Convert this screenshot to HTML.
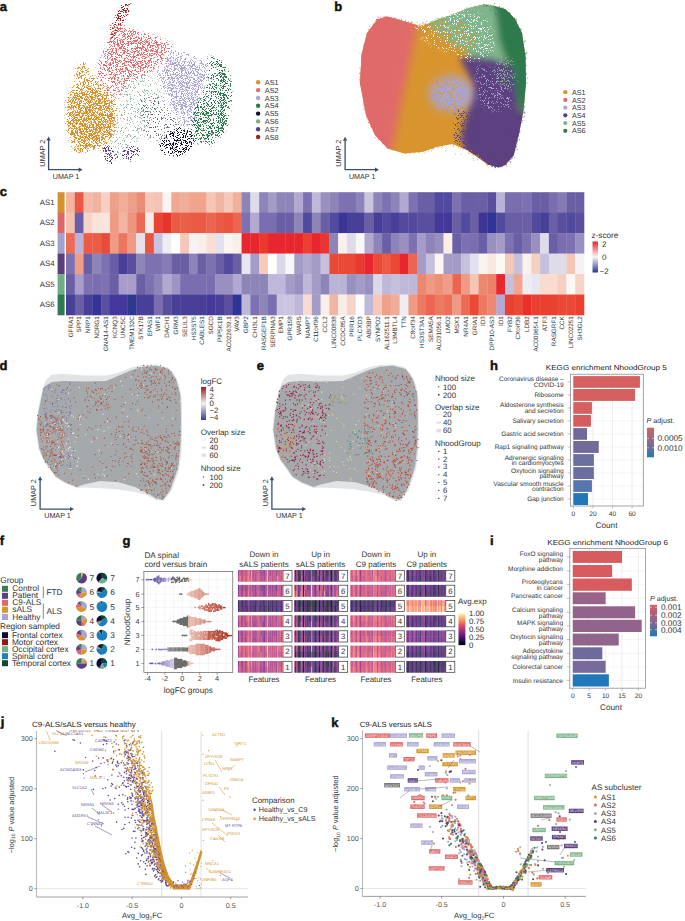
<!DOCTYPE html>
<html><head><meta charset="utf-8"><style>
html,body{margin:0;padding:0;background:#fff;}
body{width:685px;height:921px;overflow:hidden;}
svg{display:block;font-family:"Liberation Sans", sans-serif;text-rendering:geometricPrecision;}
</style></head><body>
<svg width="685" height="921" viewBox="0 0 685 921"><rect x="66.00" y="192.20" width="9.08" height="20.77" fill="#f2b5a2"/><rect x="74.78" y="192.20" width="9.08" height="20.77" fill="#e85a45"/><rect x="83.56" y="192.20" width="9.08" height="20.77" fill="#f3bba8"/><rect x="92.34" y="192.20" width="9.08" height="20.77" fill="#f2b2a0"/><rect x="101.12" y="192.20" width="9.08" height="20.77" fill="#f5d0c3"/><rect x="109.90" y="192.20" width="9.08" height="20.77" fill="#eea08a"/><rect x="118.68" y="192.20" width="9.08" height="20.77" fill="#f0ad98"/><rect x="127.46" y="192.20" width="9.08" height="20.77" fill="#ee9f8a"/><rect x="136.24" y="192.20" width="9.08" height="20.77" fill="#eb8d75"/><rect x="145.02" y="192.20" width="9.08" height="20.77" fill="#f5c7b8"/><rect x="153.80" y="192.20" width="9.08" height="20.77" fill="#f4c3b5"/><rect x="162.58" y="192.20" width="9.08" height="20.77" fill="#faf5f2"/><rect x="171.36" y="192.20" width="9.08" height="20.77" fill="#f0a890"/><rect x="180.14" y="192.20" width="9.08" height="20.77" fill="#f0ad98"/><rect x="188.92" y="192.20" width="9.08" height="20.77" fill="#f0a58e"/><rect x="197.69" y="192.20" width="9.08" height="20.77" fill="#f0a48c"/><rect x="206.47" y="192.20" width="9.08" height="20.77" fill="#f5c5b5"/><rect x="215.25" y="192.20" width="9.08" height="20.77" fill="#f2b5a2"/><rect x="224.03" y="192.20" width="9.08" height="20.77" fill="#f5c8b8"/><rect x="232.81" y="192.20" width="9.08" height="20.77" fill="#f0b09b"/><rect x="241.59" y="192.20" width="9.08" height="20.77" fill="#8d84b8"/><rect x="250.37" y="192.20" width="9.08" height="20.77" fill="#dedbeb"/><rect x="259.15" y="192.20" width="9.08" height="20.77" fill="#8d84b8"/><rect x="267.93" y="192.20" width="9.08" height="20.77" fill="#a49cc6"/><rect x="276.71" y="192.20" width="9.08" height="20.77" fill="#8d84b8"/><rect x="285.49" y="192.20" width="9.08" height="20.77" fill="#8d84b8"/><rect x="294.27" y="192.20" width="9.08" height="20.77" fill="#b2a8d0"/><rect x="303.05" y="192.20" width="9.08" height="20.77" fill="#7e71b2"/><rect x="311.83" y="192.20" width="9.08" height="20.77" fill="#c0b8d8"/><rect x="320.61" y="192.20" width="9.08" height="20.77" fill="#9a90c0"/><rect x="329.39" y="192.20" width="9.08" height="20.77" fill="#8d84b8"/><rect x="338.17" y="192.20" width="9.08" height="20.77" fill="#7e71b2"/><rect x="346.95" y="192.20" width="9.08" height="20.77" fill="#7e71b2"/><rect x="355.73" y="192.20" width="9.08" height="20.77" fill="#8d84b8"/><rect x="364.51" y="192.20" width="9.08" height="20.77" fill="#cac4e0"/><rect x="373.29" y="192.20" width="9.08" height="20.77" fill="#8d84b8"/><rect x="382.07" y="192.20" width="9.08" height="20.77" fill="#7e71b2"/><rect x="390.85" y="192.20" width="9.08" height="20.77" fill="#8d84b8"/><rect x="399.63" y="192.20" width="9.08" height="20.77" fill="#b2a8d0"/><rect x="408.41" y="192.20" width="9.08" height="20.77" fill="#7e71b2"/><rect x="417.19" y="192.20" width="9.08" height="20.77" fill="#6a5fa5"/><rect x="425.97" y="192.20" width="9.08" height="20.77" fill="#6a5fa5"/><rect x="434.75" y="192.20" width="9.08" height="20.77" fill="#524a9e"/><rect x="443.53" y="192.20" width="9.08" height="20.77" fill="#524a9e"/><rect x="452.31" y="192.20" width="9.08" height="20.77" fill="#7e71b2"/><rect x="461.08" y="192.20" width="9.08" height="20.77" fill="#6a5fa5"/><rect x="469.86" y="192.20" width="9.08" height="20.77" fill="#6a5fa5"/><rect x="478.64" y="192.20" width="9.08" height="20.77" fill="#6a5fa5"/><rect x="487.42" y="192.20" width="9.08" height="20.77" fill="#5a4f9e"/><rect x="496.20" y="192.20" width="9.08" height="20.77" fill="#b9b3d6"/><rect x="504.98" y="192.20" width="9.08" height="20.77" fill="#7a6db0"/><rect x="513.76" y="192.20" width="9.08" height="20.77" fill="#7a6db0"/><rect x="522.54" y="192.20" width="9.08" height="20.77" fill="#7e71b2"/><rect x="531.32" y="192.20" width="9.08" height="20.77" fill="#6a5fa5"/><rect x="540.10" y="192.20" width="9.08" height="20.77" fill="#6a5fa5"/><rect x="548.88" y="192.20" width="9.08" height="20.77" fill="#7a6db0"/><rect x="557.66" y="192.20" width="9.08" height="20.77" fill="#857ab5"/><rect x="566.44" y="192.20" width="9.08" height="20.77" fill="#6a5fa5"/><rect x="575.22" y="192.20" width="9.08" height="20.77" fill="#6a5fa5"/><rect x="57.60" y="192.20" width="7.00" height="20.77" fill="#d4922f"/><text x="54.5" y="204.7" font-size="7.8" text-anchor="end" fill="#333">AS1</text><rect x="66.00" y="212.67" width="9.08" height="20.77" fill="#f4c1b0"/><rect x="74.78" y="212.67" width="9.08" height="20.77" fill="#6a5fa5"/><rect x="83.56" y="212.67" width="9.08" height="20.77" fill="#f6d5c8"/><rect x="92.34" y="212.67" width="9.08" height="20.77" fill="#f8e3db"/><rect x="101.12" y="212.67" width="9.08" height="20.77" fill="#f8e6de"/><rect x="109.90" y="212.67" width="9.08" height="20.77" fill="#ee9a85"/><rect x="118.68" y="212.67" width="9.08" height="20.77" fill="#f2b5a2"/><rect x="127.46" y="212.67" width="9.08" height="20.77" fill="#ee9580"/><rect x="136.24" y="212.67" width="9.08" height="20.77" fill="#ea6b55"/><rect x="145.02" y="212.67" width="9.08" height="20.77" fill="#f9ece6"/><rect x="153.80" y="212.67" width="9.08" height="20.77" fill="#e94332"/><rect x="162.58" y="212.67" width="9.08" height="20.77" fill="#e8352b"/><rect x="171.36" y="212.67" width="9.08" height="20.77" fill="#ea5a45"/><rect x="180.14" y="212.67" width="9.08" height="20.77" fill="#ea5f48"/><rect x="188.92" y="212.67" width="9.08" height="20.77" fill="#ea5a45"/><rect x="197.69" y="212.67" width="9.08" height="20.77" fill="#ea5a45"/><rect x="206.47" y="212.67" width="9.08" height="20.77" fill="#eb6550"/><rect x="215.25" y="212.67" width="9.08" height="20.77" fill="#ea5a45"/><rect x="224.03" y="212.67" width="9.08" height="20.77" fill="#ea5540"/><rect x="232.81" y="212.67" width="9.08" height="20.77" fill="#eb6550"/><rect x="241.59" y="212.67" width="9.08" height="20.77" fill="#7e71b2"/><rect x="250.37" y="212.67" width="9.08" height="20.77" fill="#b2a8d0"/><rect x="259.15" y="212.67" width="9.08" height="20.77" fill="#7a6db0"/><rect x="267.93" y="212.67" width="9.08" height="20.77" fill="#7a6db0"/><rect x="276.71" y="212.67" width="9.08" height="20.77" fill="#6a5fa5"/><rect x="285.49" y="212.67" width="9.08" height="20.77" fill="#6a5fa5"/><rect x="294.27" y="212.67" width="9.08" height="20.77" fill="#8d84b8"/><rect x="303.05" y="212.67" width="9.08" height="20.77" fill="#524a9e"/><rect x="311.83" y="212.67" width="9.08" height="20.77" fill="#8d84b8"/><rect x="320.61" y="212.67" width="9.08" height="20.77" fill="#6a5fa5"/><rect x="329.39" y="212.67" width="9.08" height="20.77" fill="#524a9e"/><rect x="338.17" y="212.67" width="9.08" height="20.77" fill="#3c3596"/><rect x="346.95" y="212.67" width="9.08" height="20.77" fill="#473f98"/><rect x="355.73" y="212.67" width="9.08" height="20.77" fill="#473f98"/><rect x="364.51" y="212.67" width="9.08" height="20.77" fill="#6a5fa5"/><rect x="373.29" y="212.67" width="9.08" height="20.77" fill="#473f98"/><rect x="382.07" y="212.67" width="9.08" height="20.77" fill="#524a9e"/><rect x="390.85" y="212.67" width="9.08" height="20.77" fill="#473f98"/><rect x="399.63" y="212.67" width="9.08" height="20.77" fill="#524a9e"/><rect x="408.41" y="212.67" width="9.08" height="20.77" fill="#524a9e"/><rect x="417.19" y="212.67" width="9.08" height="20.77" fill="#5a4f9e"/><rect x="425.97" y="212.67" width="9.08" height="20.77" fill="#5a4f9e"/><rect x="434.75" y="212.67" width="9.08" height="20.77" fill="#42399a"/><rect x="443.53" y="212.67" width="9.08" height="20.77" fill="#42399a"/><rect x="452.31" y="212.67" width="9.08" height="20.77" fill="#6a5fa5"/><rect x="461.08" y="212.67" width="9.08" height="20.77" fill="#524a9e"/><rect x="469.86" y="212.67" width="9.08" height="20.77" fill="#6a5fa5"/><rect x="478.64" y="212.67" width="9.08" height="20.77" fill="#3c3596"/><rect x="487.42" y="212.67" width="9.08" height="20.77" fill="#2d3596"/><rect x="496.20" y="212.67" width="9.08" height="20.77" fill="#524a9e"/><rect x="504.98" y="212.67" width="9.08" height="20.77" fill="#6a5fa5"/><rect x="513.76" y="212.67" width="9.08" height="20.77" fill="#6a5fa5"/><rect x="522.54" y="212.67" width="9.08" height="20.77" fill="#6a5fa5"/><rect x="531.32" y="212.67" width="9.08" height="20.77" fill="#524a9e"/><rect x="540.10" y="212.67" width="9.08" height="20.77" fill="#473f98"/><rect x="548.88" y="212.67" width="9.08" height="20.77" fill="#6a5fa5"/><rect x="557.66" y="212.67" width="9.08" height="20.77" fill="#5a4f9e"/><rect x="566.44" y="212.67" width="9.08" height="20.77" fill="#524a9e"/><rect x="575.22" y="212.67" width="9.08" height="20.77" fill="#5a4f9e"/><rect x="57.60" y="212.67" width="7.00" height="20.77" fill="#e0666a"/><text x="54.5" y="225.2" font-size="7.8" text-anchor="end" fill="#333">AS2</text><rect x="66.00" y="233.13" width="9.08" height="20.77" fill="#ec6b55"/><rect x="74.78" y="233.13" width="9.08" height="20.77" fill="#bcb3d3"/><rect x="83.56" y="233.13" width="9.08" height="20.77" fill="#eb5b45"/><rect x="92.34" y="233.13" width="9.08" height="20.77" fill="#eb5b45"/><rect x="101.12" y="233.13" width="9.08" height="20.77" fill="#ea4b38"/><rect x="109.90" y="233.13" width="9.08" height="20.77" fill="#ee9a85"/><rect x="118.68" y="233.13" width="9.08" height="20.77" fill="#ec7560"/><rect x="127.46" y="233.13" width="9.08" height="20.77" fill="#ee9a85"/><rect x="136.24" y="233.13" width="9.08" height="20.77" fill="#e5e2ee"/><rect x="145.02" y="233.13" width="9.08" height="20.77" fill="#ea5540"/><rect x="153.80" y="233.13" width="9.08" height="20.77" fill="#c8c3df"/><rect x="162.58" y="233.13" width="9.08" height="20.77" fill="#eeedf3"/><rect x="171.36" y="233.13" width="9.08" height="20.77" fill="#ffffff"/><rect x="180.14" y="233.13" width="9.08" height="20.77" fill="#f5c7b8"/><rect x="188.92" y="233.13" width="9.08" height="20.77" fill="#f4f2f5"/><rect x="197.69" y="233.13" width="9.08" height="20.77" fill="#f8eeea"/><rect x="206.47" y="233.13" width="9.08" height="20.77" fill="#f8ded4"/><rect x="215.25" y="233.13" width="9.08" height="20.77" fill="#e3e1ef"/><rect x="224.03" y="233.13" width="9.08" height="20.77" fill="#fbf5f2"/><rect x="232.81" y="233.13" width="9.08" height="20.77" fill="#f9efe9"/><rect x="241.59" y="233.13" width="9.08" height="20.77" fill="#e8262e"/><rect x="250.37" y="233.13" width="9.08" height="20.77" fill="#e8262e"/><rect x="259.15" y="233.13" width="9.08" height="20.77" fill="#ea3a2e"/><rect x="267.93" y="233.13" width="9.08" height="20.77" fill="#e8262e"/><rect x="276.71" y="233.13" width="9.08" height="20.77" fill="#e8262e"/><rect x="285.49" y="233.13" width="9.08" height="20.77" fill="#e8262e"/><rect x="294.27" y="233.13" width="9.08" height="20.77" fill="#e8262e"/><rect x="303.05" y="233.13" width="9.08" height="20.77" fill="#ea4030"/><rect x="311.83" y="233.13" width="9.08" height="20.77" fill="#e8262e"/><rect x="320.61" y="233.13" width="9.08" height="20.77" fill="#ea3530"/><rect x="329.39" y="233.13" width="9.08" height="20.77" fill="#8d84b8"/><rect x="338.17" y="233.13" width="9.08" height="20.77" fill="#fbf1ec"/><rect x="346.95" y="233.13" width="9.08" height="20.77" fill="#dedbeb"/><rect x="355.73" y="233.13" width="9.08" height="20.77" fill="#f8f8f8"/><rect x="364.51" y="233.13" width="9.08" height="20.77" fill="#b2a8d0"/><rect x="373.29" y="233.13" width="9.08" height="20.77" fill="#8d84b8"/><rect x="382.07" y="233.13" width="9.08" height="20.77" fill="#6a5fa5"/><rect x="390.85" y="233.13" width="9.08" height="20.77" fill="#8d84b8"/><rect x="399.63" y="233.13" width="9.08" height="20.77" fill="#9a90c0"/><rect x="408.41" y="233.13" width="9.08" height="20.77" fill="#7e71b2"/><rect x="417.19" y="233.13" width="9.08" height="20.77" fill="#a49cc6"/><rect x="425.97" y="233.13" width="9.08" height="20.77" fill="#8d84b8"/><rect x="434.75" y="233.13" width="9.08" height="20.77" fill="#9a90c0"/><rect x="443.53" y="233.13" width="9.08" height="20.77" fill="#fbeee6"/><rect x="452.31" y="233.13" width="9.08" height="20.77" fill="#6a5fa5"/><rect x="461.08" y="233.13" width="9.08" height="20.77" fill="#7e71b2"/><rect x="469.86" y="233.13" width="9.08" height="20.77" fill="#7a6db0"/><rect x="478.64" y="233.13" width="9.08" height="20.77" fill="#6a5fa5"/><rect x="487.42" y="233.13" width="9.08" height="20.77" fill="#9a90c0"/><rect x="496.20" y="233.13" width="9.08" height="20.77" fill="#a49cc6"/><rect x="504.98" y="233.13" width="9.08" height="20.77" fill="#7e71b2"/><rect x="513.76" y="233.13" width="9.08" height="20.77" fill="#6a5fa5"/><rect x="522.54" y="233.13" width="9.08" height="20.77" fill="#7e71b2"/><rect x="531.32" y="233.13" width="9.08" height="20.77" fill="#9a90c0"/><rect x="540.10" y="233.13" width="9.08" height="20.77" fill="#dedbeb"/><rect x="548.88" y="233.13" width="9.08" height="20.77" fill="#6a5fa5"/><rect x="557.66" y="233.13" width="9.08" height="20.77" fill="#7a6db0"/><rect x="566.44" y="233.13" width="9.08" height="20.77" fill="#7e71b2"/><rect x="575.22" y="233.13" width="9.08" height="20.77" fill="#9a90c0"/><rect x="57.60" y="233.13" width="7.00" height="20.77" fill="#a3a1cf"/><text x="54.5" y="245.7" font-size="7.8" text-anchor="end" fill="#333">AS3</text><rect x="66.00" y="253.60" width="9.08" height="20.77" fill="#7e71b2"/><rect x="74.78" y="253.60" width="9.08" height="20.77" fill="#ee9e88"/><rect x="83.56" y="253.60" width="9.08" height="20.77" fill="#6a5fa5"/><rect x="92.34" y="253.60" width="9.08" height="20.77" fill="#8d84b8"/><rect x="101.12" y="253.60" width="9.08" height="20.77" fill="#7e71b2"/><rect x="109.90" y="253.60" width="9.08" height="20.77" fill="#6a5fa5"/><rect x="118.68" y="253.60" width="9.08" height="20.77" fill="#4a3f98"/><rect x="127.46" y="253.60" width="9.08" height="20.77" fill="#5a4f9e"/><rect x="136.24" y="253.60" width="9.08" height="20.77" fill="#8d86b5"/><rect x="145.02" y="253.60" width="9.08" height="20.77" fill="#7e71b2"/><rect x="153.80" y="253.60" width="9.08" height="20.77" fill="#7e71b2"/><rect x="162.58" y="253.60" width="9.08" height="20.77" fill="#877cb5"/><rect x="171.36" y="253.60" width="9.08" height="20.77" fill="#6a5fa5"/><rect x="180.14" y="253.60" width="9.08" height="20.77" fill="#6a5fa5"/><rect x="188.92" y="253.60" width="9.08" height="20.77" fill="#8d84b8"/><rect x="197.69" y="253.60" width="9.08" height="20.77" fill="#6a5fa5"/><rect x="206.47" y="253.60" width="9.08" height="20.77" fill="#7e71b2"/><rect x="215.25" y="253.60" width="9.08" height="20.77" fill="#6a5fa5"/><rect x="224.03" y="253.60" width="9.08" height="20.77" fill="#524a9e"/><rect x="232.81" y="253.60" width="9.08" height="20.77" fill="#6a5fa5"/><rect x="241.59" y="253.60" width="9.08" height="20.77" fill="#e8e6f0"/><rect x="250.37" y="253.60" width="9.08" height="20.77" fill="#a49cc6"/><rect x="259.15" y="253.60" width="9.08" height="20.77" fill="#f5cbbb"/><rect x="267.93" y="253.60" width="9.08" height="20.77" fill="#ffffff"/><rect x="276.71" y="253.60" width="9.08" height="20.77" fill="#dcd8ea"/><rect x="285.49" y="253.60" width="9.08" height="20.77" fill="#f8f8f8"/><rect x="294.27" y="253.60" width="9.08" height="20.77" fill="#a49cc6"/><rect x="303.05" y="253.60" width="9.08" height="20.77" fill="#b2a8d0"/><rect x="311.83" y="253.60" width="9.08" height="20.77" fill="#a49cc6"/><rect x="320.61" y="253.60" width="9.08" height="20.77" fill="#c5c0dc"/><rect x="329.39" y="253.60" width="9.08" height="20.77" fill="#ea4a35"/><rect x="338.17" y="253.60" width="9.08" height="20.77" fill="#ea4a35"/><rect x="346.95" y="253.60" width="9.08" height="20.77" fill="#ea4a35"/><rect x="355.73" y="253.60" width="9.08" height="20.77" fill="#ea3a30"/><rect x="364.51" y="253.60" width="9.08" height="20.77" fill="#e8262e"/><rect x="373.29" y="253.60" width="9.08" height="20.77" fill="#ea4a35"/><rect x="382.07" y="253.60" width="9.08" height="20.77" fill="#eb5a45"/><rect x="390.85" y="253.60" width="9.08" height="20.77" fill="#ea4a35"/><rect x="399.63" y="253.60" width="9.08" height="20.77" fill="#e8262e"/><rect x="408.41" y="253.60" width="9.08" height="20.77" fill="#eb6550"/><rect x="417.19" y="253.60" width="9.08" height="20.77" fill="#a49cc6"/><rect x="425.97" y="253.60" width="9.08" height="20.77" fill="#c5c0dc"/><rect x="434.75" y="253.60" width="9.08" height="20.77" fill="#fcf5f2"/><rect x="443.53" y="253.60" width="9.08" height="20.77" fill="#a49cc6"/><rect x="452.31" y="253.60" width="9.08" height="20.77" fill="#a49cc6"/><rect x="461.08" y="253.60" width="9.08" height="20.77" fill="#c5c0dc"/><rect x="469.86" y="253.60" width="9.08" height="20.77" fill="#e3e1ef"/><rect x="478.64" y="253.60" width="9.08" height="20.77" fill="#fbf3ef"/><rect x="487.42" y="253.60" width="9.08" height="20.77" fill="#f9e8e2"/><rect x="496.20" y="253.60" width="9.08" height="20.77" fill="#fbf8f6"/><rect x="504.98" y="253.60" width="9.08" height="20.77" fill="#f5c8b8"/><rect x="513.76" y="253.60" width="9.08" height="20.77" fill="#c5c0dc"/><rect x="522.54" y="253.60" width="9.08" height="20.77" fill="#fbf1ec"/><rect x="531.32" y="253.60" width="9.08" height="20.77" fill="#f5d0c3"/><rect x="540.10" y="253.60" width="9.08" height="20.77" fill="#c5c0dc"/><rect x="548.88" y="253.60" width="9.08" height="20.77" fill="#dedbeb"/><rect x="557.66" y="253.60" width="9.08" height="20.77" fill="#dedbeb"/><rect x="566.44" y="253.60" width="9.08" height="20.77" fill="#f5c5b5"/><rect x="575.22" y="253.60" width="9.08" height="20.77" fill="#f4f2f5"/><rect x="57.60" y="253.60" width="7.00" height="20.77" fill="#5a3d7a"/><text x="54.5" y="266.1" font-size="7.8" text-anchor="end" fill="#333">AS4</text><rect x="66.00" y="274.07" width="9.08" height="20.77" fill="#6a5fa5"/><rect x="74.78" y="274.07" width="9.08" height="20.77" fill="#a79dc8"/><rect x="83.56" y="274.07" width="9.08" height="20.77" fill="#7e71b2"/><rect x="92.34" y="274.07" width="9.08" height="20.77" fill="#7a6db0"/><rect x="101.12" y="274.07" width="9.08" height="20.77" fill="#7e71b2"/><rect x="109.90" y="274.07" width="9.08" height="20.77" fill="#6a5fa5"/><rect x="118.68" y="274.07" width="9.08" height="20.77" fill="#a79dc8"/><rect x="127.46" y="274.07" width="9.08" height="20.77" fill="#a79dc8"/><rect x="136.24" y="274.07" width="9.08" height="20.77" fill="#6a5fa5"/><rect x="145.02" y="274.07" width="9.08" height="20.77" fill="#7e71b2"/><rect x="153.80" y="274.07" width="9.08" height="20.77" fill="#8d84b8"/><rect x="162.58" y="274.07" width="9.08" height="20.77" fill="#b2a8d0"/><rect x="171.36" y="274.07" width="9.08" height="20.77" fill="#9e95c2"/><rect x="180.14" y="274.07" width="9.08" height="20.77" fill="#7a6db0"/><rect x="188.92" y="274.07" width="9.08" height="20.77" fill="#7a6db0"/><rect x="197.69" y="274.07" width="9.08" height="20.77" fill="#7a6db0"/><rect x="206.47" y="274.07" width="9.08" height="20.77" fill="#7a6db0"/><rect x="215.25" y="274.07" width="9.08" height="20.77" fill="#9a90c0"/><rect x="224.03" y="274.07" width="9.08" height="20.77" fill="#9a90c0"/><rect x="232.81" y="274.07" width="9.08" height="20.77" fill="#b2a8d0"/><rect x="241.59" y="274.07" width="9.08" height="20.77" fill="#8d84b8"/><rect x="250.37" y="274.07" width="9.08" height="20.77" fill="#8d84b8"/><rect x="259.15" y="274.07" width="9.08" height="20.77" fill="#8d84b8"/><rect x="267.93" y="274.07" width="9.08" height="20.77" fill="#c0b8d8"/><rect x="276.71" y="274.07" width="9.08" height="20.77" fill="#c0b8d8"/><rect x="285.49" y="274.07" width="9.08" height="20.77" fill="#a49cc6"/><rect x="294.27" y="274.07" width="9.08" height="20.77" fill="#9a90c0"/><rect x="303.05" y="274.07" width="9.08" height="20.77" fill="#c0b8d8"/><rect x="311.83" y="274.07" width="9.08" height="20.77" fill="#a49cc6"/><rect x="320.61" y="274.07" width="9.08" height="20.77" fill="#8d84b8"/><rect x="329.39" y="274.07" width="9.08" height="20.77" fill="#b9b3d6"/><rect x="338.17" y="274.07" width="9.08" height="20.77" fill="#b9b3d6"/><rect x="346.95" y="274.07" width="9.08" height="20.77" fill="#9a90c0"/><rect x="355.73" y="274.07" width="9.08" height="20.77" fill="#a49cc6"/><rect x="364.51" y="274.07" width="9.08" height="20.77" fill="#9a90c0"/><rect x="373.29" y="274.07" width="9.08" height="20.77" fill="#dcd8ea"/><rect x="382.07" y="274.07" width="9.08" height="20.77" fill="#c0b8d8"/><rect x="390.85" y="274.07" width="9.08" height="20.77" fill="#c5c0dc"/><rect x="399.63" y="274.07" width="9.08" height="20.77" fill="#c0b8d8"/><rect x="408.41" y="274.07" width="9.08" height="20.77" fill="#c0b8d8"/><rect x="417.19" y="274.07" width="9.08" height="20.77" fill="#ec8870"/><rect x="425.97" y="274.07" width="9.08" height="20.77" fill="#ee9a85"/><rect x="434.75" y="274.07" width="9.08" height="20.77" fill="#ec9078"/><rect x="443.53" y="274.07" width="9.08" height="20.77" fill="#ee9e88"/><rect x="452.31" y="274.07" width="9.08" height="20.77" fill="#eb6550"/><rect x="461.08" y="274.07" width="9.08" height="20.77" fill="#ef9a85"/><rect x="469.86" y="274.07" width="9.08" height="20.77" fill="#f5c5b5"/><rect x="478.64" y="274.07" width="9.08" height="20.77" fill="#ec8870"/><rect x="487.42" y="274.07" width="9.08" height="20.77" fill="#ec8068"/><rect x="496.20" y="274.07" width="9.08" height="20.77" fill="#e8262e"/><rect x="504.98" y="274.07" width="9.08" height="20.77" fill="#c5c0dc"/><rect x="513.76" y="274.07" width="9.08" height="20.77" fill="#efa590"/><rect x="522.54" y="274.07" width="9.08" height="20.77" fill="#eeedf3"/><rect x="531.32" y="274.07" width="9.08" height="20.77" fill="#e8e6f0"/><rect x="540.10" y="274.07" width="9.08" height="20.77" fill="#f8dcd0"/><rect x="548.88" y="274.07" width="9.08" height="20.77" fill="#f8dcd0"/><rect x="557.66" y="274.07" width="9.08" height="20.77" fill="#f5cfc2"/><rect x="566.44" y="274.07" width="9.08" height="20.77" fill="#fbf8f6"/><rect x="575.22" y="274.07" width="9.08" height="20.77" fill="#f5d5c8"/><rect x="57.60" y="274.07" width="7.00" height="20.77" fill="#6fae82"/><text x="54.5" y="286.6" font-size="7.8" text-anchor="end" fill="#333">AS5</text><rect x="66.00" y="294.53" width="9.08" height="20.77" fill="#473f98"/><rect x="74.78" y="294.53" width="9.08" height="20.77" fill="#6a5fa5"/><rect x="83.56" y="294.53" width="9.08" height="20.77" fill="#473f98"/><rect x="92.34" y="294.53" width="9.08" height="20.77" fill="#323596"/><rect x="101.12" y="294.53" width="9.08" height="20.77" fill="#5a4f9e"/><rect x="109.90" y="294.53" width="9.08" height="20.77" fill="#42399a"/><rect x="118.68" y="294.53" width="9.08" height="20.77" fill="#42399a"/><rect x="127.46" y="294.53" width="9.08" height="20.77" fill="#2d3a8c"/><rect x="136.24" y="294.53" width="9.08" height="20.77" fill="#473f98"/><rect x="145.02" y="294.53" width="9.08" height="20.77" fill="#473f98"/><rect x="153.80" y="294.53" width="9.08" height="20.77" fill="#7a6db0"/><rect x="162.58" y="294.53" width="9.08" height="20.77" fill="#5a4f9e"/><rect x="171.36" y="294.53" width="9.08" height="20.77" fill="#4a3f98"/><rect x="180.14" y="294.53" width="9.08" height="20.77" fill="#4a3f98"/><rect x="188.92" y="294.53" width="9.08" height="20.77" fill="#4a3f98"/><rect x="197.69" y="294.53" width="9.08" height="20.77" fill="#4a3f98"/><rect x="206.47" y="294.53" width="9.08" height="20.77" fill="#42399a"/><rect x="215.25" y="294.53" width="9.08" height="20.77" fill="#473f98"/><rect x="224.03" y="294.53" width="9.08" height="20.77" fill="#5a4f9e"/><rect x="232.81" y="294.53" width="9.08" height="20.77" fill="#2d3596"/><rect x="241.59" y="294.53" width="9.08" height="20.77" fill="#c0b8d8"/><rect x="250.37" y="294.53" width="9.08" height="20.77" fill="#7e71b2"/><rect x="259.15" y="294.53" width="9.08" height="20.77" fill="#8d84b8"/><rect x="267.93" y="294.53" width="9.08" height="20.77" fill="#7a6db0"/><rect x="276.71" y="294.53" width="9.08" height="20.77" fill="#cac4e0"/><rect x="285.49" y="294.53" width="9.08" height="20.77" fill="#cac4e0"/><rect x="294.27" y="294.53" width="9.08" height="20.77" fill="#c0b8d8"/><rect x="303.05" y="294.53" width="9.08" height="20.77" fill="#f8dcd0"/><rect x="311.83" y="294.53" width="9.08" height="20.77" fill="#a49cc6"/><rect x="320.61" y="294.53" width="9.08" height="20.77" fill="#faeee8"/><rect x="329.39" y="294.53" width="9.08" height="20.77" fill="#f2b5a2"/><rect x="338.17" y="294.53" width="9.08" height="20.77" fill="#f9ece6"/><rect x="346.95" y="294.53" width="9.08" height="20.77" fill="#f5d5c8"/><rect x="355.73" y="294.53" width="9.08" height="20.77" fill="#fefefe"/><rect x="364.51" y="294.53" width="9.08" height="20.77" fill="#c0b8d8"/><rect x="373.29" y="294.53" width="9.08" height="20.77" fill="#f5c8b8"/><rect x="382.07" y="294.53" width="9.08" height="20.77" fill="#efa08a"/><rect x="390.85" y="294.53" width="9.08" height="20.77" fill="#f0ad98"/><rect x="399.63" y="294.53" width="9.08" height="20.77" fill="#eeedf3"/><rect x="408.41" y="294.53" width="9.08" height="20.77" fill="#ee9a85"/><rect x="417.19" y="294.53" width="9.08" height="20.77" fill="#ec7a62"/><rect x="425.97" y="294.53" width="9.08" height="20.77" fill="#eb6550"/><rect x="434.75" y="294.53" width="9.08" height="20.77" fill="#ec7a62"/><rect x="443.53" y="294.53" width="9.08" height="20.77" fill="#ec7058"/><rect x="452.31" y="294.53" width="9.08" height="20.77" fill="#ef9a85"/><rect x="461.08" y="294.53" width="9.08" height="20.77" fill="#ec6b55"/><rect x="469.86" y="294.53" width="9.08" height="20.77" fill="#ea4a35"/><rect x="478.64" y="294.53" width="9.08" height="20.77" fill="#ec7a62"/><rect x="487.42" y="294.53" width="9.08" height="20.77" fill="#ee8870"/><rect x="496.20" y="294.53" width="9.08" height="20.77" fill="#b2a8d0"/><rect x="504.98" y="294.53" width="9.08" height="20.77" fill="#ea4030"/><rect x="513.76" y="294.53" width="9.08" height="20.77" fill="#ea4a35"/><rect x="522.54" y="294.53" width="9.08" height="20.77" fill="#e8302b"/><rect x="531.32" y="294.53" width="9.08" height="20.77" fill="#ea4030"/><rect x="540.10" y="294.53" width="9.08" height="20.77" fill="#ea4030"/><rect x="548.88" y="294.53" width="9.08" height="20.77" fill="#ea4030"/><rect x="557.66" y="294.53" width="9.08" height="20.77" fill="#ea4a35"/><rect x="566.44" y="294.53" width="9.08" height="20.77" fill="#ea4a35"/><rect x="575.22" y="294.53" width="9.08" height="20.77" fill="#ea4030"/><rect x="57.60" y="294.53" width="7.00" height="20.77" fill="#2e7a4f"/><text x="54.5" y="307.1" font-size="7.8" text-anchor="end" fill="#333">AS6</text><text x="72.7" y="316.2" font-size="6.35" text-anchor="end" fill="#333" transform="rotate(-90 72.7 316.2)">GFRA1</text><text x="81.5" y="316.2" font-size="6.35" text-anchor="end" fill="#333" transform="rotate(-90 81.5 316.2)">SPP1</text><text x="90.2" y="316.2" font-size="6.35" text-anchor="end" fill="#333" transform="rotate(-90 90.2 316.2)">NRP1</text><text x="99.0" y="316.2" font-size="6.35" text-anchor="end" fill="#333" transform="rotate(-90 99.0 316.2)">NDRG1</text><text x="107.8" y="316.2" font-size="6.35" text-anchor="end" fill="#333" transform="rotate(-90 107.8 316.2)">GNA14-AS1</text><text x="116.6" y="316.2" font-size="6.35" text-anchor="end" fill="#333" transform="rotate(-90 116.6 316.2)">KCNQ3</text><text x="125.4" y="316.2" font-size="6.35" text-anchor="end" fill="#333" transform="rotate(-90 125.4 316.2)">UNC5C</text><text x="134.1" y="316.2" font-size="6.35" text-anchor="end" fill="#333" transform="rotate(-90 134.1 316.2)">TMEM132C</text><text x="142.9" y="316.2" font-size="6.35" text-anchor="end" fill="#333" transform="rotate(-90 142.9 316.2)">STK17B</text><text x="151.7" y="316.2" font-size="6.35" text-anchor="end" fill="#333" transform="rotate(-90 151.7 316.2)">EPAS1</text><text x="160.5" y="316.2" font-size="6.35" text-anchor="end" fill="#333" transform="rotate(-90 160.5 316.2)">WIF1</text><text x="169.3" y="316.2" font-size="6.35" text-anchor="end" fill="#333" transform="rotate(-90 169.3 316.2)">DACH1</text><text x="178.0" y="316.2" font-size="6.35" text-anchor="end" fill="#333" transform="rotate(-90 178.0 316.2)">GRM3</text><text x="186.8" y="316.2" font-size="6.35" text-anchor="end" fill="#333" transform="rotate(-90 186.8 316.2)">SELIL3</text><text x="195.6" y="316.2" font-size="6.35" text-anchor="end" fill="#333" transform="rotate(-90 195.6 316.2)">HS3ST5</text><text x="204.4" y="316.2" font-size="6.35" text-anchor="end" fill="#333" transform="rotate(-90 204.4 316.2)">CABLES1</text><text x="213.2" y="316.2" font-size="6.35" text-anchor="end" fill="#333" transform="rotate(-90 213.2 316.2)">SGCD</text><text x="221.9" y="316.2" font-size="6.35" text-anchor="end" fill="#333" transform="rotate(-90 221.9 316.2)">PIP5K1B</text><text x="230.7" y="316.2" font-size="6.35" text-anchor="end" fill="#333" transform="rotate(-90 230.7 316.2)">AC022639.1</text><text x="239.5" y="316.2" font-size="6.35" text-anchor="end" fill="#333" transform="rotate(-90 239.5 316.2)">VAV3</text><text x="248.3" y="316.2" font-size="6.35" text-anchor="end" fill="#333" transform="rotate(-90 248.3 316.2)">GBP2</text><text x="257.1" y="316.2" font-size="6.35" text-anchor="end" fill="#333" transform="rotate(-90 257.1 316.2)">CHI3L1</text><text x="265.8" y="316.2" font-size="6.35" text-anchor="end" fill="#333" transform="rotate(-90 265.8 316.2)">RASGEF1B</text><text x="274.6" y="316.2" font-size="6.35" text-anchor="end" fill="#333" transform="rotate(-90 274.6 316.2)">SERPINA3</text><text x="283.4" y="316.2" font-size="6.35" text-anchor="end" fill="#333" transform="rotate(-90 283.4 316.2)">EMP1</text><text x="292.2" y="316.2" font-size="6.35" text-anchor="end" fill="#333" transform="rotate(-90 292.2 316.2)">GPR158</text><text x="301.0" y="316.2" font-size="6.35" text-anchor="end" fill="#333" transform="rotate(-90 301.0 316.2)">WARS</text><text x="309.7" y="316.2" font-size="6.35" text-anchor="end" fill="#333" transform="rotate(-90 309.7 316.2)">NAMPT</text><text x="318.5" y="316.2" font-size="6.35" text-anchor="end" fill="#333" transform="rotate(-90 318.5 316.2)">C11orf96</text><text x="327.3" y="316.2" font-size="6.35" text-anchor="end" fill="#333" transform="rotate(-90 327.3 316.2)">CCL2</text><text x="336.1" y="316.2" font-size="6.35" text-anchor="end" fill="#333" transform="rotate(-90 336.1 316.2)">LINC00838</text><text x="344.9" y="316.2" font-size="6.35" text-anchor="end" fill="#333" transform="rotate(-90 344.9 316.2)">CCDC85A</text><text x="353.6" y="316.2" font-size="6.35" text-anchor="end" fill="#333" transform="rotate(-90 353.6 316.2)">PRR16</text><text x="362.4" y="316.2" font-size="6.35" text-anchor="end" fill="#333" transform="rotate(-90 362.4 316.2)">PLCXD3</text><text x="371.2" y="316.2" font-size="6.35" text-anchor="end" fill="#333" transform="rotate(-90 371.2 316.2)">ABI3BP</text><text x="380.0" y="316.2" font-size="6.35" text-anchor="end" fill="#333" transform="rotate(-90 380.0 316.2)">SYNPO2</text><text x="388.8" y="316.2" font-size="6.35" text-anchor="end" fill="#333" transform="rotate(-90 388.8 316.2)">AL162511.1</text><text x="397.5" y="316.2" font-size="6.35" text-anchor="end" fill="#333" transform="rotate(-90 397.5 316.2)">L3MBTL4</text><text x="406.3" y="316.2" font-size="6.35" text-anchor="end" fill="#333" transform="rotate(-90 406.3 316.2)">TTN</text><text x="415.1" y="316.2" font-size="6.35" text-anchor="end" fill="#333" transform="rotate(-90 415.1 316.2)">C8orf34</text><text x="423.9" y="316.2" font-size="6.35" text-anchor="end" fill="#333" transform="rotate(-90 423.9 316.2)">HS3ST3A1</text><text x="432.7" y="316.2" font-size="6.35" text-anchor="end" fill="#333" transform="rotate(-90 432.7 316.2)">SEMA5A</text><text x="441.4" y="316.2" font-size="6.35" text-anchor="end" fill="#333" transform="rotate(-90 441.4 316.2)">AL031056.1</text><text x="450.2" y="316.2" font-size="6.35" text-anchor="end" fill="#333" transform="rotate(-90 450.2 316.2)">LMO2</text><text x="459.0" y="316.2" font-size="6.35" text-anchor="end" fill="#333" transform="rotate(-90 459.0 316.2)">MSX1</text><text x="467.8" y="316.2" font-size="6.35" text-anchor="end" fill="#333" transform="rotate(-90 467.8 316.2)">NR4A1</text><text x="476.6" y="316.2" font-size="6.35" text-anchor="end" fill="#333" transform="rotate(-90 476.6 316.2)">GRIA1</text><text x="485.3" y="316.2" font-size="6.35" text-anchor="end" fill="#333" transform="rotate(-90 485.3 316.2)">ID3</text><text x="494.1" y="316.2" font-size="6.35" text-anchor="end" fill="#333" transform="rotate(-90 494.1 316.2)">DPP10-AS3</text><text x="502.9" y="316.2" font-size="6.35" text-anchor="end" fill="#333" transform="rotate(-90 502.9 316.2)">ID1</text><text x="511.7" y="316.2" font-size="6.35" text-anchor="end" fill="#333" transform="rotate(-90 511.7 316.2)">FYB2</text><text x="520.5" y="316.2" font-size="6.35" text-anchor="end" fill="#333" transform="rotate(-90 520.5 316.2)">CXorf36</text><text x="529.2" y="316.2" font-size="6.35" text-anchor="end" fill="#333" transform="rotate(-90 529.2 316.2)">LDB2</text><text x="538.0" y="316.2" font-size="6.35" text-anchor="end" fill="#333" transform="rotate(-90 538.0 316.2)">AC009654.1</text><text x="546.8" y="316.2" font-size="6.35" text-anchor="end" fill="#333" transform="rotate(-90 546.8 316.2)">ATF3</text><text x="555.6" y="316.2" font-size="6.35" text-anchor="end" fill="#333" transform="rotate(-90 555.6 316.2)">RASGRF1</text><text x="564.4" y="316.2" font-size="6.35" text-anchor="end" fill="#333" transform="rotate(-90 564.4 316.2)">CCK</text><text x="573.1" y="316.2" font-size="6.35" text-anchor="end" fill="#333" transform="rotate(-90 573.1 316.2)">LINC02251</text><text x="581.9" y="316.2" font-size="6.35" text-anchor="end" fill="#333" transform="rotate(-90 581.9 316.2)">SH3GL2</text><text x="591.5" y="238.0" font-size="8.2" text-anchor="start" fill="#333">z-score</text><defs><linearGradient id="zg" x1="0" y1="0" x2="0" y2="1"><stop offset="0" stop-color="#e8262e"/><stop offset="0.5" stop-color="#f7f5f7"/><stop offset="1" stop-color="#2d3596"/></linearGradient></defs><rect x="592.50" y="241.50" width="5.50" height="31.00" fill="url(#zg)"/><text x="602.0" y="247.0" font-size="8.0" text-anchor="start" fill="#333">2</text><text x="602.0" y="260.0" font-size="8.0" text-anchor="start" fill="#333">0</text><text x="599.5" y="273.5" font-size="8.0" text-anchor="start" fill="#333">−2</text><rect x="570.50" y="374.20" width="72.80" height="131.80" fill="#ffffff"/><line x1="573.30" y1="374.20" x2="573.30" y2="506.00" stroke="#f2f2f2" stroke-width="0.5"/><line x1="583.10" y1="374.20" x2="583.10" y2="506.00" stroke="#f2f2f2" stroke-width="0.5"/><line x1="592.90" y1="374.20" x2="592.90" y2="506.00" stroke="#f2f2f2" stroke-width="0.5"/><line x1="602.70" y1="374.20" x2="602.70" y2="506.00" stroke="#f2f2f2" stroke-width="0.5"/><line x1="612.50" y1="374.20" x2="612.50" y2="506.00" stroke="#f2f2f2" stroke-width="0.5"/><line x1="622.30" y1="374.20" x2="622.30" y2="506.00" stroke="#f2f2f2" stroke-width="0.5"/><line x1="632.10" y1="374.20" x2="632.10" y2="506.00" stroke="#f2f2f2" stroke-width="0.5"/><line x1="641.90" y1="374.20" x2="641.90" y2="506.00" stroke="#f2f2f2" stroke-width="0.5"/><line x1="573.30" y1="374.20" x2="573.30" y2="506.00" stroke="#e6e6e6" stroke-width="0.6"/><line x1="592.90" y1="374.20" x2="592.90" y2="506.00" stroke="#e6e6e6" stroke-width="0.6"/><line x1="612.50" y1="374.20" x2="612.50" y2="506.00" stroke="#e6e6e6" stroke-width="0.6"/><line x1="632.10" y1="374.20" x2="632.10" y2="506.00" stroke="#e6e6e6" stroke-width="0.6"/><line x1="570.50" y1="381.95" x2="643.30" y2="381.95" stroke="#ececec" stroke-width="0.6"/><line x1="570.50" y1="394.95" x2="643.30" y2="394.95" stroke="#ececec" stroke-width="0.6"/><line x1="570.50" y1="407.95" x2="643.30" y2="407.95" stroke="#ececec" stroke-width="0.6"/><line x1="570.50" y1="420.85" x2="643.30" y2="420.85" stroke="#ececec" stroke-width="0.6"/><line x1="570.50" y1="433.95" x2="643.30" y2="433.95" stroke="#ececec" stroke-width="0.6"/><line x1="570.50" y1="446.95" x2="643.30" y2="446.95" stroke="#ececec" stroke-width="0.6"/><line x1="570.50" y1="460.00" x2="643.30" y2="460.00" stroke="#ececec" stroke-width="0.6"/><line x1="570.50" y1="473.05" x2="643.30" y2="473.05" stroke="#ececec" stroke-width="0.6"/><line x1="570.50" y1="486.05" x2="643.30" y2="486.05" stroke="#ececec" stroke-width="0.6"/><line x1="570.50" y1="499.05" x2="643.30" y2="499.05" stroke="#ececec" stroke-width="0.6"/><rect x="573.30" y="376.10" width="66.64" height="11.70" fill="#d6605f"/><line x1="567.50" y1="381.95" x2="570.50" y2="381.95" stroke="#999" stroke-width="0.6"/><text x="563.7" y="381.2" font-size="6.5" text-anchor="end" fill="#333">Coronavirus disease –</text><text x="563.7" y="386.9" font-size="6.5" text-anchor="end" fill="#333">COVID-19</text><rect x="573.30" y="389.00" width="61.74" height="11.90" fill="#d6605f"/><line x1="567.50" y1="394.95" x2="570.50" y2="394.95" stroke="#999" stroke-width="0.6"/><text x="563.7" y="397.1" font-size="6.5" text-anchor="end" fill="#333">Ribosome</text><rect x="573.30" y="402.10" width="18.62" height="11.70" fill="#d6605f"/><line x1="567.50" y1="407.95" x2="570.50" y2="407.95" stroke="#999" stroke-width="0.6"/><text x="563.7" y="407.0" font-size="6.5" text-anchor="end" fill="#333">Aldosterone synthesis</text><text x="563.7" y="413.0" font-size="6.5" text-anchor="end" fill="#333">and secretion</text><rect x="573.30" y="415.00" width="17.64" height="11.70" fill="#d45d5f"/><line x1="567.50" y1="420.85" x2="570.50" y2="420.85" stroke="#999" stroke-width="0.6"/><text x="563.7" y="423.2" font-size="6.5" text-anchor="end" fill="#333">Salivary secretion</text><rect x="573.30" y="428.10" width="13.72" height="11.70" fill="#6f6a9a"/><line x1="567.50" y1="433.95" x2="570.50" y2="433.95" stroke="#999" stroke-width="0.6"/><text x="563.7" y="436.2" font-size="6.5" text-anchor="end" fill="#333">Gastric acid secretion</text><rect x="573.30" y="441.00" width="25.48" height="11.90" fill="#726b99"/><line x1="567.50" y1="446.95" x2="570.50" y2="446.95" stroke="#999" stroke-width="0.6"/><text x="563.7" y="449.3" font-size="6.5" text-anchor="end" fill="#333">Rap1 signaling pathway</text><rect x="573.30" y="454.10" width="20.58" height="11.80" fill="#6a6f9f"/><line x1="567.50" y1="460.00" x2="570.50" y2="460.00" stroke="#999" stroke-width="0.6"/><text x="563.7" y="459.5" font-size="6.5" text-anchor="end" fill="#333">Adrenergic signaling</text><text x="563.7" y="465.3" font-size="6.5" text-anchor="end" fill="#333">in cardiomyocytes</text><rect x="573.30" y="467.10" width="20.58" height="11.90" fill="#6a6f9f"/><line x1="567.50" y1="473.05" x2="570.50" y2="473.05" stroke="#999" stroke-width="0.6"/><text x="563.7" y="472.6" font-size="6.5" text-anchor="end" fill="#333">Oxytocin signaling</text><text x="563.7" y="478.4" font-size="6.5" text-anchor="end" fill="#333">pathway</text><rect x="573.30" y="480.20" width="18.62" height="11.70" fill="#5677ab"/><line x1="567.50" y1="486.05" x2="570.50" y2="486.05" stroke="#999" stroke-width="0.6"/><text x="563.7" y="485.6" font-size="6.5" text-anchor="end" fill="#333">Vascular smooth muscle</text><text x="563.7" y="491.4" font-size="6.5" text-anchor="end" fill="#333">contraction</text><rect x="573.30" y="493.10" width="14.70" height="11.90" fill="#2178b8"/><line x1="567.50" y1="499.05" x2="570.50" y2="499.05" stroke="#999" stroke-width="0.6"/><text x="563.7" y="501.3" font-size="6.5" text-anchor="end" fill="#333">Gap junction</text><rect x="570.50" y="374.20" width="72.80" height="131.80" fill="none" stroke="#888" stroke-width="0.75"/><line x1="573.30" y1="506.00" x2="573.30" y2="508.50" stroke="#999" stroke-width="0.6"/><text x="573.3" y="516.2" font-size="6.6" text-anchor="middle" fill="#333">0</text><line x1="592.90" y1="506.00" x2="592.90" y2="508.50" stroke="#999" stroke-width="0.6"/><text x="592.9" y="516.2" font-size="6.6" text-anchor="middle" fill="#333">20</text><line x1="612.50" y1="506.00" x2="612.50" y2="508.50" stroke="#999" stroke-width="0.6"/><text x="612.5" y="516.2" font-size="6.6" text-anchor="middle" fill="#333">40</text><line x1="632.10" y1="506.00" x2="632.10" y2="508.50" stroke="#999" stroke-width="0.6"/><text x="632.1" y="516.2" font-size="6.6" text-anchor="middle" fill="#333">60</text><text x="545.8" y="370.0" font-size="7.2" fill="#222" textLength="121" lengthAdjust="spacingAndGlyphs">KEGG enrichment NhoodGroup 5</text><text x="606.5" y="528.4" font-size="8.2" text-anchor="middle" fill="#333">Count</text><defs><linearGradient id="pg1" x1="0" y1="0" x2="0" y2="1"><stop offset="0" stop-color="#d6605f"/><stop offset="0.5" stop-color="#8a6890"/><stop offset="1" stop-color="#2178b8"/></linearGradient></defs><text x="646.5" y="423.2" font-size="7.2" fill="#333"><tspan font-style="italic">P</tspan> adjust.</text><rect x="647.00" y="427.70" width="7.00" height="29.60" fill="url(#pg1)"/><line x1="647.00" y1="438.30" x2="649.00" y2="438.30" stroke="#fff" stroke-width="0.5"/><line x1="652.00" y1="438.30" x2="654.00" y2="438.30" stroke="#fff" stroke-width="0.5"/><line x1="647.00" y1="447.80" x2="649.00" y2="447.80" stroke="#fff" stroke-width="0.5"/><line x1="652.00" y1="447.80" x2="654.00" y2="447.80" stroke="#fff" stroke-width="0.5"/><text x="657.5" y="440.9" font-size="8.2" text-anchor="start" fill="#333">0.0005</text><text x="657.5" y="450.6" font-size="8.2" text-anchor="start" fill="#333">0.0010</text><rect x="569.80" y="548.60" width="75.80" height="139.60" fill="#ffffff"/><line x1="572.80" y1="548.60" x2="572.80" y2="688.20" stroke="#f2f2f2" stroke-width="0.5"/><line x1="581.00" y1="548.60" x2="581.00" y2="688.20" stroke="#f2f2f2" stroke-width="0.5"/><line x1="589.20" y1="548.60" x2="589.20" y2="688.20" stroke="#f2f2f2" stroke-width="0.5"/><line x1="597.40" y1="548.60" x2="597.40" y2="688.20" stroke="#f2f2f2" stroke-width="0.5"/><line x1="605.60" y1="548.60" x2="605.60" y2="688.20" stroke="#f2f2f2" stroke-width="0.5"/><line x1="613.80" y1="548.60" x2="613.80" y2="688.20" stroke="#f2f2f2" stroke-width="0.5"/><line x1="622.00" y1="548.60" x2="622.00" y2="688.20" stroke="#f2f2f2" stroke-width="0.5"/><line x1="630.20" y1="548.60" x2="630.20" y2="688.20" stroke="#f2f2f2" stroke-width="0.5"/><line x1="638.40" y1="548.60" x2="638.40" y2="688.20" stroke="#f2f2f2" stroke-width="0.5"/><line x1="572.80" y1="548.60" x2="572.80" y2="688.20" stroke="#e6e6e6" stroke-width="0.6"/><line x1="589.20" y1="548.60" x2="589.20" y2="688.20" stroke="#e6e6e6" stroke-width="0.6"/><line x1="605.60" y1="548.60" x2="605.60" y2="688.20" stroke="#e6e6e6" stroke-width="0.6"/><line x1="622.00" y1="548.60" x2="622.00" y2="688.20" stroke="#e6e6e6" stroke-width="0.6"/><line x1="638.40" y1="548.60" x2="638.40" y2="688.20" stroke="#e6e6e6" stroke-width="0.6"/><line x1="569.80" y1="556.95" x2="645.60" y2="556.95" stroke="#ececec" stroke-width="0.6"/><line x1="569.80" y1="571.00" x2="645.60" y2="571.00" stroke="#ececec" stroke-width="0.6"/><line x1="569.80" y1="584.65" x2="645.60" y2="584.65" stroke="#ececec" stroke-width="0.6"/><line x1="569.80" y1="598.25" x2="645.60" y2="598.25" stroke="#ececec" stroke-width="0.6"/><line x1="569.80" y1="612.30" x2="645.60" y2="612.30" stroke="#ececec" stroke-width="0.6"/><line x1="569.80" y1="625.90" x2="645.60" y2="625.90" stroke="#ececec" stroke-width="0.6"/><line x1="569.80" y1="639.55" x2="645.60" y2="639.55" stroke="#ececec" stroke-width="0.6"/><line x1="569.80" y1="653.30" x2="645.60" y2="653.30" stroke="#ececec" stroke-width="0.6"/><line x1="569.80" y1="666.80" x2="645.60" y2="666.80" stroke="#ececec" stroke-width="0.6"/><line x1="569.80" y1="680.40" x2="645.60" y2="680.40" stroke="#ececec" stroke-width="0.6"/><rect x="572.80" y="551.00" width="49.20" height="11.90" fill="#d65c60"/><line x1="566.80" y1="556.95" x2="569.80" y2="556.95" stroke="#999" stroke-width="0.6"/><text x="563.0" y="556.3" font-size="6.5" text-anchor="end" fill="#333">FoxO signaling</text><text x="563.0" y="562.3" font-size="6.5" text-anchor="end" fill="#333">pathway</text><rect x="572.80" y="565.00" width="39.36" height="12.00" fill="#d65c60"/><line x1="566.80" y1="571.00" x2="569.80" y2="571.00" stroke="#999" stroke-width="0.6"/><text x="563.0" y="570.6" font-size="6.5" text-anchor="end" fill="#333">Morphine addiction</text><rect x="572.80" y="578.50" width="59.04" height="12.30" fill="#d65c60"/><line x1="566.80" y1="584.65" x2="569.80" y2="584.65" stroke="#999" stroke-width="0.6"/><text x="563.0" y="584.3" font-size="6.5" text-anchor="end" fill="#333">Proteoglycans</text><text x="563.0" y="590.3" font-size="6.5" text-anchor="end" fill="#333">in cancer</text><rect x="572.80" y="592.30" width="32.80" height="11.90" fill="#976389"/><line x1="566.80" y1="598.25" x2="569.80" y2="598.25" stroke="#999" stroke-width="0.6"/><text x="563.0" y="598.1" font-size="6.5" text-anchor="end" fill="#333">Pancreatic cancer</text><rect x="572.80" y="606.30" width="62.32" height="12.00" fill="#93648b"/><line x1="566.80" y1="612.30" x2="569.80" y2="612.30" stroke="#999" stroke-width="0.6"/><text x="563.0" y="611.8" font-size="6.5" text-anchor="end" fill="#333">Calcium signaling</text><text x="563.0" y="617.8" font-size="6.5" text-anchor="end" fill="#333">pathway</text><rect x="572.80" y="619.80" width="68.88" height="12.20" fill="#93648b"/><line x1="566.80" y1="625.90" x2="569.80" y2="625.90" stroke="#999" stroke-width="0.6"/><text x="563.0" y="625.3" font-size="6.5" text-anchor="end" fill="#333">MAPK signaling</text><text x="563.0" y="631.3" font-size="6.5" text-anchor="end" fill="#333">pathway</text><rect x="572.80" y="633.60" width="45.92" height="11.90" fill="#8f658c"/><line x1="566.80" y1="639.55" x2="569.80" y2="639.55" stroke="#999" stroke-width="0.6"/><text x="563.0" y="639.1" font-size="6.5" text-anchor="end" fill="#333">Oxytocin signaling</text><text x="563.0" y="645.0" font-size="6.5" text-anchor="end" fill="#333">pathway</text><rect x="572.80" y="647.30" width="29.52" height="12.00" fill="#6e6a9c"/><line x1="566.80" y1="653.30" x2="569.80" y2="653.30" stroke="#999" stroke-width="0.6"/><text x="563.0" y="652.6" font-size="6.5" text-anchor="end" fill="#333">Adipocytokine</text><text x="563.0" y="658.6" font-size="6.5" text-anchor="end" fill="#333">signaling pathway</text><rect x="572.80" y="660.80" width="32.80" height="12.00" fill="#766a9a"/><line x1="566.80" y1="666.80" x2="569.80" y2="666.80" stroke="#999" stroke-width="0.6"/><text x="563.0" y="668.6" font-size="6.5" text-anchor="end" fill="#333">Colorectal cancer</text><rect x="572.80" y="674.30" width="36.08" height="12.20" fill="#2178b8"/><line x1="566.80" y1="680.40" x2="569.80" y2="680.40" stroke="#999" stroke-width="0.6"/><text x="563.0" y="682.5" font-size="6.5" text-anchor="end" fill="#333">Insulin resistance</text><rect x="569.80" y="548.60" width="75.80" height="139.60" fill="none" stroke="#888" stroke-width="0.75"/><line x1="572.80" y1="688.20" x2="572.80" y2="690.70" stroke="#999" stroke-width="0.6"/><text x="572.8" y="698.4" font-size="6.6" text-anchor="middle" fill="#333">0</text><line x1="589.20" y1="688.20" x2="589.20" y2="690.70" stroke="#999" stroke-width="0.6"/><text x="589.2" y="698.4" font-size="6.6" text-anchor="middle" fill="#333">5</text><line x1="605.60" y1="688.20" x2="605.60" y2="690.70" stroke="#999" stroke-width="0.6"/><text x="605.6" y="698.4" font-size="6.6" text-anchor="middle" fill="#333">10</text><line x1="622.00" y1="688.20" x2="622.00" y2="690.70" stroke="#999" stroke-width="0.6"/><text x="622.0" y="698.4" font-size="6.6" text-anchor="middle" fill="#333">15</text><line x1="638.40" y1="688.20" x2="638.40" y2="690.70" stroke="#999" stroke-width="0.6"/><text x="638.4" y="698.4" font-size="6.6" text-anchor="middle" fill="#333">20</text><text x="547.3" y="545.0" font-size="7.2" fill="#222" textLength="120.7" lengthAdjust="spacingAndGlyphs">KEGG enrichment NhoodGroup 6</text><text x="611.0" y="709.6" font-size="8.2" text-anchor="middle" fill="#333">Count</text><defs><linearGradient id="pg2" x1="0" y1="0" x2="0" y2="1"><stop offset="0" stop-color="#d65c60"/><stop offset="0.5" stop-color="#8f658c"/><stop offset="1" stop-color="#2178b8"/></linearGradient></defs><text x="650" y="600.8" font-size="7.2" fill="#333"><tspan font-style="italic">P</tspan> adjust.</text><rect x="650.00" y="604.80" width="7.00" height="31.50" fill="url(#pg2)"/><line x1="650.00" y1="607.20" x2="652.00" y2="607.20" stroke="#fff" stroke-width="0.5"/><line x1="655.00" y1="607.20" x2="657.00" y2="607.20" stroke="#fff" stroke-width="0.5"/><line x1="650.00" y1="615.30" x2="652.00" y2="615.30" stroke="#fff" stroke-width="0.5"/><line x1="655.00" y1="615.30" x2="657.00" y2="615.30" stroke="#fff" stroke-width="0.5"/><line x1="650.00" y1="622.80" x2="652.00" y2="622.80" stroke="#fff" stroke-width="0.5"/><line x1="655.00" y1="622.80" x2="657.00" y2="622.80" stroke="#fff" stroke-width="0.5"/><line x1="650.00" y1="629.70" x2="652.00" y2="629.70" stroke="#fff" stroke-width="0.5"/><line x1="655.00" y1="629.70" x2="657.00" y2="629.70" stroke="#fff" stroke-width="0.5"/><text x="661.0" y="610.0" font-size="8.2" text-anchor="start" fill="#333">0.001</text><text x="661.0" y="618.1" font-size="8.2" text-anchor="start" fill="#333">0.002</text><text x="661.0" y="625.6" font-size="8.2" text-anchor="start" fill="#333">0.003</text><text x="661.0" y="632.5" font-size="8.2" text-anchor="start" fill="#333">0.004</text><text x="0.3" y="583.0" font-size="8.3" text-anchor="start" fill="#333">Group</text><rect x="2.00" y="585.80" width="6.00" height="6.00" fill="#3a7d50"/><text x="12.3" y="591.4" font-size="8.3" text-anchor="start" fill="#333">Control</text><rect x="2.00" y="592.80" width="6.00" height="6.00" fill="#5b3e83"/><text x="12.3" y="598.4" font-size="8.3" text-anchor="start" fill="#333">Patient</text><rect x="2.00" y="599.80" width="6.00" height="6.00" fill="#e0676b"/><text x="12.3" y="605.4" font-size="8.3" text-anchor="start" fill="#333">C9-ALS</text><rect x="2.00" y="606.80" width="6.00" height="6.00" fill="#d8962e"/><text x="12.3" y="612.4" font-size="8.3" text-anchor="start" fill="#333">sALS</text><rect x="2.00" y="614.00" width="6.00" height="6.00" fill="#a9a6d2"/><text x="12.3" y="619.6" font-size="8.3" text-anchor="start" fill="#333">Healthy</text><line x1="43.30" y1="586.40" x2="43.30" y2="598.20" stroke="#333" stroke-width="0.6"/><text x="46.4" y="595.3" font-size="8.3" text-anchor="start" fill="#333">FTD</text><line x1="43.30" y1="603.40" x2="43.30" y2="618.90" stroke="#333" stroke-width="0.6"/><text x="46.4" y="613.5" font-size="8.3" text-anchor="start" fill="#333">ALS</text><text x="0.0" y="629.3" font-size="8.3" text-anchor="start" fill="#333">Region sampled</text><rect x="2.00" y="632.20" width="6.00" height="6.00" fill="#0b0b33"/><text x="11.9" y="637.8" font-size="8.3" text-anchor="start" fill="#333">Frontal cortex</text><rect x="2.00" y="639.20" width="6.00" height="6.00" fill="#8b1a1a"/><text x="11.9" y="644.8" font-size="8.3" text-anchor="start" fill="#333">Motor cortex</text><rect x="2.00" y="646.20" width="6.00" height="6.00" fill="#74b08a"/><text x="11.9" y="651.8" font-size="8.3" text-anchor="start" fill="#333">Occipital cortex</text><rect x="2.00" y="653.20" width="6.00" height="6.00" fill="#1a7fbf"/><text x="11.9" y="658.8" font-size="8.3" text-anchor="start" fill="#333">Spinal cord</text><rect x="2.00" y="660.20" width="6.00" height="6.00" fill="#0e4a2e"/><text x="11.9" y="665.8" font-size="8.3" text-anchor="start" fill="#333">Temporal cortex</text><path d="M81.60 578.10L81.60 572.70A5.4 5.4 0 0 1 82.61 572.80Z" fill="#e0676b"/><path d="M81.60 578.10L82.61 572.80A5.4 5.4 0 0 1 83.59 573.08Z" fill="#d8962e"/><path d="M81.60 578.10L83.59 573.08A5.4 5.4 0 1 1 77.44 581.54Z" fill="#5b3e83"/><path d="M81.60 578.10L77.44 581.54A5.4 5.4 0 0 1 80.92 572.74Z" fill="#3a7d50"/><path d="M81.60 578.10L80.92 572.74A5.4 5.4 0 0 1 81.60 572.70Z" fill="#a9a6d2"/><path d="M101.90 578.10L101.90 572.70A5.4 5.4 0 0 1 107.04 579.77Z" fill="#0e4a2e"/><path d="M101.90 578.10L107.04 579.77A5.4 5.4 0 0 1 106.27 581.27Z" fill="#1a7fbf"/><path d="M101.90 578.10L106.27 581.27A5.4 5.4 0 0 1 98.73 582.47Z" fill="#74b08a"/><path d="M101.90 578.10L98.73 582.47A5.4 5.4 0 0 1 98.20 582.04Z" fill="#8b1a1a"/><path d="M101.90 578.10L98.20 582.04A5.4 5.4 0 0 1 101.90 572.70Z" fill="#0b0b33"/><text x="89.6" y="581.0" font-size="8.3" text-anchor="start" fill="#333">7</text><text x="110.3" y="581.0" font-size="8.3" text-anchor="start" fill="#333">7</text><path d="M81.60 592.50L81.60 587.10A5.4 5.4 0 0 1 87.00 592.50Z" fill="#a9a6d2"/><path d="M81.60 592.50L87.00 592.50A5.4 5.4 0 0 1 79.93 597.64Z" fill="#d8962e"/><path d="M81.60 592.50L79.93 597.64A5.4 5.4 0 0 1 76.71 594.80Z" fill="#e0676b"/><path d="M81.60 592.50L76.71 594.80A5.4 5.4 0 0 1 77.23 589.33Z" fill="#5b3e83"/><path d="M81.60 592.50L77.23 589.33A5.4 5.4 0 0 1 81.60 587.10Z" fill="#3a7d50"/><path d="M101.90 592.50L101.90 587.10A5.4 5.4 0 0 1 105.60 588.56Z" fill="#0e4a2e"/><path d="M101.90 592.50L105.60 588.56A5.4 5.4 0 1 1 96.50 592.50Z" fill="#1a7fbf"/><path d="M101.90 592.50L96.50 592.50A5.4 5.4 0 0 1 96.60 591.49Z" fill="#74b08a"/><path d="M101.90 592.50L96.60 591.49A5.4 5.4 0 0 1 97.01 590.20Z" fill="#8b1a1a"/><path d="M101.90 592.50L97.01 590.20A5.4 5.4 0 0 1 101.90 587.10Z" fill="#0b0b33"/><text x="89.6" y="595.4" font-size="8.3" text-anchor="start" fill="#333">6</text><text x="110.3" y="595.4" font-size="8.3" text-anchor="start" fill="#333">6</text><path d="M81.60 606.60L81.60 601.20A5.4 5.4 0 0 1 86.33 609.20Z" fill="#a9a6d2"/><path d="M81.60 606.60L86.33 609.20A5.4 5.4 0 0 1 76.46 608.27Z" fill="#d8962e"/><path d="M81.60 606.60L76.46 608.27A5.4 5.4 0 0 1 77.66 602.90Z" fill="#e0676b"/><path d="M81.60 606.60L77.66 602.90A5.4 5.4 0 0 1 79.93 601.46Z" fill="#5b3e83"/><path d="M81.60 606.60L79.93 601.46A5.4 5.4 0 0 1 81.60 601.20Z" fill="#3a7d50"/><path d="M101.90 606.60L101.90 601.20A5.4 5.4 0 0 1 102.24 601.21Z" fill="#0e4a2e"/><path d="M101.90 606.60L102.24 601.21A5.4 5.4 0 1 1 99.91 601.58Z" fill="#1a7fbf"/><path d="M101.90 606.60L99.91 601.58A5.4 5.4 0 0 1 100.23 601.46Z" fill="#74b08a"/><path d="M101.90 606.60L100.23 601.46A5.4 5.4 0 0 1 100.89 601.30Z" fill="#8b1a1a"/><path d="M101.90 606.60L100.89 601.30A5.4 5.4 0 0 1 101.90 601.20Z" fill="#0b0b33"/><text x="89.6" y="609.5" font-size="8.3" text-anchor="start" fill="#333">5</text><text x="110.3" y="609.5" font-size="8.3" text-anchor="start" fill="#333">5</text><path d="M81.60 620.70L81.60 615.30A5.4 5.4 0 0 1 86.33 618.10Z" fill="#a9a6d2"/><path d="M81.60 620.70L86.33 618.10A5.4 5.4 0 0 1 85.54 624.40Z" fill="#d8962e"/><path d="M81.60 620.70L85.54 624.40A5.4 5.4 0 0 1 81.60 626.10Z" fill="#e0676b"/><path d="M81.60 620.70L81.60 626.10A5.4 5.4 0 0 1 76.20 620.70Z" fill="#5b3e83"/><path d="M81.60 620.70L76.20 620.70A5.4 5.4 0 0 1 81.60 615.30Z" fill="#3a7d50"/><path d="M101.90 620.70L101.90 615.30A5.4 5.4 0 0 1 106.27 617.53Z" fill="#0e4a2e"/><path d="M101.90 620.70L106.27 617.53A5.4 5.4 0 0 1 98.20 624.64Z" fill="#1a7fbf"/><path d="M101.90 620.70L98.20 624.64A5.4 5.4 0 0 1 96.76 622.37Z" fill="#74b08a"/><path d="M101.90 620.70L96.76 622.37A5.4 5.4 0 0 1 96.51 621.04Z" fill="#8b1a1a"/><path d="M101.90 620.70L96.51 621.04A5.4 5.4 0 0 1 101.90 615.30Z" fill="#0b0b33"/><text x="89.6" y="623.6" font-size="8.3" text-anchor="start" fill="#333">4</text><text x="110.3" y="623.6" font-size="8.3" text-anchor="start" fill="#333">4</text><path d="M81.60 635.20L81.60 629.80A5.4 5.4 0 0 1 85.76 638.64Z" fill="#a9a6d2"/><path d="M81.60 635.20L85.76 638.64A5.4 5.4 0 0 1 77.66 638.90Z" fill="#d8962e"/><path d="M81.60 635.20L77.66 638.90A5.4 5.4 0 0 1 76.46 633.53Z" fill="#e0676b"/><path d="M81.60 635.20L76.46 633.53A5.4 5.4 0 0 1 80.26 629.97Z" fill="#5b3e83"/><path d="M81.60 635.20L80.26 629.97A5.4 5.4 0 0 1 81.60 629.80Z" fill="#3a7d50"/><path d="M101.90 635.20L101.90 629.80A5.4 5.4 0 0 1 102.91 629.90Z" fill="#0e4a2e"/><path d="M101.90 635.20L102.91 629.90A5.4 5.4 0 1 1 98.46 631.04Z" fill="#1a7fbf"/><path d="M101.90 635.20L98.46 631.04A5.4 5.4 0 0 1 98.73 630.83Z" fill="#74b08a"/><path d="M101.90 635.20L98.73 630.83A5.4 5.4 0 0 1 99.30 630.47Z" fill="#8b1a1a"/><path d="M101.90 635.20L99.30 630.47A5.4 5.4 0 0 1 101.90 629.80Z" fill="#0b0b33"/><text x="89.6" y="638.1" font-size="8.3" text-anchor="start" fill="#333">3</text><text x="110.3" y="638.1" font-size="8.3" text-anchor="start" fill="#333">3</text><path d="M81.60 649.30L81.60 643.90A5.4 5.4 0 0 1 86.99 649.64Z" fill="#a9a6d2"/><path d="M81.60 649.30L86.99 649.64A5.4 5.4 0 0 1 81.26 654.69Z" fill="#d8962e"/><path d="M81.60 649.30L81.26 654.69A5.4 5.4 0 0 1 76.37 650.64Z" fill="#e0676b"/><path d="M81.60 649.30L76.37 650.64A5.4 5.4 0 0 1 77.90 645.36Z" fill="#5b3e83"/><path d="M81.60 649.30L77.90 645.36A5.4 5.4 0 0 1 81.60 643.90Z" fill="#3a7d50"/><path d="M101.90 649.30L101.90 643.90A5.4 5.4 0 0 1 104.50 644.57Z" fill="#0e4a2e"/><path d="M101.90 649.30L104.50 644.57A5.4 5.4 0 1 1 96.67 647.96Z" fill="#1a7fbf"/><path d="M101.90 649.30L96.67 647.96A5.4 5.4 0 0 1 97.17 646.70Z" fill="#74b08a"/><path d="M101.90 649.30L97.17 646.70A5.4 5.4 0 0 1 97.74 645.86Z" fill="#8b1a1a"/><path d="M101.90 649.30L97.74 645.86A5.4 5.4 0 0 1 101.90 643.90Z" fill="#0b0b33"/><text x="89.6" y="652.2" font-size="8.3" text-anchor="start" fill="#333">2</text><text x="110.3" y="652.2" font-size="8.3" text-anchor="start" fill="#333">2</text><path d="M81.60 663.40L81.60 658.00A5.4 5.4 0 0 1 84.20 658.67Z" fill="#a9a6d2"/><path d="M81.60 663.40L84.20 658.67A5.4 5.4 0 0 1 86.74 661.73Z" fill="#d8962e"/><path d="M81.60 663.40L86.74 661.73A5.4 5.4 0 0 1 87.00 663.40Z" fill="#e0676b"/><path d="M81.60 663.40L87.00 663.40A5.4 5.4 0 0 1 76.24 664.08Z" fill="#5b3e83"/><path d="M81.60 663.40L76.24 664.08A5.4 5.4 0 0 1 81.60 658.00Z" fill="#3a7d50"/><path d="M101.90 663.40L101.90 658.00A5.4 5.4 0 0 1 107.29 663.06Z" fill="#0e4a2e"/><path d="M101.90 663.40L107.29 663.06A5.4 5.4 0 0 1 104.79 667.96Z" fill="#1a7fbf"/><path d="M101.90 663.40L104.79 667.96A5.4 5.4 0 0 1 99.91 668.42Z" fill="#74b08a"/><path d="M101.90 663.40L99.91 668.42A5.4 5.4 0 0 1 98.73 667.77Z" fill="#8b1a1a"/><path d="M101.90 663.40L98.73 667.77A5.4 5.4 0 0 1 101.90 658.00Z" fill="#0b0b33"/><text x="89.6" y="666.3" font-size="8.3" text-anchor="start" fill="#333">1</text><text x="110.3" y="666.3" font-size="8.3" text-anchor="start" fill="#333">1</text><rect x="143.90" y="571.30" width="88.90" height="101.30" fill="#ffffff"/><line x1="147.50" y1="571.30" x2="147.50" y2="672.60" stroke="#ebebeb" stroke-width="0.5"/><line x1="156.20" y1="571.30" x2="156.20" y2="672.60" stroke="#ebebeb" stroke-width="0.5"/><line x1="164.90" y1="571.30" x2="164.90" y2="672.60" stroke="#ebebeb" stroke-width="0.5"/><line x1="173.60" y1="571.30" x2="173.60" y2="672.60" stroke="#ebebeb" stroke-width="0.5"/><line x1="182.30" y1="571.30" x2="182.30" y2="672.60" stroke="#ebebeb" stroke-width="0.5"/><line x1="191.00" y1="571.30" x2="191.00" y2="672.60" stroke="#ebebeb" stroke-width="0.5"/><line x1="199.70" y1="571.30" x2="199.70" y2="672.60" stroke="#ebebeb" stroke-width="0.5"/><line x1="208.40" y1="571.30" x2="208.40" y2="672.60" stroke="#ebebeb" stroke-width="0.5"/><line x1="217.10" y1="571.30" x2="217.10" y2="672.60" stroke="#ebebeb" stroke-width="0.5"/><line x1="225.80" y1="571.30" x2="225.80" y2="672.60" stroke="#ebebeb" stroke-width="0.5"/><line x1="143.90" y1="663.40" x2="232.80" y2="663.40" stroke="#ebebeb" stroke-width="0.5"/><line x1="143.90" y1="656.40" x2="232.80" y2="656.40" stroke="#f3f3f3" stroke-width="0.4"/><line x1="143.90" y1="649.40" x2="232.80" y2="649.40" stroke="#ebebeb" stroke-width="0.5"/><line x1="143.90" y1="642.40" x2="232.80" y2="642.40" stroke="#f3f3f3" stroke-width="0.4"/><line x1="143.90" y1="635.40" x2="232.80" y2="635.40" stroke="#ebebeb" stroke-width="0.5"/><line x1="143.90" y1="628.45" x2="232.80" y2="628.45" stroke="#f3f3f3" stroke-width="0.4"/><line x1="143.90" y1="621.50" x2="232.80" y2="621.50" stroke="#ebebeb" stroke-width="0.5"/><line x1="143.90" y1="614.50" x2="232.80" y2="614.50" stroke="#f3f3f3" stroke-width="0.4"/><line x1="143.90" y1="607.50" x2="232.80" y2="607.50" stroke="#ebebeb" stroke-width="0.5"/><line x1="143.90" y1="600.75" x2="232.80" y2="600.75" stroke="#f3f3f3" stroke-width="0.4"/><line x1="143.90" y1="594.00" x2="232.80" y2="594.00" stroke="#ebebeb" stroke-width="0.5"/><line x1="143.90" y1="586.85" x2="232.80" y2="586.85" stroke="#f3f3f3" stroke-width="0.4"/><line x1="143.90" y1="579.70" x2="232.80" y2="579.70" stroke="#ebebeb" stroke-width="0.5"/><path fill="none" stroke="#6a5aa8" stroke-width="1.75" stroke-linecap="round" d="M146.5 579.7h0M148.4 579.7h0M150.1 579.6h0M151.7 579.6h0M153.7 579.6h0"/><path fill="none" stroke="#6a5aa8" stroke-width="1.75" stroke-linecap="round" d="M154.5 578.6h0M154.4 579.8h0M154.6 580.9h0"/><path fill="none" stroke="#6d5daa" stroke-width="1.75" stroke-linecap="round" d="M155.8 578.4h0M155.8 579.7h0M155.9 581.0h0"/><path fill="none" stroke="#7060ab" stroke-width="1.75" stroke-linecap="round" d="M157.2 577.1h0M157.3 578.4h0M157.3 579.6h0M157.4 580.9h0M157.4 582.3h0"/><path fill="none" stroke="#7464ad" stroke-width="1.75" stroke-linecap="round" d="M158.7 576.1h0M158.8 577.3h0M158.8 578.3h0M158.9 579.7h0M158.9 582.2h0M158.8 583.6h0"/><path fill="none" stroke="#7767af" stroke-width="1.75" stroke-linecap="round" d="M160.3 578.3h0M160.3 579.8h0M160.2 580.9h0M160.1 582.2h0"/><path fill="none" stroke="#7a6ab0" stroke-width="1.75" stroke-linecap="round" d="M161.6 578.3h0M161.6 579.6h0M161.8 580.8h0"/><path fill="none" stroke="#7d6db2" stroke-width="1.75" stroke-linecap="round" d="M163.2 578.6h0M163.3 579.6h0M163.1 581.1h0"/><path fill="none" stroke="#a194ca" stroke-width="1.75" stroke-linecap="round" d="M164.4 578.4h0M164.5 579.7h0M164.3 580.9h0"/><path fill="none" stroke="#a99ccf" stroke-width="1.75" stroke-linecap="round" d="M165.8 578.6h0M165.8 579.7h0M165.6 581.1h0"/><path fill="none" stroke="#b7add7" stroke-width="1.75" stroke-linecap="round" d="M168.3 578.3h0M168.2 579.6h0M168.3 580.9h0"/><path fill="none" stroke="#bfb5dc" stroke-width="1.75" stroke-linecap="round" d="M169.5 578.3h0M169.6 579.6h0"/><path fill="none" stroke="#c6bde0" stroke-width="1.75" stroke-linecap="round" d="M170.9 578.4h0M170.9 579.6h0"/><path fill="none" stroke="#6b6b6b" stroke-width="1.75" stroke-linecap="round" d="M171.9 578.3h0M171.8 579.6h0M171.7 582.3h0M173.0 577.2h0M173.1 578.6h0M173.1 582.1h0M174.5 578.4h0M174.5 579.8h0M175.7 579.7h0M175.5 580.9h0M175.7 582.3h0M177.1 577.3h0M176.9 579.6h0M176.9 581.0h0M178.3 578.5h0M178.3 579.8h0M179.4 577.3h0M179.6 578.6h0M179.5 579.8h0M179.4 582.1h0M180.9 581.1h0M182.0 579.6h0M182.2 581.0h0M183.4 578.4h0M184.5 578.4h0M184.6 579.6h0M184.5 581.1h0M185.8 578.5h0M186.0 581.0h0M187.1 578.3h0M187.0 579.6h0M188.4 578.5h0M188.3 579.7h0M188.5 580.8h0"/><path fill="none" stroke="#ecc0b2" stroke-width="1.75" stroke-linecap="round" d="M188.3 579.6h0M190.6 579.7h0"/><path fill="none" stroke="#6b6b6b" stroke-width="1.75" stroke-linecap="round" d="M180.0 594.0h0M181.5 594.0h0"/><path fill="none" stroke="#ecc0b2" stroke-width="1.75" stroke-linecap="round" d="M187.5 594.1h0"/><path fill="none" stroke="#ebbcae" stroke-width="1.75" stroke-linecap="round" d="M189.0 592.9h0M188.9 594.1h0M188.7 595.1h0"/><path fill="none" stroke="#e9b9aa" stroke-width="1.75" stroke-linecap="round" d="M190.1 592.7h0M190.2 594.1h0M190.1 595.3h0"/><path fill="none" stroke="#e8b5a6" stroke-width="1.75" stroke-linecap="round" d="M191.4 591.6h0M191.5 592.9h0M191.5 594.1h0M191.4 595.2h0M191.5 596.4h0"/><path fill="none" stroke="#e6b1a3" stroke-width="1.75" stroke-linecap="round" d="M192.9 591.4h0M192.9 592.6h0M192.9 594.0h0M193.0 595.3h0M192.8 596.4h0"/><path fill="none" stroke="#e5ae9f" stroke-width="1.75" stroke-linecap="round" d="M194.3 591.4h0M194.2 592.9h0M194.1 593.9h0M194.2 595.3h0M194.1 596.6h0"/><path fill="none" stroke="#e3aa9b" stroke-width="1.75" stroke-linecap="round" d="M195.4 590.4h0M195.6 591.4h0M195.4 592.9h0M195.5 594.0h0M195.5 595.1h0M195.5 596.4h0M195.4 597.7h0"/><path fill="none" stroke="#e2a697" stroke-width="1.75" stroke-linecap="round" d="M196.8 590.3h0M196.9 591.4h0M196.7 592.7h0M197.0 594.0h0M196.9 595.4h0M197.0 596.5h0M197.0 597.7h0"/><path fill="none" stroke="#e0a293" stroke-width="1.75" stroke-linecap="round" d="M198.3 589.1h0M198.3 590.3h0M198.2 591.5h0M198.1 592.6h0M198.2 593.9h0M198.3 595.4h0M198.2 596.4h0M198.2 597.6h0M198.2 599.1h0"/><path fill="none" stroke="#df9f8f" stroke-width="1.75" stroke-linecap="round" d="M199.6 588.9h0M199.5 590.2h0M199.5 591.5h0M199.5 592.8h0M199.5 593.9h0M199.4 595.1h0M199.5 596.5h0M199.6 597.8h0M199.7 599.0h0"/><path fill="none" stroke="#dd9b8c" stroke-width="1.75" stroke-linecap="round" d="M201.1 590.1h0M200.9 591.4h0M201.0 592.8h0M201.0 593.9h0M200.9 595.4h0M201.0 596.5h0M201.0 597.8h0"/><path fill="none" stroke="#dc9788" stroke-width="1.75" stroke-linecap="round" d="M202.1 591.4h0M202.1 592.9h0M202.3 594.0h0M202.2 595.1h0M202.3 596.5h0"/><path fill="none" stroke="#da9484" stroke-width="1.75" stroke-linecap="round" d="M203.6 592.6h0M203.5 593.9h0M203.7 595.2h0"/><path fill="none" stroke="#d99080" stroke-width="1.75" stroke-linecap="round" d="M205.1 594.0h0"/><path fill="none" stroke="#d99080" stroke-width="1.75" stroke-linecap="round" d="M206.2 594.1h0M208.0 594.0h0"/><path fill="none" stroke="#dc9585" stroke-width="1.75" stroke-linecap="round" d="M195.2 607.4h0"/><path fill="none" stroke="#da8a7a" stroke-width="1.75" stroke-linecap="round" d="M198.4 607.4h0"/><path fill="none" stroke="#d98575" stroke-width="1.75" stroke-linecap="round" d="M199.8 606.3h0M200.0 607.4h0M199.9 608.7h0"/><path fill="none" stroke="#d88070" stroke-width="1.75" stroke-linecap="round" d="M201.6 606.2h0"/><path fill="none" stroke="#d07565" stroke-width="1.75" stroke-linecap="round" d="M202.3 606.3h0M202.2 608.7h0"/><path fill="none" stroke="#ce7262" stroke-width="1.75" stroke-linecap="round" d="M203.6 607.4h0M203.7 608.6h0"/><path fill="none" stroke="#cd7060" stroke-width="1.75" stroke-linecap="round" d="M205.0 606.3h0M205.0 607.5h0M204.7 608.7h0M204.8 609.9h0"/><path fill="none" stroke="#cb6d5d" stroke-width="1.75" stroke-linecap="round" d="M206.1 605.1h0M206.2 606.4h0M206.3 607.6h0M206.1 610.0h0"/><path fill="none" stroke="#ca6a5a" stroke-width="1.75" stroke-linecap="round" d="M207.4 606.2h0M207.3 607.4h0M207.5 609.9h0"/><path fill="none" stroke="#c86757" stroke-width="1.75" stroke-linecap="round" d="M208.7 603.7h0M208.8 605.1h0M208.8 607.6h0M208.8 608.6h0M208.7 610.1h0M208.6 611.1h0"/><path fill="none" stroke="#c66555" stroke-width="1.75" stroke-linecap="round" d="M210.0 605.0h0M210.0 606.4h0M210.0 607.4h0M209.9 608.7h0M209.9 610.1h0M209.9 611.4h0"/><path fill="none" stroke="#c56252" stroke-width="1.75" stroke-linecap="round" d="M211.1 604.9h0M211.2 606.1h0M211.2 607.5h0M211.2 610.0h0M211.2 611.2h0"/><path fill="none" stroke="#c35f4f" stroke-width="1.75" stroke-linecap="round" d="M212.5 603.9h0M212.5 605.0h0M212.4 607.4h0M212.5 608.9h0"/><path fill="none" stroke="#c25c4c" stroke-width="1.75" stroke-linecap="round" d="M213.7 603.8h0M213.8 606.1h0M213.9 607.6h0M213.7 611.1h0"/><path fill="none" stroke="#c05a4a" stroke-width="1.75" stroke-linecap="round" d="M215.1 603.9h0M215.1 605.1h0M215.1 606.1h0M215.0 607.6h0M215.0 608.6h0M215.1 610.1h0M214.9 611.3h0"/><path fill="none" stroke="#be5747" stroke-width="1.75" stroke-linecap="round" d="M216.3 604.9h0M216.2 606.2h0M216.5 607.5h0M216.3 609.9h0"/><path fill="none" stroke="#bd5444" stroke-width="1.75" stroke-linecap="round" d="M217.6 606.1h0M217.7 607.5h0M217.7 608.9h0M217.5 610.0h0"/><path fill="none" stroke="#bb5141" stroke-width="1.75" stroke-linecap="round" d="M219.0 604.9h0M219.0 606.3h0M219.0 607.4h0M218.8 610.1h0"/><path fill="none" stroke="#ba4f3f" stroke-width="1.75" stroke-linecap="round" d="M220.3 606.2h0M220.1 607.5h0M220.3 608.6h0"/><path fill="none" stroke="#b84c3c" stroke-width="1.75" stroke-linecap="round" d="M221.4 606.4h0M221.3 607.4h0M221.6 608.9h0"/><path fill="none" stroke="#a63a2c" stroke-width="1.75" stroke-linecap="round" d="M223.3 607.6h0M224.8 607.6h0"/><path fill="none" stroke="#c6bde0" stroke-width="1.75" stroke-linecap="round" d="M172.6 621.5h0M173.6 621.4h0"/><path fill="none" stroke="#6b6b6b" stroke-width="1.75" stroke-linecap="round" d="M173.5 621.4h0M175.0 621.4h0M176.0 621.5h0M177.5 620.2h0M177.4 621.5h0M177.3 622.7h0M178.5 620.2h0M178.8 621.4h0M178.5 622.9h0M180.0 619.1h0M179.9 620.4h0M179.9 621.6h0M179.9 622.6h0M180.1 624.0h0M181.1 618.9h0M181.3 620.4h0M181.1 621.5h0M181.3 622.7h0M181.3 624.1h0M182.5 618.9h0M182.4 620.3h0M182.4 621.6h0M182.4 622.6h0M182.4 624.1h0M183.9 617.7h0M183.6 619.0h0M183.7 620.2h0M183.8 621.6h0M183.9 622.8h0M183.9 623.9h0M183.7 625.3h0M184.9 617.7h0M185.1 619.0h0M185.0 620.4h0M184.9 621.6h0M185.2 622.6h0M185.1 624.1h0M184.9 625.2h0M186.2 617.9h0M186.4 619.0h0M186.3 620.2h0M186.4 621.4h0M186.3 622.7h0M186.2 623.9h0M186.3 625.3h0M187.4 616.4h0M187.5 617.7h0M187.6 619.0h0M187.4 620.2h0M187.6 621.4h0M187.6 622.7h0M187.5 624.1h0M187.6 625.2h0M187.7 626.6h0M188.7 616.6h0M188.7 617.9h0M188.9 619.0h0M188.8 620.1h0M188.8 621.5h0M188.7 622.8h0M188.8 623.9h0M188.8 625.4h0M188.8 626.6h0"/><path fill="none" stroke="#ecc0b2" stroke-width="1.75" stroke-linecap="round" d="M188.7 616.4h0M189.0 617.7h0M189.0 619.0h0M188.9 620.3h0M188.9 621.4h0M188.9 622.8h0M188.7 624.0h0M188.8 625.1h0M188.9 626.6h0"/><path fill="none" stroke="#eabcae" stroke-width="1.75" stroke-linecap="round" d="M190.1 616.6h0M190.2 617.6h0M190.1 619.0h0M190.1 620.3h0M190.2 621.5h0M190.0 622.8h0M190.1 624.1h0M190.1 625.2h0M190.0 626.4h0"/><path fill="none" stroke="#e9b9ab" stroke-width="1.75" stroke-linecap="round" d="M191.3 617.7h0M191.3 619.0h0M191.5 620.3h0M191.3 621.5h0M191.6 622.6h0M191.6 624.1h0M191.3 625.4h0"/><path fill="none" stroke="#e7b5a7" stroke-width="1.75" stroke-linecap="round" d="M192.9 617.9h0M192.8 619.1h0M192.7 620.3h0M192.9 621.4h0M192.6 622.8h0M192.7 623.9h0M192.7 625.1h0"/><path fill="none" stroke="#e5b2a3" stroke-width="1.75" stroke-linecap="round" d="M193.9 617.9h0M194.2 618.9h0M193.9 620.3h0M194.0 621.6h0M194.1 622.9h0M194.2 624.0h0M194.1 625.2h0"/><path fill="none" stroke="#e3ae9f" stroke-width="1.75" stroke-linecap="round" d="M195.4 617.7h0M195.3 618.9h0M195.2 620.3h0M195.4 621.6h0M195.4 622.7h0M195.2 623.9h0M195.3 625.3h0"/><path fill="none" stroke="#e2aa9c" stroke-width="1.75" stroke-linecap="round" d="M196.5 618.9h0M196.5 620.1h0M196.5 621.5h0M196.7 622.8h0M196.7 624.0h0"/><path fill="none" stroke="#e0a798" stroke-width="1.75" stroke-linecap="round" d="M198.1 618.9h0M197.8 620.3h0M198.0 621.5h0M197.8 622.8h0M197.9 624.0h0"/><path fill="none" stroke="#dea394" stroke-width="1.75" stroke-linecap="round" d="M199.4 619.1h0M199.4 620.1h0M199.2 621.4h0M199.3 622.6h0M199.4 623.9h0"/><path fill="none" stroke="#dca090" stroke-width="1.75" stroke-linecap="round" d="M200.6 619.0h0M200.7 620.2h0M200.5 621.4h0M200.7 622.8h0M200.7 624.1h0"/><path fill="none" stroke="#db9c8d" stroke-width="1.75" stroke-linecap="round" d="M201.9 620.2h0M201.8 621.4h0M201.8 622.8h0"/><path fill="none" stroke="#d99889" stroke-width="1.75" stroke-linecap="round" d="M203.3 620.3h0M203.2 621.5h0M203.2 622.7h0"/><path fill="none" stroke="#d79585" stroke-width="1.75" stroke-linecap="round" d="M204.6 620.2h0M204.3 621.4h0M204.6 622.9h0"/><path fill="none" stroke="#d59181" stroke-width="1.75" stroke-linecap="round" d="M205.7 621.6h0"/><path fill="none" stroke="#d48e7e" stroke-width="1.75" stroke-linecap="round" d="M207.0 621.6h0"/><path fill="none" stroke="#d28a7a" stroke-width="1.75" stroke-linecap="round" d="M208.5 621.5h0"/><path fill="none" stroke="#d28a7a" stroke-width="1.75" stroke-linecap="round" d="M209.3 621.6h0M210.7 621.5h0"/><path fill="none" stroke="#6b6b6b" stroke-width="1.75" stroke-linecap="round" d="M182.4 635.4h0M184.0 635.3h0M185.1 635.5h0M186.5 635.3h0"/><path fill="none" stroke="#ecc0b2" stroke-width="1.75" stroke-linecap="round" d="M190.2 630.4h0M190.2 631.5h0M190.1 633.0h0M190.2 634.0h0M190.0 639.0h0M190.2 640.5h0"/><path fill="none" stroke="#eabbad" stroke-width="1.75" stroke-linecap="round" d="M191.5 630.4h0M191.3 631.5h0M191.3 632.8h0M191.3 634.1h0M191.5 635.4h0M191.6 636.7h0M191.3 639.1h0M191.5 640.4h0"/><path fill="none" stroke="#e8b7a8" stroke-width="1.75" stroke-linecap="round" d="M192.8 630.3h0M192.8 632.8h0M192.7 634.2h0M192.7 636.6h0M192.6 637.9h0M192.8 639.1h0"/><path fill="none" stroke="#e6b2a3" stroke-width="1.75" stroke-linecap="round" d="M194.0 631.7h0M193.9 632.9h0M194.1 634.2h0M194.1 635.4h0M194.0 636.8h0M194.2 637.8h0M194.0 639.3h0"/><path fill="none" stroke="#e5ad9f" stroke-width="1.75" stroke-linecap="round" d="M195.3 631.8h0M195.3 632.9h0M195.4 634.2h0M195.3 635.3h0M195.4 636.7h0M195.3 638.0h0M195.2 639.1h0"/><path fill="none" stroke="#e3a89a" stroke-width="1.75" stroke-linecap="round" d="M196.6 632.8h0M196.8 634.0h0M196.6 635.3h0M196.6 636.6h0M196.8 638.0h0M196.8 639.0h0"/><path fill="none" stroke="#e1a495" stroke-width="1.75" stroke-linecap="round" d="M198.1 631.7h0M197.9 632.8h0M197.8 634.1h0M197.8 635.4h0M198.0 636.7h0M197.9 637.8h0M197.9 639.2h0"/><path fill="none" stroke="#df9f90" stroke-width="1.75" stroke-linecap="round" d="M199.3 633.0h0M199.2 634.2h0M199.3 636.8h0M199.3 637.9h0M199.3 639.0h0"/><path fill="none" stroke="#dd9a8b" stroke-width="1.75" stroke-linecap="round" d="M200.7 631.7h0M200.5 632.9h0M200.6 634.1h0M200.7 635.3h0M200.7 636.6h0M200.7 637.8h0M200.5 639.2h0"/><path fill="none" stroke="#db9686" stroke-width="1.75" stroke-linecap="round" d="M201.8 632.9h0M201.9 634.2h0M202.0 635.4h0M202.0 636.6h0M201.8 638.0h0M202.0 639.1h0"/><path fill="none" stroke="#d99181" stroke-width="1.75" stroke-linecap="round" d="M203.1 631.6h0M203.2 632.9h0M203.1 634.1h0M203.3 635.5h0M203.1 636.7h0M203.1 637.8h0M203.3 639.2h0"/><path fill="none" stroke="#d88c7d" stroke-width="1.75" stroke-linecap="round" d="M204.5 631.6h0M204.5 634.2h0M204.5 635.3h0M204.4 636.8h0M204.6 637.8h0M204.4 639.1h0"/><path fill="none" stroke="#d68778" stroke-width="1.75" stroke-linecap="round" d="M205.6 631.7h0M205.7 632.8h0M205.8 634.2h0M205.7 635.5h0M205.9 638.0h0M205.7 639.2h0"/><path fill="none" stroke="#d48373" stroke-width="1.75" stroke-linecap="round" d="M206.9 631.5h0M207.0 634.0h0M207.0 635.5h0M207.0 636.8h0M207.0 638.0h0M207.2 639.2h0"/><path fill="none" stroke="#d27e6e" stroke-width="1.75" stroke-linecap="round" d="M208.5 632.8h0M208.4 634.2h0M208.5 635.4h0M208.3 636.5h0M208.3 637.9h0M208.4 639.1h0"/><path fill="none" stroke="#c0604c" stroke-width="1.75" stroke-linecap="round" d="M208.5 631.5h0M208.4 632.9h0M208.5 634.1h0M208.5 635.3h0M208.4 636.5h0M208.5 638.0h0M208.5 639.2h0"/><path fill="none" stroke="#be5d4a" stroke-width="1.75" stroke-linecap="round" d="M209.8 631.5h0M209.7 632.9h0M209.6 634.1h0M209.8 635.3h0M209.7 636.7h0M209.6 638.0h0M209.7 639.1h0"/><path fill="none" stroke="#bd5b48" stroke-width="1.75" stroke-linecap="round" d="M211.1 631.7h0M210.9 632.8h0M211.0 634.2h0M210.8 635.5h0M211.0 636.5h0M210.8 637.8h0"/><path fill="none" stroke="#bb5846" stroke-width="1.75" stroke-linecap="round" d="M212.3 631.7h0M212.3 634.2h0M212.3 635.5h0M212.3 636.6h0M212.1 637.8h0M212.3 639.3h0"/><path fill="none" stroke="#b95643" stroke-width="1.75" stroke-linecap="round" d="M213.5 631.7h0M213.5 632.8h0M213.5 634.1h0M213.5 635.5h0M213.5 636.5h0M213.6 637.9h0"/><path fill="none" stroke="#b75341" stroke-width="1.75" stroke-linecap="round" d="M214.6 631.6h0M214.9 633.0h0M214.8 634.0h0M214.7 635.3h0M214.6 636.7h0M214.9 637.8h0M214.7 639.0h0"/><path fill="none" stroke="#b6513f" stroke-width="1.75" stroke-linecap="round" d="M216.0 630.5h0M215.9 631.7h0M216.2 633.0h0M216.1 634.2h0M216.2 635.3h0M215.9 637.8h0M216.2 639.0h0M216.1 640.3h0"/><path fill="none" stroke="#b44e3d" stroke-width="1.75" stroke-linecap="round" d="M217.3 630.3h0M217.4 631.6h0M217.2 633.0h0M217.4 634.2h0M217.3 635.5h0M217.4 637.8h0M217.5 639.2h0M217.3 640.4h0"/><path fill="none" stroke="#b24c3b" stroke-width="1.75" stroke-linecap="round" d="M218.6 631.6h0M218.7 632.9h0M218.6 634.3h0M218.5 635.3h0M218.6 636.7h0M218.7 637.8h0M218.7 639.3h0M218.5 640.5h0"/><path fill="none" stroke="#b04939" stroke-width="1.75" stroke-linecap="round" d="M219.9 630.5h0M219.8 631.7h0M219.8 633.0h0M219.9 635.5h0M219.8 636.6h0M220.0 637.9h0M220.0 639.2h0M219.9 640.5h0"/><path fill="none" stroke="#af4737" stroke-width="1.75" stroke-linecap="round" d="M221.2 631.6h0M221.1 632.8h0M221.2 634.1h0M221.1 635.4h0M221.0 636.8h0M221.0 637.9h0M221.1 639.2h0"/><path fill="none" stroke="#ad4435" stroke-width="1.75" stroke-linecap="round" d="M222.4 631.5h0M222.6 633.0h0M222.5 634.1h0M222.4 635.5h0M222.5 636.8h0M222.3 637.8h0M222.3 639.0h0"/><path fill="none" stroke="#ab4232" stroke-width="1.75" stroke-linecap="round" d="M223.8 632.9h0M223.7 636.6h0M223.8 637.8h0"/><path fill="none" stroke="#a93f30" stroke-width="1.75" stroke-linecap="round" d="M225.0 633.0h0M225.0 634.1h0M225.1 635.5h0M224.8 636.6h0M225.1 638.0h0"/><path fill="none" stroke="#a83d2e" stroke-width="1.75" stroke-linecap="round" d="M226.1 633.0h0M226.3 634.3h0M226.2 635.5h0M226.2 637.9h0"/><path fill="none" stroke="#a63a2c" stroke-width="1.75" stroke-linecap="round" d="M227.4 634.1h0M227.4 635.4h0M227.5 636.5h0"/><path fill="none" stroke="#a63a2c" stroke-width="1.75" stroke-linecap="round" d="M228.3 635.5h0M229.6 635.5h0M231.2 635.5h0"/><path fill="none" stroke="#6e5fab" stroke-width="1.75" stroke-linecap="round" d="M152.3 649.3h0"/><path fill="none" stroke="#7c6db3" stroke-width="1.75" stroke-linecap="round" d="M156.2 649.4h0"/><path fill="none" stroke="#8576b9" stroke-width="1.75" stroke-linecap="round" d="M158.8 649.3h0"/><path fill="none" stroke="#897bbc" stroke-width="1.75" stroke-linecap="round" d="M160.0 649.5h0"/><path fill="none" stroke="#8d80bf" stroke-width="1.75" stroke-linecap="round" d="M161.3 649.5h0"/><path fill="none" stroke="#9284c2" stroke-width="1.75" stroke-linecap="round" d="M162.7 649.3h0"/><path fill="none" stroke="#9689c5" stroke-width="1.75" stroke-linecap="round" d="M164.1 649.4h0"/><path fill="none" stroke="#9b8ec7" stroke-width="1.75" stroke-linecap="round" d="M165.3 649.3h0"/><path fill="none" stroke="#9f93ca" stroke-width="1.75" stroke-linecap="round" d="M166.8 649.3h0"/><path fill="none" stroke="#a497cd" stroke-width="1.75" stroke-linecap="round" d="M167.9 648.1h0M167.9 649.3h0M168.1 650.8h0"/><path fill="none" stroke="#a89cd0" stroke-width="1.75" stroke-linecap="round" d="M169.2 649.5h0M169.3 650.6h0"/><path fill="none" stroke="#8a8a8a" stroke-width="1.75" stroke-linecap="round" d="M169.1 648.2h0M169.1 649.3h0M169.3 650.6h0"/><path fill="none" stroke="#888888" stroke-width="1.75" stroke-linecap="round" d="M170.7 648.1h0M170.4 649.3h0M170.6 650.6h0"/><path fill="none" stroke="#868686" stroke-width="1.75" stroke-linecap="round" d="M171.7 648.2h0M171.8 649.3h0M171.9 650.7h0"/><path fill="none" stroke="#848484" stroke-width="1.75" stroke-linecap="round" d="M173.1 648.0h0M173.1 649.5h0M173.3 650.6h0"/><path fill="none" stroke="#828282" stroke-width="1.75" stroke-linecap="round" d="M174.6 648.1h0M174.6 649.4h0M174.4 650.6h0"/><path fill="none" stroke="#808080" stroke-width="1.75" stroke-linecap="round" d="M175.7 648.0h0M175.8 649.3h0M175.8 650.7h0"/><path fill="none" stroke="#7e7e7e" stroke-width="1.75" stroke-linecap="round" d="M177.1 648.2h0M177.0 649.5h0M177.2 650.5h0"/><path fill="none" stroke="#7c7c7c" stroke-width="1.75" stroke-linecap="round" d="M178.5 648.1h0M178.4 649.4h0M178.5 650.6h0"/><path fill="none" stroke="#797979" stroke-width="1.75" stroke-linecap="round" d="M179.6 648.1h0M179.5 649.3h0M179.6 650.5h0"/><path fill="none" stroke="#777777" stroke-width="1.75" stroke-linecap="round" d="M181.0 648.2h0M180.9 649.5h0M180.9 650.5h0"/><path fill="none" stroke="#757575" stroke-width="1.75" stroke-linecap="round" d="M182.3 648.1h0M182.3 649.3h0M182.4 650.5h0"/><path fill="none" stroke="#737373" stroke-width="1.75" stroke-linecap="round" d="M183.7 648.0h0M183.7 649.4h0M183.7 650.7h0"/><path fill="none" stroke="#717171" stroke-width="1.75" stroke-linecap="round" d="M185.0 648.2h0M184.8 649.4h0M185.1 650.7h0"/><path fill="none" stroke="#6f6f6f" stroke-width="1.75" stroke-linecap="round" d="M186.3 648.3h0M186.2 649.5h0M186.1 650.6h0"/><path fill="none" stroke="#6d6d6d" stroke-width="1.75" stroke-linecap="round" d="M187.5 648.2h0M187.5 649.4h0M187.4 650.8h0"/><path fill="none" stroke="#6b6b6b" stroke-width="1.75" stroke-linecap="round" d="M189.0 648.2h0M188.9 649.5h0M188.9 650.6h0"/><path fill="none" stroke="#ecc0b2" stroke-width="1.75" stroke-linecap="round" d="M188.8 646.9h0M188.9 648.1h0M188.8 649.5h0M188.8 650.7h0M188.9 652.0h0"/><path fill="none" stroke="#eabbad" stroke-width="1.75" stroke-linecap="round" d="M190.0 645.6h0M190.0 646.8h0M190.0 648.1h0M190.0 649.3h0M190.2 650.7h0M190.1 651.8h0M190.1 653.2h0"/><path fill="none" stroke="#e8b7a9" stroke-width="1.75" stroke-linecap="round" d="M191.3 645.6h0M191.3 646.9h0M191.4 648.0h0M191.5 649.3h0M191.3 650.6h0M191.3 652.0h0M191.2 653.3h0"/><path fill="none" stroke="#e6b2a4" stroke-width="1.75" stroke-linecap="round" d="M192.5 645.6h0M192.7 646.8h0M192.8 648.2h0M192.6 649.4h0M192.7 650.8h0M192.6 652.0h0M192.7 653.1h0"/><path fill="none" stroke="#e4ae9f" stroke-width="1.75" stroke-linecap="round" d="M193.9 645.8h0M194.0 646.8h0M193.9 648.1h0M193.9 649.4h0M194.0 650.7h0M193.9 651.9h0M193.8 653.1h0"/><path fill="none" stroke="#e2a99a" stroke-width="1.75" stroke-linecap="round" d="M195.1 645.6h0M195.2 646.9h0M195.0 648.1h0M195.2 649.4h0M195.3 650.6h0M195.2 652.0h0M195.1 653.3h0"/><path fill="none" stroke="#dfa496" stroke-width="1.75" stroke-linecap="round" d="M196.3 644.4h0M196.5 645.7h0M196.6 646.9h0M196.5 648.1h0M196.4 649.4h0M196.5 650.7h0M196.4 651.9h0M196.4 653.3h0M196.4 654.4h0"/><path fill="none" stroke="#dda091" stroke-width="1.75" stroke-linecap="round" d="M197.8 644.4h0M197.8 645.6h0M197.8 647.0h0M197.6 648.3h0M197.8 649.5h0M197.6 650.5h0M197.7 651.9h0M197.6 653.2h0M197.6 654.5h0"/><path fill="none" stroke="#db9b8c" stroke-width="1.75" stroke-linecap="round" d="M198.8 644.4h0M198.9 645.7h0M198.9 647.0h0M199.0 648.1h0M198.9 649.3h0M198.9 650.8h0M198.9 651.8h0M199.0 653.0h0M198.8 654.4h0"/><path fill="none" stroke="#d99688" stroke-width="1.75" stroke-linecap="round" d="M200.2 644.5h0M200.1 645.7h0M200.3 646.9h0M200.1 648.0h0M200.2 649.4h0M200.2 650.5h0M200.2 652.0h0M200.2 653.1h0M200.3 654.5h0"/><path fill="none" stroke="#d79283" stroke-width="1.75" stroke-linecap="round" d="M201.6 644.5h0M201.5 645.8h0M201.6 646.8h0M201.5 648.1h0M201.6 649.4h0M201.4 650.6h0M201.4 652.0h0M201.5 653.0h0M201.4 654.4h0"/><path fill="none" stroke="#d58d7e" stroke-width="1.75" stroke-linecap="round" d="M202.6 644.5h0M202.6 645.6h0M202.6 646.8h0M202.7 648.0h0M202.6 649.3h0M202.6 650.6h0M202.8 651.8h0M202.8 653.1h0M202.6 654.5h0"/><path fill="none" stroke="#d38979" stroke-width="1.75" stroke-linecap="round" d="M203.9 644.4h0M204.0 645.6h0M204.0 646.9h0M204.0 648.1h0M203.9 649.4h0M203.9 650.7h0M204.0 651.9h0M204.0 653.0h0M204.1 654.3h0"/><path fill="none" stroke="#d18475" stroke-width="1.75" stroke-linecap="round" d="M205.1 645.7h0M205.3 646.8h0M205.2 648.1h0M205.3 649.3h0M205.4 650.7h0M205.4 651.8h0M205.1 653.2h0"/><path fill="none" stroke="#cf7f70" stroke-width="1.75" stroke-linecap="round" d="M206.5 645.6h0M206.6 646.8h0M206.5 648.2h0M206.4 649.5h0M206.6 650.5h0M206.4 651.8h0M206.5 653.0h0"/><path fill="none" stroke="#cd7b6b" stroke-width="1.75" stroke-linecap="round" d="M207.8 645.6h0M207.8 647.0h0M207.8 648.2h0M207.6 649.5h0M207.7 650.5h0M207.8 651.8h0M207.7 653.2h0"/><path fill="none" stroke="#ca7667" stroke-width="1.75" stroke-linecap="round" d="M209.2 647.0h0M209.1 648.1h0M209.1 649.3h0M209.2 650.6h0M209.1 652.0h0"/><path fill="none" stroke="#c87162" stroke-width="1.75" stroke-linecap="round" d="M210.3 646.9h0M210.4 648.1h0M210.4 649.3h0M210.2 650.7h0M210.2 651.9h0"/><path fill="none" stroke="#c66d5d" stroke-width="1.75" stroke-linecap="round" d="M211.6 648.2h0M211.4 649.4h0M211.5 650.6h0"/><path fill="none" stroke="#c46858" stroke-width="1.75" stroke-linecap="round" d="M212.9 648.2h0M212.8 649.4h0M213.0 650.6h0"/><path fill="none" stroke="#c26454" stroke-width="1.75" stroke-linecap="round" d="M214.2 648.0h0M214.0 649.5h0M214.2 650.6h0"/><path fill="none" stroke="#c05f4f" stroke-width="1.75" stroke-linecap="round" d="M215.4 649.4h0"/><path fill="none" stroke="#c05f4f" stroke-width="1.75" stroke-linecap="round" d="M216.3 649.3h0M217.9 649.3h0M219.6 649.3h0"/><path fill="none" stroke="#6a5aa8" stroke-width="1.75" stroke-linecap="round" d="M150.1 663.3h0M151.5 663.4h0M152.7 663.3h0M155.5 663.5h0M158.2 663.4h0M159.6 663.4h0"/><path fill="none" stroke="#8a7cc0" stroke-width="1.75" stroke-linecap="round" d="M159.8 663.4h0"/><path fill="none" stroke="#9083c3" stroke-width="1.75" stroke-linecap="round" d="M161.1 663.4h0"/><path fill="none" stroke="#978ac7" stroke-width="1.75" stroke-linecap="round" d="M162.1 662.0h0M162.3 663.5h0M162.1 664.7h0"/><path fill="none" stroke="#9e91ca" stroke-width="1.75" stroke-linecap="round" d="M163.6 662.1h0M163.6 663.5h0M163.4 664.7h0"/><path fill="none" stroke="#a498cd" stroke-width="1.75" stroke-linecap="round" d="M164.7 662.2h0M164.9 663.3h0M164.8 664.7h0"/><path fill="none" stroke="#aa9fd1" stroke-width="1.75" stroke-linecap="round" d="M166.1 661.0h0M166.0 662.1h0M166.0 663.4h0M166.1 664.5h0M166.2 665.8h0"/><path fill="none" stroke="#b1a6d4" stroke-width="1.75" stroke-linecap="round" d="M167.3 660.8h0M167.1 662.3h0M167.4 663.4h0M167.3 664.7h0M167.2 665.9h0"/><path fill="none" stroke="#b8add7" stroke-width="1.75" stroke-linecap="round" d="M168.7 661.0h0M168.5 662.1h0M168.5 663.3h0M168.5 664.6h0M168.7 666.0h0"/><path fill="none" stroke="#beb4db" stroke-width="1.75" stroke-linecap="round" d="M170.0 660.9h0M169.7 662.2h0M169.8 663.4h0M169.8 664.7h0M169.8 666.0h0"/><path fill="none" stroke="#c4bbde" stroke-width="1.75" stroke-linecap="round" d="M171.0 659.7h0M171.0 660.9h0M171.1 662.1h0M171.1 663.4h0M171.0 664.8h0M171.0 666.0h0M171.0 667.2h0"/><path fill="none" stroke="#cbc2e1" stroke-width="1.75" stroke-linecap="round" d="M172.4 659.7h0M172.4 660.8h0M172.4 662.0h0M172.2 663.4h0M172.4 664.7h0M172.3 666.0h0M172.2 667.2h0"/><path fill="none" stroke="#d2c9e5" stroke-width="1.75" stroke-linecap="round" d="M173.5 659.8h0M173.7 660.8h0M173.5 662.1h0M173.5 663.4h0M173.6 664.7h0M173.8 665.9h0M173.7 667.3h0"/><path fill="none" stroke="#d8d0e8" stroke-width="1.75" stroke-linecap="round" d="M174.8 658.5h0M175.0 659.7h0M174.8 660.9h0M175.0 662.2h0M174.9 663.3h0M175.0 664.5h0M175.0 665.8h0M174.9 667.3h0M174.8 668.3h0"/><path fill="none" stroke="#6b6b6b" stroke-width="1.75" stroke-linecap="round" d="M175.0 658.3h0M174.8 659.7h0M174.8 661.0h0M175.0 662.2h0M174.8 663.4h0M174.9 664.8h0M174.8 665.8h0M175.0 667.1h0M174.8 668.5h0M176.4 658.4h0M176.2 659.6h0M176.3 660.8h0M176.2 662.1h0M176.2 663.4h0M176.3 664.6h0M176.2 666.0h0M176.1 667.2h0M176.2 668.4h0M177.6 659.7h0M177.7 660.8h0M177.7 662.3h0M177.6 663.4h0M177.5 664.7h0M177.7 666.0h0M177.7 667.2h0M179.0 659.6h0M178.9 660.8h0M178.9 662.3h0M178.9 663.3h0M178.9 664.5h0M179.1 665.9h0M179.0 667.1h0M180.2 659.6h0M180.4 660.9h0M180.3 662.3h0M180.2 663.3h0M180.4 664.6h0M180.3 666.0h0M180.3 667.3h0M181.6 659.5h0M181.6 661.0h0M181.6 662.1h0M181.8 663.4h0M181.7 664.8h0M181.5 666.0h0M181.6 667.0h0M183.0 661.0h0M183.1 662.1h0M183.1 663.4h0M183.0 664.6h0M183.0 665.8h0M184.3 660.9h0M184.3 662.1h0M184.5 663.4h0M184.2 664.7h0M184.3 665.8h0M185.6 661.0h0M185.8 662.1h0M185.7 663.4h0M185.7 664.6h0M185.6 666.0h0M187.1 662.1h0M187.2 663.4h0M187.0 664.8h0M188.2 662.1h0M188.5 663.4h0M188.3 664.7h0"/><path fill="none" stroke="#ecc0b2" stroke-width="1.75" stroke-linecap="round" d="M188.2 662.0h0M188.4 663.4h0M188.5 664.6h0M189.7 662.2h0M189.7 663.3h0M189.8 664.8h0M191.3 663.4h0M192.7 663.3h0"/><rect x="143.9" y="571.3" width="88.9" height="101.3" fill="none" stroke="#444" stroke-width="0.6"/><line x1="141.30" y1="663.40" x2="143.90" y2="663.40" stroke="#444" stroke-width="0.5"/><text x="139.6" y="666.0" font-size="7.3" text-anchor="end" fill="#444">1</text><line x1="141.30" y1="649.40" x2="143.90" y2="649.40" stroke="#444" stroke-width="0.5"/><text x="139.6" y="652.0" font-size="7.3" text-anchor="end" fill="#444">2</text><line x1="141.30" y1="635.40" x2="143.90" y2="635.40" stroke="#444" stroke-width="0.5"/><text x="139.6" y="638.0" font-size="7.3" text-anchor="end" fill="#444">3</text><line x1="141.30" y1="621.50" x2="143.90" y2="621.50" stroke="#444" stroke-width="0.5"/><text x="139.6" y="624.1" font-size="7.3" text-anchor="end" fill="#444">4</text><line x1="141.30" y1="607.50" x2="143.90" y2="607.50" stroke="#444" stroke-width="0.5"/><text x="139.6" y="610.1" font-size="7.3" text-anchor="end" fill="#444">5</text><line x1="141.30" y1="594.00" x2="143.90" y2="594.00" stroke="#444" stroke-width="0.5"/><text x="139.6" y="596.6" font-size="7.3" text-anchor="end" fill="#444">6</text><line x1="141.30" y1="579.70" x2="143.90" y2="579.70" stroke="#444" stroke-width="0.5"/><text x="139.6" y="582.3" font-size="7.3" text-anchor="end" fill="#444">7</text><line x1="147.50" y1="672.60" x2="147.50" y2="675.00" stroke="#444" stroke-width="0.5"/><text x="147.5" y="681.0" font-size="7.3" text-anchor="middle" fill="#444">-4</text><line x1="164.90" y1="672.60" x2="164.90" y2="675.00" stroke="#444" stroke-width="0.5"/><text x="164.9" y="681.0" font-size="7.3" text-anchor="middle" fill="#444">-2</text><line x1="182.30" y1="672.60" x2="182.30" y2="675.00" stroke="#444" stroke-width="0.5"/><text x="182.3" y="681.0" font-size="7.3" text-anchor="middle" fill="#444">0</text><line x1="199.70" y1="672.60" x2="199.70" y2="675.00" stroke="#444" stroke-width="0.5"/><text x="199.7" y="681.0" font-size="7.3" text-anchor="middle" fill="#444">2</text><line x1="217.10" y1="672.60" x2="217.10" y2="675.00" stroke="#444" stroke-width="0.5"/><text x="217.1" y="681.0" font-size="7.3" text-anchor="middle" fill="#444">4</text><text x="188.3" y="692.9" font-size="8.2" text-anchor="middle" fill="#333">logFC groups</text><text x="130.2" y="622.0" font-size="8.1" text-anchor="middle" fill="#333" transform="rotate(-90 130.2 622.0)">NhoodGroup</text><text x="144.4" y="557.6" font-size="8.2" text-anchor="start" fill="#333">DA spinal</text><text x="144.4" y="567.2" font-size="8.2" text-anchor="start" fill="#333">cord versus brain</text><rect x="283.0" y="570.3" width="9.0" height="10.9" fill="#fff" stroke="#333" stroke-width="0.7"/><text x="287.5" y="578.5" font-size="7.8" text-anchor="middle" fill="#333">7</text><rect x="283.0" y="585.2" width="9.0" height="11.1" fill="#fff" stroke="#333" stroke-width="0.7"/><text x="287.5" y="593.5" font-size="7.8" text-anchor="middle" fill="#333">6</text><rect x="283.0" y="600.5" width="9.0" height="11.0" fill="#fff" stroke="#333" stroke-width="0.7"/><text x="287.5" y="608.8" font-size="7.8" text-anchor="middle" fill="#333">5</text><rect x="283.0" y="615.7" width="9.0" height="11.1" fill="#fff" stroke="#333" stroke-width="0.7"/><text x="287.5" y="624.0" font-size="7.8" text-anchor="middle" fill="#333">4</text><rect x="283.0" y="630.8" width="9.0" height="11.2" fill="#fff" stroke="#333" stroke-width="0.7"/><text x="287.5" y="639.2" font-size="7.8" text-anchor="middle" fill="#333">3</text><rect x="283.0" y="646.0" width="9.0" height="11.1" fill="#fff" stroke="#333" stroke-width="0.7"/><text x="287.5" y="654.3" font-size="7.8" text-anchor="middle" fill="#333">2</text><rect x="283.0" y="661.3" width="9.0" height="11.0" fill="#fff" stroke="#333" stroke-width="0.7"/><text x="287.5" y="669.6" font-size="7.8" text-anchor="middle" fill="#333">1</text><text x="264.0" y="557.2" font-size="8.0" text-anchor="middle" fill="#333">Down in</text><text x="264.0" y="567.2" font-size="8.0" text-anchor="middle" fill="#333">sALS patients</text><text x="264.0" y="682.2" font-size="7.9" text-anchor="middle" fill="#333">Features</text><rect x="338.7" y="570.3" width="9.0" height="10.9" fill="#fff" stroke="#333" stroke-width="0.7"/><text x="343.2" y="578.5" font-size="7.8" text-anchor="middle" fill="#333">7</text><rect x="338.7" y="585.2" width="9.0" height="11.1" fill="#fff" stroke="#333" stroke-width="0.7"/><text x="343.2" y="593.5" font-size="7.8" text-anchor="middle" fill="#333">6</text><rect x="338.7" y="600.5" width="9.0" height="11.0" fill="#fff" stroke="#333" stroke-width="0.7"/><text x="343.2" y="608.8" font-size="7.8" text-anchor="middle" fill="#333">5</text><rect x="338.7" y="615.7" width="9.0" height="11.1" fill="#fff" stroke="#333" stroke-width="0.7"/><text x="343.2" y="624.0" font-size="7.8" text-anchor="middle" fill="#333">4</text><rect x="338.7" y="630.8" width="9.0" height="11.2" fill="#fff" stroke="#333" stroke-width="0.7"/><text x="343.2" y="639.2" font-size="7.8" text-anchor="middle" fill="#333">3</text><rect x="338.7" y="646.0" width="9.0" height="11.1" fill="#fff" stroke="#333" stroke-width="0.7"/><text x="343.2" y="654.3" font-size="7.8" text-anchor="middle" fill="#333">2</text><rect x="338.7" y="661.3" width="9.0" height="11.0" fill="#fff" stroke="#333" stroke-width="0.7"/><text x="343.2" y="669.6" font-size="7.8" text-anchor="middle" fill="#333">1</text><text x="320.5" y="557.2" font-size="8.0" text-anchor="middle" fill="#333">Up in</text><text x="320.5" y="567.2" font-size="8.0" text-anchor="middle" fill="#333">sALS patients</text><text x="320.5" y="682.2" font-size="7.9" text-anchor="middle" fill="#333">Features</text><rect x="395.3" y="570.3" width="9.0" height="10.9" fill="#fff" stroke="#333" stroke-width="0.7"/><text x="399.8" y="578.5" font-size="7.8" text-anchor="middle" fill="#333">7</text><rect x="395.3" y="585.2" width="9.0" height="11.1" fill="#fff" stroke="#333" stroke-width="0.7"/><text x="399.8" y="593.5" font-size="7.8" text-anchor="middle" fill="#333">6</text><rect x="395.3" y="600.5" width="9.0" height="11.0" fill="#fff" stroke="#333" stroke-width="0.7"/><text x="399.8" y="608.8" font-size="7.8" text-anchor="middle" fill="#333">5</text><rect x="395.3" y="615.7" width="9.0" height="11.1" fill="#fff" stroke="#333" stroke-width="0.7"/><text x="399.8" y="624.0" font-size="7.8" text-anchor="middle" fill="#333">4</text><rect x="395.3" y="630.8" width="9.0" height="11.2" fill="#fff" stroke="#333" stroke-width="0.7"/><text x="399.8" y="639.2" font-size="7.8" text-anchor="middle" fill="#333">3</text><rect x="395.3" y="646.0" width="9.0" height="11.1" fill="#fff" stroke="#333" stroke-width="0.7"/><text x="399.8" y="654.3" font-size="7.8" text-anchor="middle" fill="#333">2</text><rect x="395.3" y="661.3" width="9.0" height="11.0" fill="#fff" stroke="#333" stroke-width="0.7"/><text x="399.8" y="669.6" font-size="7.8" text-anchor="middle" fill="#333">1</text><text x="376.0" y="557.2" font-size="8.0" text-anchor="middle" fill="#333">Down in</text><text x="376.0" y="567.2" font-size="8.0" text-anchor="middle" fill="#333">C9 patients</text><text x="376.0" y="682.2" font-size="7.9" text-anchor="middle" fill="#333">Features</text><rect x="445.8" y="570.3" width="9.0" height="10.9" fill="#fff" stroke="#333" stroke-width="0.7"/><text x="450.3" y="578.5" font-size="7.8" text-anchor="middle" fill="#333">7</text><rect x="445.8" y="585.2" width="9.0" height="11.1" fill="#fff" stroke="#333" stroke-width="0.7"/><text x="450.3" y="593.5" font-size="7.8" text-anchor="middle" fill="#333">6</text><rect x="445.8" y="600.5" width="9.0" height="11.0" fill="#fff" stroke="#333" stroke-width="0.7"/><text x="450.3" y="608.8" font-size="7.8" text-anchor="middle" fill="#333">5</text><rect x="445.8" y="615.7" width="9.0" height="11.1" fill="#fff" stroke="#333" stroke-width="0.7"/><text x="450.3" y="624.0" font-size="7.8" text-anchor="middle" fill="#333">4</text><rect x="445.8" y="630.8" width="9.0" height="11.2" fill="#fff" stroke="#333" stroke-width="0.7"/><text x="450.3" y="639.2" font-size="7.8" text-anchor="middle" fill="#333">3</text><rect x="445.8" y="646.0" width="9.0" height="11.1" fill="#fff" stroke="#333" stroke-width="0.7"/><text x="450.3" y="654.3" font-size="7.8" text-anchor="middle" fill="#333">2</text><rect x="445.8" y="661.3" width="9.0" height="11.0" fill="#fff" stroke="#333" stroke-width="0.7"/><text x="450.3" y="669.6" font-size="7.8" text-anchor="middle" fill="#333">1</text><text x="426.8" y="557.2" font-size="8.0" text-anchor="middle" fill="#333">Up in</text><text x="426.8" y="567.2" font-size="8.0" text-anchor="middle" fill="#333">C9 patients</text><text x="426.8" y="682.2" font-size="7.9" text-anchor="middle" fill="#333">Features</text><path stroke="#8a2880" stroke-width="0.84" d="M238.47 570.0v5.9M241.71 570.0v5.9M241.71 575.8v5.9M253.06 570.0v5.9M253.87 570.0v5.9M264.41 575.8v5.9M239.28 584.9v6.0M242.52 584.9v6.0M253.06 590.8v6.0M276.58 590.8v6.0M278.20 584.9v6.0M267.66 600.2v5.9M238.47 615.4v6.0M240.90 621.2v6.0M253.87 615.4v6.0M261.17 621.2v6.0M262.79 615.4v6.0M274.96 621.2v6.0M276.58 615.4v6.0M276.58 621.2v6.0M253.06 630.5v6.0M256.31 630.5v6.0M261.17 636.4v6.0M276.58 636.4v6.0M278.20 630.5v6.0M278.20 636.4v6.0M281.44 630.5v6.0M238.47 651.5v6.0M244.95 645.7v6.0M245.76 651.5v6.0M261.17 651.5v6.0M262.79 645.7v6.0M262.79 651.5v6.0M264.41 645.7v6.0M264.41 651.5v6.0M240.90 661.0v5.9M244.95 661.0v5.9M253.87 666.8v5.9M262.79 661.0v5.9M266.04 661.0v5.9M270.09 661.0v5.9M270.09 666.8v5.9M270.90 666.8v5.9M281.44 666.8v5.9M297.07 575.8v5.9M299.47 570.0v5.9M302.68 575.8v5.9M305.08 570.0v5.9M313.10 575.8v5.9M318.72 570.0v5.9M295.46 590.8v6.0M308.29 584.9v6.0M310.70 584.9v6.0M313.90 584.9v6.0M314.71 590.8v6.0M316.31 584.9v6.0M319.52 590.8v6.0M323.53 590.8v6.0M325.13 590.8v6.0M325.93 584.9v6.0M325.93 590.8v6.0M296.26 621.2v6.0M299.47 621.2v6.0M301.88 615.4v6.0M305.08 621.2v6.0M306.69 615.4v6.0M333.15 621.2v6.0M335.55 615.4v6.0M335.55 621.2v6.0M336.36 621.2v6.0M337.96 621.2v6.0M301.08 630.5v6.0M302.68 630.5v6.0M305.08 630.5v6.0M320.32 636.4v6.0M304.28 645.7v6.0M305.08 651.5v6.0M317.11 645.7v6.0M318.72 651.5v6.0M324.33 651.5v6.0M333.15 645.7v6.0M333.15 651.5v6.0M337.96 645.7v6.0M296.26 661.0v5.9M301.08 666.8v5.9M301.88 666.8v5.9M305.08 661.0v5.9M306.69 666.8v5.9M320.32 666.8v5.9M324.33 661.0v5.9M324.33 666.8v5.9M337.16 666.8v5.9M360.50 575.8v5.9M359.69 584.9v6.0M360.50 584.9v6.0M360.50 590.8v6.0M370.23 584.9v6.0M370.23 590.8v6.0M371.85 590.8v6.0M371.85 636.4v6.0M360.50 661.0v5.9M437.72 575.8v5.9M417.36 584.9v6.0M417.36 590.8v6.0M424.69 584.9v6.0M424.69 621.2v6.0M437.72 621.2v6.0M414.10 630.5v6.0M423.06 630.5v6.0M432.83 630.5v6.0M439.35 630.5v6.0M417.36 645.7v6.0M443.42 645.7v6.0"/><path stroke="#942b7e" stroke-width="0.84" d="M238.47 575.8v5.9M244.95 570.0v5.9M245.76 570.0v5.9M245.76 575.8v5.9M250.63 570.0v5.9M266.04 575.8v5.9M270.09 575.8v5.9M244.95 590.8v6.0M250.63 584.9v6.0M255.49 584.9v6.0M255.49 590.8v6.0M256.31 584.9v6.0M256.31 590.8v6.0M272.52 584.9v6.0M279.82 584.9v6.0M267.66 606.0v5.9M250.63 621.2v6.0M252.25 621.2v6.0M253.06 621.2v6.0M263.60 621.2v6.0M266.04 621.2v6.0M270.90 615.4v6.0M270.90 621.2v6.0M278.20 615.4v6.0M278.20 621.2v6.0M281.44 615.4v6.0M281.44 621.2v6.0M242.52 630.5v6.0M245.76 630.5v6.0M249.82 630.5v6.0M256.31 636.4v6.0M270.90 636.4v6.0M274.96 636.4v6.0M281.44 636.4v6.0M241.71 651.5v6.0M244.95 651.5v6.0M245.76 645.7v6.0M253.87 645.7v6.0M253.87 651.5v6.0M270.09 651.5v6.0M276.58 645.7v6.0M238.47 666.8v5.9M241.71 666.8v5.9M253.06 661.0v5.9M253.06 666.8v5.9M253.87 661.0v5.9M274.96 666.8v5.9M276.58 661.0v5.9M281.44 661.0v5.9M333.95 570.0v5.9M297.87 590.8v6.0M321.12 590.8v6.0M337.96 584.9v6.0M302.68 621.2v6.0M317.11 621.2v6.0M318.72 615.4v6.0M324.33 615.4v6.0M333.15 615.4v6.0M296.26 630.5v6.0M301.08 636.4v6.0M301.88 636.4v6.0M317.11 636.4v6.0M337.96 636.4v6.0M294.66 651.5v6.0M306.69 645.7v6.0M318.72 645.7v6.0M321.92 645.7v6.0M324.33 645.7v6.0M333.95 645.7v6.0M301.88 661.0v5.9M367.79 570.0v5.9M367.79 575.8v5.9M370.23 575.8v5.9M371.85 570.0v5.9M372.66 570.0v5.9M367.79 584.9v6.0M371.85 584.9v6.0M359.69 615.4v6.0M360.50 615.4v6.0M360.50 630.5v6.0M360.50 636.4v6.0M372.66 630.5v6.0M384.82 630.5v6.0M388.88 630.5v6.0M360.50 645.7v6.0M360.50 651.5v6.0M371.85 651.5v6.0M371.85 661.0v5.9M372.66 661.0v5.9M421.43 570.0v5.9M424.69 570.0v5.9M421.43 621.2v6.0M427.95 630.5v6.0M437.72 630.5v6.0M437.72 636.4v6.0M440.17 636.4v6.0M443.42 636.4v6.0M421.43 645.7v6.0M421.43 651.5v6.0"/><path stroke="#b5367a" stroke-width="0.84" d="M239.28 570.0v5.9M240.90 575.8v5.9M242.52 570.0v5.9M252.25 570.0v5.9M252.25 575.8v5.9M255.49 575.8v5.9M256.31 570.0v5.9M257.93 570.0v5.9M263.60 570.0v5.9M266.85 570.0v5.9M268.47 570.0v5.9M272.52 570.0v5.9M274.15 570.0v5.9M274.15 575.8v5.9M279.82 570.0v5.9M281.44 575.8v5.9M257.93 584.9v6.0M269.28 584.9v6.0M271.71 584.9v6.0M279.01 584.9v6.0M282.25 584.9v6.0M239.28 621.2v6.0M240.90 615.4v6.0M242.52 621.2v6.0M252.25 615.4v6.0M255.49 621.2v6.0M256.31 615.4v6.0M257.12 615.4v6.0M257.93 621.2v6.0M261.98 621.2v6.0M265.23 615.4v6.0M266.85 621.2v6.0M271.71 621.2v6.0M273.33 621.2v6.0M274.15 621.2v6.0M279.82 621.2v6.0M239.28 630.5v6.0M247.39 630.5v6.0M255.49 630.5v6.0M257.93 630.5v6.0M257.93 636.4v6.0M260.36 636.4v6.0M271.71 636.4v6.0M240.90 645.7v6.0M249.82 651.5v6.0M256.31 651.5v6.0M257.12 645.7v6.0M266.04 645.7v6.0M274.15 651.5v6.0M276.58 651.5v6.0M249.82 666.8v5.9M250.63 666.8v5.9M255.49 661.0v5.9M256.31 661.0v5.9M256.31 666.8v5.9M260.36 661.0v5.9M268.47 666.8v5.9M274.15 661.0v5.9M279.82 666.8v5.9M301.88 584.9v6.0M304.28 584.9v6.0M321.92 584.9v6.0M333.15 584.9v6.0M320.32 621.2v6.0M294.66 630.5v6.0M324.33 630.5v6.0M301.08 661.0v5.9M352.39 575.8v5.9M356.44 570.0v5.9M361.31 575.8v5.9M362.93 575.8v5.9M371.85 575.8v5.9M372.66 575.8v5.9M377.53 575.8v5.9M384.01 570.0v5.9M384.82 570.0v5.9M385.63 575.8v5.9M388.88 570.0v5.9M351.58 584.9v6.0M351.58 590.8v6.0M352.39 590.8v6.0M356.44 590.8v6.0M357.25 584.9v6.0M380.77 584.9v6.0M388.07 590.8v6.0M388.88 584.9v6.0M351.58 621.2v6.0M356.44 621.2v6.0M377.53 615.4v6.0M381.58 621.2v6.0M384.82 621.2v6.0M388.88 615.4v6.0M392.12 615.4v6.0M351.58 630.5v6.0M352.39 630.5v6.0M361.31 636.4v6.0M369.42 630.5v6.0M377.53 636.4v6.0M380.77 630.5v6.0M384.01 636.4v6.0M392.12 630.5v6.0M392.12 636.4v6.0M356.44 651.5v6.0M370.23 651.5v6.0M383.20 645.7v6.0M385.63 645.7v6.0M388.88 651.5v6.0M356.44 666.8v5.9M357.25 661.0v5.9M359.69 666.8v5.9M361.31 661.0v5.9M361.31 666.8v5.9M372.66 666.8v5.9M377.53 666.8v5.9M383.20 661.0v5.9M384.01 661.0v5.9M384.82 666.8v5.9M385.63 661.0v5.9M385.63 666.8v5.9M388.07 661.0v5.9M388.88 666.8v5.9M392.93 661.0v5.9M417.36 636.4v6.0M424.69 630.5v6.0"/><path stroke="#d1456d" stroke-width="0.84" d="M239.28 575.8v5.9M244.14 570.0v5.9M246.57 570.0v5.9M247.39 570.0v5.9M250.63 575.8v5.9M258.74 570.0v5.9M259.55 570.0v5.9M263.60 575.8v5.9M266.85 575.8v5.9M269.28 575.8v5.9M271.71 575.8v5.9M240.09 584.9v6.0M258.74 590.8v6.0M239.28 615.4v6.0M240.09 621.2v6.0M249.01 621.2v6.0M258.74 615.4v6.0M266.85 615.4v6.0M269.28 615.4v6.0M275.77 621.2v6.0M240.09 630.5v6.0M244.14 630.5v6.0M244.14 636.4v6.0M246.57 636.4v6.0M247.39 636.4v6.0M258.74 636.4v6.0M275.77 630.5v6.0M282.25 630.5v6.0M282.25 636.4v6.0M240.09 651.5v6.0M242.52 645.7v6.0M247.39 645.7v6.0M255.49 651.5v6.0M258.74 651.5v6.0M263.60 645.7v6.0M263.60 651.5v6.0M266.85 651.5v6.0M272.52 651.5v6.0M273.33 645.7v6.0M273.33 651.5v6.0M275.77 651.5v6.0M282.25 651.5v6.0M244.14 661.0v5.9M244.14 666.8v5.9M246.57 661.0v5.9M246.57 666.8v5.9M247.39 661.0v5.9M261.98 661.0v5.9M273.33 661.0v5.9M273.33 666.8v5.9M275.77 661.0v5.9M279.01 666.8v5.9M280.63 661.0v5.9M282.25 661.0v5.9M324.33 570.0v5.9M294.66 584.9v6.0M321.92 590.8v6.0M329.94 590.8v6.0M294.66 615.4v6.0M324.33 621.2v6.0M294.66 661.0v5.9M350.77 570.0v5.9M350.77 575.8v5.9M352.39 570.0v5.9M354.01 575.8v5.9M354.82 575.8v5.9M355.63 575.8v5.9M362.12 570.0v5.9M363.74 570.0v5.9M364.55 570.0v5.9M364.55 575.8v5.9M366.17 570.0v5.9M368.61 570.0v5.9M375.09 575.8v5.9M378.34 575.8v5.9M379.15 570.0v5.9M380.77 570.0v5.9M380.77 575.8v5.9M386.45 575.8v5.9M388.07 575.8v5.9M389.69 570.0v5.9M365.36 590.8v6.0M366.17 584.9v6.0M366.98 584.9v6.0M369.42 584.9v6.0M386.45 584.9v6.0M387.26 590.8v6.0M389.69 590.8v6.0M393.74 584.9v6.0M350.77 621.2v6.0M354.82 621.2v6.0M355.63 621.2v6.0M362.12 621.2v6.0M362.93 615.4v6.0M363.74 615.4v6.0M368.61 621.2v6.0M378.34 615.4v6.0M378.34 621.2v6.0M379.96 615.4v6.0M379.96 621.2v6.0M380.77 615.4v6.0M380.77 621.2v6.0M383.20 621.2v6.0M386.45 615.4v6.0M390.50 621.2v6.0M393.74 615.4v6.0M350.77 636.4v6.0M351.58 636.4v6.0M355.63 630.5v6.0M355.63 636.4v6.0M357.25 636.4v6.0M362.12 636.4v6.0M363.74 636.4v6.0M364.55 636.4v6.0M366.17 630.5v6.0M369.42 636.4v6.0M376.71 630.5v6.0M378.34 630.5v6.0M379.96 636.4v6.0M382.39 630.5v6.0M389.69 636.4v6.0M390.50 630.5v6.0M352.39 651.5v6.0M355.63 651.5v6.0M357.25 645.7v6.0M362.12 651.5v6.0M363.74 651.5v6.0M364.55 645.7v6.0M368.61 645.7v6.0M369.42 645.7v6.0M378.34 645.7v6.0M380.77 651.5v6.0M381.58 645.7v6.0M382.39 651.5v6.0M390.50 645.7v6.0M392.12 645.7v6.0M392.12 651.5v6.0M393.74 651.5v6.0M352.39 666.8v5.9M354.82 661.0v5.9M362.12 666.8v5.9M363.74 666.8v5.9M364.55 666.8v5.9M368.61 661.0v5.9M369.42 666.8v5.9M375.09 661.0v5.9M375.09 666.8v5.9M379.96 666.8v5.9M387.26 661.0v5.9M389.69 661.0v5.9M390.50 661.0v5.9M392.93 666.8v5.9M393.74 666.8v5.9M425.50 600.2v5.9M427.13 600.2v5.9M441.79 600.2v5.9"/><path stroke="#da4a69" stroke-width="0.84" d="M240.09 570.0v5.9M246.57 575.8v5.9M280.63 570.0v5.9M282.25 570.0v5.9M282.25 575.8v5.9M248.20 584.9v6.0M249.01 590.8v6.0M277.39 584.9v6.0M240.09 615.4v6.0M244.14 621.2v6.0M261.98 615.4v6.0M269.28 621.2v6.0M274.15 615.4v6.0M280.63 615.4v6.0M261.98 636.4v6.0M273.33 636.4v6.0M239.28 645.7v6.0M239.28 651.5v6.0M243.33 651.5v6.0M246.57 651.5v6.0M257.93 645.7v6.0M261.98 645.7v6.0M261.98 651.5v6.0M265.23 645.7v6.0M266.85 645.7v6.0M269.28 645.7v6.0M279.01 645.7v6.0M279.01 651.5v6.0M279.82 645.7v6.0M280.63 651.5v6.0M249.01 661.0v5.9M265.23 661.0v5.9M269.28 661.0v5.9M280.63 666.8v5.9M297.07 590.8v6.0M301.88 590.8v6.0M302.68 584.9v6.0M302.68 590.8v6.0M305.08 590.8v6.0M320.32 584.9v6.0M320.32 590.8v6.0M333.95 584.9v6.0M335.55 584.9v6.0M336.36 590.8v6.0M337.16 584.9v6.0M337.16 590.8v6.0M354.82 570.0v5.9M355.63 570.0v5.9M358.87 570.0v5.9M369.42 575.8v5.9M375.09 570.0v5.9M381.58 570.0v5.9M387.26 575.8v5.9M389.69 575.8v5.9M390.50 570.0v5.9M393.74 575.8v5.9M354.01 584.9v6.0M354.82 590.8v6.0M358.87 590.8v6.0M362.12 584.9v6.0M364.55 590.8v6.0M371.04 590.8v6.0M374.28 590.8v6.0M375.90 590.8v6.0M376.71 590.8v6.0M378.34 590.8v6.0M382.39 584.9v6.0M389.69 584.9v6.0M350.77 615.4v6.0M358.87 621.2v6.0M364.55 615.4v6.0M366.17 621.2v6.0M368.61 615.4v6.0M369.42 615.4v6.0M369.42 621.2v6.0M375.09 615.4v6.0M387.26 615.4v6.0M387.26 621.2v6.0M389.69 615.4v6.0M393.74 621.2v6.0M354.01 630.5v6.0M354.82 636.4v6.0M365.36 630.5v6.0M368.61 636.4v6.0M371.04 636.4v6.0M374.28 630.5v6.0M375.09 636.4v6.0M376.71 636.4v6.0M378.34 636.4v6.0M379.15 630.5v6.0M380.77 636.4v6.0M382.39 636.4v6.0M387.26 636.4v6.0M390.50 636.4v6.0M391.31 630.5v6.0M354.82 645.7v6.0M357.25 651.5v6.0M365.36 645.7v6.0M368.61 651.5v6.0M375.09 651.5v6.0M378.34 651.5v6.0M379.96 651.5v6.0M382.39 645.7v6.0M386.45 645.7v6.0M389.69 651.5v6.0M350.77 661.0v5.9M358.87 661.0v5.9M364.55 661.0v5.9M366.17 666.8v5.9M368.61 666.8v5.9M369.42 661.0v5.9M382.39 661.0v5.9M386.45 661.0v5.9M386.45 666.8v5.9M390.50 666.8v5.9M393.74 661.0v5.9M408.40 600.2v5.9M418.99 600.2v5.9M431.20 600.2v5.9M445.05 600.2v5.9"/><path stroke="#ed6563" stroke-width="0.84" d="M240.09 575.8v5.9M277.39 570.0v5.9M246.57 615.4v6.0M282.25 615.4v6.0M277.39 630.5v6.0M240.09 645.7v6.0M244.14 645.7v6.0M249.01 645.7v6.0M259.55 645.7v6.0M251.44 666.8v5.9M259.55 661.0v5.9M277.39 661.0v5.9M294.66 590.8v6.0M317.11 590.8v6.0M333.15 590.8v6.0M311.50 651.5v6.0M353.20 570.0v5.9M358.06 575.8v5.9M366.98 575.8v5.9M371.04 570.0v5.9M376.71 575.8v5.9M379.15 575.8v5.9M391.31 575.8v5.9M394.55 570.0v5.9M358.06 590.8v6.0M353.20 621.2v6.0M354.01 615.4v6.0M358.06 615.4v6.0M358.06 621.2v6.0M375.90 615.4v6.0M379.15 615.4v6.0M391.31 615.4v6.0M394.55 615.4v6.0M394.55 621.2v6.0M358.06 636.4v6.0M379.15 636.4v6.0M394.55 636.4v6.0M354.01 645.7v6.0M354.01 651.5v6.0M358.06 645.7v6.0M366.98 651.5v6.0M371.04 645.7v6.0M374.28 651.5v6.0M379.15 651.5v6.0M387.26 651.5v6.0M391.31 651.5v6.0M350.77 666.8v5.9M353.20 661.0v5.9M353.20 666.8v5.9M358.06 666.8v5.9M374.28 661.0v5.9M374.28 666.8v5.9M375.90 661.0v5.9M391.31 666.8v5.9M407.58 600.2v5.9M420.62 606.0v5.9M425.50 606.0v5.9M436.91 600.2v5.9M438.54 606.0v5.9M440.98 606.0v5.9"/><path stroke="#9f2f7d" stroke-width="0.84" d="M240.90 570.0v5.9M244.95 575.8v5.9M253.06 575.8v5.9M253.87 575.8v5.9M257.12 575.8v5.9M268.47 575.8v5.9M270.90 570.0v5.9M274.96 570.0v5.9M276.58 575.8v5.9M278.20 570.0v5.9M278.20 575.8v5.9M242.52 590.8v6.0M247.39 584.9v6.0M249.82 584.9v6.0M249.82 590.8v6.0M250.63 590.8v6.0M252.25 590.8v6.0M258.74 584.9v6.0M260.36 584.9v6.0M261.98 584.9v6.0M263.60 584.9v6.0M263.60 590.8v6.0M265.23 590.8v6.0M268.47 584.9v6.0M273.33 584.9v6.0M274.15 584.9v6.0M275.77 584.9v6.0M245.76 615.4v6.0M254.68 621.2v6.0M256.31 621.2v6.0M257.12 621.2v6.0M260.36 615.4v6.0M240.90 636.4v6.0M252.25 636.4v6.0M253.06 636.4v6.0M268.47 630.5v6.0M272.52 630.5v6.0M279.82 630.5v6.0M238.47 645.7v6.0M253.06 651.5v6.0M266.04 651.5v6.0M274.96 645.7v6.0M274.96 651.5v6.0M242.52 666.8v5.9M250.63 661.0v5.9M252.25 661.0v5.9M260.36 666.8v5.9M263.60 661.0v5.9M263.60 666.8v5.9M266.04 666.8v5.9M268.47 661.0v5.9M270.90 661.0v5.9M278.20 661.0v5.9M301.08 575.8v5.9M301.88 575.8v5.9M305.08 575.8v5.9M324.33 575.8v5.9M296.26 584.9v6.0M310.70 590.8v6.0M312.30 584.9v6.0M313.10 584.9v6.0M321.12 584.9v6.0M327.54 584.9v6.0M329.14 584.9v6.0M332.35 584.9v6.0M332.35 590.8v6.0M301.08 615.4v6.0M304.28 621.2v6.0M305.08 615.4v6.0M306.69 621.2v6.0M318.72 621.2v6.0M296.26 636.4v6.0M304.28 636.4v6.0M305.08 636.4v6.0M320.32 630.5v6.0M321.92 636.4v6.0M333.15 630.5v6.0M296.26 645.7v6.0M297.07 645.7v6.0M301.08 645.7v6.0M320.32 645.7v6.0M333.15 661.0v5.9M359.69 570.0v5.9M384.82 575.8v5.9M359.69 590.8v6.0M362.93 584.9v6.0M372.66 584.9v6.0M377.53 584.9v6.0M377.53 590.8v6.0M384.01 590.8v6.0M384.82 584.9v6.0M384.82 590.8v6.0M392.12 584.9v6.0M359.69 621.2v6.0M360.50 621.2v6.0M367.79 621.2v6.0M370.23 621.2v6.0M371.85 615.4v6.0M377.53 621.2v6.0M384.82 615.4v6.0M385.63 621.2v6.0M388.07 621.2v6.0M356.44 630.5v6.0M359.69 630.5v6.0M359.69 636.4v6.0M362.93 630.5v6.0M363.74 630.5v6.0M367.79 636.4v6.0M370.23 630.5v6.0M370.23 636.4v6.0M388.07 630.5v6.0M359.69 645.7v6.0M359.69 651.5v6.0M370.23 645.7v6.0M372.66 645.7v6.0M372.66 651.5v6.0M388.88 645.7v6.0M356.44 661.0v5.9M360.50 666.8v5.9M367.79 661.0v5.9M370.23 661.0v5.9M384.82 661.0v5.9M388.88 661.0v5.9M421.43 575.8v5.9M421.43 615.4v6.0M409.21 636.4v6.0M414.91 630.5v6.0M427.95 636.4v6.0M429.58 630.5v6.0M429.58 636.4v6.0M442.61 630.5v6.0M442.61 636.4v6.0"/><path stroke="#be3b76" stroke-width="0.84" d="M242.52 575.8v5.9M243.33 570.0v5.9M243.33 575.8v5.9M249.82 570.0v5.9M254.68 570.0v5.9M254.68 575.8v5.9M256.31 575.8v5.9M260.36 570.0v5.9M260.36 575.8v5.9M265.23 575.8v5.9M270.90 575.8v5.9M272.52 575.8v5.9M244.14 584.9v6.0M246.57 590.8v6.0M254.68 590.8v6.0M257.93 590.8v6.0M259.55 584.9v6.0M260.36 590.8v6.0M261.98 590.8v6.0M266.85 584.9v6.0M266.85 590.8v6.0M271.71 590.8v6.0M273.33 590.8v6.0M279.01 590.8v6.0M282.25 590.8v6.0M243.33 615.4v6.0M243.33 621.2v6.0M247.39 621.2v6.0M254.68 615.4v6.0M255.49 615.4v6.0M257.93 615.4v6.0M260.36 621.2v6.0M263.60 615.4v6.0M268.47 615.4v6.0M272.52 621.2v6.0M275.77 615.4v6.0M279.01 621.2v6.0M246.57 630.5v6.0M249.01 636.4v6.0M257.12 630.5v6.0M259.55 636.4v6.0M261.98 630.5v6.0M269.28 636.4v6.0M279.01 630.5v6.0M242.52 651.5v6.0M247.39 651.5v6.0M257.12 651.5v6.0M257.93 651.5v6.0M265.23 651.5v6.0M268.47 645.7v6.0M270.90 645.7v6.0M281.44 645.7v6.0M281.44 651.5v6.0M239.28 661.0v5.9M243.33 661.0v5.9M247.39 666.8v5.9M249.82 661.0v5.9M255.49 666.8v5.9M257.93 666.8v5.9M258.74 661.0v5.9M266.85 661.0v5.9M272.52 661.0v5.9M272.52 666.8v5.9M274.15 666.8v5.9M320.32 575.8v5.9M297.07 584.9v6.0M305.08 584.9v6.0M306.69 584.9v6.0M306.69 590.8v6.0M307.49 590.8v6.0M308.29 590.8v6.0M313.10 590.8v6.0M317.91 584.9v6.0M318.72 584.9v6.0M329.14 590.8v6.0M333.95 590.8v6.0M335.55 590.8v6.0M294.66 621.2v6.0M301.08 621.2v6.0M324.33 636.4v6.0M333.15 636.4v6.0M302.68 645.7v6.0M361.31 570.0v5.9M362.12 575.8v5.9M363.74 575.8v5.9M379.96 575.8v5.9M381.58 575.8v5.9M383.20 575.8v5.9M384.01 575.8v5.9M388.88 575.8v5.9M392.12 575.8v5.9M352.39 584.9v6.0M355.63 590.8v6.0M357.25 590.8v6.0M362.12 590.8v6.0M362.93 590.8v6.0M363.74 584.9v6.0M363.74 590.8v6.0M366.17 590.8v6.0M378.34 584.9v6.0M379.96 584.9v6.0M380.77 590.8v6.0M381.58 584.9v6.0M384.01 584.9v6.0M388.88 590.8v6.0M390.50 584.9v6.0M392.12 590.8v6.0M392.93 584.9v6.0M392.93 590.8v6.0M393.74 590.8v6.0M352.39 621.2v6.0M357.25 621.2v6.0M383.20 615.4v6.0M384.01 615.4v6.0M385.63 615.4v6.0M392.93 621.2v6.0M350.77 630.5v6.0M352.39 636.4v6.0M354.82 630.5v6.0M362.93 636.4v6.0M375.09 630.5v6.0M379.96 630.5v6.0M381.58 636.4v6.0M383.20 630.5v6.0M383.20 636.4v6.0M385.63 636.4v6.0M351.58 645.7v6.0M352.39 645.7v6.0M361.31 645.7v6.0M362.93 645.7v6.0M362.93 651.5v6.0M366.17 651.5v6.0M377.53 651.5v6.0M379.96 645.7v6.0M380.77 645.7v6.0M381.58 651.5v6.0M383.20 651.5v6.0M384.01 645.7v6.0M384.01 651.5v6.0M384.82 645.7v6.0M385.63 651.5v6.0M388.07 645.7v6.0M392.93 645.7v6.0M392.93 651.5v6.0M352.39 661.0v5.9M357.25 666.8v5.9M362.12 661.0v5.9M362.93 666.8v5.9M367.79 666.8v5.9M370.23 666.8v5.9M380.77 661.0v5.9M383.20 666.8v5.9M392.12 661.0v5.9M392.12 666.8v5.9M421.43 630.5v6.0"/><path stroke="#e95964" stroke-width="0.84" d="M244.14 575.8v5.9M248.20 575.8v5.9M249.01 570.0v5.9M248.20 590.8v6.0M251.44 584.9v6.0M251.44 590.8v6.0M277.39 621.2v6.0M280.63 630.5v6.0M244.14 651.5v6.0M248.20 651.5v6.0M258.74 645.7v6.0M282.25 645.7v6.0M248.20 666.8v5.9M296.26 590.8v6.0M301.08 584.9v6.0M324.33 584.9v6.0M354.01 570.0v5.9M358.87 575.8v5.9M366.98 570.0v5.9M374.28 570.0v5.9M391.31 570.0v5.9M394.55 575.8v5.9M358.06 584.9v6.0M358.87 584.9v6.0M366.98 590.8v6.0M391.31 584.9v6.0M366.17 615.4v6.0M371.04 615.4v6.0M376.71 615.4v6.0M382.39 615.4v6.0M382.39 621.2v6.0M391.31 621.2v6.0M353.20 630.5v6.0M374.28 636.4v6.0M375.90 630.5v6.0M391.31 636.4v6.0M350.77 645.7v6.0M353.20 645.7v6.0M358.87 651.5v6.0M364.55 651.5v6.0M365.36 651.5v6.0M366.98 645.7v6.0M371.04 651.5v6.0M374.28 645.7v6.0M376.71 645.7v6.0M379.15 645.7v6.0M354.01 666.8v5.9M358.06 661.0v5.9M371.04 661.0v5.9M371.04 666.8v5.9M376.71 666.8v5.9M379.15 661.0v5.9M379.15 666.8v5.9M394.55 661.0v5.9M394.55 666.8v5.9M408.40 606.0v5.9M415.73 600.2v5.9M427.13 606.0v5.9M431.20 606.0v5.9M436.09 600.2v5.9M440.98 600.2v5.9M441.79 606.0v5.9"/><path stroke="#e34f65" stroke-width="0.84" d="M247.39 575.8v5.9M248.20 570.0v5.9M249.01 575.8v5.9M258.74 575.8v5.9M259.55 575.8v5.9M261.98 570.0v5.9M261.98 575.8v5.9M279.01 575.8v5.9M240.09 590.8v6.0M244.14 590.8v6.0M277.39 590.8v6.0M248.20 621.2v6.0M249.01 615.4v6.0M259.55 615.4v6.0M259.55 621.2v6.0M277.39 615.4v6.0M248.20 630.5v6.0M248.20 636.4v6.0M259.55 630.5v6.0M277.39 636.4v6.0M280.63 636.4v6.0M246.57 645.7v6.0M248.20 645.7v6.0M249.01 651.5v6.0M255.49 645.7v6.0M259.55 651.5v6.0M260.36 651.5v6.0M269.28 651.5v6.0M271.71 645.7v6.0M275.77 645.7v6.0M280.63 645.7v6.0M240.09 666.8v5.9M249.01 666.8v5.9M259.55 666.8v5.9M261.98 666.8v5.9M282.25 666.8v5.9M304.28 590.8v6.0M318.72 590.8v6.0M311.50 661.0v5.9M353.20 575.8v5.9M357.25 570.0v5.9M365.36 570.0v5.9M365.36 575.8v5.9M368.61 575.8v5.9M369.42 570.0v5.9M371.04 575.8v5.9M374.28 575.8v5.9M375.90 570.0v5.9M376.71 570.0v5.9M382.39 570.0v5.9M382.39 575.8v5.9M386.45 570.0v5.9M393.74 570.0v5.9M353.20 584.9v6.0M353.20 590.8v6.0M354.01 590.8v6.0M365.36 584.9v6.0M371.04 584.9v6.0M374.28 584.9v6.0M375.90 584.9v6.0M376.71 584.9v6.0M379.15 584.9v6.0M379.15 590.8v6.0M391.31 590.8v6.0M394.55 584.9v6.0M394.55 590.8v6.0M354.01 621.2v6.0M354.82 615.4v6.0M355.63 615.4v6.0M358.87 615.4v6.0M362.12 615.4v6.0M365.36 615.4v6.0M365.36 621.2v6.0M366.98 621.2v6.0M371.04 621.2v6.0M374.28 615.4v6.0M374.28 621.2v6.0M375.90 621.2v6.0M376.71 621.2v6.0M379.15 621.2v6.0M389.69 621.2v6.0M353.20 636.4v6.0M354.01 636.4v6.0M358.06 630.5v6.0M358.87 630.5v6.0M358.87 636.4v6.0M366.98 630.5v6.0M371.04 630.5v6.0M394.55 630.5v6.0M350.77 651.5v6.0M354.82 651.5v6.0M355.63 645.7v6.0M358.87 645.7v6.0M369.42 651.5v6.0M375.09 645.7v6.0M375.90 645.7v6.0M376.71 651.5v6.0M386.45 651.5v6.0M390.50 651.5v6.0M391.31 645.7v6.0M393.74 645.7v6.0M394.55 645.7v6.0M354.82 666.8v5.9M355.63 666.8v5.9M358.87 666.8v5.9M365.36 666.8v5.9M366.17 661.0v5.9M366.98 661.0v5.9M376.71 661.0v5.9M378.34 661.0v5.9M378.34 666.8v5.9M387.26 666.8v5.9M391.31 661.0v5.9M418.99 606.0v5.9M420.62 600.2v5.9M432.02 600.2v5.9M433.65 600.2v5.9M435.28 600.2v5.9M435.28 606.0v5.9M438.54 600.2v5.9"/><path stroke="#c74072" stroke-width="0.84" d="M249.82 575.8v5.9M255.49 570.0v5.9M257.93 575.8v5.9M265.23 570.0v5.9M269.28 570.0v5.9M271.71 570.0v5.9M273.33 570.0v5.9M273.33 575.8v5.9M275.77 570.0v5.9M275.77 575.8v5.9M280.63 575.8v5.9M281.44 570.0v5.9M249.01 584.9v6.0M259.55 590.8v6.0M269.28 590.8v6.0M275.77 590.8v6.0M280.63 584.9v6.0M280.63 590.8v6.0M244.14 615.4v6.0M246.57 621.2v6.0M247.39 615.4v6.0M258.74 621.2v6.0M271.71 615.4v6.0M273.33 615.4v6.0M279.01 615.4v6.0M279.82 615.4v6.0M280.63 621.2v6.0M282.25 621.2v6.0M239.28 636.4v6.0M240.09 636.4v6.0M243.33 630.5v6.0M243.33 636.4v6.0M249.01 630.5v6.0M249.82 636.4v6.0M258.74 630.5v6.0M260.36 630.5v6.0M269.28 630.5v6.0M271.71 630.5v6.0M275.77 636.4v6.0M279.01 636.4v6.0M243.33 645.7v6.0M250.63 645.7v6.0M250.63 651.5v6.0M252.25 645.7v6.0M254.68 645.7v6.0M254.68 651.5v6.0M256.31 645.7v6.0M260.36 645.7v6.0M268.47 651.5v6.0M270.90 651.5v6.0M271.71 651.5v6.0M272.52 645.7v6.0M274.15 645.7v6.0M278.20 645.7v6.0M239.28 666.8v5.9M240.09 661.0v5.9M243.33 666.8v5.9M254.68 661.0v5.9M257.12 661.0v5.9M257.93 661.0v5.9M258.74 666.8v5.9M269.28 666.8v5.9M271.71 666.8v5.9M275.77 666.8v5.9M279.01 661.0v5.9M294.66 570.0v5.9M312.30 590.8v6.0M317.11 584.9v6.0M322.72 584.9v6.0M337.96 590.8v6.0M311.50 606.0v5.9M294.66 636.4v6.0M351.58 570.0v5.9M351.58 575.8v5.9M357.25 575.8v5.9M362.93 570.0v5.9M366.17 575.8v5.9M378.34 570.0v5.9M379.96 570.0v5.9M383.20 570.0v5.9M387.26 570.0v5.9M388.07 570.0v5.9M390.50 575.8v5.9M392.12 570.0v5.9M392.93 570.0v5.9M392.93 575.8v5.9M350.77 584.9v6.0M350.77 590.8v6.0M354.82 584.9v6.0M355.63 584.9v6.0M364.55 584.9v6.0M368.61 584.9v6.0M368.61 590.8v6.0M369.42 590.8v6.0M375.09 584.9v6.0M375.09 590.8v6.0M382.39 590.8v6.0M386.45 590.8v6.0M387.26 584.9v6.0M390.50 590.8v6.0M351.58 615.4v6.0M352.39 615.4v6.0M357.25 615.4v6.0M361.31 615.4v6.0M363.74 621.2v6.0M364.55 621.2v6.0M375.09 621.2v6.0M381.58 615.4v6.0M384.01 621.2v6.0M386.45 621.2v6.0M388.07 615.4v6.0M390.50 615.4v6.0M392.93 615.4v6.0M357.25 630.5v6.0M362.12 630.5v6.0M364.55 630.5v6.0M365.36 636.4v6.0M366.17 636.4v6.0M368.61 630.5v6.0M386.45 630.5v6.0M386.45 636.4v6.0M387.26 630.5v6.0M388.07 636.4v6.0M389.69 630.5v6.0M392.93 636.4v6.0M393.74 636.4v6.0M351.58 651.5v6.0M361.31 651.5v6.0M362.12 645.7v6.0M363.74 645.7v6.0M366.17 645.7v6.0M387.26 645.7v6.0M388.07 651.5v6.0M389.69 645.7v6.0M351.58 661.0v5.9M351.58 666.8v5.9M354.01 661.0v5.9M355.63 661.0v5.9M363.74 661.0v5.9M365.36 661.0v5.9M379.96 661.0v5.9M380.77 666.8v5.9M381.58 666.8v5.9M382.39 666.8v5.9M384.01 666.8v5.9M388.07 666.8v5.9M389.69 666.8v5.9M421.43 636.4v6.0"/><path stroke="#fc9268" stroke-width="0.84" d="M251.44 570.0v5.9M267.66 590.8v6.0M251.44 615.4v6.0M267.66 615.4v6.0M267.66 621.2v6.0M267.66 630.5v6.0M251.44 651.5v6.0M267.66 666.8v5.9M311.50 570.0v5.9M311.50 575.8v5.9M324.33 590.8v6.0M373.47 661.0v5.9M373.47 666.8v5.9M414.91 606.0v5.9M422.24 600.2v5.9M422.24 606.0v5.9M423.87 606.0v5.9M432.83 600.2v5.9M434.46 606.0v5.9"/><path stroke="#fb8761" stroke-width="0.84" d="M251.44 575.8v5.9M277.39 575.8v5.9M267.66 636.4v6.0M277.39 645.7v6.0M251.44 661.0v5.9M311.50 630.5v6.0M311.50 636.4v6.0M373.47 570.0v5.9M373.47 590.8v6.0M373.47 615.4v6.0M373.47 621.2v6.0M373.47 636.4v6.0M373.47 645.7v6.0M406.77 600.2v5.9M407.58 606.0v5.9M412.47 606.0v5.9M414.10 600.2v5.9M414.91 600.2v5.9M415.73 606.0v5.9M416.54 600.2v5.9M430.39 606.0v5.9M436.91 606.0v5.9M439.35 600.2v5.9M444.24 606.0v5.9"/><path stroke="#aa327b" stroke-width="0.84" d="M257.12 570.0v5.9M266.04 570.0v5.9M274.96 575.8v5.9M279.01 570.0v5.9M279.82 575.8v5.9M239.28 590.8v6.0M243.33 584.9v6.0M243.33 590.8v6.0M246.57 584.9v6.0M247.39 590.8v6.0M254.68 584.9v6.0M257.12 584.9v6.0M257.12 590.8v6.0M265.23 584.9v6.0M268.47 590.8v6.0M270.90 584.9v6.0M270.90 590.8v6.0M272.52 590.8v6.0M274.15 590.8v6.0M278.20 590.8v6.0M279.82 590.8v6.0M242.52 615.4v6.0M249.82 615.4v6.0M249.82 621.2v6.0M250.63 615.4v6.0M265.23 621.2v6.0M268.47 621.2v6.0M272.52 615.4v6.0M242.52 636.4v6.0M250.63 630.5v6.0M250.63 636.4v6.0M252.25 630.5v6.0M254.68 630.5v6.0M254.68 636.4v6.0M255.49 636.4v6.0M257.12 636.4v6.0M263.60 630.5v6.0M263.60 636.4v6.0M265.23 630.5v6.0M265.23 636.4v6.0M266.04 636.4v6.0M266.85 630.5v6.0M266.85 636.4v6.0M268.47 636.4v6.0M270.90 630.5v6.0M272.52 636.4v6.0M273.33 630.5v6.0M274.15 630.5v6.0M274.15 636.4v6.0M279.82 636.4v6.0M240.90 651.5v6.0M241.71 645.7v6.0M249.82 645.7v6.0M252.25 651.5v6.0M253.06 645.7v6.0M270.09 645.7v6.0M278.20 651.5v6.0M279.82 651.5v6.0M240.90 666.8v5.9M242.52 661.0v5.9M252.25 666.8v5.9M254.68 666.8v5.9M257.12 666.8v5.9M265.23 666.8v5.9M266.85 666.8v5.9M271.71 661.0v5.9M278.20 666.8v5.9M279.82 661.0v5.9M294.66 575.8v5.9M301.08 570.0v5.9M306.69 575.8v5.9M297.87 584.9v6.0M299.47 584.9v6.0M299.47 590.8v6.0M327.54 590.8v6.0M329.94 584.9v6.0M336.36 584.9v6.0M311.50 600.2v5.9M297.07 621.2v6.0M301.88 621.2v6.0M306.69 636.4v6.0M294.66 645.7v6.0M294.66 666.8v5.9M306.69 661.0v5.9M333.95 661.0v5.9M356.44 575.8v5.9M359.69 575.8v5.9M370.23 570.0v5.9M377.53 570.0v5.9M385.63 570.0v5.9M356.44 584.9v6.0M361.31 584.9v6.0M361.31 590.8v6.0M372.66 590.8v6.0M379.96 590.8v6.0M381.58 590.8v6.0M383.20 584.9v6.0M383.20 590.8v6.0M385.63 584.9v6.0M385.63 590.8v6.0M388.07 584.9v6.0M356.44 615.4v6.0M361.31 621.2v6.0M362.93 621.2v6.0M367.79 615.4v6.0M370.23 615.4v6.0M371.85 621.2v6.0M372.66 615.4v6.0M372.66 621.2v6.0M388.88 621.2v6.0M392.12 621.2v6.0M356.44 636.4v6.0M361.31 630.5v6.0M372.66 636.4v6.0M377.53 630.5v6.0M381.58 630.5v6.0M384.01 630.5v6.0M384.82 636.4v6.0M385.63 630.5v6.0M388.88 636.4v6.0M392.93 630.5v6.0M393.74 630.5v6.0M356.44 645.7v6.0M367.79 645.7v6.0M367.79 651.5v6.0M371.85 645.7v6.0M377.53 645.7v6.0M384.82 651.5v6.0M359.69 661.0v5.9M362.93 661.0v5.9M371.85 666.8v5.9M377.53 661.0v5.9M381.58 661.0v5.9M421.43 584.9v6.0M417.36 630.5v6.0M424.69 636.4v6.0M443.42 630.5v6.0"/><path stroke="#4f127b" stroke-width="0.84" d="M261.17 570.0v5.9M262.79 584.9v6.0M244.14 600.2v5.9M244.14 606.0v5.9M248.20 606.0v5.9M254.68 600.2v5.9M258.74 600.2v5.9M259.55 606.0v5.9M260.36 600.2v5.9M273.33 600.2v5.9M275.77 600.2v5.9M275.77 606.0v5.9M282.25 606.0v5.9M312.30 575.8v5.9M314.71 570.0v5.9M315.51 575.8v5.9M321.12 570.0v5.9M328.34 575.8v5.9M300.27 584.9v6.0M326.73 590.8v6.0M334.75 584.9v6.0M294.66 600.2v5.9M296.26 600.2v5.9M296.26 606.0v5.9M297.87 606.0v5.9M306.69 600.2v5.9M320.32 600.2v5.9M333.15 606.0v5.9M295.46 615.4v6.0M295.46 621.2v6.0M307.49 615.4v6.0M307.49 621.2v6.0M314.71 621.2v6.0M315.51 621.2v6.0M325.13 621.2v6.0M325.93 615.4v6.0M325.93 621.2v6.0M328.34 621.2v6.0M332.35 615.4v6.0M332.35 621.2v6.0M307.49 636.4v6.0M328.34 636.4v6.0M296.26 651.5v6.0M337.16 645.7v6.0M309.09 666.8v5.9M313.10 666.8v5.9M329.14 666.8v5.9M336.36 666.8v5.9M353.20 606.0v5.9M354.01 606.0v5.9M358.87 600.2v5.9M371.04 600.2v5.9M371.04 606.0v5.9M375.90 606.0v5.9M378.34 606.0v5.9M379.15 600.2v5.9M387.26 606.0v5.9M391.31 606.0v5.9M393.74 606.0v5.9M394.55 606.0v5.9M415.73 570.0v5.9M416.54 570.0v5.9M416.54 575.8v5.9M423.06 570.0v5.9M423.06 575.8v5.9M423.87 575.8v5.9M426.32 575.8v5.9M439.35 575.8v5.9M444.24 570.0v5.9M411.65 584.9v6.0M416.54 584.9v6.0M423.87 584.9v6.0M423.87 590.8v6.0M439.35 584.9v6.0M410.03 615.4v6.0M411.65 621.2v6.0M414.10 615.4v6.0M416.54 615.4v6.0M423.87 615.4v6.0M434.46 615.4v6.0M408.40 630.5v6.0M418.17 636.4v6.0M426.32 630.5v6.0M428.76 636.4v6.0M431.20 636.4v6.0M433.65 630.5v6.0M435.28 636.4v6.0M436.91 630.5v6.0M440.98 636.4v6.0M441.79 630.5v6.0M410.84 645.7v6.0M411.65 645.7v6.0M412.47 645.7v6.0M422.24 651.5v6.0M423.87 645.7v6.0M423.87 651.5v6.0M428.76 645.7v6.0M430.39 645.7v6.0M440.17 651.5v6.0M409.21 661.0v5.9M432.83 666.8v5.9M443.42 661.0v5.9"/><path stroke="#7f2481" stroke-width="0.84" d="M261.17 575.8v5.9M262.79 575.8v5.9M264.41 570.0v5.9M276.58 570.0v5.9M238.47 590.8v6.0M240.90 590.8v6.0M241.71 590.8v6.0M252.25 584.9v6.0M253.06 584.9v6.0M253.87 584.9v6.0M253.87 590.8v6.0M266.04 590.8v6.0M281.44 590.8v6.0M241.71 615.4v6.0M241.71 621.2v6.0M244.95 615.4v6.0M245.76 621.2v6.0M253.06 615.4v6.0M264.41 615.4v6.0M266.04 615.4v6.0M274.96 615.4v6.0M240.90 630.5v6.0M244.95 630.5v6.0M244.95 636.4v6.0M262.79 630.5v6.0M266.04 630.5v6.0M244.95 666.8v5.9M245.76 666.8v5.9M262.79 666.8v5.9M276.58 666.8v5.9M296.26 570.0v5.9M302.68 570.0v5.9M304.28 570.0v5.9M317.11 575.8v5.9M321.92 570.0v5.9M333.15 570.0v5.9M333.15 575.8v5.9M337.96 570.0v5.9M309.90 590.8v6.0M315.51 590.8v6.0M317.91 590.8v6.0M325.13 584.9v6.0M326.73 584.9v6.0M296.26 615.4v6.0M297.87 615.4v6.0M302.68 615.4v6.0M317.11 615.4v6.0M320.32 615.4v6.0M333.95 621.2v6.0M337.16 621.2v6.0M302.68 636.4v6.0M318.72 636.4v6.0M321.12 636.4v6.0M333.95 630.5v6.0M333.95 636.4v6.0M335.55 630.5v6.0M301.88 645.7v6.0M305.08 645.7v6.0M306.69 651.5v6.0M327.54 651.5v6.0M336.36 645.7v6.0M296.26 666.8v5.9M305.08 666.8v5.9M317.11 661.0v5.9M335.55 661.0v5.9M336.36 661.0v5.9M360.50 570.0v5.9M367.79 590.8v6.0M367.79 630.5v6.0M371.85 630.5v6.0M409.21 570.0v5.9M427.95 570.0v5.9M437.72 570.0v5.9M442.61 575.8v5.9M443.42 575.8v5.9M421.43 590.8v6.0M417.36 615.4v6.0M417.36 621.2v6.0M424.69 615.4v6.0M443.42 621.2v6.0M406.77 630.5v6.0M406.77 636.4v6.0M409.21 630.5v6.0M410.03 630.5v6.0M414.10 636.4v6.0M422.24 636.4v6.0M423.06 636.4v6.0M432.83 636.4v6.0M440.17 630.5v6.0M417.36 651.5v6.0M424.69 645.7v6.0M427.95 645.7v6.0M429.58 645.7v6.0"/><path stroke="#752180" stroke-width="0.84" d="M262.79 570.0v5.9M270.09 570.0v5.9M240.90 584.9v6.0M241.71 584.9v6.0M244.95 584.9v6.0M245.76 590.8v6.0M261.17 590.8v6.0M262.79 590.8v6.0M264.41 590.8v6.0M266.04 584.9v6.0M270.09 590.8v6.0M274.96 590.8v6.0M281.44 584.9v6.0M251.44 600.2v5.9M251.44 606.0v5.9M238.47 621.2v6.0M244.95 621.2v6.0M261.17 615.4v6.0M264.41 621.2v6.0M270.09 615.4v6.0M270.09 621.2v6.0M241.71 630.5v6.0M253.87 630.5v6.0M264.41 630.5v6.0M270.09 630.5v6.0M274.96 630.5v6.0M276.58 630.5v6.0M261.17 645.7v6.0M238.47 661.0v5.9M264.41 661.0v5.9M264.41 666.8v5.9M274.96 661.0v5.9M306.69 570.0v5.9M307.49 575.8v5.9M317.11 570.0v5.9M317.91 570.0v5.9M320.32 570.0v5.9M329.14 575.8v5.9M333.95 575.8v5.9M305.89 584.9v6.0M307.49 584.9v6.0M309.90 584.9v6.0M316.31 590.8v6.0M301.08 606.0v5.9M321.92 615.4v6.0M321.92 621.2v6.0M327.54 621.2v6.0M329.94 615.4v6.0M329.94 621.2v6.0M333.95 615.4v6.0M297.07 630.5v6.0M299.47 630.5v6.0M299.47 636.4v6.0M301.88 630.5v6.0M304.28 630.5v6.0M306.69 630.5v6.0M307.49 630.5v6.0M312.30 636.4v6.0M313.10 636.4v6.0M317.11 630.5v6.0M327.54 636.4v6.0M297.07 651.5v6.0M320.32 651.5v6.0M328.34 645.7v6.0M332.35 651.5v6.0M297.07 661.0v5.9M297.07 666.8v5.9M297.87 666.8v5.9M299.47 666.8v5.9M302.68 661.0v5.9M304.28 661.0v5.9M312.30 666.8v5.9M317.11 666.8v5.9M320.32 661.0v5.9M321.12 661.0v5.9M321.92 661.0v5.9M335.55 666.8v5.9M409.21 575.8v5.9M417.36 575.8v5.9M424.69 575.8v5.9M429.58 570.0v5.9M442.61 570.0v5.9M424.69 590.8v6.0M429.58 584.9v6.0M437.72 590.8v6.0M443.42 590.8v6.0M409.21 615.4v6.0M440.17 621.2v6.0M442.61 615.4v6.0M410.03 636.4v6.0M410.84 636.4v6.0M413.28 636.4v6.0M414.91 636.4v6.0M419.80 630.5v6.0M423.87 630.5v6.0M444.24 636.4v6.0M409.21 645.7v6.0M424.69 651.5v6.0M427.95 651.5v6.0M442.61 645.7v6.0M442.61 651.5v6.0"/><path stroke="#fdb47e" stroke-width="0.84" d="M267.66 570.0v5.9M267.66 575.8v5.9M267.66 651.5v6.0M267.66 661.0v5.9M406.77 606.0v5.9M424.69 600.2v5.9M429.58 600.2v5.9M443.42 600.2v5.9"/><path stroke="#59167c" stroke-width="0.84" d="M238.47 584.9v6.0M270.09 584.9v6.0M248.20 600.2v5.9M249.01 606.0v5.9M269.28 600.2v5.9M279.01 600.2v5.9M280.63 606.0v5.9M264.41 636.4v6.0M296.26 575.8v5.9M308.29 570.0v5.9M314.71 575.8v5.9M327.54 570.0v5.9M327.54 575.8v5.9M329.94 570.0v5.9M335.55 570.0v5.9M314.71 584.9v6.0M328.34 590.8v6.0M331.54 590.8v6.0M294.66 606.0v5.9M320.32 606.0v5.9M324.33 600.2v5.9M308.29 621.2v6.0M315.51 615.4v6.0M317.91 621.2v6.0M321.12 621.2v6.0M327.54 615.4v6.0M328.34 615.4v6.0M336.36 615.4v6.0M337.96 615.4v6.0M295.46 636.4v6.0M313.10 630.5v6.0M325.93 636.4v6.0M329.14 630.5v6.0M332.35 636.4v6.0M337.16 636.4v6.0M337.96 630.5v6.0M301.88 651.5v6.0M329.14 651.5v6.0M335.55 645.7v6.0M335.55 651.5v6.0M297.87 661.0v5.9M299.47 661.0v5.9M310.70 666.8v5.9M327.54 666.8v5.9M337.96 661.0v5.9M406.77 570.0v5.9M406.77 575.8v5.9M411.65 575.8v5.9M414.91 575.8v5.9M422.24 570.0v5.9M422.24 575.8v5.9M426.32 570.0v5.9M429.58 575.8v5.9M432.83 575.8v5.9M439.35 570.0v5.9M406.77 584.9v6.0M410.03 584.9v6.0M410.03 590.8v6.0M414.10 590.8v6.0M414.91 590.8v6.0M422.24 590.8v6.0M423.06 584.9v6.0M432.83 584.9v6.0M440.17 584.9v6.0M440.17 590.8v6.0M410.03 621.2v6.0M410.84 615.4v6.0M410.84 621.2v6.0M411.65 615.4v6.0M422.24 615.4v6.0M422.24 621.2v6.0M423.06 621.2v6.0M432.83 621.2v6.0M407.58 636.4v6.0M408.40 636.4v6.0M415.73 630.5v6.0M415.73 636.4v6.0M416.54 636.4v6.0M428.76 630.5v6.0M432.02 630.5v6.0M432.02 636.4v6.0M435.28 630.5v6.0M440.98 630.5v6.0M444.24 630.5v6.0M410.03 645.7v6.0M419.80 645.7v6.0M439.35 645.7v6.0M440.17 645.7v6.0M409.21 666.8v5.9M417.36 666.8v5.9M421.43 666.8v5.9M427.95 661.0v5.9"/><path stroke="#6c1d7e" stroke-width="0.84" d="M245.76 584.9v6.0M264.41 584.9v6.0M274.96 584.9v6.0M246.57 606.0v5.9M249.01 600.2v5.9M253.87 621.2v6.0M262.79 621.2v6.0M238.47 630.5v6.0M238.47 636.4v6.0M241.71 636.4v6.0M245.76 636.4v6.0M253.87 636.4v6.0M262.79 636.4v6.0M270.09 636.4v6.0M241.71 661.0v5.9M261.17 661.0v5.9M297.07 570.0v5.9M297.87 575.8v5.9M301.88 570.0v5.9M318.72 575.8v5.9M321.12 575.8v5.9M321.92 575.8v5.9M329.14 570.0v5.9M332.35 575.8v5.9M337.16 575.8v5.9M315.51 584.9v6.0M322.72 590.8v6.0M328.34 584.9v6.0M330.74 590.8v6.0M334.75 590.8v6.0M317.11 606.0v5.9M297.07 615.4v6.0M304.28 615.4v6.0M312.30 615.4v6.0M297.07 636.4v6.0M297.87 630.5v6.0M297.87 636.4v6.0M312.30 630.5v6.0M318.72 630.5v6.0M321.92 630.5v6.0M329.14 636.4v6.0M329.94 630.5v6.0M329.94 636.4v6.0M332.35 630.5v6.0M335.55 636.4v6.0M297.87 645.7v6.0M301.08 651.5v6.0M313.10 645.7v6.0M317.11 651.5v6.0M321.12 645.7v6.0M321.92 651.5v6.0M325.93 645.7v6.0M329.94 645.7v6.0M333.95 651.5v6.0M304.28 666.8v5.9M310.70 661.0v5.9M318.72 661.0v5.9M321.12 666.8v5.9M327.54 661.0v5.9M332.35 666.8v5.9M333.15 666.8v5.9M333.95 666.8v5.9M337.96 666.8v5.9M373.47 606.0v5.9M410.03 570.0v5.9M414.91 570.0v5.9M417.36 570.0v5.9M443.42 570.0v5.9M409.21 584.9v6.0M409.21 590.8v6.0M427.95 584.9v6.0M429.58 590.8v6.0M437.72 584.9v6.0M409.21 621.2v6.0M427.95 621.2v6.0M429.58 615.4v6.0M429.58 621.2v6.0M432.83 615.4v6.0M410.84 630.5v6.0M411.65 630.5v6.0M411.65 636.4v6.0M413.28 630.5v6.0M419.80 636.4v6.0M423.87 636.4v6.0M426.32 636.4v6.0M434.46 630.5v6.0M434.46 636.4v6.0M439.35 636.4v6.0M409.21 651.5v6.0M414.10 645.7v6.0M414.91 645.7v6.0M422.24 645.7v6.0M429.58 651.5v6.0M432.83 645.7v6.0M437.72 645.7v6.0"/><path stroke="#62197d" stroke-width="0.84" d="M261.17 584.9v6.0M276.58 584.9v6.0M240.09 600.2v5.9M246.57 600.2v5.9M259.55 600.2v5.9M271.71 606.0v5.9M277.39 600.2v5.9M277.39 606.0v5.9M280.63 600.2v5.9M282.25 600.2v5.9M261.17 630.5v6.0M245.76 661.0v5.9M261.17 666.8v5.9M297.87 570.0v5.9M299.47 575.8v5.9M304.28 575.8v5.9M307.49 570.0v5.9M329.94 575.8v5.9M332.35 570.0v5.9M335.55 575.8v5.9M336.36 570.0v5.9M295.46 584.9v6.0M300.27 590.8v6.0M309.09 590.8v6.0M313.90 590.8v6.0M323.53 584.9v6.0M330.74 584.9v6.0M324.33 606.0v5.9M297.87 621.2v6.0M312.30 621.2v6.0M313.10 615.4v6.0M329.14 621.2v6.0M337.16 615.4v6.0M327.54 630.5v6.0M336.36 630.5v6.0M336.36 636.4v6.0M337.16 630.5v6.0M304.28 651.5v6.0M312.30 645.7v6.0M327.54 645.7v6.0M332.35 645.7v6.0M337.16 651.5v6.0M302.68 666.8v5.9M307.49 666.8v5.9M312.30 661.0v5.9M313.10 661.0v5.9M318.72 666.8v5.9M321.92 666.8v5.9M329.14 661.0v5.9M329.94 661.0v5.9M332.35 661.0v5.9M337.16 661.0v5.9M358.06 606.0v5.9M373.47 600.2v5.9M411.65 570.0v5.9M414.10 570.0v5.9M427.95 575.8v5.9M432.83 570.0v5.9M440.17 570.0v5.9M440.17 575.8v5.9M410.84 584.9v6.0M414.10 584.9v6.0M423.06 590.8v6.0M427.95 590.8v6.0M432.83 590.8v6.0M442.61 584.9v6.0M442.61 590.8v6.0M443.42 584.9v6.0M406.77 615.4v6.0M414.10 621.2v6.0M414.91 621.2v6.0M423.06 615.4v6.0M427.95 615.4v6.0M437.72 615.4v6.0M440.17 615.4v6.0M442.61 621.2v6.0M443.42 615.4v6.0M407.58 630.5v6.0M412.47 630.5v6.0M412.47 636.4v6.0M416.54 630.5v6.0M422.24 630.5v6.0M430.39 630.5v6.0M430.39 636.4v6.0M436.09 636.4v6.0M406.77 645.7v6.0M423.06 645.7v6.0M432.83 651.5v6.0M434.46 645.7v6.0M437.72 651.5v6.0M443.42 651.5v6.0M417.36 661.0v5.9M421.43 661.0v5.9M424.69 666.8v5.9M429.58 666.8v5.9"/><path stroke="#f67c62" stroke-width="0.84" d="M267.66 584.9v6.0M251.44 621.2v6.0M251.44 630.5v6.0M251.44 636.4v6.0M277.39 651.5v6.0M248.20 661.0v5.9M311.50 615.4v6.0M358.06 570.0v5.9M373.47 575.8v5.9M375.90 575.8v5.9M373.47 584.9v6.0M358.06 651.5v6.0M394.55 651.5v6.0M410.03 600.2v5.9M410.84 600.2v5.9M411.65 600.2v5.9M412.47 600.2v5.9M423.87 600.2v5.9M432.02 606.0v5.9M440.17 600.2v5.9"/><path stroke="#1b0f42" stroke-width="0.84" d="M238.47 600.2v5.9M240.90 600.2v5.9M240.90 606.0v5.9M245.76 606.0v5.9M250.63 606.0v5.9M262.79 606.0v5.9M263.60 600.2v5.9M264.41 606.0v5.9M268.47 606.0v5.9M270.90 606.0v5.9M309.90 570.0v5.9M317.91 575.8v5.9M319.52 570.0v5.9M323.53 570.0v5.9M323.53 575.8v5.9M302.68 600.2v5.9M304.28 606.0v5.9M307.49 600.2v5.9M312.30 600.2v5.9M315.51 600.2v5.9M325.13 600.2v5.9M327.54 600.2v5.9M337.16 600.2v5.9M314.71 615.4v6.0M323.53 615.4v6.0M325.13 615.4v6.0M334.75 621.2v6.0M316.31 636.4v6.0M317.91 630.5v6.0M313.90 651.5v6.0M315.51 651.5v6.0M316.31 645.7v6.0M317.91 651.5v6.0M300.27 666.8v5.9M314.71 666.8v5.9M319.52 661.0v5.9M323.53 666.8v5.9M329.94 666.8v5.9M351.58 600.2v5.9M352.39 600.2v5.9M359.69 606.0v5.9M363.74 600.2v5.9M370.23 600.2v5.9M370.23 606.0v5.9M380.77 606.0v5.9M383.20 600.2v5.9M384.01 600.2v5.9M384.01 606.0v5.9M385.63 600.2v5.9M388.07 600.2v5.9M388.88 606.0v5.9M407.58 570.0v5.9M430.39 575.8v5.9M431.20 570.0v5.9M433.65 570.0v5.9M436.09 575.8v5.9M438.54 575.8v5.9M440.98 570.0v5.9M445.05 570.0v5.9M445.05 575.8v5.9M407.58 590.8v6.0M408.40 590.8v6.0M415.73 584.9v6.0M418.99 584.9v6.0M420.62 584.9v6.0M427.13 584.9v6.0M432.02 584.9v6.0M432.02 590.8v6.0M433.65 584.9v6.0M435.28 584.9v6.0M435.28 590.8v6.0M436.09 590.8v6.0M436.91 590.8v6.0M438.54 590.8v6.0M440.98 584.9v6.0M441.79 590.8v6.0M445.05 584.9v6.0M418.99 615.4v6.0M418.99 621.2v6.0M420.62 615.4v6.0M431.20 615.4v6.0M432.02 621.2v6.0M435.28 621.2v6.0M438.54 621.2v6.0M445.05 615.4v6.0M445.05 621.2v6.0M407.58 651.5v6.0M420.62 651.5v6.0M431.20 645.7v6.0M433.65 651.5v6.0M435.28 651.5v6.0M436.09 645.7v6.0M436.09 651.5v6.0M436.91 651.5v6.0M438.54 651.5v6.0M440.98 651.5v6.0M441.79 645.7v6.0M410.03 661.0v5.9M410.84 661.0v5.9M426.32 661.0v5.9M432.02 661.0v5.9M434.46 661.0v5.9M436.09 661.0v5.9M439.35 661.0v5.9M440.98 661.0v5.9M440.98 666.8v5.9M444.24 661.0v5.9M445.05 666.8v5.9"/><path stroke="#24104d" stroke-width="0.84" d="M238.47 606.0v5.9M241.71 600.2v5.9M241.71 606.0v5.9M242.52 600.2v5.9M247.39 606.0v5.9M253.06 600.2v5.9M253.06 606.0v5.9M255.49 606.0v5.9M257.12 600.2v5.9M262.79 600.2v5.9M266.04 600.2v5.9M276.58 606.0v5.9M278.20 600.2v5.9M278.20 606.0v5.9M279.82 606.0v5.9M310.70 570.0v5.9M310.70 575.8v5.9M319.52 575.8v5.9M325.13 570.0v5.9M325.13 575.8v5.9M325.93 575.8v5.9M330.74 575.8v5.9M298.67 590.8v6.0M297.87 600.2v5.9M301.08 600.2v5.9M310.70 606.0v5.9M312.30 606.0v5.9M317.91 606.0v5.9M318.72 600.2v5.9M321.12 606.0v5.9M321.92 600.2v5.9M321.92 606.0v5.9M325.13 606.0v5.9M325.93 600.2v5.9M332.35 606.0v5.9M337.16 606.0v5.9M309.09 615.4v6.0M313.90 615.4v6.0M331.54 621.2v6.0M300.27 630.5v6.0M300.27 636.4v6.0M315.51 630.5v6.0M315.51 636.4v6.0M334.75 636.4v6.0M300.27 645.7v6.0M310.70 645.7v6.0M295.46 666.8v5.9M313.90 661.0v5.9M316.31 661.0v5.9M331.54 661.0v5.9M331.54 666.8v5.9M351.58 606.0v5.9M352.39 606.0v5.9M354.82 600.2v5.9M355.63 600.2v5.9M356.44 606.0v5.9M362.12 600.2v5.9M362.93 600.2v5.9M375.09 600.2v5.9M377.53 600.2v5.9M379.96 606.0v5.9M383.20 606.0v5.9M384.82 600.2v5.9M384.82 606.0v5.9M386.45 600.2v5.9M389.69 600.2v5.9M392.93 606.0v5.9M393.74 600.2v5.9M407.58 575.8v5.9M425.50 570.0v5.9M425.50 575.8v5.9M435.28 575.8v5.9M440.98 575.8v5.9M441.79 570.0v5.9M431.20 584.9v6.0M431.20 590.8v6.0M440.98 590.8v6.0M444.24 584.9v6.0M444.24 590.8v6.0M407.58 615.4v6.0M408.40 615.4v6.0M412.47 621.2v6.0M418.17 615.4v6.0M420.62 621.2v6.0M433.65 615.4v6.0M433.65 621.2v6.0M440.98 615.4v6.0M441.79 621.2v6.0M408.40 645.7v6.0M412.47 651.5v6.0M418.99 645.7v6.0M420.62 645.7v6.0M427.13 645.7v6.0M431.20 651.5v6.0M432.02 651.5v6.0M433.65 645.7v6.0M438.54 645.7v6.0M440.98 645.7v6.0M445.05 651.5v6.0M407.58 661.0v5.9M410.03 666.8v5.9M410.84 666.8v5.9M415.73 661.0v5.9M415.73 666.8v5.9M416.54 661.0v5.9M419.80 666.8v5.9M422.24 661.0v5.9M440.17 661.0v5.9M444.24 666.8v5.9"/><path stroke="#3a1164" stroke-width="0.84" d="M239.28 600.2v5.9M240.09 606.0v5.9M243.33 606.0v5.9M249.82 606.0v5.9M250.63 600.2v5.9M254.68 606.0v5.9M256.31 606.0v5.9M257.93 600.2v5.9M261.98 600.2v5.9M263.60 606.0v5.9M265.23 600.2v5.9M266.85 600.2v5.9M266.85 606.0v5.9M268.47 600.2v5.9M269.28 606.0v5.9M276.58 600.2v5.9M281.44 600.2v5.9M295.46 575.8v5.9M312.30 570.0v5.9M313.10 570.0v5.9M313.90 575.8v5.9M322.72 570.0v5.9M328.34 570.0v5.9M309.09 584.9v6.0M319.52 584.9v6.0M295.46 606.0v5.9M297.07 600.2v5.9M304.28 600.2v5.9M305.08 606.0v5.9M317.11 600.2v5.9M317.91 600.2v5.9M318.72 606.0v5.9M322.72 606.0v5.9M329.94 600.2v5.9M332.35 600.2v5.9M335.55 600.2v5.9M337.96 606.0v5.9M300.27 621.2v6.0M309.90 621.2v6.0M322.72 621.2v6.0M326.73 621.2v6.0M329.14 615.4v6.0M309.09 636.4v6.0M309.90 636.4v6.0M314.71 636.4v6.0M322.72 630.5v6.0M325.13 636.4v6.0M325.93 630.5v6.0M295.46 645.7v6.0M307.49 651.5v6.0M308.29 651.5v6.0M309.09 645.7v6.0M313.10 651.5v6.0M313.90 645.7v6.0M317.91 645.7v6.0M322.72 651.5v6.0M325.93 651.5v6.0M330.74 645.7v6.0M295.46 661.0v5.9M315.51 661.0v5.9M315.51 666.8v5.9M317.91 661.0v5.9M325.93 661.0v5.9M330.74 666.8v5.9M350.77 606.0v5.9M354.01 600.2v5.9M354.82 606.0v5.9M362.12 606.0v5.9M363.74 606.0v5.9M364.55 600.2v5.9M364.55 606.0v5.9M365.36 600.2v5.9M365.36 606.0v5.9M366.98 606.0v5.9M368.61 600.2v5.9M369.42 600.2v5.9M374.28 600.2v5.9M376.71 600.2v5.9M382.39 606.0v5.9M387.26 600.2v5.9M389.69 606.0v5.9M390.50 600.2v5.9M390.50 606.0v5.9M391.31 600.2v5.9M392.12 606.0v5.9M412.47 575.8v5.9M413.28 575.8v5.9M419.80 570.0v5.9M423.87 570.0v5.9M428.76 575.8v5.9M430.39 570.0v5.9M435.28 570.0v5.9M436.91 575.8v5.9M444.24 575.8v5.9M410.84 590.8v6.0M413.28 584.9v6.0M418.17 590.8v6.0M419.80 584.9v6.0M426.32 590.8v6.0M428.76 590.8v6.0M434.46 584.9v6.0M412.47 615.4v6.0M414.91 615.4v6.0M415.73 615.4v6.0M415.73 621.2v6.0M419.80 615.4v6.0M426.32 615.4v6.0M426.32 621.2v6.0M430.39 621.2v6.0M432.02 615.4v6.0M436.91 615.4v6.0M436.91 621.2v6.0M439.35 615.4v6.0M418.99 636.4v6.0M420.62 630.5v6.0M425.50 630.5v6.0M425.50 636.4v6.0M427.13 630.5v6.0M406.77 651.5v6.0M410.84 651.5v6.0M413.28 645.7v6.0M415.73 645.7v6.0M416.54 651.5v6.0M419.80 651.5v6.0M430.39 651.5v6.0M432.02 645.7v6.0M434.46 651.5v6.0M435.28 645.7v6.0M444.24 645.7v6.0M411.65 661.0v5.9M412.47 666.8v5.9M414.10 661.0v5.9M414.10 666.8v5.9M414.91 666.8v5.9M423.06 661.0v5.9M423.06 666.8v5.9M423.87 666.8v5.9M427.95 666.8v5.9M428.76 661.0v5.9M432.83 661.0v5.9M437.72 666.8v5.9M439.35 666.8v5.9"/><path stroke="#441270" stroke-width="0.84" d="M239.28 606.0v5.9M242.52 606.0v5.9M243.33 600.2v5.9M247.39 600.2v5.9M255.49 600.2v5.9M257.12 606.0v5.9M257.93 606.0v5.9M258.74 606.0v5.9M261.98 606.0v5.9M271.71 600.2v5.9M273.33 606.0v5.9M274.15 600.2v5.9M274.15 606.0v5.9M279.01 606.0v5.9M308.29 575.8v5.9M309.90 575.8v5.9M315.51 570.0v5.9M322.72 575.8v5.9M336.36 575.8v5.9M337.96 575.8v5.9M331.54 584.9v6.0M301.88 606.0v5.9M306.69 606.0v5.9M333.95 606.0v5.9M336.36 606.0v5.9M299.47 615.4v6.0M308.29 615.4v6.0M309.09 621.2v6.0M313.10 621.2v6.0M316.31 621.2v6.0M321.12 615.4v6.0M322.72 615.4v6.0M310.70 630.5v6.0M317.91 636.4v6.0M323.53 630.5v6.0M330.74 630.5v6.0M330.74 636.4v6.0M297.87 651.5v6.0M299.47 645.7v6.0M302.68 651.5v6.0M307.49 645.7v6.0M308.29 645.7v6.0M314.71 645.7v6.0M325.13 645.7v6.0M329.14 645.7v6.0M329.94 651.5v6.0M307.49 661.0v5.9M313.90 666.8v5.9M314.71 661.0v5.9M322.72 661.0v5.9M328.34 666.8v5.9M358.06 600.2v5.9M358.87 606.0v5.9M368.61 606.0v5.9M369.42 606.0v5.9M374.28 606.0v5.9M375.09 606.0v5.9M375.90 600.2v5.9M376.71 606.0v5.9M379.15 606.0v5.9M394.55 600.2v5.9M410.84 570.0v5.9M410.84 575.8v5.9M412.47 570.0v5.9M413.28 570.0v5.9M414.10 575.8v5.9M415.73 575.8v5.9M418.17 570.0v5.9M419.80 575.8v5.9M428.76 570.0v5.9M432.02 570.0v5.9M434.46 570.0v5.9M434.46 575.8v5.9M436.91 570.0v5.9M406.77 590.8v6.0M412.47 584.9v6.0M412.47 590.8v6.0M413.28 590.8v6.0M414.91 584.9v6.0M416.54 590.8v6.0M419.80 590.8v6.0M422.24 584.9v6.0M426.32 584.9v6.0M428.76 584.9v6.0M430.39 584.9v6.0M434.46 590.8v6.0M439.35 590.8v6.0M406.77 621.2v6.0M413.28 615.4v6.0M416.54 621.2v6.0M419.80 621.2v6.0M423.87 621.2v6.0M428.76 615.4v6.0M428.76 621.2v6.0M430.39 615.4v6.0M434.46 621.2v6.0M439.35 621.2v6.0M444.24 615.4v6.0M418.17 630.5v6.0M418.99 630.5v6.0M420.62 636.4v6.0M427.13 636.4v6.0M431.20 630.5v6.0M433.65 636.4v6.0M436.09 630.5v6.0M436.91 636.4v6.0M438.54 636.4v6.0M445.05 630.5v6.0M445.05 636.4v6.0M407.58 645.7v6.0M410.03 651.5v6.0M411.65 651.5v6.0M414.10 651.5v6.0M414.91 651.5v6.0M416.54 645.7v6.0M423.06 651.5v6.0M426.32 645.7v6.0M428.76 651.5v6.0M436.91 645.7v6.0M439.35 651.5v6.0M406.77 661.0v5.9M424.69 661.0v5.9M429.58 661.0v5.9M437.72 661.0v5.9M440.17 666.8v5.9M442.61 661.0v5.9M442.61 666.8v5.9M443.42 666.8v5.9"/><path stroke="#100929" stroke-width="0.84" d="M244.95 600.2v5.9M244.95 606.0v5.9M245.76 600.2v5.9M253.87 606.0v5.9M274.96 600.2v5.9M330.74 570.0v5.9M334.75 575.8v5.9M295.46 600.2v5.9M298.67 606.0v5.9M308.29 600.2v5.9M308.29 606.0v5.9M309.09 606.0v5.9M310.70 600.2v5.9M313.10 600.2v5.9M314.71 600.2v5.9M315.51 606.0v5.9M323.53 606.0v5.9M326.73 600.2v5.9M328.34 606.0v5.9M330.74 606.0v5.9M305.89 615.4v6.0M316.31 615.4v6.0M330.74 615.4v6.0M330.74 621.2v6.0M309.90 630.5v6.0M331.54 630.5v6.0M331.54 636.4v6.0M334.75 630.5v6.0M295.46 651.5v6.0M310.70 651.5v6.0M314.71 651.5v6.0M316.31 651.5v6.0M319.52 645.7v6.0M322.72 645.7v6.0M325.13 651.5v6.0M331.54 645.7v6.0M300.27 661.0v5.9M326.73 666.8v5.9M330.74 661.0v5.9M359.69 600.2v5.9M360.50 600.2v5.9M367.79 606.0v5.9M371.85 606.0v5.9M372.66 600.2v5.9M372.66 606.0v5.9M408.40 575.8v5.9M418.99 570.0v5.9M427.13 570.0v5.9M427.13 575.8v5.9M418.99 590.8v6.0M420.62 590.8v6.0M438.54 584.9v6.0M408.40 621.2v6.0M427.13 615.4v6.0M427.13 621.2v6.0M441.79 615.4v6.0M408.40 651.5v6.0M425.50 651.5v6.0M427.13 651.5v6.0M408.40 666.8v5.9M425.50 666.8v5.9M427.13 661.0v5.9M435.28 661.0v5.9M435.28 666.8v5.9M438.54 661.0v5.9M438.54 666.8v5.9M441.79 661.0v5.9"/><path stroke="#2f1159" stroke-width="0.84" d="M249.82 600.2v5.9M252.25 600.2v5.9M252.25 606.0v5.9M256.31 600.2v5.9M260.36 606.0v5.9M264.41 600.2v5.9M265.23 606.0v5.9M270.90 600.2v5.9M272.52 600.2v5.9M272.52 606.0v5.9M279.82 600.2v5.9M281.44 606.0v5.9M325.93 570.0v5.9M326.73 575.8v5.9M298.67 584.9v6.0M305.89 590.8v6.0M297.07 606.0v5.9M299.47 600.2v5.9M299.47 606.0v5.9M301.88 600.2v5.9M302.68 606.0v5.9M321.12 600.2v5.9M327.54 606.0v5.9M329.14 606.0v5.9M329.94 606.0v5.9M333.15 600.2v5.9M333.95 600.2v5.9M334.75 600.2v5.9M336.36 600.2v5.9M310.70 615.4v6.0M310.70 621.2v6.0M313.90 621.2v6.0M317.91 615.4v6.0M323.53 621.2v6.0M295.46 630.5v6.0M308.29 630.5v6.0M308.29 636.4v6.0M310.70 636.4v6.0M313.90 630.5v6.0M313.90 636.4v6.0M314.71 630.5v6.0M316.31 630.5v6.0M321.12 630.5v6.0M322.72 636.4v6.0M328.34 630.5v6.0M299.47 651.5v6.0M312.30 651.5v6.0M315.51 645.7v6.0M321.12 651.5v6.0M323.53 645.7v6.0M323.53 651.5v6.0M336.36 651.5v6.0M337.96 651.5v6.0M308.29 666.8v5.9M309.09 661.0v5.9M309.90 666.8v5.9M317.91 666.8v5.9M322.72 666.8v5.9M325.13 661.0v5.9M325.13 666.8v5.9M325.93 666.8v5.9M350.77 600.2v5.9M353.20 600.2v5.9M355.63 606.0v5.9M357.25 600.2v5.9M357.25 606.0v5.9M361.31 600.2v5.9M366.17 600.2v5.9M366.17 606.0v5.9M366.98 600.2v5.9M378.34 600.2v5.9M379.96 600.2v5.9M380.77 600.2v5.9M381.58 606.0v5.9M382.39 600.2v5.9M386.45 606.0v5.9M388.07 606.0v5.9M410.03 575.8v5.9M418.17 575.8v5.9M420.62 570.0v5.9M432.02 575.8v5.9M433.65 575.8v5.9M436.09 570.0v5.9M407.58 584.9v6.0M411.65 590.8v6.0M415.73 590.8v6.0M418.17 584.9v6.0M430.39 590.8v6.0M436.09 584.9v6.0M436.91 584.9v6.0M445.05 590.8v6.0M407.58 621.2v6.0M413.28 621.2v6.0M418.17 621.2v6.0M425.50 615.4v6.0M436.09 621.2v6.0M438.54 615.4v6.0M444.24 621.2v6.0M438.54 630.5v6.0M441.79 636.4v6.0M413.28 651.5v6.0M415.73 651.5v6.0M418.17 645.7v6.0M418.17 651.5v6.0M425.50 645.7v6.0M426.32 651.5v6.0M444.24 651.5v6.0M406.77 666.8v5.9M411.65 666.8v5.9M412.47 661.0v5.9M413.28 661.0v5.9M413.28 666.8v5.9M414.91 661.0v5.9M416.54 666.8v5.9M418.17 661.0v5.9M419.80 661.0v5.9M422.24 666.8v5.9M423.87 661.0v5.9M426.32 666.8v5.9M428.76 666.8v5.9M430.39 661.0v5.9M430.39 666.8v5.9M433.65 666.8v5.9M434.46 666.8v5.9"/><path stroke="#160c35" stroke-width="0.84" d="M253.87 600.2v5.9M261.17 606.0v5.9M266.04 606.0v5.9M270.09 600.2v5.9M270.09 606.0v5.9M274.96 606.0v5.9M295.46 570.0v5.9M305.89 570.0v5.9M309.09 570.0v5.9M313.90 570.0v5.9M316.31 575.8v5.9M337.16 570.0v5.9M305.08 600.2v5.9M307.49 606.0v5.9M313.10 606.0v5.9M314.71 606.0v5.9M322.72 600.2v5.9M323.53 600.2v5.9M328.34 600.2v5.9M335.55 606.0v5.9M319.52 621.2v6.0M326.73 615.4v6.0M309.09 630.5v6.0M323.53 636.4v6.0M325.13 630.5v6.0M326.73 630.5v6.0M305.89 645.7v6.0M309.90 645.7v6.0M309.90 651.5v6.0M326.73 645.7v6.0M330.74 651.5v6.0M334.75 645.7v6.0M305.89 666.8v5.9M308.29 661.0v5.9M316.31 666.8v5.9M323.53 661.0v5.9M334.75 661.0v5.9M356.44 600.2v5.9M361.31 606.0v5.9M362.93 606.0v5.9M367.79 600.2v5.9M371.85 600.2v5.9M377.53 606.0v5.9M381.58 600.2v5.9M385.63 606.0v5.9M388.88 600.2v5.9M392.12 600.2v5.9M392.93 600.2v5.9M408.40 570.0v5.9M418.99 575.8v5.9M420.62 575.8v5.9M431.20 575.8v5.9M438.54 570.0v5.9M441.79 575.8v5.9M408.40 584.9v6.0M425.50 584.9v6.0M425.50 590.8v6.0M433.65 590.8v6.0M441.79 584.9v6.0M425.50 621.2v6.0M431.20 621.2v6.0M435.28 615.4v6.0M436.09 615.4v6.0M440.98 621.2v6.0M418.99 651.5v6.0M441.79 651.5v6.0M445.05 645.7v6.0M407.58 666.8v5.9M408.40 661.0v5.9M418.17 666.8v5.9M418.99 661.0v5.9M418.99 666.8v5.9M420.62 661.0v5.9M420.62 666.8v5.9M425.50 661.0v5.9M431.20 661.0v5.9M431.20 666.8v5.9M432.02 666.8v5.9M433.65 661.0v5.9M436.09 666.8v5.9M436.91 661.0v5.9M436.91 666.8v5.9M441.79 666.8v5.9"/><path stroke="#0b061d" stroke-width="0.84" d="M261.17 600.2v5.9M298.67 575.8v5.9M300.27 570.0v5.9M309.09 575.8v5.9M326.73 570.0v5.9M303.48 590.8v6.0M300.27 606.0v5.9M316.31 606.0v5.9M326.73 606.0v5.9M329.14 600.2v5.9M334.75 606.0v5.9M337.96 600.2v5.9M298.67 615.4v6.0M305.89 621.2v6.0M319.52 615.4v6.0M331.54 615.4v6.0M298.67 636.4v6.0M319.52 636.4v6.0M326.73 636.4v6.0M298.67 645.7v6.0M300.27 651.5v6.0M319.52 651.5v6.0M309.90 661.0v5.9M326.73 661.0v5.9M360.50 606.0v5.9M427.13 590.8v6.0M445.05 661.0v5.9"/><path stroke="#f27062" stroke-width="0.84" d="M248.20 615.4v6.0M277.39 666.8v5.9M301.08 590.8v6.0M353.20 615.4v6.0M366.98 615.4v6.0M366.98 636.4v6.0M373.47 630.5v6.0M375.90 636.4v6.0M353.20 651.5v6.0M375.90 651.5v6.0M366.98 666.8v5.9M375.90 666.8v5.9M413.28 600.2v5.9M413.28 606.0v5.9M418.17 600.2v5.9M418.17 606.0v5.9M419.80 600.2v5.9M426.32 600.2v5.9M428.76 600.2v5.9M428.76 606.0v5.9M430.39 600.2v5.9M433.65 606.0v5.9M434.46 600.2v5.9M436.09 606.0v5.9M444.24 600.2v5.9M445.05 606.0v5.9"/><path stroke="#fda977" stroke-width="0.84" d="M251.44 645.7v6.0M311.50 645.7v6.0M409.21 600.2v5.9M410.03 606.0v5.9M417.36 600.2v5.9M423.06 600.2v5.9M427.95 600.2v5.9M437.72 600.2v5.9M439.35 606.0v5.9"/><path stroke="#fecc90" stroke-width="0.84" d="M267.66 645.7v6.0M409.21 606.0v5.9M421.43 600.2v5.9M429.58 606.0v5.9"/><path stroke="#000004" stroke-width="0.84" d="M298.67 570.0v5.9M303.48 570.0v5.9M303.48 575.8v5.9M305.89 575.8v5.9M331.54 570.0v5.9M331.54 575.8v5.9M334.75 570.0v5.9M303.48 584.9v6.0M298.67 600.2v5.9M300.27 600.2v5.9M303.48 600.2v5.9M303.48 606.0v5.9M305.89 600.2v5.9M305.89 606.0v5.9M309.09 600.2v5.9M309.90 606.0v5.9M313.90 600.2v5.9M313.90 606.0v5.9M316.31 600.2v5.9M319.52 600.2v5.9M319.52 606.0v5.9M330.74 600.2v5.9M331.54 600.2v5.9M331.54 606.0v5.9M298.67 621.2v6.0M303.48 615.4v6.0M303.48 621.2v6.0M309.90 615.4v6.0M298.67 630.5v6.0M303.48 630.5v6.0M303.48 636.4v6.0M305.89 630.5v6.0M305.89 636.4v6.0M319.52 630.5v6.0M298.67 651.5v6.0M303.48 645.7v6.0M303.48 651.5v6.0M305.89 651.5v6.0M309.09 651.5v6.0M326.73 651.5v6.0M328.34 651.5v6.0M331.54 651.5v6.0M298.67 661.0v5.9M298.67 666.8v5.9M303.48 661.0v5.9M303.48 666.8v5.9M319.52 666.8v5.9M334.75 666.8v5.9"/><path stroke="#050310" stroke-width="0.84" d="M300.27 575.8v5.9M316.31 570.0v5.9M309.90 600.2v5.9M325.93 606.0v5.9M300.27 615.4v6.0M334.75 615.4v6.0M334.75 651.5v6.0M305.89 661.0v5.9M328.34 661.0v5.9M427.13 666.8v5.9"/><path stroke="#fdd89c" stroke-width="0.84" d="M311.50 584.9v6.0M417.36 606.0v5.9M437.72 606.0v5.9M442.61 606.0v5.9"/><path stroke="#fde4a8" stroke-width="0.84" d="M311.50 590.8v6.0M424.69 606.0v5.9"/><path stroke="#fc9e70" stroke-width="0.84" d="M311.50 621.2v6.0M311.50 666.8v5.9M373.47 651.5v6.0M410.84 606.0v5.9M411.65 606.0v5.9M414.10 606.0v5.9M416.54 606.0v5.9M419.80 606.0v5.9M423.06 606.0v5.9M426.32 606.0v5.9M432.83 606.0v5.9M442.61 600.2v5.9"/><path stroke="#fcfdbf" stroke-width="0.84" d="M421.43 606.0v5.9"/><path stroke="#fec086" stroke-width="0.84" d="M427.95 606.0v5.9M440.17 606.0v5.9M443.42 606.0v5.9"/><text x="458.0" y="604.2" font-size="8.0" text-anchor="start" fill="#333">Avg.exp</text><defs><linearGradient id="mg" x1="0" y1="0" x2="0" y2="1"><stop offset="0.00" stop-color="#fcfdbf"/><stop offset="0.12" stop-color="#fec287"/><stop offset="0.25" stop-color="#fb8761"/><stop offset="0.37" stop-color="#e55064"/><stop offset="0.50" stop-color="#b5367a"/><stop offset="0.62" stop-color="#812581"/><stop offset="0.75" stop-color="#4f127b"/><stop offset="0.87" stop-color="#1c1044"/><stop offset="1.00" stop-color="#000004"/></linearGradient></defs><rect x="458.50" y="613.10" width="6.90" height="32.00" fill="url(#mg)"/><text x="468.9" y="615.9" font-size="7.8" text-anchor="start" fill="#333">1.00</text><text x="468.9" y="624.1" font-size="7.8" text-anchor="start" fill="#333">0.75</text><text x="468.9" y="631.9" font-size="7.8" text-anchor="start" fill="#333">0.50</text><text x="468.9" y="640.1" font-size="7.8" text-anchor="start" fill="#333">0.25</text><text x="468.9" y="647.9" font-size="7.8" text-anchor="start" fill="#333">0</text><defs><filter id="sf1" x="-15%" y="-15%" width="130%" height="130%" color-interpolation-filters="sRGB">
<feGaussianBlur in="SourceAlpha" stdDeviation="2.0" result="b"/>
<feTurbulence type="fractalNoise" baseFrequency="1.3" numOctaves="2" seed="11" result="n"/>
<feColorMatrix in="n" type="matrix" values="0 0 0 0 0  0 0 0 0 0  0 0 0 0 0  3.2 0 0 0 -1.1" result="na"/>
<feComposite in="b" in2="na" operator="arithmetic" k1="0" k2="1" k3="-1" k4="0" result="d"/>
<feComponentTransfer in="d" result="m"><feFuncA type="linear" slope="12" intercept="0"/></feComponentTransfer>
<feMorphology in="SourceGraphic" operator="dilate" radius="3" result="sd"/>
<feComponentTransfer in="sd" result="c"><feFuncA type="linear" slope="200" intercept="0"/></feComponentTransfer>
<feComposite in="c" in2="m" operator="in" result="o"/>
<feGaussianBlur in="o" stdDeviation="0.4"/>
</filter></defs><g filter="url(#sf1)"><polygon points="116.0,78.0 140.0,70.0 157.0,82.0 162.0,100.0 152.0,120.0 142.0,134.0 130.0,150.0 118.0,162.0 108.0,155.0 114.0,128.0 118.0,104.0" fill="#79b08a" fill-opacity="0.07"/></g><defs><filter id="sf2" x="-15%" y="-15%" width="130%" height="130%" color-interpolation-filters="sRGB">
<feGaussianBlur in="SourceAlpha" stdDeviation="2.5" result="b"/>
<feTurbulence type="fractalNoise" baseFrequency="1.3" numOctaves="2" seed="12" result="n"/>
<feColorMatrix in="n" type="matrix" values="0 0 0 0 0  0 0 0 0 0  0 0 0 0 0  3.2 0 0 0 -1.1" result="na"/>
<feComposite in="b" in2="na" operator="arithmetic" k1="0" k2="1" k3="-1" k4="0" result="d"/>
<feComponentTransfer in="d" result="m"><feFuncA type="linear" slope="12" intercept="0"/></feComponentTransfer>
<feMorphology in="SourceGraphic" operator="dilate" radius="3" result="sd"/>
<feComponentTransfer in="sd" result="c"><feFuncA type="linear" slope="200" intercept="0"/></feComponentTransfer>
<feComposite in="c" in2="m" operator="in" result="o"/>
<feGaussianBlur in="o" stdDeviation="0.4"/>
</filter></defs><g filter="url(#sf2)"><polygon points="138.0,98.0 160.0,92.0 172.0,112.0 185.0,126.0 170.0,134.0 158.0,142.0 142.0,135.0" fill="#101030" fill-opacity="0.05"/></g><defs><filter id="sf3" x="-15%" y="-15%" width="130%" height="130%" color-interpolation-filters="sRGB">
<feGaussianBlur in="SourceAlpha" stdDeviation="1.4" result="b"/>
<feTurbulence type="fractalNoise" baseFrequency="1.3" numOctaves="2" seed="13" result="n"/>
<feColorMatrix in="n" type="matrix" values="0 0 0 0 0  0 0 0 0 0  0 0 0 0 0  3.2 0 0 0 -1.1" result="na"/>
<feComposite in="b" in2="na" operator="arithmetic" k1="0" k2="1" k3="-1" k4="0" result="d"/>
<feComponentTransfer in="d" result="m"><feFuncA type="linear" slope="12" intercept="0"/></feComponentTransfer>
<feMorphology in="SourceGraphic" operator="dilate" radius="3" result="sd"/>
<feComponentTransfer in="sd" result="c"><feFuncA type="linear" slope="200" intercept="0"/></feComponentTransfer>
<feComposite in="c" in2="m" operator="in" result="o"/>
<feGaussianBlur in="o" stdDeviation="0.4"/>
</filter></defs><g filter="url(#sf3)"><polygon points="79.7,62.8 83.9,62.2 87.5,69.3 93.5,78.9 100.6,84.9 107.8,90.8 113.8,100.4 116.2,112.3 115.6,124.3 112.6,136.2 107.8,143.4 99.4,149.4 89.9,150.6 77.9,153.0 73.1,148.2 69.6,138.6 67.2,126.7 66.0,108.8 67.2,96.8 71.9,88.5 74.3,78.9 76.7,69.3" fill="#d8932f" fill-opacity="0.38"/><polygon points="72.0,95.0 90.0,86.0 108.0,95.0 114.0,112.0 112.0,133.0 100.0,146.0 80.0,149.0 70.0,135.0 68.0,110.0" fill="#d8932f" fill-opacity="0.36"/></g><defs><filter id="sf4" x="-15%" y="-15%" width="130%" height="130%" color-interpolation-filters="sRGB">
<feGaussianBlur in="SourceAlpha" stdDeviation="2.0" result="b"/>
<feTurbulence type="fractalNoise" baseFrequency="1.3" numOctaves="2" seed="14" result="n"/>
<feColorMatrix in="n" type="matrix" values="0 0 0 0 0  0 0 0 0 0  0 0 0 0 0  3.2 0 0 0 -1.1" result="na"/>
<feComposite in="b" in2="na" operator="arithmetic" k1="0" k2="1" k3="-1" k4="0" result="d"/>
<feComponentTransfer in="d" result="m"><feFuncA type="linear" slope="12" intercept="0"/></feComponentTransfer>
<feMorphology in="SourceGraphic" operator="dilate" radius="3" result="sd"/>
<feComponentTransfer in="sd" result="c"><feFuncA type="linear" slope="200" intercept="0"/></feComponentTransfer>
<feComposite in="c" in2="m" operator="in" result="o"/>
<feGaussianBlur in="o" stdDeviation="0.4"/>
</filter></defs><g filter="url(#sf4)"><polygon points="111.1,24.8 119.8,24.8 132.2,29.8 144.6,34.7 157.0,38.5 167.0,42.2 171.9,47.1 169.4,52.1 164.5,59.6 154.6,67.0 144.6,74.4 132.2,80.6 123.5,86.8 117.3,94.3 112.4,98.0 106.2,89.3 98.7,79.4 97.5,69.5 102.4,58.3 107.4,47.1 109.9,34.7" fill="#e46c6c" fill-opacity="0.28"/><polygon points="114.0,31.0 135.0,33.0 157.0,42.0 162.0,50.0 150.0,64.0 130.0,74.0 115.0,80.0 104.0,70.0 108.0,45.0" fill="#e46c6c" fill-opacity="0.25"/></g><defs><filter id="sf5" x="-15%" y="-15%" width="130%" height="130%" color-interpolation-filters="sRGB">
<feGaussianBlur in="SourceAlpha" stdDeviation="1.2" result="b"/>
<feTurbulence type="fractalNoise" baseFrequency="1.3" numOctaves="2" seed="15" result="n"/>
<feColorMatrix in="n" type="matrix" values="0 0 0 0 0  0 0 0 0 0  0 0 0 0 0  3.2 0 0 0 -1.1" result="na"/>
<feComposite in="b" in2="na" operator="arithmetic" k1="0" k2="1" k3="-1" k4="0" result="d"/>
<feComponentTransfer in="d" result="m"><feFuncA type="linear" slope="12" intercept="0"/></feComponentTransfer>
<feMorphology in="SourceGraphic" operator="dilate" radius="3" result="sd"/>
<feComponentTransfer in="sd" result="c"><feFuncA type="linear" slope="200" intercept="0"/></feComponentTransfer>
<feComposite in="c" in2="m" operator="in" result="o"/>
<feGaussianBlur in="o" stdDeviation="0.4"/>
</filter></defs><g filter="url(#sf5)"><polygon points="128.5,1.5 130.5,4.0 127.5,13.0 123.0,21.0 118.0,28.0 115.0,37.0 111.5,38.0 110.5,30.0 114.0,22.0 118.0,11.0 123.0,5.0" fill="#9b2525" fill-opacity="0.26"/><polygon points="126.0,5.0 127.0,12.0 121.0,20.0 117.0,18.0 120.0,9.0" fill="#9b2525" fill-opacity="0.35"/></g><defs><filter id="sf6" x="-15%" y="-15%" width="130%" height="130%" color-interpolation-filters="sRGB">
<feGaussianBlur in="SourceAlpha" stdDeviation="1.8" result="b"/>
<feTurbulence type="fractalNoise" baseFrequency="1.3" numOctaves="2" seed="16" result="n"/>
<feColorMatrix in="n" type="matrix" values="0 0 0 0 0  0 0 0 0 0  0 0 0 0 0  3.2 0 0 0 -1.1" result="na"/>
<feComposite in="b" in2="na" operator="arithmetic" k1="0" k2="1" k3="-1" k4="0" result="d"/>
<feComponentTransfer in="d" result="m"><feFuncA type="linear" slope="12" intercept="0"/></feComponentTransfer>
<feMorphology in="SourceGraphic" operator="dilate" radius="3" result="sd"/>
<feComponentTransfer in="sd" result="c"><feFuncA type="linear" slope="200" intercept="0"/></feComponentTransfer>
<feComposite in="c" in2="m" operator="in" result="o"/>
<feGaussianBlur in="o" stdDeviation="0.4"/>
</filter></defs><g filter="url(#sf6)"><polygon points="173.6,51.7 183.8,53.1 195.5,57.5 204.2,63.4 208.6,73.6 207.2,83.8 201.3,95.5 196.9,107.2 194.0,118.8 189.6,127.6 182.3,124.7 175.0,113.0 169.2,98.4 161.9,86.7 157.5,75.0 161.9,64.8 167.7,56.1" fill="#a9a8d6" fill-opacity="0.33"/><polygon points="170.0,60.0 195.0,62.0 204.0,75.0 198.0,95.0 190.0,115.0 178.0,110.0 166.0,88.0 164.0,70.0" fill="#a9a8d6" fill-opacity="0.22"/></g><defs><filter id="sf7" x="-15%" y="-15%" width="130%" height="130%" color-interpolation-filters="sRGB">
<feGaussianBlur in="SourceAlpha" stdDeviation="1.5" result="b"/>
<feTurbulence type="fractalNoise" baseFrequency="1.3" numOctaves="2" seed="17" result="n"/>
<feColorMatrix in="n" type="matrix" values="0 0 0 0 0  0 0 0 0 0  0 0 0 0 0  3.2 0 0 0 -1.1" result="na"/>
<feComposite in="b" in2="na" operator="arithmetic" k1="0" k2="1" k3="-1" k4="0" result="d"/>
<feComponentTransfer in="d" result="m"><feFuncA type="linear" slope="12" intercept="0"/></feComponentTransfer>
<feMorphology in="SourceGraphic" operator="dilate" radius="3" result="sd"/>
<feComponentTransfer in="sd" result="c"><feFuncA type="linear" slope="200" intercept="0"/></feComponentTransfer>
<feComposite in="c" in2="m" operator="in" result="o"/>
<feGaussianBlur in="o" stdDeviation="0.4"/>
</filter></defs><g filter="url(#sf7)"><polygon points="208.6,56.1 218.8,60.4 227.6,70.7 231.2,83.8 230.5,98.4 229.0,113.0 226.1,127.6 218.8,139.3 210.1,145.1 201.3,145.1 194.0,139.3 190.4,127.6 192.6,115.9 198.4,104.2 202.8,95.5 207.2,83.8 210.1,73.6 208.6,63.4" fill="#2e7a4f" fill-opacity="0.28"/><polygon points="218.0,64.0 226.0,74.0 229.0,95.0 226.0,125.0 216.0,138.0 220.0,110.0 222.0,85.0" fill="#2e7a4f" fill-opacity="0.3"/><polygon points="198.0,108.0 212.0,100.0 222.0,115.0 218.0,135.0 205.0,142.0 194.0,132.0" fill="#2e7a4f" fill-opacity="0.15"/></g><defs><filter id="sf8" x="-15%" y="-15%" width="130%" height="130%" color-interpolation-filters="sRGB">
<feGaussianBlur in="SourceAlpha" stdDeviation="1.8" result="b"/>
<feTurbulence type="fractalNoise" baseFrequency="1.3" numOctaves="2" seed="18" result="n"/>
<feColorMatrix in="n" type="matrix" values="0 0 0 0 0  0 0 0 0 0  0 0 0 0 0  3.2 0 0 0 -1.1" result="na"/>
<feComposite in="b" in2="na" operator="arithmetic" k1="0" k2="1" k3="-1" k4="0" result="d"/>
<feComponentTransfer in="d" result="m"><feFuncA type="linear" slope="12" intercept="0"/></feComponentTransfer>
<feMorphology in="SourceGraphic" operator="dilate" radius="3" result="sd"/>
<feComponentTransfer in="sd" result="c"><feFuncA type="linear" slope="200" intercept="0"/></feComponentTransfer>
<feComposite in="c" in2="m" operator="in" result="o"/>
<feGaussianBlur in="o" stdDeviation="0.4"/>
</filter></defs><g filter="url(#sf8)"><polygon points="160.4,142.2 169.2,133.4 182.3,127.6 191.1,130.5 194.0,139.3 188.2,151.0 176.5,155.3 163.4,152.4" fill="#101030" fill-opacity="0.38"/></g><defs><filter id="sf9" x="-15%" y="-15%" width="130%" height="130%" color-interpolation-filters="sRGB">
<feGaussianBlur in="SourceAlpha" stdDeviation="1.3" result="b"/>
<feTurbulence type="fractalNoise" baseFrequency="1.3" numOctaves="2" seed="19" result="n"/>
<feColorMatrix in="n" type="matrix" values="0 0 0 0 0  0 0 0 0 0  0 0 0 0 0  3.2 0 0 0 -1.1" result="na"/>
<feComposite in="b" in2="na" operator="arithmetic" k1="0" k2="1" k3="-1" k4="0" result="d"/>
<feComponentTransfer in="d" result="m"><feFuncA type="linear" slope="12" intercept="0"/></feComponentTransfer>
<feMorphology in="SourceGraphic" operator="dilate" radius="3" result="sd"/>
<feComponentTransfer in="sd" result="c"><feFuncA type="linear" slope="200" intercept="0"/></feComponentTransfer>
<feComposite in="c" in2="m" operator="in" result="o"/>
<feGaussianBlur in="o" stdDeviation="0.4"/>
</filter></defs><g filter="url(#sf9)"><polygon points="103.0,149.0 108.0,145.0 115.0,149.0 117.0,157.0 112.0,163.0 104.0,161.0" fill="#5a3d86" fill-opacity="0.38"/><polygon points="122.0,150.0 130.0,146.0 138.0,149.0 140.0,156.0 133.0,161.0 124.0,159.0" fill="#5a3d86" fill-opacity="0.33"/></g><path d="M48.6 139.9V169.7H79.1" fill="none" stroke="#3b5070" stroke-width="1.3"/><path d="M46.4 140.4L48.6 136.4L50.800000000000004 140.4Z" fill="#3b5070"/><path d="M78.6 167.5L82.6 169.7L78.6 171.89999999999998Z" fill="#3b5070"/><text x="52.7" y="178.7" font-size="7.2" text-anchor="start" fill="#333">UMAP 1</text><text x="44.9" y="153.1" font-size="7.3" text-anchor="middle" fill="#333" transform="rotate(-90 44.9 153.1)">UMAP 2</text><circle cx="258.10" cy="82.30" r="2.20" fill="#d8932f"/><text x="264.8" y="84.9" font-size="7.3" text-anchor="start" fill="#333">AS1</text><circle cx="258.10" cy="90.12" r="2.20" fill="#e46c6c"/><text x="264.8" y="92.7" font-size="7.3" text-anchor="start" fill="#333">AS2</text><circle cx="258.10" cy="97.94" r="2.20" fill="#a9a8d6"/><text x="264.8" y="100.5" font-size="7.3" text-anchor="start" fill="#333">AS3</text><circle cx="258.10" cy="105.76" r="2.20" fill="#2e7a4f"/><text x="264.8" y="108.4" font-size="7.3" text-anchor="start" fill="#333">AS4</text><circle cx="258.10" cy="113.58" r="2.20" fill="#101030"/><text x="264.8" y="116.2" font-size="7.3" text-anchor="start" fill="#333">AS5</text><circle cx="258.10" cy="121.40" r="2.20" fill="#79b08a"/><text x="264.8" y="124.0" font-size="7.3" text-anchor="start" fill="#333">AS6</text><circle cx="258.10" cy="129.22" r="2.20" fill="#5a3d86"/><text x="264.8" y="131.8" font-size="7.3" text-anchor="start" fill="#333">AS7</text><circle cx="258.10" cy="137.04" r="2.20" fill="#9b2525"/><text x="264.8" y="139.6" font-size="7.3" text-anchor="start" fill="#333">AS8</text><defs><clipPath id="cb"><path d="M377.0 19.9 L386.4 16.4 L395.7 18.7 L407.4 22.2 L419.0 25.7 L428.4 23.4 L440.0 18.7 L454.0 14.0 L468.0 8.2 L482.0 4.7 L494.0 5.8 L505.5 9.3 L514.8 18.7 L521.8 32.7 L525.5 55.5 L526.0 83.2 L523.4 111.0 L519.2 133.1 L513.7 155.3 L505.3 165.0 L498.6 167.6 L488.0 164.6 L476.0 156.0 L466.5 149.8 L452.6 144.0 L436.5 147.0 L423.4 151.8 L404.0 153.4 L387.6 148.5 L375.0 135.0 L366.0 115.0 L360.0 83.3 L361.5 55.0 L367.0 33.0Z"/></clipPath><filter id="bl3" x="-20%" y="-20%" width="140%" height="140%"><feGaussianBlur stdDeviation="3"/></filter><filter id="bl5" x="-30%" y="-30%" width="160%" height="160%"><feGaussianBlur stdDeviation="5"/></filter><filter id="bl4" x="-20%" y="-20%" width="140%" height="140%"><feGaussianBlur stdDeviation="4.5"/></filter></defs><g clip-path="url(#cb)"><rect x="355.00" y="0.00" width="175.00" height="175.00" fill="#d8952e"/><g filter="url(#bl4)"><polygon points="350.0,0.0 416.0,0.0 418.0,22.0 413.0,45.0 407.0,75.0 402.0,100.0 397.0,125.0 392.0,150.0 387.0,175.0 350.0,175.0" fill="#e06b6a"/></g><g filter="url(#bl3)"><polygon points="428.0,24.0 445.0,14.0 470.0,2.0 500.0,0.0 500.0,40.0 506.0,62.0 498.0,70.0 482.0,62.0 465.0,52.0 445.0,40.0" fill="#7fb58c"/><polygon points="492.0,0.0 540.0,0.0 540.0,114.0 521.0,114.0 509.0,69.0 499.0,40.0 496.0,15.0" fill="#2f7a4e"/><polygon points="459.0,57.0 478.0,57.0 498.0,60.0 512.0,66.0 519.0,112.0 540.0,114.0 540.0,175.0 482.0,175.0 466.0,158.0 461.0,135.0 466.0,118.0 470.0,102.0 473.0,85.0 466.0,70.0" fill="#5b3f80"/></g><g filter="url(#bl5)"><ellipse cx="451" cy="94" rx="22" ry="18" fill="#a9a4d0"/></g></g><path fill="none" stroke="#e06b6a" stroke-width="0.9" stroke-linecap="round" d="M389.7 17.7h0M393.3 19.0h0M391.1 17.6h0M406.2 22.2h0M394.6 17.6h0M388.0 21.2h0M401.6 19.4h0M395.9 18.4h0M380.5 18.0h0M408.6 21.9h0M387.5 17.8h0M389.7 19.6h0M423.7 22.7h0M411.4 22.0h0M411.8 22.9h0M407.2 22.3h0M378.0 16.8h0M380.2 17.7h0M390.7 20.0h0M379.1 20.0h0M399.1 19.5h0M379.1 19.1h0M411.2 22.3h0M376.9 21.5h0M398.8 20.6h0M415.8 24.3h0M420.2 24.1h0M407.6 24.1h0M413.0 22.7h0M384.9 16.5h0M392.7 18.2h0M401.4 21.3h0M394.4 18.9h0M401.7 21.3h0M410.3 23.1h0M427.0 21.3h0M379.2 19.6h0M422.3 23.4h0M388.0 16.9h0M383.1 17.3h0M383.9 18.4h0M401.3 19.3h0M387.1 17.8h0M425.3 23.3h0M388.6 20.6h0M416.5 25.9h0M417.6 22.3h0M425.7 23.8h0M405.6 20.6h0M419.1 24.8h0"/><path fill="none" stroke="#7fb58c" stroke-width="0.9" stroke-linecap="round" d="M442.7 16.9h0M438.1 18.8h0M431.9 22.1h0M471.0 7.6h0M479.7 6.3h0M467.4 9.9h0M436.6 20.1h0M478.3 6.6h0M452.8 15.7h0M475.0 6.2h0M445.0 18.3h0M479.9 4.9h0M474.1 6.5h0M461.3 11.3h0M450.4 14.9h0M459.9 13.2h0M431.7 22.6h0M446.8 16.5h0M441.6 17.7h0M466.1 8.0h0M435.0 19.6h0M449.7 16.0h0M438.9 19.0h0M433.0 20.9h0M476.0 7.1h0M436.2 18.2h0M430.4 22.8h0M430.0 21.7h0M457.0 13.2h0M438.9 18.5h0M430.4 23.0h0M476.3 6.3h0M438.1 20.5h0M480.5 6.3h0M468.3 7.2h0M457.6 13.3h0M438.7 18.8h0M453.6 13.7h0M438.0 18.7h0M431.3 21.5h0M445.4 17.0h0M466.1 8.9h0M477.9 7.2h0M451.3 16.3h0M467.8 10.7h0M464.4 9.0h0M454.0 15.0h0M432.6 21.1h0M441.9 17.9h0M434.9 20.9h0"/><path fill="none" stroke="#2f7a4e" stroke-width="0.9" stroke-linecap="round" d="M514.8 18.3h0M516.5 25.1h0M509.8 14.5h0M484.3 4.7h0M488.1 4.4h0M485.3 5.1h0M502.0 7.8h0M514.0 20.8h0M517.0 30.5h0M490.1 10.1h0M499.6 6.7h0M517.5 29.6h0M514.0 19.3h0M486.3 5.9h0M518.6 26.8h0M490.8 4.9h0M516.1 28.3h0M516.3 21.0h0M517.9 24.8h0M494.4 3.7h0M483.8 6.4h0M493.3 6.2h0M483.7 4.5h0M521.5 32.4h0M495.5 13.4h0M495.2 7.6h0M519.6 28.6h0M503.9 8.1h0M499.6 8.1h0M498.2 15.9h0M489.0 6.4h0M516.9 22.1h0M495.8 14.7h0M521.1 29.8h0M509.1 12.4h0M516.0 21.0h0M520.9 28.9h0M509.5 12.8h0M514.0 27.6h0M486.5 5.7h0M519.7 28.5h0M510.5 16.6h0M513.9 19.1h0M520.3 29.8h0M510.2 13.5h0M515.2 19.3h0M504.2 20.5h0M516.4 19.2h0M486.2 4.8h0M487.4 5.4h0"/><path fill="none" stroke="#2f7a4e" stroke-width="0.9" stroke-linecap="round" d="M523.4 48.2h0M525.0 58.9h0M525.5 79.8h0M525.2 40.8h0M522.4 34.3h0M519.4 57.6h0M524.2 107.3h0M525.0 84.2h0M524.4 55.5h0M523.0 41.0h0M527.7 78.1h0M524.4 99.4h0M521.7 48.9h0M526.3 74.0h0M523.5 109.8h0M526.1 58.4h0M525.9 65.5h0M522.1 84.0h0M524.3 83.0h0M521.3 34.3h0M522.5 49.6h0M524.6 101.9h0M522.4 43.8h0M524.2 93.1h0M525.3 53.4h0M522.2 80.1h0M522.8 80.3h0M524.3 41.9h0M522.5 37.0h0M527.1 82.9h0M526.8 52.2h0M524.7 106.2h0M526.2 53.4h0M522.9 46.2h0M524.8 89.5h0M524.5 78.7h0M525.9 65.4h0M524.5 69.6h0M526.1 73.6h0M525.4 81.1h0"/><path fill="none" stroke="#5b3f80" stroke-width="0.9" stroke-linecap="round" d="M500.2 166.9h0M510.5 162.1h0M513.0 155.5h0M520.9 123.1h0M496.2 166.1h0M495.5 167.7h0M511.3 127.8h0M512.6 158.0h0M522.9 120.5h0M519.5 117.8h0M495.2 167.5h0M498.9 166.2h0M505.2 164.5h0M519.7 132.1h0M506.1 164.7h0M495.3 166.7h0M522.9 117.4h0M519.3 139.7h0M510.6 155.9h0M492.5 166.7h0M501.8 165.3h0M511.1 159.4h0M510.7 158.0h0M491.0 164.6h0M515.1 150.1h0M509.8 161.3h0M517.2 149.3h0M516.6 147.1h0M491.7 166.2h0M506.0 164.6h0M494.6 166.4h0M518.7 134.6h0M494.1 155.0h0M491.5 159.7h0M495.8 166.0h0M514.2 157.3h0M522.0 122.4h0M510.9 134.3h0M520.8 116.7h0M521.4 119.4h0M517.5 141.2h0M519.9 131.1h0M523.8 112.9h0M517.7 118.3h0M488.5 164.5h0M506.8 166.0h0M497.9 166.0h0M506.2 136.3h0M524.6 116.3h0M501.2 166.1h0M511.3 128.9h0M524.4 113.0h0M492.3 165.8h0M494.5 166.1h0M520.9 115.5h0M516.1 146.1h0M524.8 112.1h0M502.3 166.8h0M518.3 135.9h0M496.4 152.9h0"/><path fill="none" stroke="#d8952e" stroke-width="0.9" stroke-linecap="round" d="M468.7 152.4h0M468.6 150.9h0M460.9 154.2h0M441.5 147.5h0M480.3 158.5h0M471.5 150.4h0M462.9 148.3h0M453.7 144.7h0M482.0 160.0h0M453.1 145.7h0M476.0 155.5h0M455.3 154.2h0M487.6 164.6h0M487.7 165.4h0M477.3 158.1h0M476.4 155.4h0M483.1 160.1h0M469.2 153.6h0M477.6 159.9h0M458.1 145.9h0M486.6 163.3h0M485.1 163.4h0M468.4 151.0h0M452.3 144.1h0M465.2 149.5h0M478.6 155.4h0M438.6 147.0h0M456.6 145.8h0M486.8 164.3h0M472.5 153.6h0M442.4 146.2h0M479.5 158.2h0M472.0 154.1h0M460.7 148.3h0M482.1 160.0h0M485.5 162.3h0M474.7 154.8h0M445.6 150.8h0M486.9 164.2h0M472.9 155.0h0M463.2 149.3h0M473.3 160.3h0M453.5 146.2h0M440.4 145.6h0M480.2 157.9h0M470.4 152.9h0M458.4 147.5h0M473.1 158.5h0M478.1 156.4h0M477.6 155.8h0"/><path fill="none" stroke="#d8952e" stroke-width="0.9" stroke-linecap="round" d="M422.5 147.3h0M432.5 148.1h0M397.4 147.7h0M426.1 149.5h0M425.4 146.0h0M405.1 153.1h0M402.9 152.3h0M409.3 152.9h0M425.7 146.5h0M425.8 150.6h0M418.8 152.2h0M431.7 150.7h0M392.6 148.4h0M403.8 149.2h0M414.3 152.4h0M420.2 151.0h0M432.2 147.7h0M432.9 147.1h0M431.5 148.7h0M424.9 152.9h0M438.0 147.6h0M392.7 149.8h0M407.6 147.9h0M391.4 149.3h0M404.2 151.7h0M432.6 148.6h0M433.3 149.2h0M391.1 147.4h0M428.5 151.1h0M406.6 153.4h0M414.0 151.3h0M387.0 146.7h0M429.3 148.3h0M414.8 152.9h0M430.7 147.6h0M433.8 148.0h0M417.4 149.6h0M419.4 150.4h0M405.1 147.5h0M419.6 152.9h0"/><path fill="none" stroke="#e06b6a" stroke-width="0.9" stroke-linecap="round" d="M367.0 119.8h0M359.3 79.8h0M361.4 81.1h0M360.0 77.8h0M375.9 22.4h0M365.9 109.0h0M365.7 41.0h0M360.2 81.7h0M360.0 52.9h0M370.3 123.1h0M374.8 132.7h0M369.1 29.3h0M376.7 19.4h0M362.9 104.4h0M377.1 20.2h0M369.9 26.5h0M371.4 123.9h0M359.9 68.2h0M377.5 19.3h0M361.3 76.8h0M364.6 44.1h0M378.1 140.1h0M373.2 131.0h0M364.2 109.8h0M377.8 28.6h0M370.5 126.9h0M375.9 20.7h0M368.3 29.6h0M373.3 24.5h0M368.5 122.7h0M388.1 144.3h0M377.7 20.2h0M360.0 81.4h0M386.8 147.0h0M366.9 117.6h0M363.7 45.1h0M362.7 61.1h0M373.9 23.4h0M377.6 20.5h0M368.5 122.5h0M382.4 70.0h0M363.9 108.9h0M360.4 73.4h0M360.1 72.2h0M374.4 25.1h0M381.8 140.0h0M373.2 24.9h0M363.7 103.2h0M377.8 20.1h0M371.2 123.8h0M366.8 34.0h0M380.3 41.4h0M363.9 46.8h0M385.5 120.5h0M378.8 17.7h0M376.5 19.6h0M371.3 126.2h0M363.8 106.0h0M378.5 139.1h0M361.8 55.2h0M377.6 19.4h0M360.6 80.7h0M377.0 21.8h0M377.3 19.4h0M359.3 73.5h0M360.5 83.0h0M379.0 19.5h0M362.1 60.6h0M375.2 137.5h0M382.5 143.9h0"/><g clip-path="url(#cb)"><defs><filter id="sf10" x="-15%" y="-15%" width="130%" height="130%" color-interpolation-filters="sRGB">
<feGaussianBlur in="SourceAlpha" stdDeviation="3.0" result="b"/>
<feTurbulence type="fractalNoise" baseFrequency="1.3" numOctaves="2" seed="31" result="n"/>
<feColorMatrix in="n" type="matrix" values="0 0 0 0 0  0 0 0 0 0  0 0 0 0 0  3.2 0 0 0 -1.1" result="na"/>
<feComposite in="b" in2="na" operator="arithmetic" k1="0" k2="1" k3="-1" k4="0" result="d"/>
<feComponentTransfer in="d" result="m"><feFuncA type="linear" slope="12" intercept="0"/></feComponentTransfer>
<feMorphology in="SourceGraphic" operator="dilate" radius="3" result="sd"/>
<feComponentTransfer in="sd" result="c"><feFuncA type="linear" slope="200" intercept="0"/></feComponentTransfer>
<feComposite in="c" in2="m" operator="in" result="o"/>
<feGaussianBlur in="o" stdDeviation="0.4"/>
</filter></defs><g filter="url(#sf10)"><polygon points="412.0,28.0 430.0,24.0 445.0,16.0 470.0,12.0 488.0,22.0 494.0,45.0 485.0,58.0 468.0,60.0 450.0,52.0 425.0,40.0" fill="#ffffff" fill-opacity="0.15"/></g><defs><filter id="sf11" x="-15%" y="-15%" width="130%" height="130%" color-interpolation-filters="sRGB">
<feGaussianBlur in="SourceAlpha" stdDeviation="3.0" result="b"/>
<feTurbulence type="fractalNoise" baseFrequency="1.3" numOctaves="2" seed="32" result="n"/>
<feColorMatrix in="n" type="matrix" values="0 0 0 0 0  0 0 0 0 0  0 0 0 0 0  3.2 0 0 0 -1.1" result="na"/>
<feComposite in="b" in2="na" operator="arithmetic" k1="0" k2="1" k3="-1" k4="0" result="d"/>
<feComponentTransfer in="d" result="m"><feFuncA type="linear" slope="12" intercept="0"/></feComponentTransfer>
<feMorphology in="SourceGraphic" operator="dilate" radius="3" result="sd"/>
<feComponentTransfer in="sd" result="c"><feFuncA type="linear" slope="200" intercept="0"/></feComponentTransfer>
<feComposite in="c" in2="m" operator="in" result="o"/>
<feGaussianBlur in="o" stdDeviation="0.4"/>
</filter></defs><g filter="url(#sf11)"><polygon points="420.0,30.0 440.0,22.0 465.0,22.0 474.0,40.0 468.0,55.0 450.0,50.0 430.0,40.0" fill="#d8952e" fill-opacity="0.3"/></g><defs><filter id="sf12" x="-15%" y="-15%" width="130%" height="130%" color-interpolation-filters="sRGB">
<feGaussianBlur in="SourceAlpha" stdDeviation="3.0" result="b"/>
<feTurbulence type="fractalNoise" baseFrequency="1.3" numOctaves="2" seed="34" result="n"/>
<feColorMatrix in="n" type="matrix" values="0 0 0 0 0  0 0 0 0 0  0 0 0 0 0  3.2 0 0 0 -1.1" result="na"/>
<feComposite in="b" in2="na" operator="arithmetic" k1="0" k2="1" k3="-1" k4="0" result="d"/>
<feComponentTransfer in="d" result="m"><feFuncA type="linear" slope="12" intercept="0"/></feComponentTransfer>
<feMorphology in="SourceGraphic" operator="dilate" radius="3" result="sd"/>
<feComponentTransfer in="sd" result="c"><feFuncA type="linear" slope="200" intercept="0"/></feComponentTransfer>
<feComposite in="c" in2="m" operator="in" result="o"/>
<feGaussianBlur in="o" stdDeviation="0.4"/>
</filter></defs><g filter="url(#sf12)"><polygon points="430.0,78.0 446.0,74.0 458.0,82.0 462.0,100.0 456.0,114.0 439.0,116.0 428.0,104.0" fill="#d8952e" fill-opacity="0.16"/></g><defs><filter id="sf13" x="-15%" y="-15%" width="130%" height="130%" color-interpolation-filters="sRGB">
<feGaussianBlur in="SourceAlpha" stdDeviation="3.0" result="b"/>
<feTurbulence type="fractalNoise" baseFrequency="1.3" numOctaves="2" seed="36" result="n"/>
<feColorMatrix in="n" type="matrix" values="0 0 0 0 0  0 0 0 0 0  0 0 0 0 0  3.2 0 0 0 -1.1" result="na"/>
<feComposite in="b" in2="na" operator="arithmetic" k1="0" k2="1" k3="-1" k4="0" result="d"/>
<feComponentTransfer in="d" result="m"><feFuncA type="linear" slope="12" intercept="0"/></feComponentTransfer>
<feMorphology in="SourceGraphic" operator="dilate" radius="3" result="sd"/>
<feComponentTransfer in="sd" result="c"><feFuncA type="linear" slope="200" intercept="0"/></feComponentTransfer>
<feComposite in="c" in2="m" operator="in" result="o"/>
<feGaussianBlur in="o" stdDeviation="0.4"/>
</filter></defs><g filter="url(#sf13)"><polygon points="476.0,66.0 500.0,72.0 508.0,90.0 512.0,108.0 490.0,110.0 478.0,100.0" fill="#aaa6d4" fill-opacity="0.13"/></g><defs><filter id="sf14" x="-15%" y="-15%" width="130%" height="130%" color-interpolation-filters="sRGB">
<feGaussianBlur in="SourceAlpha" stdDeviation="2.5" result="b"/>
<feTurbulence type="fractalNoise" baseFrequency="1.3" numOctaves="2" seed="38" result="n"/>
<feColorMatrix in="n" type="matrix" values="0 0 0 0 0  0 0 0 0 0  0 0 0 0 0  3.2 0 0 0 -1.1" result="na"/>
<feComposite in="b" in2="na" operator="arithmetic" k1="0" k2="1" k3="-1" k4="0" result="d"/>
<feComponentTransfer in="d" result="m"><feFuncA type="linear" slope="12" intercept="0"/></feComponentTransfer>
<feMorphology in="SourceGraphic" operator="dilate" radius="3" result="sd"/>
<feComponentTransfer in="sd" result="c"><feFuncA type="linear" slope="200" intercept="0"/></feComponentTransfer>
<feComposite in="c" in2="m" operator="in" result="o"/>
<feGaussianBlur in="o" stdDeviation="0.4"/>
</filter></defs><g filter="url(#sf14)"><polygon points="458.0,112.0 472.0,110.0 476.0,140.0 468.0,150.0 456.0,140.0" fill="#5b3f80" fill-opacity="0.3"/></g><defs><filter id="sf15" x="-15%" y="-15%" width="130%" height="130%" color-interpolation-filters="sRGB">
<feGaussianBlur in="SourceAlpha" stdDeviation="2.5" result="b"/>
<feTurbulence type="fractalNoise" baseFrequency="1.3" numOctaves="2" seed="37" result="n"/>
<feColorMatrix in="n" type="matrix" values="0 0 0 0 0  0 0 0 0 0  0 0 0 0 0  3.2 0 0 0 -1.1" result="na"/>
<feComposite in="b" in2="na" operator="arithmetic" k1="0" k2="1" k3="-1" k4="0" result="d"/>
<feComponentTransfer in="d" result="m"><feFuncA type="linear" slope="12" intercept="0"/></feComponentTransfer>
<feMorphology in="SourceGraphic" operator="dilate" radius="3" result="sd"/>
<feComponentTransfer in="sd" result="c"><feFuncA type="linear" slope="200" intercept="0"/></feComponentTransfer>
<feComposite in="c" in2="m" operator="in" result="o"/>
<feGaussianBlur in="o" stdDeviation="0.4"/>
</filter></defs><g filter="url(#sf15)"><polygon points="496.0,56.0 512.0,60.0 516.0,80.0 508.0,90.0 496.0,76.0" fill="#7fb58c" fill-opacity="0.25"/></g></g><path d="M345.1 140.3V169.7H375.5" fill="none" stroke="#3b5070" stroke-width="1.3"/><path d="M342.90000000000003 140.8L345.1 136.8L347.3 140.8Z" fill="#3b5070"/><path d="M375.0 167.5L379.0 169.7L375.0 171.89999999999998Z" fill="#3b5070"/><text x="348.9" y="178.7" font-size="7.2" text-anchor="start" fill="#333">UMAP 1</text><text x="340.9" y="153.1" font-size="7.3" text-anchor="middle" fill="#333" transform="rotate(-90 340.9 153.1)">UMAP 2</text><circle cx="565.30" cy="92.20" r="2.10" fill="#d8952e"/><text x="572.0" y="94.8" font-size="7.2" text-anchor="start" fill="#333">AS1</text><circle cx="565.30" cy="99.92" r="2.10" fill="#e06b6a"/><text x="572.0" y="102.5" font-size="7.2" text-anchor="start" fill="#333">AS2</text><circle cx="565.30" cy="107.64" r="2.10" fill="#aaa6d4"/><text x="572.0" y="110.2" font-size="7.2" text-anchor="start" fill="#333">AS3</text><circle cx="565.30" cy="115.36" r="2.10" fill="#5b3f80"/><text x="572.0" y="118.0" font-size="7.2" text-anchor="start" fill="#333">AS4</text><circle cx="565.30" cy="123.08" r="2.10" fill="#7fb58c"/><text x="572.0" y="125.7" font-size="7.2" text-anchor="start" fill="#333">AS5</text><circle cx="565.30" cy="130.80" r="2.10" fill="#2f7a4e"/><text x="572.0" y="133.4" font-size="7.2" text-anchor="start" fill="#333">AS6</text><polygon points="51.0,375.0 63.0,373.8 84.0,375.5 106.0,375.5 116.6,373.3 132.0,367.2 143.0,365.0 156.0,364.6 167.0,366.8 173.6,373.3 179.0,384.0 181.8,400.0 182.0,430.0 181.3,455.0 179.0,470.0 172.0,490.0 164.0,501.0 156.0,500.0 146.8,495.0 135.0,492.0 115.0,489.0 95.0,488.0 83.7,487.5 76.7,488.0 65.0,483.5 55.0,477.0 50.0,470.0 43.0,460.0 38.5,449.0 35.8,430.0 37.5,412.0 39.5,402.0 42.5,389.0 46.0,380.0" fill="#e2e3e4"/><polygon points="45.0,386.0 52.0,382.0 63.0,381.0 84.0,381.5 106.0,381.0 116.6,376.6 132.0,370.0 143.0,366.8 156.0,365.7 169.0,369.0 176.0,379.0 180.5,395.0 181.0,420.0 180.5,445.0 178.5,465.0 176.0,474.0 170.0,490.4 163.0,499.7 156.0,498.5 146.8,492.7 135.0,486.9 118.8,482.2 100.0,481.0 83.7,484.5 76.7,486.9 65.0,482.2 55.7,476.4 51.0,469.3 44.0,460.0 39.5,449.0 36.5,430.0 38.5,412.0 40.5,402.0 42.5,392.0" fill="#a5a9ac"/><path fill="none" stroke="#a8503c" stroke-width="1.2" stroke-linecap="round" d="M91.6 396.6h0M120.0 458.2h0M116.4 417.1h0M142.2 442.9h0M149.4 454.4h0M157.8 424.6h0M58.9 385.8h0M141.0 388.1h0M131.1 448.9h0M158.0 394.6h0M141.4 463.8h0M54.6 455.5h0M44.2 408.3h0M126.1 447.2h0M158.8 406.1h0M57.6 455.2h0M95.3 454.6h0M107.8 418.6h0M102.7 463.3h0M98.0 465.5h0M131.2 408.8h0M162.9 466.4h0M52.3 454.2h0M131.2 466.1h0M124.5 421.8h0M159.1 494.6h0M71.4 424.3h0M142.5 456.8h0M95.8 426.0h0M176.3 402.7h0M67.1 457.6h0M76.5 486.0h0M145.0 463.8h0M67.5 387.7h0M132.8 374.3h0M70.8 441.7h0M58.9 409.8h0M69.5 456.3h0M123.0 461.2h0M116.3 432.4h0M155.3 369.7h0M128.7 434.4h0M130.4 389.4h0M141.7 470.7h0M46.9 434.0h0M122.5 412.9h0M167.4 406.9h0M124.9 476.9h0M162.1 403.1h0M121.4 406.3h0M151.7 458.4h0M71.0 432.7h0M122.4 396.9h0M62.9 429.2h0M46.9 432.1h0M172.3 476.4h0M140.0 460.6h0M64.7 473.3h0M83.1 414.8h0M68.6 482.7h0M110.7 385.6h0M131.2 436.8h0M147.2 463.1h0M92.2 390.7h0M112.6 444.3h0M136.1 431.3h0M118.6 462.3h0M63.9 389.9h0M106.5 466.8h0M152.5 480.0h0M99.9 461.3h0M51.8 417.8h0M145.2 415.6h0M151.4 377.1h0M90.1 412.7h0M161.3 388.9h0M158.3 408.0h0M167.0 407.6h0M157.4 391.8h0M163.4 458.4h0M166.0 488.2h0M175.8 402.6h0M159.3 470.2h0M86.5 388.2h0M166.5 429.0h0M106.4 399.5h0M135.6 437.0h0M75.9 458.4h0M167.1 398.7h0M153.9 466.7h0M112.0 391.6h0M132.6 403.4h0M72.7 480.1h0M80.6 420.0h0M115.2 466.6h0M101.5 453.5h0M79.3 415.2h0M61.5 422.1h0M49.2 441.6h0M141.8 450.7h0M165.6 485.8h0M152.8 458.0h0M153.9 494.1h0M176.9 468.9h0M118.5 426.3h0M98.8 401.9h0M41.4 448.6h0M125.7 377.3h0M169.9 486.8h0M161.4 437.7h0M92.1 428.7h0M169.3 486.1h0M111.6 434.2h0M135.8 404.5h0M75.5 401.9h0M112.2 387.2h0M156.3 376.7h0M152.4 401.7h0M150.4 473.0h0M174.6 389.1h0M149.5 452.5h0M57.6 405.8h0M173.4 465.8h0M63.4 427.0h0M114.9 399.4h0M110.1 421.4h0M87.1 430.0h0M86.6 417.5h0M146.9 385.6h0M50.3 425.6h0M78.4 429.4h0M160.7 492.5h0M154.5 489.1h0M69.8 412.1h0M52.6 404.5h0M74.2 397.8h0M112.7 466.1h0M133.3 445.1h0M170.1 445.3h0M109.3 396.4h0M50.8 423.2h0M95.2 383.2h0M100.3 398.8h0M95.5 477.8h0M175.8 419.1h0M139.4 485.3h0M78.4 418.9h0M99.1 477.8h0M63.3 456.9h0M83.8 477.7h0M104.4 438.2h0M104.3 422.1h0M172.1 455.6h0M100.7 425.6h0M147.7 397.6h0M106.2 467.6h0M49.6 385.5h0M43.8 455.5h0M152.1 454.4h0M89.1 427.7h0M85.2 399.2h0M90.2 396.2h0M46.6 442.2h0M40.0 423.8h0M94.5 474.3h0M138.5 427.1h0M141.1 451.2h0M179.6 431.6h0M93.7 437.3h0M51.6 449.7h0M55.6 455.4h0M124.9 457.5h0M63.2 461.2h0M147.1 386.8h0M148.4 389.5h0M38.9 419.6h0M170.9 400.5h0M162.2 412.6h0M154.7 382.4h0M172.4 425.4h0M70.6 425.3h0M105.1 445.6h0M180.5 435.5h0M85.0 400.7h0M137.6 401.1h0M145.8 458.2h0M128.9 426.3h0M162.3 489.8h0M146.1 390.6h0M101.1 452.0h0M174.0 433.4h0M45.8 401.7h0M134.2 394.5h0M145.6 451.8h0M78.0 435.7h0M157.1 369.9h0M127.1 466.5h0M176.2 410.2h0M128.6 473.7h0M80.3 469.6h0M111.1 456.5h0M168.6 467.0h0M115.6 480.4h0M159.4 447.7h0M73.8 458.0h0M142.7 409.1h0M141.2 410.6h0M71.2 474.0h0M149.7 483.3h0M157.4 472.5h0M93.0 467.0h0M147.0 475.9h0M111.2 470.3h0M123.8 404.7h0M107.4 475.8h0M142.2 471.3h0M112.7 460.6h0M128.3 421.4h0M136.3 440.0h0M94.4 439.1h0M51.6 452.0h0M167.8 449.6h0M172.0 393.8h0M132.2 429.2h0M52.1 443.1h0M52.5 403.3h0M57.1 398.6h0M166.1 431.8h0M115.9 385.1h0M137.8 443.2h0"/><path fill="none" stroke="#d6a89a" stroke-width="1.2" stroke-linecap="round" d="M143.7 444.3h0M72.8 419.1h0M138.1 477.2h0M165.6 393.8h0M103.3 444.0h0M68.9 402.7h0M164.1 390.2h0M156.7 428.5h0M136.1 418.3h0M134.5 460.1h0M97.6 405.8h0M98.6 465.6h0M87.2 459.1h0M110.0 395.8h0M163.5 442.7h0M165.1 416.6h0M173.8 443.6h0M86.5 386.3h0M152.2 389.1h0M155.2 474.5h0M55.6 463.2h0M137.8 378.2h0M85.0 436.7h0M95.8 397.7h0M59.8 454.7h0M176.3 382.7h0M39.6 438.2h0M74.8 482.0h0M81.3 420.7h0M99.0 420.7h0M155.0 392.7h0M66.8 418.1h0M127.9 476.2h0M150.2 389.4h0M171.2 389.2h0M153.1 480.8h0M53.2 416.4h0M67.2 427.5h0M149.5 473.3h0M146.0 369.7h0M143.0 467.9h0M61.6 386.6h0M107.2 447.4h0M167.5 419.3h0M76.3 477.8h0M108.4 446.2h0M110.9 427.2h0M160.4 376.0h0M99.8 395.1h0M124.8 475.9h0M98.0 393.5h0M75.3 404.0h0M62.5 451.1h0M117.6 480.5h0M121.6 410.5h0M173.5 409.7h0M81.6 436.1h0M90.7 465.5h0M105.9 430.4h0M91.1 399.3h0M66.8 416.1h0M140.4 413.1h0M100.3 441.3h0M75.6 417.6h0M49.1 453.9h0M44.1 438.8h0M69.6 474.1h0M39.5 434.3h0M175.3 436.9h0M100.4 452.6h0M151.2 457.6h0M96.6 393.2h0M149.6 433.2h0M174.7 411.2h0M80.8 428.1h0M79.0 458.5h0M155.4 373.4h0M144.4 429.3h0M163.9 466.3h0M95.1 416.7h0M65.9 457.9h0M161.3 425.2h0M53.2 440.7h0M50.5 417.8h0M173.2 437.2h0M77.9 409.0h0M172.7 390.4h0M169.5 433.0h0M152.9 440.5h0M126.2 411.0h0"/><path fill="none" stroke="#f2f2f2" stroke-width="1.2" stroke-linecap="round" d="M79.5 387.6h0M69.7 447.7h0M96.7 438.1h0M174.1 463.7h0M171.4 468.2h0M137.7 385.4h0M131.2 377.2h0M120.2 436.4h0M102.8 474.1h0M137.6 395.3h0M107.6 421.4h0M92.4 396.1h0M68.5 448.3h0M45.5 423.2h0M108.3 427.5h0M136.4 473.6h0M114.2 387.5h0M104.0 431.2h0M68.2 450.1h0M91.4 441.9h0M148.6 488.0h0M162.7 378.0h0M125.3 402.3h0M85.8 434.6h0M111.9 443.4h0M132.6 394.0h0M137.9 410.4h0M88.4 479.4h0M141.3 368.9h0M172.6 418.3h0M79.6 417.7h0M66.1 422.9h0M157.9 496.9h0M158.3 451.9h0M98.0 429.7h0M58.2 399.5h0M51.6 389.6h0M98.1 474.5h0M79.7 419.8h0M180.3 401.1h0M123.2 409.5h0M83.9 476.0h0M129.6 437.0h0M80.5 416.2h0M104.4 475.7h0M74.9 441.8h0M151.1 373.2h0M69.4 468.0h0M99.2 450.4h0M52.2 425.3h0M104.0 470.1h0M122.4 385.8h0M48.0 400.7h0M120.7 381.2h0M58.9 412.6h0M70.8 447.0h0M68.5 393.2h0M145.0 449.0h0M143.4 385.2h0M127.2 416.4h0M104.8 394.4h0M154.7 474.8h0M103.2 414.2h0M72.6 433.4h0M80.2 424.5h0M124.4 479.7h0M159.9 374.4h0M149.2 417.8h0M53.3 426.8h0M162.6 418.3h0"/><path fill="none" stroke="#a8503c" stroke-width="1.2" stroke-linecap="round" d="M45.8 446.3h0M51.1 449.9h0M61.4 430.4h0M50.4 419.1h0M58.5 431.2h0M62.5 444.4h0M45.6 414.3h0M44.7 433.0h0M45.6 461.0h0M61.6 454.4h0M50.0 455.9h0M52.5 451.9h0M47.1 440.7h0M50.0 425.8h0M56.3 419.5h0M52.2 440.6h0M54.4 455.5h0M57.0 466.0h0M57.7 470.8h0M47.5 461.9h0M43.6 426.5h0M54.8 462.9h0M62.2 434.2h0M47.6 451.0h0M50.1 423.7h0M64.3 445.7h0M42.3 441.2h0M54.4 472.3h0M45.7 417.4h0M50.6 467.7h0M51.4 442.2h0M55.1 460.2h0M56.0 472.8h0M54.8 431.3h0M48.8 438.2h0M43.3 430.7h0M57.6 427.5h0M47.6 423.9h0M60.7 456.3h0M55.9 411.4h0M58.1 464.0h0M52.1 461.5h0M60.6 453.3h0M46.2 448.1h0M62.5 416.7h0M61.0 433.3h0M57.0 418.3h0M54.0 442.7h0M46.1 435.1h0M56.1 472.5h0M40.7 433.2h0M47.8 429.7h0M62.6 430.6h0M46.3 437.8h0M48.8 440.9h0M50.1 455.3h0M61.5 442.5h0M62.3 423.1h0M46.9 418.5h0M60.9 465.4h0M54.0 428.9h0M55.3 424.6h0M43.6 429.2h0M60.0 429.6h0M64.2 449.5h0M40.5 425.1h0M53.6 416.9h0M60.0 435.3h0M46.2 416.1h0M45.9 453.9h0M54.8 454.3h0M54.7 445.2h0M55.7 428.0h0M47.0 425.2h0M53.0 448.4h0M60.6 457.9h0M61.9 437.4h0M62.1 420.8h0M51.0 453.2h0M48.3 459.3h0M55.9 466.8h0M54.8 417.2h0M53.4 427.5h0M47.2 446.6h0M45.6 416.5h0M38.4 418.3h0M43.9 456.9h0M58.0 439.6h0M48.9 433.9h0M41.3 438.8h0M51.1 415.6h0M55.1 444.1h0M57.3 447.6h0M46.4 455.4h0M51.4 469.2h0M56.0 429.9h0M42.0 429.2h0M56.7 421.1h0M48.1 442.4h0M44.0 452.8h0M55.5 418.7h0M41.8 432.3h0M40.3 435.4h0M60.7 421.0h0M53.8 441.9h0M58.3 420.9h0M64.9 433.3h0M49.5 456.8h0M61.4 457.4h0M58.2 465.7h0M58.7 436.7h0M48.4 433.7h0M60.6 428.2h0M49.2 451.1h0M51.8 444.0h0M50.0 415.9h0M48.8 435.0h0M43.3 449.6h0M53.0 454.8h0M53.1 422.6h0M62.1 441.5h0M59.8 456.7h0M41.6 422.3h0M61.0 462.2h0M53.3 429.8h0M54.7 472.8h0M40.2 430.3h0M53.4 428.2h0M58.3 423.7h0M41.1 424.0h0M63.9 432.0h0M37.5 415.6h0M56.6 455.4h0M55.5 466.6h0M58.8 430.1h0M50.2 455.2h0M50.2 416.2h0M46.9 437.3h0M45.7 414.9h0M53.8 426.3h0M55.0 433.1h0M56.5 465.6h0M52.6 432.5h0M56.5 429.4h0M58.7 474.8h0M61.0 449.3h0M63.4 447.0h0M48.0 430.4h0M54.2 422.4h0M54.0 458.9h0M52.3 415.7h0M43.8 449.5h0M59.6 463.1h0M61.4 410.6h0M50.6 446.4h0M45.3 462.2h0M60.0 429.9h0M40.2 429.2h0M61.0 446.1h0M60.1 429.1h0M57.1 468.8h0M54.7 445.2h0M60.0 434.5h0M45.8 426.4h0M40.5 416.7h0M52.9 455.9h0M51.3 419.1h0M60.4 438.3h0M51.8 426.6h0M52.4 442.2h0"/><path fill="none" stroke="#c07060" stroke-width="1.2" stroke-linecap="round" d="M63.2 422.1h0M55.7 421.2h0M52.7 416.6h0M40.3 420.4h0M58.8 415.6h0M62.5 435.7h0M46.2 453.0h0M55.5 449.9h0M59.8 432.5h0M54.0 427.5h0M50.0 452.6h0M57.6 463.6h0M50.1 464.5h0M43.2 453.4h0M61.3 423.1h0M51.7 433.6h0M61.9 441.0h0M44.0 437.7h0M42.5 429.6h0M60.6 445.2h0M40.5 432.1h0M65.1 435.5h0M52.6 441.0h0M60.9 455.3h0M62.2 437.6h0M53.0 415.8h0M58.1 444.3h0M59.8 418.9h0M48.3 467.6h0M56.2 462.4h0M48.1 424.3h0M57.9 463.0h0M48.1 459.6h0M61.4 413.2h0M46.6 419.8h0M46.4 438.8h0M43.3 426.8h0M42.6 431.2h0M61.9 448.1h0M49.9 426.7h0M52.8 463.7h0M55.9 422.8h0M58.0 417.7h0M51.0 431.6h0M43.6 447.3h0M63.8 441.0h0M57.6 434.3h0M59.7 436.8h0M52.9 427.3h0M54.8 439.9h0M57.3 420.7h0M44.9 455.9h0M52.4 423.4h0M51.0 431.2h0M64.1 436.6h0M59.9 451.8h0M52.9 470.9h0M56.4 443.8h0M50.2 431.1h0M53.4 448.5h0"/><path fill="none" stroke="#7a74aa" stroke-width="1.2" stroke-linecap="round" d="M66.6 419.9h0M60.5 412.0h0M43.6 388.5h0M61.9 392.2h0M64.2 415.8h0M52.9 402.8h0M69.2 406.8h0M65.5 407.3h0M53.9 410.3h0M56.1 401.3h0M46.4 412.5h0M46.8 396.0h0M66.6 412.5h0M45.4 400.5h0M70.4 408.0h0M65.7 403.2h0M61.6 412.3h0M68.6 415.6h0M70.6 401.9h0M66.6 407.1h0M47.2 398.8h0M54.9 392.3h0M54.6 406.5h0M47.7 400.6h0M50.8 417.2h0M69.4 382.8h0M45.8 400.6h0M62.4 390.7h0M58.1 419.9h0M64.9 399.8h0M44.3 404.3h0M44.9 410.8h0M51.5 390.9h0M45.2 401.0h0M52.3 416.3h0M61.7 412.7h0M51.0 387.5h0M44.6 394.6h0M70.7 412.5h0M62.9 393.0h0M62.6 406.8h0M57.6 395.6h0M50.8 410.0h0M61.2 392.1h0M46.4 420.2h0M56.5 409.5h0M49.1 401.3h0M50.3 403.6h0M66.7 419.6h0M46.9 424.3h0M63.2 389.8h0M48.3 389.3h0M51.8 418.0h0M70.5 399.9h0M70.8 389.8h0M48.6 387.7h0M43.8 390.2h0M52.0 396.2h0M59.7 385.6h0M63.0 406.6h0M60.3 421.2h0M66.5 389.4h0M70.4 414.1h0M46.7 413.8h0M63.8 417.0h0M52.6 406.3h0M44.5 414.2h0M48.1 386.1h0M71.5 405.6h0M55.8 403.0h0M56.7 384.7h0M46.0 423.8h0M50.7 412.0h0M68.1 398.6h0M54.8 391.0h0M70.3 383.8h0M47.4 418.2h0M66.6 417.4h0M55.6 389.8h0M61.4 417.8h0M46.6 408.1h0M69.9 384.2h0M61.6 399.2h0M45.0 387.5h0M65.6 393.4h0M63.4 412.1h0M57.7 400.5h0M56.8 422.3h0M60.7 397.8h0M74.1 385.5h0"/><path fill="none" stroke="#f2f2f2" stroke-width="1.2" stroke-linecap="round" d="M51.1 419.7h0M54.7 423.4h0M73.5 417.1h0M56.8 428.7h0M70.2 434.1h0M75.2 450.6h0M71.9 415.7h0M78.4 458.2h0M73.6 432.9h0M59.2 421.3h0M71.0 468.6h0M65.0 422.1h0M62.5 451.4h0M72.2 458.2h0M59.9 435.8h0M68.4 426.3h0M62.9 420.8h0M65.9 449.5h0M58.9 431.8h0M59.1 446.8h0M61.1 433.7h0M63.3 419.7h0M62.9 453.7h0M47.5 434.4h0M51.1 468.5h0M67.3 423.4h0M57.6 442.0h0M72.0 450.6h0M66.4 443.7h0M77.7 461.8h0M61.5 459.7h0M77.4 465.9h0M55.2 463.9h0M54.2 467.1h0M76.8 466.0h0M57.9 455.5h0M59.0 465.8h0M61.8 427.6h0M65.7 457.8h0M50.6 423.9h0M71.5 455.2h0M68.3 439.0h0M63.5 435.0h0M64.9 445.7h0M70.5 441.8h0M58.4 447.7h0M68.8 425.7h0M48.5 441.2h0M46.9 436.3h0M76.3 437.5h0"/><path fill="none" stroke="#7a74aa" stroke-width="1.2" stroke-linecap="round" d="M56.6 468.0h0M70.8 465.2h0M70.5 463.2h0M68.4 458.8h0M68.8 424.4h0M73.6 449.2h0M51.8 468.6h0M67.3 429.1h0M50.1 423.5h0M66.9 435.8h0M59.1 426.5h0M70.2 465.7h0M67.2 465.1h0M69.9 467.4h0M71.1 429.5h0M62.4 455.9h0M50.4 427.1h0M54.5 420.9h0M67.8 453.3h0M71.7 429.6h0M70.6 434.7h0M66.3 421.8h0M50.7 464.5h0M62.8 464.9h0M60.2 460.7h0M68.8 441.4h0M61.2 420.0h0M53.6 466.1h0M73.0 457.1h0M69.2 424.2h0M59.3 432.9h0M73.5 452.1h0M68.3 455.5h0M51.7 460.1h0M58.6 457.6h0"/><path fill="none" stroke="#a8503c" stroke-width="1.2" stroke-linecap="round" d="M174.6 447.8h0M146.7 492.7h0M143.0 478.7h0M144.9 464.2h0M156.0 457.4h0M161.7 465.8h0M177.9 456.2h0M166.5 474.5h0M167.5 462.1h0M170.1 481.0h0M153.0 467.6h0M146.7 492.3h0M156.0 437.6h0M148.9 489.4h0M140.6 489.9h0M165.5 479.0h0M154.2 453.8h0M157.4 443.1h0M168.8 485.4h0M167.3 463.2h0M159.9 473.0h0M159.2 463.6h0M164.8 441.6h0M149.4 450.7h0M167.3 471.4h0M160.4 457.2h0M174.7 435.9h0M144.8 475.7h0M146.6 451.7h0M161.0 458.8h0M179.1 443.4h0M179.6 431.5h0M151.8 482.6h0M156.5 497.1h0M157.8 470.1h0M178.8 450.8h0M157.8 445.7h0M163.0 496.7h0M142.2 449.5h0M161.7 463.0h0M177.0 442.9h0M161.6 449.9h0M163.0 491.7h0M162.8 485.6h0M145.8 484.8h0M155.9 479.2h0M154.1 482.1h0M141.7 490.2h0M173.3 463.3h0M176.8 464.0h0M146.4 490.6h0M147.0 442.6h0M158.1 469.4h0M163.2 449.8h0M146.0 467.1h0M152.5 480.0h0M165.2 467.4h0M147.4 453.3h0M171.2 465.3h0M174.7 465.6h0M161.1 437.7h0M175.4 446.8h0M140.8 480.6h0M162.5 474.7h0M164.2 436.2h0M142.3 452.2h0M148.7 483.0h0M169.4 468.8h0M156.0 467.0h0M152.2 454.7h0M140.5 464.7h0M142.1 472.7h0M166.7 441.0h0M148.0 458.6h0M176.5 453.5h0M150.9 448.1h0M158.4 450.1h0M153.0 480.8h0M151.9 437.3h0M160.3 435.6h0M158.7 470.9h0M144.8 472.7h0M140.3 472.1h0M170.2 445.1h0M162.0 498.9h0M142.6 467.3h0M173.8 469.6h0M173.3 477.2h0M147.3 468.6h0M165.4 460.2h0M152.2 465.2h0M176.5 457.1h0M156.4 460.3h0M154.8 445.2h0M163.0 475.2h0M170.0 467.9h0M154.7 467.1h0M168.7 448.8h0M168.1 434.9h0M160.6 443.5h0M151.7 490.4h0M156.3 457.3h0M161.0 460.4h0M155.9 438.3h0M155.2 483.2h0M170.4 471.3h0M158.0 479.1h0M153.8 460.4h0M156.6 484.1h0M148.8 460.9h0M172.3 478.5h0M162.9 481.5h0M146.0 481.3h0M166.9 437.3h0M168.8 457.7h0M166.2 464.3h0M169.6 437.1h0M167.1 451.2h0M153.0 446.0h0M173.4 474.1h0M159.5 452.6h0M156.3 440.5h0M152.1 465.6h0M149.8 484.3h0M143.1 443.8h0M150.4 438.8h0M162.6 464.3h0M166.3 490.8h0M144.4 458.4h0M152.1 460.0h0M163.8 447.5h0M168.2 469.1h0M152.6 461.8h0M168.9 452.6h0M167.5 447.7h0M174.9 443.8h0M171.8 466.1h0M169.3 456.1h0M171.5 463.7h0M160.2 474.1h0M156.9 445.3h0M158.7 436.6h0M153.4 467.0h0M160.6 437.7h0M171.2 479.2h0M151.1 473.5h0M165.1 470.1h0M143.2 468.5h0M166.7 492.6h0M148.3 482.7h0M151.3 490.2h0M166.6 446.9h0M150.5 444.7h0M166.9 461.7h0M146.0 447.5h0M145.1 485.6h0M160.9 479.1h0M153.7 463.1h0M169.6 453.0h0M159.2 445.0h0M141.1 447.6h0M151.0 446.3h0M170.6 481.1h0M172.9 477.1h0M149.9 471.4h0M162.5 471.2h0M162.3 440.1h0M147.2 454.1h0M148.4 444.8h0M142.9 452.5h0M165.5 440.0h0M167.3 481.8h0M178.7 445.0h0M157.4 441.6h0M176.8 444.8h0M150.2 461.2h0M162.1 494.6h0M168.2 471.3h0M147.9 480.6h0M162.7 438.9h0M146.7 466.2h0M160.3 447.8h0M147.3 475.6h0M176.3 455.3h0M160.5 478.2h0M154.1 440.2h0M168.1 475.2h0M152.5 484.9h0M165.5 473.5h0M142.4 462.8h0M156.5 479.0h0M165.6 468.7h0M143.6 474.8h0M177.8 441.7h0M164.0 475.3h0M164.8 483.7h0M141.8 440.5h0M165.9 484.2h0M144.5 447.7h0M163.5 497.5h0M148.9 455.7h0M157.6 494.8h0M157.8 465.7h0M175.8 459.2h0M170.4 467.2h0M172.8 471.4h0M175.8 443.4h0M141.5 468.2h0M170.4 480.4h0M140.6 450.2h0M149.5 445.1h0M175.9 457.2h0M154.5 481.6h0M160.9 452.3h0M168.9 448.1h0M144.3 455.6h0M147.2 476.4h0M166.2 462.6h0M161.7 479.0h0M178.9 434.6h0M174.6 448.3h0M166.5 461.5h0M155.2 451.6h0M141.5 464.3h0M161.4 479.6h0M153.6 466.6h0M146.5 490.2h0M165.1 436.9h0M150.6 467.4h0M156.3 482.1h0M159.0 472.3h0M152.1 490.5h0M158.1 467.5h0M154.3 466.9h0M149.7 486.5h0M150.1 478.4h0M152.2 439.5h0M145.2 444.5h0M160.2 465.4h0M148.8 481.5h0M173.3 441.9h0M143.5 481.1h0M170.8 477.5h0M168.9 476.1h0M160.7 486.1h0M147.6 493.1h0M157.9 495.8h0M175.0 449.1h0M155.6 482.1h0M178.6 444.2h0M172.6 464.3h0M168.1 435.6h0M154.1 481.5h0M154.0 463.8h0M168.0 442.4h0M165.7 450.4h0M153.1 470.8h0M163.0 449.8h0M171.7 433.5h0M167.9 451.9h0"/><path fill="none" stroke="#a8503c" stroke-width="1.2" stroke-linecap="round" d="M150.8 392.9h0M155.1 396.9h0M159.4 399.8h0M162.6 369.5h0M161.5 399.0h0M134.9 370.7h0M163.4 394.9h0M171.7 372.0h0M174.8 380.0h0M153.4 383.5h0M144.5 397.5h0M150.0 381.2h0M172.2 377.7h0M155.0 395.0h0M161.8 371.2h0M141.3 383.9h0M151.7 380.2h0M169.6 400.1h0M146.0 386.5h0M161.8 398.7h0M155.2 368.3h0M160.7 372.9h0M150.0 392.0h0M171.7 380.2h0M136.0 379.4h0M154.1 380.8h0M148.6 398.5h0M140.0 367.9h0M145.4 380.9h0M145.2 388.5h0M147.0 394.3h0M151.6 381.5h0M141.8 381.6h0M161.3 378.2h0M160.5 371.2h0M138.5 380.7h0M172.5 387.3h0M164.4 368.5h0M151.1 391.6h0M143.5 377.1h0M156.2 385.3h0M166.1 385.0h0M154.6 373.0h0M147.3 389.9h0M172.8 387.1h0M164.3 379.0h0M164.8 375.7h0M161.8 390.6h0M151.1 365.0h0M146.3 376.8h0M136.7 385.2h0M164.5 383.0h0M144.2 370.7h0M140.4 383.5h0M141.0 385.8h0M169.2 382.3h0M154.0 372.1h0M156.7 369.4h0M149.8 369.2h0M153.6 372.0h0M168.9 397.2h0M175.8 394.4h0M169.6 381.5h0M142.2 387.4h0M159.8 379.8h0M138.1 376.2h0M160.4 365.6h0M158.3 382.7h0M166.2 386.3h0M153.6 390.3h0M169.5 385.5h0M144.7 372.9h0M137.7 367.4h0M160.2 396.2h0M155.5 383.4h0M163.8 367.6h0M142.3 385.4h0M142.6 373.8h0M146.8 367.5h0M153.5 396.3h0M151.2 369.7h0M168.6 371.3h0M173.1 382.5h0M155.5 389.1h0M150.0 396.9h0M139.4 385.9h0M135.7 380.5h0M159.4 383.6h0M157.8 399.9h0M158.6 374.0h0M164.7 393.2h0M161.2 394.5h0M175.7 392.6h0M158.1 379.4h0M144.8 380.5h0M165.4 377.2h0M137.6 388.2h0M162.3 373.1h0M149.5 375.3h0M147.6 371.4h0M166.5 394.5h0M172.3 378.5h0M174.9 399.6h0M146.5 373.6h0M149.1 378.3h0M166.2 389.9h0M153.2 376.5h0M162.6 396.9h0M175.4 388.9h0M168.7 373.7h0M145.9 376.6h0M177.3 388.2h0M154.8 395.1h0M146.0 372.2h0M170.3 397.5h0M147.6 365.8h0M157.7 399.8h0M144.9 392.7h0M143.7 365.4h0M138.6 393.4h0M151.9 383.1h0M167.0 399.4h0M150.0 395.9h0M151.3 384.9h0"/><path fill="none" stroke="#a8503c" stroke-width="1.2" stroke-linecap="round" d="M97.1 410.0h0M107.3 397.9h0M95.9 401.3h0M87.6 397.0h0M102.5 388.6h0M94.6 398.0h0M102.5 395.6h0M87.0 406.4h0M100.5 389.2h0M92.2 397.0h0M110.0 407.0h0M105.7 389.8h0M101.3 409.6h0M96.9 410.4h0M102.3 404.1h0M108.7 388.3h0M108.3 404.3h0M88.8 400.5h0M95.4 389.4h0M103.4 401.5h0M97.1 409.9h0M96.7 393.8h0M93.0 391.8h0M107.9 407.4h0M106.3 405.3h0M104.1 406.1h0M100.7 398.3h0M98.0 405.9h0M93.1 406.0h0M106.5 399.5h0M108.1 409.2h0M96.6 409.4h0M88.7 388.1h0M106.5 402.8h0M97.9 400.8h0M90.7 409.0h0M93.7 392.7h0M101.5 402.7h0M100.6 388.9h0M95.3 403.1h0M100.5 404.6h0M101.4 398.9h0M86.6 391.2h0M105.4 408.8h0M95.4 389.7h0M87.8 406.6h0M100.9 402.6h0M87.5 393.1h0M101.1 388.5h0M98.3 388.3h0M99.8 396.7h0M108.0 404.2h0M99.0 393.0h0M96.5 390.3h0M101.5 403.5h0M105.3 395.8h0M106.2 405.1h0M95.3 404.9h0M88.0 411.5h0M96.4 402.8h0"/><path fill="none" stroke="#a8503c" stroke-width="1.2" stroke-linecap="round" d="M128.9 434.6h0M130.8 448.2h0M148.4 449.2h0M144.0 433.8h0M141.0 432.5h0M145.3 456.6h0M148.3 449.3h0M124.6 458.1h0M130.0 449.2h0M146.7 447.1h0M116.4 429.7h0M132.2 461.4h0M126.8 456.6h0M122.2 431.0h0M121.3 426.9h0M124.3 435.1h0M141.2 443.3h0M142.1 429.5h0M133.2 449.9h0M124.6 453.3h0M129.2 441.5h0M146.7 444.2h0M116.2 451.1h0M118.9 427.1h0M135.4 440.1h0M115.9 439.6h0M123.1 434.0h0M134.9 444.3h0M144.1 462.8h0M144.2 426.1h0M118.0 437.5h0M125.8 453.0h0M115.4 434.7h0M133.2 430.9h0M119.3 431.4h0M115.3 461.2h0M123.0 426.7h0M115.2 437.1h0M147.8 432.0h0M123.6 438.5h0M115.4 454.9h0M131.9 458.2h0M142.1 432.0h0M124.3 436.8h0M140.6 451.6h0M123.6 444.8h0M148.0 457.8h0M127.5 435.5h0M148.5 460.0h0M148.9 435.7h0M147.4 434.7h0M148.7 441.0h0M128.1 439.7h0M144.5 464.3h0M143.8 457.1h0M130.8 456.3h0M147.9 460.8h0M144.5 450.0h0M144.9 452.8h0M132.1 454.5h0M146.7 457.5h0M133.3 427.4h0M127.2 463.5h0M119.3 460.5h0M119.4 465.0h0M123.6 443.8h0M138.4 429.1h0M146.7 430.6h0M128.4 463.8h0M117.8 444.5h0"/><polygon points="287.8,375.0 299.8,373.8 320.8,375.5 342.8,375.5 353.4,373.3 368.8,367.2 379.8,365.0 392.8,364.6 403.8,366.8 410.4,373.3 415.8,384.0 418.6,400.0 418.8,430.0 418.1,455.0 415.8,470.0 408.8,490.0 400.8,501.0 392.8,500.0 383.6,495.0 371.8,492.0 351.8,489.0 331.8,488.0 320.5,487.5 313.5,488.0 301.8,483.5 291.8,477.0 286.8,470.0 279.8,460.0 275.3,449.0 272.6,430.0 274.3,412.0 276.3,402.0 279.3,389.0 282.8,380.0" fill="#e2e3e4"/><polygon points="281.8,386.0 288.8,382.0 299.8,381.0 320.8,381.5 342.8,381.0 353.4,376.6 368.8,370.0 379.8,366.8 392.8,365.7 405.8,369.0 412.8,379.0 417.3,395.0 417.8,420.0 417.3,445.0 415.3,465.0 412.8,474.0 406.8,490.4 399.8,499.7 392.8,498.5 383.6,492.7 371.8,486.9 355.6,482.2 336.8,481.0 320.5,484.5 313.5,486.9 301.8,482.2 292.5,476.4 287.8,469.3 280.8,460.0 276.3,449.0 273.3,430.0 275.3,412.0 277.3,402.0 279.3,392.0" fill="#a5a9ac"/><path fill="none" stroke="#9a1a42" stroke-width="1.3" stroke-linecap="round" d="M283.0 427.9h0M313.1 459.9h0M300.6 431.3h0M296.0 465.7h0M306.0 456.3h0M299.5 400.1h0M323.3 462.6h0M296.2 392.3h0M304.0 431.1h0M318.8 440.9h0M303.7 438.8h0M296.3 387.7h0M322.6 411.7h0M325.5 433.7h0M308.1 473.5h0M313.5 392.1h0M310.3 459.3h0M326.0 415.1h0M304.9 451.0h0M319.3 387.9h0M308.5 418.7h0M285.4 441.6h0M281.3 431.0h0M319.2 475.7h0M315.6 387.0h0M279.6 395.3h0M279.7 447.5h0M281.0 434.9h0M300.1 386.7h0M330.5 395.1h0M316.7 479.0h0M294.0 452.6h0M303.2 473.9h0M314.9 464.8h0M323.7 420.4h0M315.4 392.0h0M297.9 449.4h0M307.6 408.3h0M308.2 471.5h0M293.5 416.7h0M285.4 400.2h0M322.0 451.5h0M329.5 404.5h0M285.5 404.0h0M287.6 427.5h0M305.9 442.5h0M303.9 471.7h0M323.9 475.3h0M307.8 408.6h0M282.2 457.1h0M314.7 395.1h0M310.3 402.5h0M299.0 384.4h0M296.2 414.9h0M289.7 396.0h0M307.6 450.2h0M286.2 387.3h0M290.1 450.8h0M290.4 445.8h0M279.0 451.2h0M282.9 404.7h0M316.4 429.1h0M311.3 410.7h0M312.9 412.0h0M302.2 426.1h0M306.1 465.0h0M309.6 453.2h0M304.3 438.8h0M311.2 462.5h0M309.4 385.4h0M314.7 470.7h0M325.7 405.4h0M316.4 433.1h0M289.4 430.1h0M301.1 411.8h0M294.3 426.0h0M290.0 396.5h0M320.6 417.7h0M295.6 459.0h0M314.6 426.4h0M292.4 460.2h0M288.3 427.9h0M288.5 440.6h0M304.8 387.7h0M319.8 403.7h0M308.4 452.5h0M326.5 408.3h0M303.3 471.6h0M285.4 407.7h0M304.2 396.0h0M322.3 412.9h0M318.0 407.7h0M283.6 450.2h0M297.2 419.5h0M299.8 427.5h0M301.6 445.9h0M280.9 448.5h0M302.5 462.4h0M291.2 447.7h0M286.5 450.8h0M313.6 435.8h0M302.1 475.2h0M295.2 391.0h0M293.7 387.2h0M285.4 444.0h0M298.4 388.7h0M311.0 391.1h0M309.8 406.7h0M319.0 386.8h0M281.1 412.5h0M312.9 461.4h0M312.3 404.8h0M290.7 442.0h0M319.9 443.6h0M293.1 460.6h0M298.2 443.9h0M323.2 447.4h0M301.0 440.3h0M286.4 425.4h0M322.3 430.0h0M283.6 386.2h0M307.8 457.5h0M281.2 426.0h0M301.1 394.9h0M310.7 407.4h0M314.2 431.8h0M304.7 405.4h0M292.6 392.9h0M304.6 390.0h0M281.3 425.0h0M313.6 402.6h0M312.2 437.1h0M325.3 414.1h0M290.9 424.3h0M279.8 442.4h0M278.2 424.4h0M291.8 417.6h0M292.3 395.1h0M311.5 412.4h0M290.3 413.3h0M294.9 460.0h0M287.1 395.0h0M293.6 438.3h0M290.9 393.6h0M325.9 426.1h0M299.5 399.8h0M313.1 453.0h0M289.5 443.7h0M280.6 413.5h0M291.3 460.3h0M310.0 432.6h0M299.7 436.5h0M302.3 408.0h0M322.2 460.3h0M296.8 422.1h0M318.5 399.4h0M285.6 416.9h0M310.4 414.0h0M304.3 432.7h0M290.2 444.4h0M306.5 412.4h0M316.1 383.9h0M278.3 452.0h0M300.6 455.3h0M289.4 446.5h0M290.0 399.7h0M299.9 431.7h0M277.4 399.2h0M296.5 435.8h0M314.7 396.1h0M321.7 417.9h0M300.3 417.9h0M308.5 456.4h0M283.6 430.1h0M291.1 409.4h0M297.3 443.7h0M300.9 450.7h0M320.4 475.3h0M322.5 450.7h0M294.0 453.4h0M322.0 426.1h0M311.1 420.0h0M288.6 424.5h0M308.3 419.5h0M293.5 444.1h0M293.0 430.3h0M279.6 413.9h0M281.3 429.8h0M293.5 419.6h0M308.1 386.7h0M307.4 471.6h0M278.1 429.0h0M322.4 406.1h0M282.3 388.6h0M314.5 457.0h0M299.1 416.8h0M320.4 461.4h0M300.6 459.1h0M293.4 470.5h0M317.3 443.5h0M322.7 448.4h0M324.2 417.2h0M296.2 474.7h0M299.6 413.3h0M320.8 417.2h0M298.6 438.1h0M309.6 387.5h0M280.2 411.5h0M299.3 460.7h0M320.4 454.8h0M316.5 432.7h0M279.8 417.0h0M317.3 385.5h0M288.6 384.6h0M293.4 414.5h0M302.1 400.1h0M305.9 394.4h0M319.8 464.0h0M298.4 468.9h0M312.7 437.3h0M311.1 426.1h0M296.6 436.4h0M310.0 418.0h0M296.7 415.8h0M295.3 395.7h0M305.3 427.9h0M300.0 441.4h0M313.6 436.5h0M304.2 419.5h0M287.1 427.2h0M329.4 397.6h0M310.1 433.8h0M280.0 406.6h0M289.6 391.6h0M292.4 448.2h0M302.6 433.0h0M300.7 386.2h0M278.9 395.1h0M321.2 450.9h0M287.7 439.5h0M312.6 410.0h0M298.3 460.2h0M286.6 385.9h0M325.7 415.9h0M309.4 477.3h0M285.9 408.6h0M293.9 410.1h0M303.1 385.1h0M286.9 421.5h0M296.2 451.4h0M298.5 466.6h0M328.8 408.5h0M281.5 441.9h0M278.3 423.2h0M297.8 463.9h0M308.6 455.3h0M312.8 459.2h0M316.7 461.1h0M297.0 400.0h0M288.0 462.1h0M316.6 453.6h0M319.6 418.8h0M313.8 454.4h0M287.9 394.9h0M278.3 412.6h0M319.0 405.0h0M322.4 446.1h0M329.2 409.6h0M277.5 409.5h0M281.4 415.2h0M308.1 477.1h0M323.7 413.6h0M308.0 431.7h0M275.9 410.3h0M303.5 432.3h0M315.7 412.3h0M291.8 395.9h0M287.5 417.1h0M302.2 425.2h0M309.4 452.9h0M299.8 431.5h0M317.3 455.9h0M296.6 445.1h0M291.6 432.5h0M322.6 454.0h0M307.6 469.5h0M294.5 436.8h0M287.0 432.3h0M318.3 413.8h0M279.4 440.7h0M283.7 416.7h0M313.9 457.0h0M313.7 413.9h0M282.9 418.6h0M304.8 455.9h0M309.1 452.4h0M310.5 450.5h0M322.6 467.1h0M305.3 438.2h0M304.0 440.8h0M307.7 460.4h0M299.8 394.9h0M323.9 443.2h0M320.3 463.0h0M284.0 410.9h0M285.1 433.3h0M293.3 391.3h0M320.6 464.9h0M306.0 469.0h0M305.3 398.8h0M320.8 435.8h0M296.6 392.2h0M322.5 409.8h0M290.5 444.2h0M314.7 473.3h0M291.8 393.5h0M321.6 417.3h0M281.0 412.2h0M294.4 386.3h0M306.8 426.6h0M276.7 435.8h0M294.2 461.4h0M283.7 410.9h0M317.9 479.0h0M305.3 414.7h0M313.9 477.0h0M276.5 402.2h0M282.2 438.8h0M322.6 415.5h0M279.9 403.8h0M322.6 441.9h0M278.3 451.0h0M324.7 426.1h0M302.4 468.7h0M285.7 410.1h0M322.3 407.7h0M318.2 390.6h0M286.4 425.7h0M304.4 410.8h0M279.4 391.2h0M322.7 412.1h0M294.5 457.3h0M313.9 426.1h0M289.1 427.5h0M322.9 442.1h0M290.1 415.2h0M316.4 470.5h0M292.5 424.7h0M288.3 437.5h0M305.5 457.1h0M312.6 450.7h0M320.5 408.4h0M316.9 426.4h0M312.4 418.9h0M298.6 396.1h0M320.8 406.8h0M287.1 459.4h0M296.5 443.2h0M304.5 431.0h0M309.8 429.9h0M279.2 431.8h0M305.3 384.7h0M293.6 393.9h0M280.4 425.9h0M303.0 455.3h0M313.6 454.7h0M325.6 418.3h0M303.1 454.3h0M317.4 463.2h0M279.4 448.7h0M318.7 443.6h0M308.8 412.8h0M295.1 405.1h0M305.1 473.1h0M301.3 447.8h0M316.7 387.6h0M309.3 391.8h0M279.5 408.7h0M282.8 410.6h0M295.5 404.8h0M293.7 420.3h0M319.3 475.8h0M286.2 449.0h0M323.1 447.6h0M317.2 415.0h0M277.7 446.1h0M286.1 391.9h0M315.4 470.9h0M314.7 429.8h0M292.4 442.3h0M294.8 398.0h0M301.6 437.2h0M313.6 450.3h0M293.0 429.2h0M317.5 472.4h0M315.8 432.0h0M302.9 436.5h0M305.8 427.5h0M298.8 434.6h0M293.0 459.8h0M294.6 469.1h0M316.8 456.5h0M295.1 409.8h0M295.4 457.0h0M285.1 457.5h0M290.9 437.8h0M289.4 420.7h0M311.0 399.1h0M292.3 420.7h0M297.0 420.8h0M288.8 394.9h0M317.3 431.4h0M321.0 403.1h0M294.0 432.1h0M297.5 404.0h0M303.0 437.1h0M297.0 456.1h0M309.4 427.9h0M312.5 413.5h0M317.0 439.1h0M279.4 396.7h0M278.4 448.1h0M289.6 461.1h0M295.8 410.6h0M296.3 440.2h0M293.6 403.7h0M299.7 401.8h0M311.1 439.0h0M279.1 447.5h0M316.2 400.8h0M310.4 449.2h0M291.1 456.1h0M277.6 402.8h0M293.0 411.6h0"/><path fill="none" stroke="#e0963e" stroke-width="1.25" stroke-linecap="round" d="M293.7 435.0h0M287.6 427.6h0M291.5 442.4h0M285.9 443.1h0M284.9 442.7h0M277.9 447.6h0M276.1 430.0h0M284.0 423.8h0M280.9 435.9h0M290.0 435.3h0M292.6 443.5h0M291.3 440.4h0M282.6 451.6h0M294.4 427.4h0M285.7 443.0h0M284.8 437.1h0M286.3 446.4h0M289.2 446.7h0M294.4 441.3h0M294.0 425.1h0M277.2 422.1h0M287.2 435.3h0M290.6 445.8h0M278.8 429.0h0M291.0 437.6h0M282.4 449.5h0M282.9 457.7h0M277.5 444.0h0M284.1 432.1h0M284.7 447.9h0M280.3 435.9h0M286.4 435.1h0M284.0 430.6h0M290.5 443.7h0M289.9 444.0h0M289.5 456.2h0M288.7 436.6h0M289.7 429.1h0M289.8 449.8h0M283.8 453.4h0M290.4 450.7h0M296.1 438.9h0M285.2 452.8h0M277.1 431.5h0M287.7 437.3h0M287.8 442.1h0M286.8 438.4h0M291.8 455.2h0M285.1 431.9h0M295.6 435.9h0M282.3 455.6h0M279.1 432.0h0M288.2 453.1h0M278.3 445.3h0M275.4 426.5h0M287.6 434.6h0M293.0 433.4h0M295.4 429.8h0M284.0 451.3h0M293.7 431.6h0"/><path fill="none" stroke="#ece39a" stroke-width="1.2" stroke-linecap="round" d="M366.5 414.5h0M326.8 434.2h0M374.6 389.0h0M324.2 422.5h0M321.7 391.6h0M324.0 458.5h0M317.4 432.2h0M352.1 448.5h0M395.6 425.3h0M382.1 473.6h0M379.9 387.1h0M355.3 432.6h0M363.1 436.1h0M336.5 418.5h0M373.6 429.9h0M336.6 441.5h0M351.7 459.8h0M384.0 404.0h0M383.6 391.8h0M311.4 408.7h0M343.8 465.2h0M332.6 414.8h0M377.5 412.2h0M308.3 405.2h0M316.3 470.5h0M353.7 433.0h0M318.5 466.1h0M309.1 460.3h0M324.6 460.2h0M343.9 425.7h0M308.7 441.9h0M393.1 423.5h0M349.8 456.3h0M305.8 445.0h0M336.4 472.4h0M326.9 382.4h0M394.6 453.9h0M387.2 410.7h0M396.2 463.3h0M322.0 472.0h0M341.5 396.7h0M381.5 458.3h0M360.0 387.9h0M395.0 469.0h0M388.3 479.2h0M329.8 457.7h0M324.7 454.7h0M358.8 420.7h0M351.1 479.9h0M356.0 424.7h0M313.5 423.6h0M391.1 434.4h0M350.1 478.1h0M369.5 461.0h0M341.2 447.1h0M376.8 472.4h0M350.3 378.5h0M331.2 430.5h0M302.2 406.1h0M338.0 466.8h0M369.1 478.6h0M368.7 473.6h0M324.3 471.3h0M392.0 405.3h0M329.8 466.9h0M380.0 448.1h0M384.7 422.0h0M394.0 399.4h0M366.0 378.8h0M297.1 382.2h0M350.4 457.7h0M382.4 437.1h0M333.3 471.2h0M347.4 458.8h0M393.6 400.7h0M334.6 466.5h0M354.5 469.1h0M298.6 460.7h0M363.5 441.8h0M311.1 410.3h0M388.4 417.1h0M388.0 412.0h0M358.7 445.6h0M314.8 463.1h0M311.0 391.8h0M316.9 416.0h0M366.9 447.7h0M361.9 377.7h0M344.9 450.9h0M318.4 401.1h0M315.9 379.7h0M380.6 445.1h0M320.6 420.9h0M312.1 465.8h0M395.3 427.7h0M315.9 399.3h0M349.7 468.5h0M313.2 437.3h0M342.8 398.7h0M392.2 402.4h0M381.7 432.6h0M329.8 460.4h0M343.1 462.2h0M318.9 417.1h0M384.3 417.7h0M366.3 449.5h0M353.1 441.4h0M328.7 415.6h0M369.5 398.0h0M310.6 469.3h0M321.8 392.4h0M353.8 394.0h0M321.6 399.7h0M348.6 460.4h0M366.9 395.5h0M342.6 387.0h0M329.8 452.9h0M378.2 425.5h0M354.7 430.7h0M313.2 472.8h0"/><path fill="none" stroke="#8f9a55" stroke-width="1.2" stroke-linecap="round" d="M333.6 402.2h0M331.9 402.0h0M334.1 398.2h0M332.0 405.8h0M345.9 396.5h0M338.0 398.9h0M329.0 405.6h0M343.2 394.8h0M339.3 394.1h0M335.3 396.8h0M331.8 396.1h0M346.6 402.9h0M345.7 395.9h0M335.8 396.0h0M337.7 398.6h0M331.7 401.1h0M330.5 398.0h0M338.2 398.5h0M332.0 400.7h0M345.1 403.9h0M341.6 403.0h0M330.2 403.4h0M339.1 402.2h0M342.3 402.0h0M345.1 396.5h0M333.6 401.7h0M339.1 401.1h0M334.1 394.9h0M333.0 405.2h0M340.1 402.7h0"/><path fill="none" stroke="#3f8f8c" stroke-width="1.2" stroke-linecap="round" d="M367.4 437.8h0M350.2 444.4h0M365.5 440.1h0M357.3 454.9h0M362.5 443.5h0M349.9 436.0h0M355.6 434.0h0M366.3 442.9h0M369.2 452.0h0M361.3 432.2h0M357.6 436.7h0M349.4 446.5h0M372.3 453.3h0M364.2 453.8h0M350.1 441.8h0M365.6 431.7h0M360.0 449.0h0M354.5 434.3h0M350.7 446.3h0M359.5 443.4h0M359.0 454.3h0M364.8 431.0h0M355.4 454.9h0M371.5 450.9h0M361.0 447.8h0M373.0 454.0h0M369.3 451.1h0M347.9 453.1h0M360.6 438.7h0M376.2 441.0h0M352.9 433.0h0M356.5 433.9h0M349.6 448.9h0M370.3 437.1h0M367.0 452.6h0M347.8 441.1h0M364.2 438.2h0M362.2 443.4h0M350.7 444.0h0M367.9 443.1h0M359.8 431.6h0M353.3 432.1h0M364.2 442.1h0M357.8 438.0h0M364.4 453.6h0M370.4 432.0h0M367.2 433.6h0M375.8 442.7h0M351.5 447.9h0M358.6 436.8h0M368.5 431.5h0M367.7 431.9h0M356.0 441.2h0M358.8 430.6h0M365.6 447.8h0"/><path fill="none" stroke="#c83e2c" stroke-width="1.3" stroke-linecap="round" d="M367.9 438.9h0M394.3 411.3h0M395.0 411.9h0M410.1 379.2h0M389.4 417.7h0M399.8 392.7h0M409.9 382.9h0M410.3 402.2h0M364.8 426.0h0M376.3 417.9h0M380.1 410.9h0M382.3 392.2h0M370.2 380.7h0M364.9 402.5h0M374.1 406.5h0M373.6 429.2h0M372.6 372.7h0M372.6 421.8h0M389.3 413.3h0M386.5 370.4h0M384.9 423.2h0M413.5 396.7h0M392.6 409.4h0M379.3 399.5h0M384.8 387.4h0M371.4 402.0h0M388.1 406.5h0M368.2 386.4h0M406.0 391.6h0M395.3 398.8h0M378.0 401.1h0M378.1 423.7h0M382.6 379.9h0M376.2 422.2h0M416.0 428.9h0M379.3 403.3h0M406.1 420.9h0M380.4 428.7h0M366.3 380.2h0M396.1 389.5h0M404.6 435.0h0M385.0 420.7h0M406.7 376.6h0M372.3 419.7h0M407.8 405.7h0M401.3 384.7h0M367.7 425.2h0M368.0 401.5h0M369.3 415.5h0M404.0 434.5h0M414.0 400.2h0M404.9 384.6h0M366.9 384.3h0M383.5 389.0h0M369.3 417.1h0M370.9 380.5h0M402.5 414.0h0M381.8 376.9h0M375.2 376.9h0M415.7 418.0h0M395.8 406.7h0M391.2 373.3h0M414.4 387.1h0M391.7 397.0h0M414.4 414.5h0M408.9 381.9h0M377.7 422.1h0M409.5 425.5h0M366.4 399.4h0M399.8 420.5h0M407.8 386.3h0M401.7 402.2h0M392.8 424.5h0M392.8 376.1h0M402.8 403.8h0M364.4 429.1h0M397.7 375.5h0M407.7 379.9h0M408.0 383.0h0M385.4 395.2h0M366.9 433.5h0M376.9 411.2h0M415.0 430.3h0M388.0 432.1h0M383.3 415.3h0M382.4 429.0h0M369.3 377.8h0M399.0 438.0h0M366.6 390.3h0M371.2 392.6h0M377.7 417.7h0M402.6 377.2h0M367.2 376.5h0M396.4 377.3h0M404.1 431.1h0M371.7 427.3h0M392.7 394.3h0M395.8 385.6h0M408.3 393.7h0M382.1 424.6h0M413.5 437.5h0M371.2 383.4h0M395.0 430.5h0M389.3 400.7h0M415.0 426.5h0M385.8 385.3h0M381.3 396.0h0M364.2 381.6h0M413.8 432.6h0M387.4 401.0h0M390.6 409.1h0M402.5 374.9h0M364.8 432.9h0M375.5 404.0h0M390.1 424.3h0M387.1 428.5h0M414.9 436.8h0M370.9 390.0h0M398.5 439.8h0M392.8 396.7h0M394.4 391.1h0M411.1 414.1h0M372.7 431.7h0M365.0 438.8h0M376.2 397.4h0M395.1 413.2h0M374.3 429.4h0M416.6 409.9h0M408.8 393.5h0M400.9 389.8h0M406.6 385.3h0M388.7 375.3h0M401.2 394.2h0M387.4 429.1h0M378.9 385.5h0M385.0 413.3h0M386.9 436.6h0M386.0 422.7h0M410.2 410.1h0M367.6 408.4h0M381.5 411.0h0M380.2 377.0h0M398.1 419.7h0M390.8 385.9h0M414.5 412.2h0M373.5 414.1h0M394.4 390.9h0M379.3 378.6h0M373.9 415.7h0M404.4 390.7h0M409.7 399.2h0M402.4 413.2h0M377.9 388.6h0M383.4 413.1h0M402.3 427.4h0M391.7 381.4h0M410.0 391.6h0M400.1 416.1h0M365.1 416.8h0M370.6 377.7h0M389.4 423.2h0M385.1 423.7h0M393.8 426.3h0M391.9 436.0h0M364.9 403.2h0M386.0 421.0h0M371.4 397.7h0M393.4 437.3h0M405.0 415.8h0M381.1 435.9h0M395.6 423.4h0M413.3 393.6h0M389.7 416.3h0M388.1 394.9h0M401.0 390.4h0M401.0 394.9h0M407.1 395.0h0M382.4 429.9h0M406.9 430.7h0M388.5 390.9h0M405.9 388.4h0M401.2 408.8h0M384.1 398.2h0M394.3 431.5h0M370.0 384.2h0M398.8 407.3h0M384.0 404.7h0M394.1 413.8h0M365.1 407.8h0M376.6 375.0h0M378.9 415.8h0M384.8 400.8h0M373.5 387.8h0M372.2 394.0h0M386.3 387.7h0M394.7 417.2h0M394.9 430.8h0M406.4 438.9h0M382.3 394.4h0M408.5 404.9h0M377.9 417.8h0M402.3 433.1h0M372.2 436.3h0M406.5 378.0h0M383.1 397.6h0M377.7 397.3h0M385.1 438.1h0M408.7 406.6h0M374.4 402.9h0M369.9 428.1h0M381.2 398.7h0M364.3 423.1h0M393.4 400.2h0M386.6 433.9h0M409.1 401.7h0M365.8 424.8h0M368.2 408.5h0M369.2 372.9h0M379.7 404.9h0M364.7 417.5h0M403.6 420.4h0M382.2 398.8h0M383.5 437.6h0M382.9 426.0h0M376.2 384.3h0M413.7 432.2h0M390.0 434.1h0M373.7 398.1h0M395.5 412.7h0M368.1 426.8h0M376.2 382.1h0M403.6 410.9h0M395.2 411.9h0M395.4 435.1h0M382.8 382.3h0M365.2 388.8h0M391.6 437.7h0"/><path fill="none" stroke="#c83e2c" stroke-width="1.3" stroke-linecap="round" d="M370.0 465.5h0M398.8 498.6h0M369.3 484.4h0M410.0 459.3h0M368.1 441.0h0M399.1 448.9h0M414.6 443.3h0M408.8 450.0h0M392.9 454.5h0M391.9 488.2h0M378.9 475.8h0M392.5 461.3h0M384.4 461.8h0M368.5 441.2h0M369.3 450.1h0M386.5 469.8h0M368.6 468.1h0M369.3 449.8h0M415.0 444.9h0M367.3 479.1h0M384.4 462.8h0M390.2 441.0h0M403.0 444.5h0M374.1 487.6h0M394.0 470.7h0M369.8 452.6h0M395.1 466.2h0M401.9 448.0h0M372.0 460.8h0M376.3 450.5h0M377.1 478.6h0M398.2 488.9h0M401.1 492.2h0M376.3 459.1h0M401.0 477.5h0M402.0 456.3h0M405.3 477.9h0M376.3 449.5h0M405.6 444.4h0M410.3 452.4h0M409.3 442.0h0M399.8 449.8h0M371.8 478.5h0M385.9 476.8h0M409.2 453.6h0M396.0 488.5h0M368.5 476.3h0M375.7 450.5h0M369.0 476.2h0M367.9 481.2h0M390.8 475.9h0M410.7 476.5h0M405.8 480.8h0M380.3 476.3h0M387.5 460.7h0M408.5 469.9h0M367.6 447.0h0M416.3 446.7h0M368.7 451.1h0M395.3 460.9h0M382.8 487.8h0M408.2 471.7h0M409.3 457.7h0M383.8 462.6h0M374.8 480.7h0M369.4 450.4h0M383.0 445.3h0M398.1 451.6h0M379.4 477.4h0M383.1 478.9h0M392.3 486.7h0M394.0 460.3h0M372.3 472.9h0M401.7 497.6h0M399.6 479.8h0M377.6 467.0h0M395.9 487.3h0M395.8 454.9h0M379.0 459.1h0M379.6 464.0h0M376.5 483.3h0M378.1 446.1h0M407.7 444.9h0M408.4 459.9h0M366.5 472.7h0M401.5 485.6h0M400.1 443.1h0M387.0 487.2h0M368.3 475.4h0M397.5 459.3h0M373.0 484.6h0M406.2 472.3h0M408.8 484.5h0M368.6 469.3h0M405.2 472.4h0M414.8 445.1h0M411.7 448.9h0M389.8 484.8h0M400.0 469.5h0M377.4 473.8h0M395.1 445.8h0M401.3 478.8h0M383.8 489.7h0M395.8 481.0h0M378.9 456.4h0M370.5 476.3h0M415.4 443.1h0M378.5 465.1h0M395.5 486.5h0M397.6 487.4h0M380.7 465.1h0M401.8 473.3h0M395.3 467.6h0M394.9 444.7h0M392.7 473.3h0M366.9 470.5h0M383.7 443.4h0M393.5 496.4h0M408.6 462.1h0M371.1 479.3h0M380.7 461.5h0M377.0 477.1h0M401.7 440.5h0M389.3 479.3h0M388.1 460.4h0M385.3 456.8h0M397.9 463.7h0M392.4 484.9h0M368.0 443.9h0M379.2 448.4h0M372.2 471.8h0M394.0 463.8h0M385.4 446.1h0M371.2 445.4h0M373.4 483.2h0M373.2 481.9h0M392.5 452.9h0M385.3 441.7h0M396.1 480.8h0M404.5 484.8h0M379.0 459.0h0M411.9 461.1h0M406.0 474.6h0M402.5 460.3h0M406.5 446.7h0M394.4 465.0h0M389.3 493.5h0M383.5 486.2h0M368.4 462.2h0M408.0 463.4h0M399.9 463.0h0M383.3 468.9h0M369.3 486.4h0M377.5 471.1h0M395.8 461.0h0M408.6 451.3h0M388.5 473.0h0M377.3 465.0h0M410.9 448.6h0M390.0 474.6h0M400.7 457.6h0M387.4 482.4h0M369.8 478.7h0M409.1 478.3h0M401.8 461.4h0M394.6 460.9h0M369.5 440.5h0M386.8 448.5h0M372.0 468.5h0M393.0 478.1h0M385.3 449.4h0M374.2 487.1h0M372.2 457.0h0M403.0 484.2h0M372.2 485.8h0M407.0 458.0h0M375.6 440.8h0M395.4 455.6h0M410.4 474.9h0M399.4 467.8h0M411.9 450.5h0M401.6 472.4h0M386.8 494.9h0M388.8 456.4h0M404.5 456.0h0M394.1 492.1h0M392.9 441.4h0M396.0 488.7h0M377.1 489.1h0M378.3 466.1h0M377.0 474.8h0M401.1 497.2h0M381.0 455.6h0M389.5 496.0h0M377.5 459.7h0M414.5 453.8h0M405.4 474.1h0M374.3 486.5h0M379.5 473.8h0M410.1 465.5h0M372.0 464.2h0M415.4 440.1h0M372.6 471.8h0M383.2 492.5h0M392.8 489.7h0M398.7 477.2h0M370.0 458.8h0M400.5 462.5h0M370.4 442.9h0M376.0 482.9h0M408.3 474.8h0M367.7 456.0h0M401.5 468.0h0M380.5 445.7h0M413.0 448.0h0M387.7 480.5h0M400.5 444.8h0M365.5 453.0h0M386.3 474.5h0M415.9 441.5h0M386.8 480.3h0M378.7 491.2h0M401.7 484.2h0M366.6 478.1h0M396.8 451.1h0M404.5 494.6h0M411.9 449.2h0M375.7 469.0h0M379.9 451.9h0M388.6 456.2h0M407.2 487.2h0M371.7 487.6h0M373.3 479.0h0M374.9 441.8h0M401.8 457.7h0M399.0 490.6h0M399.8 495.3h0M388.9 442.7h0M375.7 466.6h0M378.7 477.3h0M392.6 496.8h0M384.3 441.6h0M381.4 457.0h0M407.0 445.4h0M368.9 444.6h0M388.1 471.3h0M374.8 463.7h0M393.3 496.2h0M373.7 461.8h0M370.5 459.6h0M372.7 458.9h0M395.0 465.1h0M380.2 473.6h0M373.8 474.1h0M377.0 462.7h0M378.4 475.6h0M406.5 482.7h0M396.4 458.5h0M387.2 478.9h0M394.2 459.7h0M392.0 469.9h0M383.1 492.3h0M407.2 474.7h0M369.2 441.4h0M393.4 462.5h0M394.6 488.8h0M366.6 452.4h0M376.0 464.8h0M367.1 449.3h0M403.9 491.7h0M397.4 484.1h0M367.2 481.5h0M387.4 467.0h0M403.1 451.5h0M397.8 497.2h0M367.9 483.2h0M393.5 496.1h0M381.3 477.6h0M380.3 459.7h0M366.9 462.9h0M370.9 482.8h0M396.1 500.4h0M412.0 460.5h0M395.3 486.3h0M373.3 460.6h0M407.2 482.0h0M400.3 470.8h0M405.1 471.9h0M390.3 470.7h0M390.0 493.1h0M400.2 451.1h0M398.4 472.9h0M398.9 479.9h0M399.7 462.2h0M400.5 475.1h0"/><path fill="none" stroke="#3a4a9a" stroke-width="1.2" stroke-linecap="round" d="M407.6 456.8h0M402.6 376.4h0M412.3 394.8h0M408.3 443.3h0M415.3 405.4h0M415.8 440.6h0M403.9 379.1h0M412.8 431.4h0M404.1 450.3h0M414.6 404.9h0M394.1 402.1h0M402.0 389.2h0M404.4 396.5h0M394.1 403.4h0M416.1 391.8h0M403.3 433.4h0M406.7 392.5h0M395.4 378.7h0M395.0 392.6h0M418.1 447.7h0M398.9 385.6h0M403.9 447.7h0M409.7 381.7h0M415.0 415.9h0M401.9 422.4h0M407.4 394.9h0M410.1 469.1h0M418.0 439.3h0M416.8 460.5h0"/><path d="M40.1 479.7V509.1H70.5" fill="none" stroke="#3b5070" stroke-width="1.3"/><path d="M37.9 480.2L40.1 476.2L42.300000000000004 480.2Z" fill="#3b5070"/><path d="M70.0 506.90000000000003L74.0 509.1L70.0 511.3Z" fill="#3b5070"/><text x="44.2" y="518.4" font-size="7.2" text-anchor="start" fill="#333">UMAP 1</text><text x="36.4" y="492.6" font-size="7.3" text-anchor="middle" fill="#333" transform="rotate(-90 36.4 492.6)">UMAP 2</text><path d="M271.9 479.7V509.1H302.6" fill="none" stroke="#3b5070" stroke-width="1.3"/><path d="M269.7 480.2L271.9 476.2L274.09999999999997 480.2Z" fill="#3b5070"/><path d="M302.1 506.90000000000003L306.1 509.1L302.1 511.3Z" fill="#3b5070"/><text x="276.0" y="518.4" font-size="7.2" text-anchor="start" fill="#333">UMAP 1</text><text x="267.9" y="492.6" font-size="7.3" text-anchor="middle" fill="#333" transform="rotate(-90 267.9 492.6)">UMAP 2</text><text x="200.8" y="383.6" font-size="8.0" text-anchor="start" fill="#333">logFC</text><defs><linearGradient id="lfc" x1="0" y1="0" x2="0" y2="1"><stop offset="0" stop-color="#9b1c1c"/><stop offset="0.5" stop-color="#f3f0f0"/><stop offset="1" stop-color="#3b3a9a"/></linearGradient></defs><rect x="201.00" y="387.00" width="5.00" height="33.00" fill="url(#lfc)"/><text x="209.5" y="392.0" font-size="7.8" text-anchor="start" fill="#333">4</text><text x="209.5" y="399.0" font-size="7.8" text-anchor="start" fill="#333">2</text><text x="209.5" y="406.0" font-size="7.8" text-anchor="start" fill="#333">0</text><text x="209.5" y="413.0" font-size="7.8" text-anchor="start" fill="#333">−2</text><text x="209.5" y="420.0" font-size="7.8" text-anchor="start" fill="#333">−4</text><text x="200.8" y="434.6" font-size="8.0" text-anchor="start" fill="#333">Overlap size</text><rect x="201.50" y="439.60" width="4.50" height="0.80" fill="#e0e0e0"/><text x="209.5" y="442.5" font-size="7.8" text-anchor="start" fill="#333">20</text><rect x="201.50" y="446.60" width="4.50" height="2.00" fill="#e0e0e0"/><text x="209.5" y="450.1" font-size="7.8" text-anchor="start" fill="#333">40</text><rect x="201.50" y="453.60" width="4.50" height="3.20" fill="#e0e0e0"/><text x="209.5" y="457.7" font-size="7.8" text-anchor="start" fill="#333">60</text><text x="200.8" y="470.8" font-size="8.0" text-anchor="start" fill="#333">Nhood size</text><circle cx="203.50" cy="477.00" r="0.70" fill="#555"/><text x="209.5" y="479.5" font-size="7.8" text-anchor="start" fill="#333">100</text><circle cx="203.50" cy="485.00" r="0.95" fill="#555"/><text x="209.5" y="487.5" font-size="7.8" text-anchor="start" fill="#333">200</text><text x="434.9" y="381.2" font-size="8.0" text-anchor="start" fill="#333">Nhood size</text><circle cx="438.80" cy="386.80" r="0.70" fill="#555"/><text x="443.0" y="389.5" font-size="7.8" text-anchor="start" fill="#333">100</text><circle cx="438.80" cy="394.80" r="0.95" fill="#555"/><text x="443.0" y="397.5" font-size="7.8" text-anchor="start" fill="#333">200</text><text x="434.9" y="409.8" font-size="8.0" text-anchor="start" fill="#333">Overlap size</text><rect x="436.50" y="414.20" width="4.50" height="0.80" fill="#e0e0e0"/><text x="443.0" y="417.1" font-size="7.8" text-anchor="start" fill="#333">20</text><rect x="436.50" y="421.50" width="4.50" height="2.20" fill="#e0e0e0"/><text x="443.0" y="425.1" font-size="7.8" text-anchor="start" fill="#333">40</text><rect x="436.50" y="428.80" width="4.50" height="3.60" fill="#e0e0e0"/><text x="443.0" y="433.1" font-size="7.8" text-anchor="start" fill="#333">60</text><text x="434.9" y="445.6" font-size="8.0" text-anchor="start" fill="#333">NhoodGroup</text><circle cx="438.80" cy="451.20" r="0.75" fill="#8b1a3a"/><text x="443.0" y="453.7" font-size="7.8" text-anchor="start" fill="#333">1</text><circle cx="438.80" cy="459.05" r="0.75" fill="#9a2a2a"/><text x="443.0" y="461.6" font-size="7.8" text-anchor="start" fill="#333">2</text><circle cx="438.80" cy="466.90" r="0.75" fill="#8a4a2a"/><text x="443.0" y="469.4" font-size="7.8" text-anchor="start" fill="#333">3</text><circle cx="438.80" cy="474.75" r="0.75" fill="#6a6a3a"/><text x="443.0" y="477.2" font-size="7.8" text-anchor="start" fill="#333">4</text><circle cx="438.80" cy="482.60" r="0.75" fill="#4a6a5a"/><text x="443.0" y="485.1" font-size="7.8" text-anchor="start" fill="#333">5</text><circle cx="438.80" cy="490.45" r="0.75" fill="#3a5a6a"/><text x="443.0" y="492.9" font-size="7.8" text-anchor="start" fill="#333">6</text><circle cx="438.80" cy="498.30" r="0.75" fill="#3a4a6a"/><text x="443.0" y="500.8" font-size="7.8" text-anchor="start" fill="#333">7</text><line x1="161.70" y1="731.00" x2="161.70" y2="897.00" stroke="#c8c8c8" stroke-width="0.6"/><line x1="201.10" y1="731.00" x2="201.10" y2="897.00" stroke="#c8c8c8" stroke-width="0.6"/><line x1="36.50" y1="888.70" x2="248.00" y2="888.70" stroke="#dcdcdc" stroke-width="0.7"/><path d="M36.5 731.0V897.0" fill="none" stroke="#bbb" stroke-width="1.1"/><path d="M36.5 897.0H248.0" fill="none" stroke="#888" stroke-width="0.8"/><line x1="34.30" y1="888.70" x2="36.50" y2="888.70" stroke="#444" stroke-width="0.5"/><text x="32.7" y="891.2" font-size="7.2" text-anchor="end" fill="#555">0</text><line x1="34.30" y1="838.70" x2="36.50" y2="838.70" stroke="#444" stroke-width="0.5"/><text x="32.7" y="841.2" font-size="7.2" text-anchor="end" fill="#555">100</text><line x1="34.30" y1="788.70" x2="36.50" y2="788.70" stroke="#444" stroke-width="0.5"/><text x="32.7" y="791.2" font-size="7.2" text-anchor="end" fill="#555">200</text><line x1="34.30" y1="738.70" x2="36.50" y2="738.70" stroke="#444" stroke-width="0.5"/><text x="32.7" y="741.2" font-size="7.2" text-anchor="end" fill="#555">300</text><line x1="82.90" y1="897.00" x2="82.90" y2="899.20" stroke="#444" stroke-width="0.5"/><text x="82.9" y="908.0" font-size="7.1" text-anchor="middle" fill="#555">-1.0</text><line x1="132.15" y1="897.00" x2="132.15" y2="899.20" stroke="#444" stroke-width="0.5"/><text x="132.2" y="908.0" font-size="7.1" text-anchor="middle" fill="#555">-0.5</text><line x1="181.40" y1="897.00" x2="181.40" y2="899.20" stroke="#444" stroke-width="0.5"/><text x="181.4" y="908.0" font-size="7.1" text-anchor="middle" fill="#555">0</text><line x1="230.65" y1="897.00" x2="230.65" y2="899.20" stroke="#444" stroke-width="0.5"/><text x="230.7" y="908.0" font-size="7.1" text-anchor="middle" fill="#555">0.5</text><polygon points="175.5,888.0 174.5,885.0 172.9,882.0 170.8,879.0 168.8,876.0 167.8,873.0 166.8,870.0 165.7,867.0 164.7,864.0 164.0,861.0 163.2,858.0 162.5,855.0 161.7,852.0 161.1,849.0 160.5,846.0 159.9,843.0 159.3,840.0 158.7,837.0 158.1,834.0 157.5,831.0 156.9,828.0 156.3,825.0 155.7,822.0 155.1,819.0 154.5,816.0 154.1,813.0 153.6,810.0 153.2,807.0 152.7,804.0 152.0,801.0 151.2,798.0 150.5,795.0 149.7,792.0 149.0,789.0 148.4,786.0 147.7,783.0 147.0,780.0 146.4,777.0 145.9,775.0 146.4,778.0 146.9,781.0 147.5,784.0 148.0,787.0 148.5,790.0 149.1,793.0 149.7,796.0 150.3,799.0 150.9,802.0 151.4,805.0 151.7,808.0 151.9,811.0 152.2,814.0 152.6,817.0 153.1,820.0 153.5,823.0 153.9,826.0 154.4,829.0 154.9,832.0 155.3,835.0 155.8,838.0 156.2,841.0 156.7,844.0 157.1,847.0 157.6,850.0 158.1,853.0 158.7,856.0 159.3,859.0 159.9,862.0 160.5,865.0 161.4,868.0 162.3,871.0 163.2,874.0 164.5,877.0 166.5,880.0 168.5,883.0 169.9,886.0" fill="#d4922f"/><polygon points="173.0,884.5 189.5,884.5 189.5,889.5 173.0,889.5" fill="#d4922f"/><polygon points="186.5,889.5 190.5,880.0 194.0,870.0 197.5,860.0 200.5,850.0 202.5,852.0 199.5,862.0 196.5,872.0 193.0,882.0 190.0,889.5" fill="#d4922f"/><path fill="none" stroke="#5d4a9c" stroke-width="1.6" stroke-linecap="round" d="M144.0 801.1h0M152.8 820.3h0M127.1 770.1h0M170.1 881.7h0M158.4 868.6h0M115.8 764.9h0M140.4 778.8h0M157.4 842.3h0M150.8 860.1h0M151.6 823.6h0M163.0 877.6h0M136.4 782.4h0M138.0 820.4h0M140.1 792.1h0M148.4 802.1h0M153.2 834.5h0M139.7 790.5h0M127.6 768.0h0M156.2 857.2h0M162.3 871.0h0M158.9 862.6h0M126.5 773.8h0M145.6 832.2h0M164.0 877.3h0M150.3 846.4h0M151.7 826.0h0M149.5 822.6h0M148.1 823.4h0M136.4 762.9h0M143.1 801.4h0M132.5 767.2h0M127.8 801.7h0M125.2 768.3h0M116.8 766.6h0M147.5 809.0h0M141.7 825.0h0M135.1 768.8h0M155.0 852.2h0M151.7 823.9h0M144.7 791.9h0M147.9 800.7h0M140.1 830.2h0M132.9 809.6h0M156.1 838.5h0M147.2 823.7h0M142.2 817.6h0M146.7 820.4h0M161.6 873.4h0M141.4 803.7h0M149.8 841.0h0M128.0 783.2h0M131.7 755.7h0M141.8 770.9h0M112.7 762.1h0M134.1 765.2h0M154.8 848.7h0M130.8 753.8h0M149.4 807.5h0M147.0 853.0h0M163.6 869.4h0M155.3 844.4h0M150.1 826.6h0M147.3 805.7h0M164.1 874.1h0M147.1 812.9h0M158.4 879.8h0M132.9 815.6h0M111.9 775.0h0M160.2 859.1h0M138.1 799.6h0M123.0 782.8h0M141.5 817.1h0M140.3 796.2h0M152.6 843.7h0M153.3 824.1h0M162.0 866.9h0M158.5 849.0h0M148.3 839.8h0M143.7 830.3h0M140.3 803.8h0M146.7 808.4h0M166.9 879.2h0M128.7 756.8h0M155.6 833.1h0M132.8 756.8h0M145.4 863.6h0M144.5 790.8h0M142.4 773.5h0M136.5 786.0h0M147.2 795.0h0M107.9 761.6h0M148.3 858.3h0M163.5 877.8h0M132.8 796.1h0M144.7 782.1h0M141.3 783.2h0M159.5 856.0h0M150.2 803.5h0M159.5 870.3h0M152.7 857.3h0M162.7 876.9h0M154.2 838.9h0M141.8 800.3h0M152.4 824.5h0M135.3 773.1h0M148.3 812.5h0M161.8 881.6h0M160.1 858.7h0M154.1 841.2h0M141.8 805.4h0M150.7 846.2h0M136.0 802.2h0M129.0 778.6h0M146.6 791.9h0M132.6 743.8h0M139.1 788.2h0M154.2 849.7h0M158.2 857.2h0M141.7 788.4h0M155.5 841.2h0M159.2 854.3h0M159.5 872.6h0M157.1 845.6h0M141.6 785.1h0M150.5 825.5h0M160.2 858.4h0M139.8 809.5h0M163.1 869.1h0M137.6 803.2h0M155.3 848.6h0M148.5 804.6h0M149.5 842.2h0M153.5 847.4h0M150.4 837.3h0M125.7 786.4h0M118.6 749.7h0M154.4 829.7h0M146.5 798.4h0M124.4 780.7h0M124.9 764.8h0M146.9 810.3h0M119.4 749.7h0M143.0 792.0h0M135.6 822.5h0M136.6 796.5h0M142.7 778.6h0M157.6 850.0h0M147.2 834.5h0M154.1 861.6h0M134.2 756.5h0M151.3 830.5h0M154.4 851.9h0M142.1 812.5h0M152.9 850.3h0M166.1 878.3h0M150.3 854.2h0M136.2 792.3h0M128.3 760.6h0M160.4 859.8h0M146.5 832.8h0M159.8 856.3h0M163.9 879.8h0M129.3 822.6h0M138.6 806.3h0M157.7 855.3h0M161.3 862.4h0M147.0 848.2h0M162.7 871.4h0M128.2 778.1h0M159.1 853.6h0M167.6 881.7h0M117.5 761.4h0M135.0 820.4h0M154.0 860.0h0M149.5 807.7h0M150.9 850.0h0M151.1 846.5h0M166.0 883.0h0M142.9 829.1h0M156.1 837.5h0M128.3 757.7h0M153.2 829.8h0M127.9 756.0h0M127.5 799.5h0M147.3 802.7h0M154.4 850.0h0M149.9 838.3h0M144.2 807.0h0M148.5 796.7h0M143.0 773.0h0M136.5 778.5h0M162.0 880.0h0M151.4 810.6h0M152.3 845.5h0M147.0 827.2h0M140.5 798.2h0M143.0 777.6h0M149.5 822.1h0M150.2 861.1h0M145.3 805.4h0M160.3 880.5h0M148.0 820.1h0M133.0 742.6h0M141.5 855.6h0M160.6 857.9h0M149.3 803.9h0M138.7 825.5h0M130.7 778.6h0M168.7 884.7h0M137.8 765.5h0M143.6 820.4h0M149.1 804.4h0M165.8 880.6h0M161.2 862.4h0M143.6 794.4h0M145.4 793.5h0M168.8 885.7h0M153.6 850.7h0M152.8 850.6h0M142.8 778.2h0M128.1 752.4h0M126.6 745.9h0M156.7 850.8h0M144.4 804.8h0M150.8 829.0h0M139.0 827.7h0M117.5 762.4h0M149.0 839.5h0M149.1 801.6h0M164.5 874.4h0M168.1 879.4h0M150.6 820.3h0M161.0 868.9h0M143.6 792.9h0M132.2 761.2h0M152.8 822.9h0M161.6 875.2h0M158.3 863.1h0M121.3 775.8h0M149.2 827.7h0M161.8 874.1h0M124.6 806.2h0M162.3 878.2h0M148.3 856.8h0M137.4 763.4h0M160.0 876.5h0M153.4 851.6h0M149.1 809.3h0M143.1 782.4h0M140.8 813.2h0M127.6 797.9h0M148.1 841.7h0M159.9 859.6h0M165.1 873.5h0M135.3 768.1h0M152.1 859.7h0M146.6 843.9h0M151.0 820.6h0M145.1 786.4h0M132.2 754.4h0M166.0 881.1h0M150.2 818.5h0M147.0 799.7h0M132.2 782.3h0M164.4 873.9h0M152.8 824.7h0M140.6 790.7h0M142.8 802.5h0M141.0 803.2h0M148.6 828.3h0M143.7 851.5h0M149.9 822.0h0M155.2 864.0h0M152.9 840.8h0M161.5 863.8h0M147.2 819.1h0M127.2 779.9h0M148.9 807.0h0M146.2 796.1h0M158.9 850.5h0M138.5 811.1h0M164.0 876.4h0M156.2 853.9h0M112.6 784.6h0M153.2 839.8h0M162.8 874.5h0M156.7 843.3h0M161.1 868.4h0M137.5 801.0h0M140.0 806.1h0M135.0 797.7h0M142.5 848.9h0M143.0 826.2h0M143.0 797.2h0M128.0 764.0h0M151.3 842.0h0M165.6 883.7h0M166.4 884.7h0M146.8 829.4h0M146.8 813.0h0M158.8 860.5h0M169.1 881.4h0M155.6 833.2h0M147.9 840.7h0M153.9 839.2h0M158.6 857.2h0M139.3 810.0h0M153.2 859.1h0M159.2 860.9h0M159.5 860.4h0M138.7 789.9h0M135.4 798.9h0M114.2 742.0h0M150.2 840.7h0M171.1 884.4h0M139.4 821.6h0M155.2 839.7h0M150.9 835.9h0M149.4 843.0h0M149.1 829.8h0M153.8 848.1h0M141.3 797.9h0M158.0 851.7h0M143.2 782.2h0M146.2 811.3h0M143.7 828.6h0M161.0 866.7h0M156.3 859.5h0M147.0 851.4h0M125.1 751.5h0M145.9 834.4h0M128.3 786.2h0M150.2 865.7h0M146.2 806.9h0M146.1 849.7h0M128.4 808.5h0M142.4 815.5h0M127.0 762.8h0M162.5 870.2h0M167.4 880.8h0M154.7 829.7h0M138.2 794.2h0M145.7 812.6h0M166.3 876.1h0M164.1 873.8h0M156.3 857.2h0M163.8 876.2h0M154.9 843.3h0M168.1 881.5h0M143.1 787.7h0M157.8 845.7h0M151.7 813.4h0M144.5 796.5h0M156.3 837.3h0M155.6 851.0h0M146.2 833.3h0M155.1 863.7h0M151.6 837.7h0M161.4 867.4h0M163.7 872.0h0M152.6 868.6h0M156.9 843.2h0M163.2 870.9h0M131.7 771.9h0M160.0 861.0h0M137.8 798.5h0M142.0 812.0h0M142.0 789.0h0M169.5 884.6h0M145.3 786.8h0M155.4 857.1h0M154.6 851.9h0M143.4 798.9h0M143.1 790.8h0M141.5 835.5h0M133.2 777.5h0M167.1 877.3h0M131.4 770.4h0M141.4 805.2h0M163.4 868.8h0M170.7 883.6h0M148.0 821.1h0M145.1 781.7h0M134.7 781.5h0M153.9 851.4h0M147.2 796.0h0M134.6 777.3h0M132.0 763.8h0M155.1 832.7h0M131.2 797.9h0M153.5 871.0h0M139.0 791.8h0M158.8 878.7h0M151.0 825.3h0M155.3 835.0h0M136.1 812.5h0M164.4 873.9h0M124.5 752.9h0M140.4 798.2h0M153.5 840.0h0M106.7 743.7h0M168.1 881.2h0M156.1 852.5h0M167.3 885.9h0M155.9 863.8h0M167.7 879.8h0M150.9 836.3h0M155.6 849.6h0M123.8 828.4h0M166.6 885.6h0M168.1 880.9h0M150.1 808.5h0M159.8 867.8h0M138.9 769.3h0M144.2 795.3h0M158.7 858.8h0M138.4 786.2h0M129.3 775.1h0M157.5 868.5h0M150.3 856.7h0M160.0 857.2h0M142.4 814.1h0M143.9 815.8h0M159.5 864.8h0M154.0 845.7h0M154.4 839.5h0M161.9 863.7h0M144.9 813.8h0M137.1 824.7h0M149.8 843.1h0M142.5 799.6h0M133.5 780.6h0M140.0 815.8h0M162.2 872.1h0M162.4 875.5h0M152.2 837.3h0M152.1 836.8h0M145.9 829.5h0M126.5 786.9h0M153.8 847.0h0M149.9 807.1h0M145.6 836.4h0M140.0 802.6h0M156.8 845.3h0M161.2 873.3h0M149.8 837.5h0M158.8 850.0h0M164.3 878.0h0M140.4 777.9h0M149.0 828.8h0M153.4 823.7h0M167.5 881.6h0M125.1 755.0h0M139.9 813.0h0M141.0 786.5h0M116.1 788.6h0M142.4 854.5h0M142.0 841.7h0M164.8 875.1h0M149.6 822.4h0M158.4 854.4h0M170.8 885.1h0M166.9 878.1h0M158.0 853.9h0M170.8 884.9h0M140.1 822.2h0M150.9 845.9h0M134.3 763.7h0M126.6 777.8h0M166.6 879.3h0M130.4 778.3h0M145.0 820.6h0M152.5 825.2h0M152.4 862.9h0M154.1 856.7h0M147.8 816.3h0M149.8 825.5h0M166.2 882.1h0M157.2 865.1h0M157.3 867.0h0M133.9 809.3h0M121.2 762.8h0M152.3 845.1h0M150.3 835.9h0M157.5 871.3h0M132.1 795.1h0M159.8 864.5h0M160.6 865.2h0M154.5 839.4h0M137.7 828.8h0M153.3 850.8h0M155.4 835.3h0M154.0 835.6h0M165.6 882.5h0M158.8 853.4h0M147.1 843.9h0M147.4 812.6h0M157.2 862.8h0M148.7 815.2h0M136.8 782.5h0M137.0 807.1h0M166.4 885.6h0M151.7 819.0h0M153.8 870.4h0M143.8 794.4h0M130.6 775.4h0M142.3 789.1h0M140.7 777.7h0M152.5 842.7h0M161.3 882.0h0M157.3 850.3h0M135.1 808.4h0M158.4 872.4h0M157.0 859.5h0M159.8 854.0h0M133.9 779.0h0M149.2 812.6h0M148.7 800.2h0M131.9 804.2h0M136.9 782.6h0M131.4 770.0h0M160.0 856.7h0M147.6 823.8h0M142.6 811.5h0M131.3 817.9h0M156.9 857.4h0M135.9 768.6h0M141.8 830.8h0M161.2 859.2h0M160.5 867.3h0M134.6 787.5h0M156.3 866.5h0M138.1 803.3h0M139.1 802.0h0M149.1 822.8h0M169.2 880.2h0M162.2 874.3h0M146.1 787.0h0M144.0 821.9h0M141.8 838.6h0M158.0 869.4h0M169.9 881.5h0M139.8 774.1h0M142.9 840.8h0M152.2 862.9h0M157.3 843.3h0M157.2 859.5h0M149.4 806.5h0M166.8 878.2h0M158.1 847.0h0M168.9 885.3h0M146.8 824.3h0M152.1 845.7h0M162.8 876.0h0M164.3 874.2h0M150.5 855.9h0M137.6 786.9h0M146.0 788.1h0M168.8 880.9h0M154.2 868.6h0M147.0 817.5h0M157.8 847.5h0M154.9 854.8h0M132.7 781.0h0M156.4 848.9h0M143.6 837.6h0M150.9 838.9h0M152.5 817.7h0M112.2 763.2h0M152.1 851.9h0M150.9 837.6h0M145.3 846.2h0M135.0 820.5h0M162.6 881.3h0M137.6 779.0h0M138.7 809.1h0M158.0 853.1h0M144.1 837.2h0M142.2 840.3h0M166.8 881.5h0M159.0 860.6h0M124.4 772.4h0M151.3 835.6h0M140.3 801.3h0M132.1 762.9h0M142.1 783.1h0M149.5 807.4h0M170.8 883.3h0M129.2 759.2h0M135.4 773.2h0M150.2 820.7h0M155.9 835.2h0M129.4 744.7h0M156.4 869.7h0M122.7 783.6h0M137.4 805.1h0M142.6 772.7h0M132.1 809.3h0M150.4 849.8h0M140.4 786.9h0M129.8 797.0h0M125.0 817.3h0M154.7 875.9h0M134.6 848.4h0M131.1 800.9h0M96.2 767.6h0M107.8 760.1h0M104.6 740.3h0M107.8 779.8h0M130.8 780.8h0M132.2 793.5h0M111.2 786.0h0M139.9 811.9h0M102.9 788.7h0M133.5 831.4h0M98.7 758.1h0M138.2 797.6h0M130.7 749.9h0M137.2 794.0h0M125.9 853.8h0M141.7 847.6h0M127.5 752.7h0M126.1 751.3h0M119.9 773.7h0M113.7 751.2h0M123.6 763.0h0M143.7 814.1h0M139.3 811.8h0M118.3 804.3h0M145.2 846.3h0M143.6 850.3h0M106.6 741.1h0M108.3 795.5h0M136.5 796.8h0M135.9 838.0h0M122.0 829.5h0M131.6 775.9h0M92.7 761.0h0M136.8 858.0h0M126.9 758.3h0M127.8 851.7h0M149.2 853.5h0M121.7 802.7h0M118.0 763.3h0M148.0 846.5h0M124.3 740.4h0M119.2 795.4h0M123.8 777.2h0M128.4 763.7h0M139.7 866.8h0M103.1 757.9h0M135.0 842.2h0M130.7 789.3h0M125.1 810.0h0M145.9 874.4h0M128.8 852.2h0M93.4 789.4h0M148.1 834.3h0M123.9 785.2h0M94.6 770.5h0M135.0 766.8h0M116.6 822.1h0M145.3 869.3h0M146.4 860.5h0M54.9 751.3h0M95.3 776.0h0M126.3 752.8h0M146.9 835.7h0M119.3 787.1h0M73.0 739.8h0M134.7 772.4h0M103.2 740.0h0M118.2 765.6h0M123.1 804.4h0M156.1 877.4h0M151.2 863.7h0M113.0 769.8h0M152.6 862.4h0M152.4 868.9h0M133.6 781.3h0M135.0 831.2h0M131.0 784.9h0M80.4 743.0h0M111.7 783.5h0M122.9 794.8h0M105.5 787.7h0M135.8 783.2h0M103.4 744.6h0M146.3 821.4h0M129.0 777.6h0M140.7 860.8h0M129.3 750.3h0M83.4 769.9h0M124.9 824.6h0M155.7 874.7h0M132.0 777.1h0M128.3 780.6h0M154.3 865.0h0M151.6 862.4h0M156.9 876.7h0M125.3 754.5h0M113.6 759.6h0M74.4 740.2h0M116.4 744.0h0M114.7 798.5h0M138.2 863.9h0M146.9 859.0h0M147.1 833.3h0M125.1 743.8h0M143.8 861.8h0M133.9 769.5h0M100.9 763.5h0M130.2 798.5h0M138.9 806.8h0M137.6 804.6h0M128.1 817.2h0M111.5 758.4h0M149.7 844.3h0M130.0 757.5h0M126.2 771.4h0M142.6 806.0h0M148.4 862.0h0M130.8 772.9h0M138.3 853.4h0M132.1 838.0h0M118.1 776.2h0M110.1 800.0h0M144.9 853.0h0M147.2 865.7h0M131.6 847.3h0"/><path fill="none" stroke="#d4922f" stroke-width="1.6" stroke-linecap="round" d="M158.5 842.3h0M166.5 881.3h0M161.2 857.1h0M154.0 821.2h0M168.0 881.5h0M125.6 764.9h0M154.7 821.7h0M150.6 835.9h0M134.7 740.9h0M167.1 878.3h0M159.0 860.2h0M129.5 769.8h0M158.6 841.6h0M166.8 873.0h0M141.3 782.4h0M157.6 873.1h0M140.0 795.4h0M158.9 849.3h0M133.9 781.6h0M171.9 884.1h0M166.9 875.6h0M136.7 774.8h0M136.8 771.1h0M156.6 839.7h0M131.0 737.1h0M144.1 798.6h0M161.5 866.7h0M154.5 823.4h0M149.3 852.7h0M126.8 744.0h0M162.0 858.3h0M163.0 862.9h0M151.5 807.0h0M138.4 750.4h0M139.9 777.4h0M161.9 859.0h0M168.0 879.9h0M149.7 805.3h0M155.9 829.3h0M160.4 858.1h0M163.2 864.1h0M171.3 881.7h0M134.1 760.4h0M166.1 878.5h0M143.2 803.1h0M146.1 798.9h0M149.4 799.6h0M140.9 771.7h0M157.8 850.7h0M139.1 750.8h0M171.6 886.5h0M146.0 787.0h0M155.4 838.5h0M146.8 815.1h0M137.3 752.5h0M154.7 825.1h0M161.6 869.1h0M168.8 882.2h0M158.6 843.2h0M150.8 816.9h0M139.9 771.7h0M149.8 819.5h0M170.6 887.9h0M140.0 819.6h0M154.4 824.4h0M140.7 795.6h0M149.0 812.5h0M172.3 886.7h0M170.7 883.4h0M145.2 802.9h0M139.0 760.0h0M160.9 872.5h0M149.4 806.3h0M152.9 851.4h0M159.7 847.5h0M156.7 852.6h0M135.5 794.0h0M160.0 850.9h0M139.0 796.1h0M155.1 836.8h0M128.2 740.4h0M159.1 848.5h0M150.8 820.9h0M158.8 864.1h0M144.3 804.3h0M160.4 867.8h0M143.6 804.6h0M152.6 850.6h0M170.7 885.3h0M154.5 829.9h0M133.7 774.8h0M142.2 822.9h0M159.3 851.0h0M130.6 775.8h0M158.2 862.0h0M148.6 814.9h0M157.8 842.4h0M155.2 854.6h0M131.4 745.4h0M155.1 845.8h0M142.3 784.0h0M124.7 749.2h0M154.6 822.1h0M140.5 768.8h0M148.7 799.7h0M131.8 747.6h0M148.2 821.2h0M152.9 838.0h0M147.6 787.1h0M153.1 812.7h0M145.9 793.7h0M164.4 868.2h0M142.7 808.2h0M138.7 761.1h0M152.8 832.1h0M169.7 883.2h0M158.8 866.7h0M154.9 844.8h0M146.2 807.5h0M151.4 834.6h0M169.0 883.1h0M150.0 804.8h0M166.3 875.6h0M157.4 834.8h0M154.0 841.3h0M164.2 875.3h0M147.8 808.4h0M147.4 795.7h0M168.7 884.8h0M163.9 878.0h0M157.3 838.8h0M138.0 825.5h0M145.0 814.2h0M139.0 824.8h0M145.5 794.9h0M158.5 842.1h0M151.0 818.1h0M158.9 867.7h0M127.7 741.0h0M170.6 880.5h0M163.4 862.2h0M137.2 772.8h0M173.3 886.7h0M146.5 822.5h0M152.9 845.1h0M133.1 765.8h0M161.2 859.6h0M142.6 802.5h0M141.3 796.5h0M150.7 806.3h0M161.3 857.7h0M147.1 789.5h0M142.5 819.8h0M150.8 832.1h0M134.6 741.4h0M151.9 836.1h0M157.6 853.1h0M166.5 877.8h0M141.8 809.8h0M135.2 780.2h0M148.6 796.5h0M164.4 868.8h0M157.3 851.4h0M162.1 862.1h0M166.9 877.6h0M151.8 832.6h0M153.9 825.7h0M155.2 837.5h0M162.0 865.9h0M163.7 866.8h0M163.3 863.4h0M160.8 854.9h0M169.8 885.5h0M139.1 750.9h0M164.8 869.5h0M168.4 882.5h0M158.8 853.6h0M167.8 878.5h0M136.9 771.8h0M138.7 773.9h0M156.5 842.2h0M151.7 808.9h0M127.8 756.3h0M160.2 857.4h0M164.9 873.8h0M144.5 799.3h0M145.6 839.3h0M151.4 808.2h0M137.7 752.6h0M156.4 843.4h0M149.2 826.8h0M155.3 842.0h0M142.7 791.2h0M161.4 858.4h0M153.2 828.3h0M148.5 807.8h0M159.1 856.7h0M152.6 846.4h0M139.1 759.1h0M139.6 767.1h0M157.4 838.5h0M142.1 823.3h0M150.5 800.6h0M160.7 855.2h0M124.2 752.1h0M150.8 849.7h0M129.9 784.7h0M151.2 847.7h0M161.5 866.9h0M144.0 805.3h0M141.8 786.6h0M143.0 804.4h0M143.9 809.9h0M152.4 845.5h0M157.3 865.0h0M151.3 828.4h0M150.1 838.3h0M147.8 811.3h0M135.3 761.6h0M137.1 748.5h0M162.2 875.1h0M132.8 735.5h0M148.0 821.9h0M147.7 816.1h0M151.7 821.2h0M141.6 773.5h0M141.2 808.3h0M131.7 772.3h0M147.5 789.8h0M144.9 795.0h0M145.5 786.7h0M170.1 879.3h0M142.1 807.4h0M157.4 848.8h0M151.9 822.1h0M159.3 848.1h0M143.9 795.6h0M131.6 774.3h0M140.1 780.9h0M139.7 757.6h0M146.5 812.1h0M149.4 798.8h0M152.6 821.6h0M154.3 854.3h0M144.1 774.3h0M167.1 881.1h0M147.0 845.2h0M122.7 738.4h0M138.0 753.7h0M128.1 749.9h0M150.0 832.5h0M151.4 804.6h0M122.2 760.9h0M149.6 824.8h0M169.0 880.6h0M136.7 751.3h0M148.0 811.6h0M151.3 813.0h0M148.3 797.9h0M173.4 884.7h0M136.3 777.2h0M156.2 830.2h0M139.3 758.9h0M154.2 831.6h0M165.0 878.9h0M136.9 783.2h0M124.4 742.3h0M156.0 835.6h0M144.3 808.6h0M165.8 877.9h0M136.4 798.2h0M142.2 784.8h0M141.2 765.3h0M161.5 861.1h0M164.1 866.8h0M136.1 758.4h0M140.3 788.3h0M154.8 836.3h0M135.9 788.3h0M132.9 750.7h0M144.5 780.7h0M132.5 761.9h0M149.0 814.9h0M148.3 833.5h0M164.9 875.9h0M149.9 836.0h0M150.1 818.0h0M168.8 882.8h0M160.7 855.6h0M161.7 865.9h0M150.9 809.4h0M142.7 775.4h0M145.6 791.1h0M132.4 754.4h0M162.0 860.0h0M138.4 751.3h0M131.6 768.1h0M167.7 882.1h0M158.0 840.9h0M144.5 806.5h0M141.2 801.7h0M164.8 867.7h0M157.2 855.4h0M138.9 775.7h0M151.0 853.3h0M160.8 863.8h0M134.0 765.8h0M141.4 820.6h0M143.1 816.8h0M169.3 880.6h0M148.7 830.4h0M139.7 762.9h0M163.5 866.1h0M173.5 885.5h0M127.0 746.8h0M165.6 874.2h0M151.7 810.9h0M139.4 781.0h0M151.4 834.4h0M136.8 787.7h0M151.8 804.9h0M155.4 869.3h0M163.4 870.4h0M137.6 770.6h0M164.3 868.2h0M145.0 775.4h0M137.6 761.9h0M127.6 780.6h0M161.2 864.1h0M162.0 872.0h0M157.4 842.3h0M125.8 739.9h0M152.7 827.6h0M150.5 810.4h0M144.2 799.7h0M151.7 809.5h0M153.2 822.7h0M171.5 886.0h0M159.5 866.3h0M156.7 848.3h0M155.0 830.9h0M153.2 838.5h0M156.5 849.5h0M139.7 757.5h0M133.1 759.6h0M158.4 859.5h0M157.7 853.9h0M131.5 793.0h0M154.6 854.1h0M156.6 848.3h0M169.3 883.0h0M162.3 869.0h0M159.8 856.9h0M153.5 828.2h0M167.4 875.9h0M141.0 831.9h0M145.9 811.0h0M145.4 777.0h0M150.8 846.2h0M151.8 841.1h0M144.3 810.0h0M151.5 833.2h0M154.7 854.0h0M133.8 782.9h0M149.1 797.9h0M163.6 876.1h0M134.5 775.0h0M136.3 784.9h0M121.9 754.2h0M164.7 873.8h0M157.7 855.6h0M153.3 829.9h0M167.8 876.9h0M154.4 840.0h0M173.2 884.1h0M140.6 765.3h0M154.5 834.4h0M142.5 779.1h0M153.1 838.6h0M156.4 855.7h0M120.0 753.9h0M172.3 883.1h0M144.3 799.9h0M166.9 879.5h0M142.1 785.7h0M143.4 822.8h0M140.1 762.4h0M136.1 760.7h0M141.2 772.2h0M161.4 859.3h0M158.8 856.6h0M153.8 853.7h0M166.1 879.2h0M172.4 884.0h0M139.3 762.9h0M144.7 781.9h0M141.9 808.2h0M160.6 857.4h0M130.7 758.8h0M147.3 808.3h0M135.1 765.7h0M157.9 850.0h0M140.9 825.4h0M134.8 756.3h0M162.1 859.5h0M134.8 765.6h0M148.8 823.1h0M165.7 878.5h0M150.6 809.4h0M155.5 851.7h0M160.7 863.1h0M148.6 802.7h0M164.9 870.2h0M153.3 814.9h0M146.1 787.1h0M146.2 792.5h0M113.0 761.4h0M154.4 831.6h0M149.9 810.0h0M150.8 805.5h0M158.0 865.7h0M151.8 806.3h0M136.8 742.0h0M144.7 809.5h0M152.1 828.3h0M173.1 885.0h0M151.3 818.0h0M148.7 793.8h0M171.3 882.8h0M127.8 751.9h0M151.6 810.9h0M152.4 838.5h0M165.7 876.7h0M126.1 747.7h0M136.1 744.3h0M163.6 873.3h0M162.0 867.5h0M173.4 887.9h0M160.8 859.1h0M162.0 862.1h0M131.9 815.1h0M142.1 783.6h0M152.5 815.0h0M140.6 794.9h0M157.9 847.9h0M151.7 820.1h0M124.4 756.7h0M162.8 874.6h0M129.5 780.2h0M172.4 883.5h0M155.7 839.2h0M168.2 878.7h0M169.4 880.8h0M152.9 816.1h0M148.7 791.8h0M159.3 861.4h0M119.0 772.2h0M159.5 852.3h0M130.3 760.2h0M145.8 808.3h0M142.8 807.4h0M172.9 884.1h0M141.9 787.6h0M155.0 832.1h0M158.5 856.0h0M157.2 852.8h0M134.5 739.1h0M149.4 826.5h0M158.2 840.7h0M153.7 826.0h0M131.0 748.2h0M130.5 743.6h0M139.0 796.7h0M168.9 879.3h0M141.1 807.7h0M170.3 880.7h0M169.8 882.2h0M144.5 774.9h0M167.9 880.1h0M159.8 856.6h0M146.1 829.9h0M138.5 796.9h0M155.6 832.9h0M148.4 804.8h0M151.6 825.2h0M152.6 819.6h0M131.6 753.5h0M139.6 770.7h0M173.3 884.3h0M160.3 862.4h0M161.6 857.2h0M149.2 842.6h0M149.1 810.3h0M144.2 791.3h0M160.5 873.6h0M138.1 776.7h0M128.9 769.5h0M154.3 834.2h0M115.8 739.7h0M152.4 825.2h0M162.6 873.0h0M139.7 765.7h0M156.8 854.7h0M139.5 784.4h0M171.3 882.1h0M159.4 850.1h0M131.4 760.7h0M157.3 845.6h0M167.6 875.4h0M157.6 844.9h0M161.5 869.7h0M139.0 790.5h0M136.7 796.8h0M156.0 828.1h0M166.6 876.6h0M145.9 783.5h0M143.4 791.2h0M139.2 759.8h0M145.1 805.0h0M156.3 842.1h0M158.4 845.8h0M152.4 824.8h0M154.7 850.5h0M167.9 877.8h0M143.0 771.0h0M149.8 830.9h0M163.8 876.4h0M150.1 814.8h0M161.8 862.5h0M135.3 763.8h0M137.6 790.6h0M135.2 791.4h0M150.9 843.1h0M123.8 765.5h0M162.1 860.8h0M157.1 843.5h0M164.9 869.8h0M173.2 884.8h0M145.2 809.7h0M138.5 790.8h0M151.8 813.2h0M136.0 754.6h0M153.7 854.2h0M128.7 754.2h0M142.1 797.2h0M155.1 863.3h0M166.5 875.9h0M153.3 814.3h0M136.4 785.2h0M148.0 795.5h0M119.4 763.8h0M171.4 881.8h0M145.9 821.3h0M132.6 765.2h0M141.6 831.0h0M148.1 831.7h0M152.8 817.3h0M170.3 884.9h0M151.6 815.9h0M166.1 878.5h0M141.9 809.3h0M138.2 801.0h0M162.4 865.7h0M138.5 752.0h0M168.2 880.9h0M168.9 878.4h0M153.1 835.9h0M162.3 857.6h0M134.6 790.1h0M156.8 839.9h0M139.4 768.9h0M155.3 855.7h0M136.8 762.7h0M145.1 775.1h0M128.2 760.1h0M164.8 871.3h0M143.6 774.3h0M155.4 836.7h0M146.6 789.4h0M160.4 854.7h0M142.4 766.6h0M153.2 838.2h0M149.0 844.4h0M169.4 878.7h0M141.1 794.2h0M126.6 768.7h0M137.3 814.8h0M129.9 767.8h0M159.4 846.4h0M116.5 735.9h0M169.5 881.5h0M151.0 847.2h0M148.1 814.9h0M142.0 803.1h0M155.0 856.1h0M158.5 841.2h0M161.4 863.9h0M123.8 736.0h0M162.7 863.3h0M118.5 749.5h0M153.7 830.7h0M145.9 781.2h0M172.6 885.0h0M163.1 867.9h0M154.3 845.9h0M139.3 785.6h0M137.2 792.9h0M157.4 836.9h0M157.6 857.5h0M150.2 798.0h0M157.9 856.5h0M158.6 859.2h0M153.2 818.3h0M145.9 790.8h0M165.0 869.3h0M133.6 741.4h0M159.4 860.3h0M149.4 817.4h0M159.5 864.8h0M135.6 744.6h0M163.3 863.8h0M160.4 868.6h0M156.5 841.1h0M148.7 841.6h0M111.9 743.2h0M128.6 781.0h0M137.7 754.9h0M149.6 807.5h0M141.3 760.0h0M153.2 816.1h0M149.1 797.0h0M135.9 774.8h0M169.1 882.6h0M138.8 783.6h0M146.3 812.3h0M134.2 745.0h0M153.3 819.9h0M161.2 871.7h0M159.7 849.9h0M163.4 878.4h0M158.8 863.6h0M156.2 846.8h0M166.6 874.3h0M136.5 779.2h0M151.2 801.2h0M156.8 860.7h0M129.2 779.4h0M149.4 806.9h0M134.2 761.1h0M138.6 770.7h0M127.4 764.2h0M158.5 868.1h0M125.3 795.8h0M113.4 812.9h0M119.7 754.3h0M132.7 813.3h0M154.3 857.4h0M136.5 804.9h0M127.8 753.3h0M113.7 752.9h0M118.6 744.7h0M149.6 864.1h0M146.2 842.9h0M143.2 843.7h0M112.8 769.4h0M106.5 760.0h0M144.3 813.4h0M145.0 804.2h0M145.7 843.0h0M152.4 861.2h0M104.0 737.1h0M146.0 845.3h0M116.8 786.0h0M116.7 755.7h0M133.4 751.0h0M96.4 756.2h0M133.5 801.2h0M155.3 851.1h0M133.8 763.1h0M112.8 746.9h0M159.8 872.9h0M122.6 736.5h0M129.4 772.1h0M159.8 869.0h0M133.5 759.5h0M115.8 735.5h0M92.1 735.2h0M115.3 787.4h0M110.3 758.9h0M130.8 767.5h0M105.5 750.6h0M128.4 770.9h0M139.8 803.4h0M105.7 737.4h0M149.7 865.6h0M134.4 789.9h0M140.8 778.7h0M135.3 827.8h0M121.3 785.3h0M115.6 750.7h0M138.5 770.9h0M150.3 854.8h0M137.8 766.9h0M157.0 865.9h0M143.0 789.1h0M141.3 810.2h0M153.5 845.6h0M133.1 776.6h0M152.8 838.1h0M132.1 768.5h0M158.1 864.3h0M153.0 855.7h0M140.2 847.0h0M146.6 835.0h0M149.6 850.0h0M147.1 865.7h0M143.2 841.5h0M162.1 876.2h0M162.1 878.7h0M148.1 860.2h0M149.4 787.5h0M139.6 742.9h0M137.2 743.1h0M145.3 769.1h0M149.2 773.6h0M148.7 791.9h0M148.9 792.2h0M144.3 755.9h0M150.9 793.5h0M151.3 782.7h0M142.5 753.9h0M145.9 791.3h0M141.8 742.4h0M144.5 769.0h0M147.8 782.6h0M137.4 743.3h0M149.1 780.6h0M139.8 764.7h0M147.3 794.8h0M143.5 751.7h0M151.9 791.3h0M144.7 757.9h0M147.3 775.1h0M148.7 782.1h0M142.6 767.3h0M144.6 781.7h0M139.2 740.7h0M140.6 737.8h0M139.3 746.6h0M140.5 750.6h0M143.2 772.0h0M149.2 767.6h0M136.4 744.0h0M136.1 746.7h0M140.8 735.7h0M146.4 792.8h0M149.6 785.0h0M143.3 747.5h0M139.6 742.0h0M148.5 775.3h0M137.1 749.2h0M144.3 772.9h0M148.0 771.3h0M139.0 736.9h0M150.0 793.7h0M143.8 769.5h0M147.0 787.8h0M138.1 741.0h0M144.0 761.7h0M143.6 747.2h0M143.8 767.1h0M143.5 779.8h0M153.0 790.3h0M140.2 750.4h0M139.8 737.3h0M151.6 793.4h0M150.6 793.7h0M152.4 787.1h0M149.7 790.5h0M140.2 765.5h0"/><path fill="none" stroke="#d4922f" stroke-width="1.1" stroke-linecap="round" d="M201.3 853.4h0M196.1 873.5h0M190.4 863.7h0M192.2 850.4h0M193.6 864.9h0M198.1 877.3h0M201.3 884.0h0M191.6 873.8h0M197.7 880.8h0M190.0 863.0h0M196.6 862.3h0M200.8 866.2h0M197.9 852.7h0M200.6 887.9h0M201.5 863.3h0M199.7 888.3h0M189.5 852.9h0M197.3 888.5h0M188.4 882.7h0M197.2 868.5h0M190.0 869.8h0M195.0 857.9h0M200.6 878.9h0M190.3 874.2h0M196.4 886.6h0"/><path fill="none" stroke="#5d4a9c" stroke-width="1.1" stroke-linecap="round" d="M199.7 885.8h0M185.8 872.2h0M187.3 881.8h0M186.2 884.0h0M194.2 878.6h0M199.2 885.2h0M196.0 878.2h0M193.2 875.0h0M185.4 865.7h0M195.3 872.0h0M191.8 884.5h0M190.8 881.1h0"/><path fill="none" stroke="#5d4a9c" stroke-width="1.1" stroke-linecap="round" d="M188.1 886.7h0M176.7 884.9h0M181.3 884.7h0M173.7 881.5h0M176.9 886.3h0M187.7 883.1h0M184.1 883.5h0M182.7 882.1h0M178.9 887.7h0M189.7 881.0h0M174.4 886.9h0M180.9 885.1h0M184.1 884.8h0M190.1 881.2h0M189.2 882.1h0M173.5 882.4h0M182.3 886.4h0M183.6 887.8h0M175.8 883.0h0M183.5 884.7h0M185.9 884.0h0M174.0 886.3h0M187.9 880.6h0M188.3 880.0h0M185.7 885.0h0M177.9 880.7h0M177.2 885.0h0M182.7 886.5h0M175.4 885.0h0M178.1 880.3h0"/><path fill="none" stroke="#d4922f" stroke-width="1.2" stroke-linecap="round" d="M71.8 730.7h0M73.6 730.9h0M75.9 730.8h0M78.8 731.2h0M81.4 731.1h0M82.4 731.0h0M87.6 731.2h0M89.1 731.2h0M90.1 731.1h0M94.3 731.1h0M95.2 730.7h0M96.7 730.7h0M97.9 730.7h0M99.2 731.4h0M100.7 731.0h0M109.8 730.9h0M112.6 730.8h0M113.7 731.1h0M114.7 731.3h0M116.2 731.3h0M117.5 730.7h0M120.2 730.9h0M122.5 730.9h0M126.7 731.3h0M128.2 730.8h0M131.9 730.7h0M132.8 731.3h0M134.5 731.0h0M138.4 730.8h0"/><path fill="none" stroke="#5d4a9c" stroke-width="1.2" stroke-linecap="round" d="M70.0 731.0h0M74.0 731.0h0M76.0 731.0h0M80.0 731.0h0M84.0 731.0h0M86.0 731.0h0M98.0 731.0h0M102.0 731.0h0M106.0 731.0h0M108.0 731.0h0M110.0 731.0h0M112.0 731.0h0M114.0 731.0h0M116.0 731.0h0M118.0 731.0h0M122.0 731.0h0M124.0 731.0h0M126.0 731.0h0M132.0 731.0h0M134.0 731.0h0M138.0 731.0h0"/><path fill="none" stroke="#d4922f" stroke-width="1.2" stroke-linecap="round" d="M220.4 875.6h0M215.9 810.8h0M203.1 754.3h0M209.4 762.1h0M208.6 750.7h0M236.9 820.2h0M220.6 816.5h0M212.8 860.6h0M230.0 796.9h0M202.8 735.0h0M203.3 840.3h0M203.2 800.2h0"/><path fill="none" stroke="#5d4a9c" stroke-width="1.2" stroke-linecap="round" d="M100.7 776.5h0M91.9 824.9h0M118.2 809.2h0M101.5 825.9h0M108.1 764.6h0M85.6 757.4h0M84.2 778.1h0M104.3 762.7h0M83.3 773.6h0M98.3 819.8h0"/><text x="38.5" y="744.4" font-size="4.0" text-anchor="start" fill="#d4922f">LINC01088</text><text x="52.0" y="734.8" font-size="4.0" text-anchor="start" fill="#d4922f">SLC14A1</text><text x="66.0" y="734.8" font-size="4.0" text-anchor="start" fill="#5d4a9c">SLC14A1</text><text x="95.0" y="741.8" font-size="4.0" text-anchor="start" fill="#5d4a9c">CACNG2</text><text x="90.0" y="751.4" font-size="4.0" text-anchor="start" fill="#5d4a9c">CADM2</text><text x="75.0" y="763.8" font-size="4.0" text-anchor="start" fill="#d4922f">NRXN3</text><text x="60.0" y="771.4" font-size="4.0" text-anchor="start" fill="#5d4a9c">AC0024053</text><text x="90.0" y="778.8" font-size="4.0" text-anchor="start" fill="#d4922f">MALAT1</text><text x="72.0" y="788.7" font-size="4.0" text-anchor="start" fill="#5d4a9c">SLC1A2</text><text x="100.0" y="804.7" font-size="4.0" text-anchor="start" fill="#5d4a9c">NRXN3</text><text x="81.0" y="806.2" font-size="4.0" text-anchor="start" fill="#5d4a9c">NRXN1</text><text x="97.0" y="814.2" font-size="4.0" text-anchor="start" fill="#5d4a9c">MALAT1</text><text x="72.0" y="817.2" font-size="4.0" text-anchor="start" fill="#5d4a9c">ADGRV1</text><text x="87.0" y="824.7" font-size="4.0" text-anchor="start" fill="#5d4a9c">CTNNA2</text><text x="137.0" y="885.1" font-size="4.0" text-anchor="start" fill="#d4922f">CTNNA2</text><text x="212.0" y="736.4" font-size="4.0" text-anchor="start" fill="#d4922f">ACTN1</text><text x="234.0" y="745.4" font-size="4.0" text-anchor="start" fill="#d4922f">TPST1</text><text x="205.0" y="757.8" font-size="4.0" text-anchor="start" fill="#d4922f">ZFYVE28</text><text x="230.0" y="761.4" font-size="4.0" text-anchor="start" fill="#d4922f">NAMPT</text><text x="204.0" y="764.8" font-size="4.0" text-anchor="start" fill="#d4922f">LCN1</text><text x="222.0" y="770.4" font-size="4.0" text-anchor="start" fill="#d4922f">NRP1</text><text x="203.0" y="777.4" font-size="4.0" text-anchor="start" fill="#d4922f">PLSCR1</text><text x="230.0" y="781.4" font-size="4.0" text-anchor="start" fill="#d4922f">GNA14</text><text x="205.0" y="784.8" font-size="4.0" text-anchor="start" fill="#d4922f">GFRA1</text><text x="224.0" y="789.7" font-size="4.0" text-anchor="start" fill="#d4922f">F3</text><text x="202.0" y="793.7" font-size="4.0" text-anchor="start" fill="#d4922f">AEBP1</text><text x="208.0" y="810.7" font-size="4.0" text-anchor="start" fill="#d4922f">SAMD4A</text><text x="220.0" y="819.7" font-size="4.0" text-anchor="start" fill="#d4922f">SERPINA3</text><text x="202.0" y="821.2" font-size="4.0" text-anchor="start" fill="#d4922f">CPNE8</text><text x="225.0" y="827.2" font-size="4.0" text-anchor="start" fill="#5d4a9c">MT-RTP6</text><text x="202.0" y="831.2" font-size="4.0" text-anchor="start" fill="#d4922f">ZFYVE28</text><text x="227.0" y="835.2" font-size="4.0" text-anchor="start" fill="#d4922f">PDE5S</text><text x="210.0" y="839.7" font-size="4.0" text-anchor="start" fill="#d4922f">C4orf19</text><text x="205.0" y="865.1" font-size="4.0" text-anchor="start" fill="#d4922f">MNCA1</text><text x="209.0" y="872.6" font-size="4.0" text-anchor="start" fill="#d4922f">CAMBRAS2</text><text x="202.0" y="881.1" font-size="4.0" text-anchor="start" fill="#d4922f">ZNF365</text><text x="222.0" y="881.1" font-size="4.0" text-anchor="start" fill="#5d4a9c">AQP4</text><line x1="50.20" y1="740.40" x2="46.30" y2="730.60" stroke="#d4922f" stroke-width="0.55"/><line x1="62.00" y1="735.00" x2="58.00" y2="730.60" stroke="#d4922f" stroke-width="0.55"/><line x1="66.60" y1="735.70" x2="56.00" y2="730.60" stroke="#5d4a9c" stroke-width="0.55"/><line x1="85.00" y1="772.00" x2="100.00" y2="766.00" stroke="#5d4a9c" stroke-width="0.55"/><line x1="91.00" y1="789.00" x2="94.00" y2="795.00" stroke="#5d4a9c" stroke-width="0.55"/><line x1="92.00" y1="808.00" x2="100.00" y2="815.00" stroke="#5d4a9c" stroke-width="0.55"/><line x1="88.00" y1="817.00" x2="104.00" y2="824.00" stroke="#5d4a9c" stroke-width="0.55"/><line x1="95.00" y1="826.00" x2="112.00" y2="835.00" stroke="#5d4a9c" stroke-width="0.55"/><line x1="102.00" y1="805.00" x2="112.00" y2="812.00" stroke="#5d4a9c" stroke-width="0.55"/><line x1="215.00" y1="760.00" x2="222.00" y2="772.00" stroke="#d4922f" stroke-width="0.55"/><line x1="228.00" y1="771.00" x2="235.00" y2="765.00" stroke="#d4922f" stroke-width="0.55"/><line x1="219.00" y1="787.00" x2="225.00" y2="795.00" stroke="#d4922f" stroke-width="0.55"/><line x1="222.00" y1="810.00" x2="232.00" y2="815.00" stroke="#d4922f" stroke-width="0.55"/><line x1="212.00" y1="823.00" x2="228.00" y2="836.00" stroke="#d4922f" stroke-width="0.55"/><line x1="218.00" y1="835.00" x2="225.00" y2="842.00" stroke="#d4922f" stroke-width="0.55"/><line x1="220.00" y1="873.00" x2="230.00" y2="878.00" stroke="#5d4a9c" stroke-width="0.55"/><line x1="206.00" y1="868.00" x2="212.00" y2="873.00" stroke="#d4922f" stroke-width="0.55"/><line x1="236.00" y1="747.00" x2="240.00" y2="742.00" stroke="#d4922f" stroke-width="0.55"/><text x="32" y="726.9" font-size="7.6" fill="#222" textLength="103.8" lengthAdjust="spacingAndGlyphs">C9-ALS/sALS versus healthy</text><text transform="translate(13.6 815) rotate(-90)" font-size="7.4" fill="#333" text-anchor="middle">−log<tspan font-size="5" dy="1.8">10</tspan><tspan dy="-1.8"> </tspan><tspan font-style="italic">P</tspan> value adjusted</text><text x="142.2" y="918.4" font-size="7.6" fill="#333" text-anchor="middle">Avg_log<tspan font-size="5" dy="1.8">2</tspan><tspan dy="-1.8">FC</tspan></text><text x="252.0" y="802.6" font-size="7.9" text-anchor="start" fill="#333">Comparison</text><circle cx="254.60" cy="809.80" r="1.20" fill="#5d4a9c"/><text x="258.8" y="812.4" font-size="7.2" text-anchor="start" fill="#333">Healthy_vs_C9</text><circle cx="254.60" cy="818.80" r="1.20" fill="#d4922f"/><text x="258.8" y="821.4" font-size="7.2" text-anchor="start" fill="#333">Healthy_vs_sALS</text><line x1="478.72" y1="730.50" x2="478.72" y2="896.40" stroke="#c8c8c8" stroke-width="0.6"/><line x1="528.08" y1="730.50" x2="528.08" y2="896.40" stroke="#c8c8c8" stroke-width="0.6"/><line x1="362.50" y1="888.60" x2="586.00" y2="888.60" stroke="#dcdcdc" stroke-width="0.7"/><path d="M362.5 730.5V896.4" fill="none" stroke="#bbb" stroke-width="1.1"/><path d="M362.5 896.4H586.0" fill="none" stroke="#888" stroke-width="0.8"/><line x1="360.30" y1="888.60" x2="362.50" y2="888.60" stroke="#444" stroke-width="0.5"/><text x="358.7" y="891.1" font-size="7.2" text-anchor="end" fill="#555">0</text><line x1="360.30" y1="838.60" x2="362.50" y2="838.60" stroke="#444" stroke-width="0.5"/><text x="358.7" y="841.1" font-size="7.2" text-anchor="end" fill="#555">100</text><line x1="360.30" y1="788.60" x2="362.50" y2="788.60" stroke="#444" stroke-width="0.5"/><text x="358.7" y="791.1" font-size="7.2" text-anchor="end" fill="#555">200</text><line x1="360.30" y1="738.60" x2="362.50" y2="738.60" stroke="#444" stroke-width="0.5"/><text x="358.7" y="741.1" font-size="7.2" text-anchor="end" fill="#555">300</text><line x1="380.00" y1="896.40" x2="380.00" y2="898.60" stroke="#444" stroke-width="0.5"/><text x="380.0" y="907.4" font-size="7.1" text-anchor="middle" fill="#555">-1.0</text><line x1="441.70" y1="896.40" x2="441.70" y2="898.60" stroke="#444" stroke-width="0.5"/><text x="441.7" y="907.4" font-size="7.1" text-anchor="middle" fill="#555">-0.5</text><line x1="503.40" y1="896.40" x2="503.40" y2="898.60" stroke="#444" stroke-width="0.5"/><text x="503.4" y="907.4" font-size="7.1" text-anchor="middle" fill="#555">0</text><line x1="565.10" y1="896.40" x2="565.10" y2="898.60" stroke="#444" stroke-width="0.5"/><text x="565.1" y="907.4" font-size="7.1" text-anchor="middle" fill="#555">0.5</text><path fill="none" stroke="#7fb58c" stroke-width="2.1" stroke-linecap="round" d="M477.4 860.5h0M474.5 863.2h0M471.4 846.8h0M464.6 841.3h0M478.6 867.5h0M470.1 852.8h0M461.2 830.0h0M455.4 820.5h0M473.5 854.6h0M478.5 861.0h0M474.9 851.9h0M493.4 888.4h0M461.6 832.1h0M485.4 879.3h0M460.3 826.0h0M490.8 887.9h0M467.5 852.8h0M471.6 859.5h0M478.8 861.0h0M489.0 885.7h0M442.3 825.7h0M465.7 839.6h0M469.1 842.2h0M453.0 826.1h0M487.9 884.1h0M469.5 850.4h0M480.5 864.8h0M465.6 840.1h0M476.3 861.1h0M441.7 815.8h0M475.0 863.5h0M474.0 854.6h0M478.9 861.4h0M458.7 846.0h0M477.2 859.8h0M475.5 859.8h0M484.6 879.8h0M451.3 826.6h0M470.9 854.2h0M483.2 878.5h0M468.9 853.6h0M492.1 887.6h0M469.5 853.9h0M486.5 876.9h0M465.0 833.8h0M451.9 831.4h0M487.3 882.0h0M467.5 843.6h0M460.3 825.4h0M480.6 876.2h0M442.6 818.8h0M461.5 841.3h0M469.3 840.0h0M462.7 831.1h0M466.6 842.7h0M472.2 861.1h0M480.8 866.1h0M483.6 874.3h0M454.6 821.9h0M480.2 880.8h0M476.6 855.1h0M475.3 858.9h0M478.7 860.6h0M487.9 887.7h0M484.1 870.4h0M470.7 857.7h0M477.4 867.0h0M477.0 856.1h0M461.5 833.4h0M475.7 857.4h0M508.0 888.9h0M499.9 887.5h0M513.5 888.5h0M513.9 887.1h0M494.2 887.8h0M491.8 887.3h0M501.6 887.9h0M507.2 888.7h0M495.5 887.2h0M508.4 886.7h0M505.0 887.2h0M512.2 888.5h0M496.1 888.2h0M495.1 887.0h0M491.7 888.7h0M487.3 888.7h0M488.1 886.8h0M520.6 875.7h0M519.6 872.5h0M517.5 880.0h0M520.6 873.6h0M514.0 886.2h0M519.6 873.1h0M531.9 853.2h0M514.7 882.4h0M516.7 879.4h0M512.7 886.5h0M531.4 851.5h0M510.2 887.9h0M526.6 861.0h0M510.7 887.9h0M514.1 884.3h0M520.7 874.5h0M523.0 866.4h0M532.1 853.0h0M525.3 866.7h0M525.8 866.9h0M524.2 870.1h0M518.1 878.1h0M526.9 866.1h0M514.4 883.2h0M511.4 884.8h0M516.1 881.5h0M522.7 872.1h0M520.0 872.9h0M531.3 855.6h0M512.1 885.3h0M517.6 876.6h0M509.4 887.2h0M521.5 873.5h0M519.0 879.0h0M514.7 882.9h0M515.0 881.8h0M513.8 885.2h0M520.5 873.6h0M528.6 860.9h0M515.3 884.3h0M528.9 858.9h0M530.9 853.6h0M520.7 864.2h0M520.0 853.3h0M537.2 847.5h0M529.6 864.7h0M438.0 796.8h0M477.4 869.8h0M452.5 824.8h0M457.0 840.1h0M456.0 838.2h0M445.7 772.7h0M468.3 795.2h0M555.6 812.3h0M558.6 813.2h0M563.9 866.7h0M547.5 814.9h0M563.2 857.7h0M569.7 819.6h0M543.1 868.8h0"/><path fill="none" stroke="#aaa6d4" stroke-width="2.1" stroke-linecap="round" d="M452.1 815.7h0M486.4 884.2h0M454.8 823.3h0M486.7 883.3h0M455.3 820.1h0M467.2 841.6h0M475.6 862.6h0M451.4 825.4h0M483.0 874.5h0M458.2 823.7h0M473.7 859.3h0M486.8 876.1h0M464.7 844.0h0M488.9 882.3h0M449.3 838.9h0M481.0 866.5h0M476.4 859.8h0M485.2 875.0h0M452.4 817.7h0M485.9 883.8h0M481.0 874.1h0M458.2 825.2h0M484.5 875.7h0M485.0 883.1h0M484.1 873.0h0M451.9 826.9h0M474.4 860.8h0M474.5 850.7h0M476.3 856.4h0M480.0 869.3h0M476.6 859.0h0M462.0 838.6h0M477.3 870.1h0M481.4 865.3h0M479.8 871.4h0M471.8 850.9h0M488.3 882.7h0M455.4 816.7h0M465.9 844.1h0M476.4 868.7h0M471.5 862.6h0M475.8 860.5h0M457.5 829.5h0M447.6 822.5h0M480.4 872.4h0M457.1 836.9h0M490.0 887.2h0M474.2 870.7h0M462.8 845.8h0M460.3 826.0h0M473.8 850.2h0M489.2 886.0h0M479.8 870.8h0M486.0 874.7h0M473.2 854.0h0M466.6 859.8h0M482.7 871.4h0M446.0 819.2h0M480.2 871.1h0M484.8 873.2h0M479.1 870.6h0M455.2 828.2h0M480.4 868.0h0M485.4 874.0h0M457.2 837.8h0M483.1 869.2h0M489.6 883.5h0M486.2 877.3h0M493.4 887.8h0M479.7 862.8h0M460.6 835.1h0M449.6 829.5h0M476.9 860.6h0M484.2 874.9h0M455.2 816.5h0M466.1 840.4h0M485.5 885.5h0M475.0 864.8h0M494.4 888.9h0M478.2 861.0h0M473.7 863.7h0M486.0 875.4h0M441.0 827.2h0M488.2 884.8h0M468.5 842.0h0M480.6 863.8h0M483.6 876.9h0M485.1 876.0h0M460.7 833.8h0M481.3 870.5h0M464.3 854.3h0M462.6 848.6h0M459.8 850.1h0M477.9 863.2h0M474.5 852.2h0M492.2 887.3h0M484.2 877.3h0M471.3 863.5h0M483.1 871.6h0M474.6 863.7h0M479.5 864.9h0M482.9 868.6h0M484.0 877.0h0M485.7 882.2h0M451.4 816.3h0M456.9 830.2h0M477.6 868.0h0M483.9 874.2h0M469.7 857.2h0M461.5 847.2h0M485.6 879.8h0M471.2 849.2h0M484.6 880.4h0M483.7 882.4h0M459.0 853.2h0M480.5 864.2h0M484.0 872.8h0M487.7 888.9h0M481.1 867.6h0M475.9 860.3h0M483.5 877.0h0M483.2 882.0h0M479.0 870.5h0M490.5 885.9h0M489.8 884.6h0M472.6 866.5h0M476.4 879.8h0M460.9 852.1h0M481.4 869.7h0M477.3 870.4h0M476.7 858.7h0M469.9 849.5h0M477.6 859.4h0M457.8 821.4h0M468.5 844.7h0M485.1 874.2h0M489.2 884.0h0M451.0 833.5h0M464.9 859.1h0M472.1 861.7h0M484.9 877.1h0M505.1 887.6h0M513.0 887.5h0M508.2 888.7h0M502.6 886.9h0M497.4 887.7h0M499.7 887.6h0M488.6 888.4h0M497.8 887.8h0M513.6 887.1h0M508.0 888.5h0M488.4 887.7h0M510.2 887.9h0M487.5 888.3h0M501.9 888.6h0M501.0 887.4h0M506.3 887.0h0M512.2 886.5h0M496.9 886.9h0M508.8 887.7h0M495.3 887.8h0M504.0 886.7h0M491.4 887.4h0M492.1 888.6h0M498.8 887.2h0M496.8 887.9h0M500.0 888.8h0M505.0 887.5h0M492.7 887.7h0M500.8 888.2h0M509.0 888.7h0M497.3 888.2h0M507.1 887.7h0M510.7 887.3h0M509.9 888.6h0M503.2 888.4h0M494.7 887.1h0M497.5 886.8h0M489.4 887.6h0M505.8 888.8h0M490.4 888.0h0M521.5 876.1h0M523.7 867.1h0M533.5 850.5h0M525.3 869.2h0M513.1 883.8h0M519.4 875.3h0M532.4 848.5h0M522.8 871.7h0M519.3 878.0h0M518.8 874.0h0M529.9 855.9h0M517.4 882.1h0M530.8 852.3h0M525.3 873.2h0M517.2 880.2h0M529.7 854.0h0M515.5 883.5h0M529.6 857.2h0M516.0 884.0h0M520.4 872.0h0M519.9 872.6h0M513.9 886.3h0M533.1 852.7h0M510.9 887.0h0M525.2 863.3h0M514.5 887.1h0M530.9 850.9h0M519.9 878.2h0M522.5 869.7h0M517.3 877.8h0M528.0 857.6h0M515.0 884.1h0M529.1 859.1h0M530.3 855.4h0M511.0 888.0h0M530.8 853.3h0M517.4 876.6h0M512.6 886.8h0M520.9 872.0h0M526.6 864.2h0M509.5 888.0h0M524.1 871.4h0M529.7 853.8h0M518.1 880.6h0M520.8 871.0h0M529.0 868.2h0M542.9 846.9h0M538.0 861.1h0M520.2 847.2h0M520.1 854.5h0M538.1 856.7h0M536.5 851.4h0M535.2 864.0h0M415.8 804.8h0M459.1 879.0h0M432.8 832.0h0M446.6 809.8h0M464.2 849.4h0M458.3 832.5h0M465.6 847.3h0M423.4 802.2h0M467.2 862.5h0M449.8 838.3h0M435.3 796.6h0M460.7 859.5h0M444.2 797.1h0M455.3 841.3h0M451.9 831.1h0M461.5 866.3h0M448.1 841.8h0M430.0 826.7h0M436.0 798.7h0M440.0 807.5h0M418.1 795.8h0M442.0 818.2h0M460.5 759.1h0M460.4 782.4h0M466.6 762.6h0M460.4 755.7h0M446.8 788.5h0M447.3 774.9h0M449.2 756.0h0M559.7 861.8h0M574.1 860.0h0M561.6 845.4h0"/><path fill="none" stroke="#e06b6a" stroke-width="2.1" stroke-linecap="round" d="M479.2 874.4h0M468.4 844.5h0M470.0 857.9h0M486.9 884.6h0M457.1 818.8h0M482.1 870.8h0M493.6 888.9h0M478.6 872.8h0M486.3 879.3h0M482.1 879.7h0M481.0 872.4h0M448.2 817.4h0M470.7 853.3h0M484.5 874.0h0M484.1 883.7h0M478.1 864.5h0M482.7 878.3h0M471.4 855.6h0M489.6 884.7h0M485.5 875.3h0M458.2 827.5h0M465.5 840.6h0M470.6 844.4h0M449.4 819.8h0M482.3 869.0h0M489.9 887.5h0M467.0 840.3h0M482.2 875.9h0M471.2 851.1h0M481.8 875.1h0M459.4 823.5h0M476.0 853.6h0M490.8 884.7h0M484.8 872.5h0M462.5 842.8h0M489.3 883.7h0M475.1 865.2h0M480.1 867.6h0M453.1 834.6h0M463.0 838.9h0M491.4 886.6h0M476.6 860.6h0M462.5 843.3h0M488.3 886.8h0M490.9 888.1h0M458.4 821.3h0M482.3 867.4h0M488.6 883.8h0M491.1 886.2h0M485.7 874.3h0M490.9 887.4h0M460.8 828.9h0M469.3 861.7h0M460.5 825.3h0M488.7 884.7h0M472.5 847.1h0M460.0 839.9h0M482.6 879.8h0M483.9 870.1h0M466.4 846.9h0M461.1 844.4h0M489.5 883.9h0M488.7 884.6h0M470.9 857.5h0M481.5 871.3h0M471.4 847.6h0M470.9 852.1h0M466.7 842.2h0M487.0 880.9h0M481.2 865.8h0M472.7 852.9h0M481.8 875.7h0M468.8 851.9h0M484.7 880.5h0M470.8 846.1h0M460.0 824.5h0M477.0 857.8h0M466.7 837.4h0M449.5 818.4h0M491.3 888.6h0M488.9 885.3h0M487.6 887.0h0M449.4 813.8h0M484.6 871.6h0M468.0 838.5h0M483.1 881.8h0M478.1 869.8h0M477.3 869.0h0M449.3 820.7h0M480.4 864.3h0M486.8 881.3h0M481.5 867.7h0M482.3 877.7h0M484.5 874.7h0M483.0 878.0h0M481.7 871.3h0M489.4 883.6h0M450.1 815.4h0M487.9 879.1h0M480.1 871.3h0M472.4 852.1h0M482.8 872.6h0M489.1 886.2h0M475.1 862.5h0M477.5 865.6h0M482.9 869.0h0M483.0 869.3h0M478.3 864.8h0M466.7 847.0h0M447.8 830.6h0M471.5 857.0h0M453.1 821.6h0M472.5 863.3h0M460.4 831.5h0M483.6 884.6h0M459.0 823.5h0M485.3 879.3h0M478.3 859.7h0M487.6 883.1h0M474.8 853.7h0M476.1 859.3h0M490.4 886.6h0M499.7 888.2h0M505.7 887.7h0M501.8 888.3h0M488.3 887.5h0M506.5 888.8h0M491.4 888.7h0M491.1 888.9h0M502.0 886.7h0M503.5 886.5h0M497.1 887.1h0M505.7 888.1h0M494.4 887.4h0M500.9 887.6h0M512.2 888.2h0M506.7 887.1h0M499.3 888.5h0M498.3 887.2h0M498.4 887.2h0M491.5 887.3h0M491.5 887.5h0M506.2 888.4h0M491.3 887.3h0M496.3 888.8h0M504.8 888.0h0M506.2 888.9h0M527.1 864.6h0M517.0 879.8h0M532.5 851.2h0M518.8 880.0h0M516.5 879.8h0M511.4 889.5h0M519.3 874.1h0M510.9 886.1h0M529.8 858.6h0M526.2 860.2h0M523.5 870.0h0M522.7 869.9h0M510.8 886.4h0M523.9 872.5h0M528.1 857.6h0M532.0 850.6h0M515.3 881.7h0M529.3 858.6h0M518.8 878.9h0M509.3 888.2h0M524.2 870.7h0M512.8 884.9h0M537.2 878.4h0M532.5 872.8h0M518.3 851.1h0M531.1 865.0h0M470.2 856.2h0M422.2 807.6h0M475.8 873.9h0M452.7 825.4h0M467.7 850.9h0M455.9 846.9h0M464.5 846.7h0M441.4 820.8h0M424.5 803.5h0M447.2 817.6h0M451.0 834.0h0M447.6 822.8h0M442.3 795.8h0M475.3 868.4h0M435.0 796.8h0M466.6 846.8h0M433.1 808.1h0M465.3 846.3h0M430.1 805.5h0M421.8 796.2h0M421.5 807.4h0M460.0 841.2h0M461.8 863.0h0M469.1 877.9h0M470.2 856.0h0M448.7 821.4h0M480.4 875.3h0M450.1 838.9h0M414.2 801.9h0M440.7 820.5h0M449.5 796.8h0M453.6 792.8h0M457.8 756.3h0M446.9 795.4h0M465.5 768.9h0M455.6 799.7h0M445.4 782.4h0M462.9 781.2h0M538.1 825.7h0M549.4 820.1h0"/><path fill="none" stroke="#5b3f80" stroke-width="2.1" stroke-linecap="round" d="M473.4 855.3h0M461.6 831.5h0M480.7 871.1h0M467.0 854.6h0M488.4 883.7h0M489.2 882.6h0M474.7 859.8h0M488.2 886.0h0M442.3 821.3h0M481.8 866.2h0M454.5 831.8h0M479.9 864.4h0M452.6 830.0h0M466.3 843.3h0M471.1 857.0h0M489.5 888.5h0M438.7 815.6h0M459.0 825.1h0M446.5 823.3h0M462.4 839.3h0M462.7 840.7h0M472.4 858.1h0M485.1 872.3h0M456.1 833.7h0M487.8 885.8h0M484.8 871.6h0M480.3 869.5h0M480.1 872.2h0M480.2 886.7h0M484.8 880.5h0M466.9 849.6h0M512.3 888.4h0M493.4 888.7h0M508.1 888.2h0M490.0 888.0h0M503.9 888.4h0M508.1 888.7h0M504.7 888.7h0M512.6 888.5h0M490.1 887.4h0M493.7 888.3h0M518.3 876.7h0M524.2 868.1h0M508.7 888.2h0M511.6 886.3h0M517.3 879.9h0M519.8 876.2h0M513.2 882.7h0M525.3 862.0h0M517.8 879.7h0M521.3 870.9h0M517.6 877.6h0M530.8 856.0h0M510.7 888.0h0M518.4 876.3h0M516.6 883.5h0M511.9 885.3h0M509.9 886.8h0M524.5 866.1h0M514.6 880.9h0M514.9 885.2h0M514.5 883.2h0M510.2 888.3h0M524.3 864.3h0M524.3 871.2h0M512.6 887.1h0M511.7 888.4h0M525.7 870.9h0M511.3 885.7h0M528.8 854.9h0M517.2 880.6h0M517.8 880.1h0M521.0 872.1h0M517.9 880.3h0M525.4 864.2h0M538.1 865.4h0M533.1 879.2h0M516.5 872.2h0M447.8 822.9h0M458.9 845.5h0M441.4 813.1h0M447.5 816.8h0M439.8 821.5h0M445.6 826.2h0M443.0 838.5h0M423.0 806.6h0M453.0 779.8h0M441.4 760.3h0M451.0 771.4h0M449.7 771.9h0M559.7 816.3h0M566.1 874.1h0M542.4 849.5h0M544.6 860.2h0M578.1 810.5h0M542.0 843.1h0"/><path fill="none" stroke="#2f7a4e" stroke-width="2.1" stroke-linecap="round" d="M479.8 867.5h0M481.4 869.0h0M478.3 867.8h0M447.2 824.8h0M463.2 842.1h0M473.8 861.7h0M455.2 821.2h0M444.9 816.4h0M452.3 832.5h0M479.3 863.9h0M483.6 884.4h0M480.9 864.8h0M457.3 838.0h0M464.3 835.1h0M477.8 873.4h0M485.1 887.3h0M467.9 864.7h0M478.0 867.6h0M484.5 874.6h0M451.2 822.1h0M462.4 855.8h0M480.9 869.3h0M470.7 851.3h0M488.6 884.0h0M478.8 876.6h0M471.1 858.8h0M489.0 882.0h0M475.4 857.3h0M491.1 886.6h0M474.7 861.7h0M480.7 867.5h0M479.9 873.0h0M489.4 886.1h0M486.1 883.0h0M486.4 875.2h0M483.1 878.0h0M472.2 850.7h0M488.6 883.0h0M463.7 830.3h0M489.7 887.5h0M460.1 840.9h0M476.9 857.8h0M468.6 843.8h0M488.5 888.4h0M491.7 888.2h0M454.4 829.9h0M506.7 888.8h0M500.1 886.5h0M500.9 887.9h0M513.8 887.4h0M496.9 886.8h0M493.0 887.9h0M496.2 888.2h0M511.8 887.8h0M505.6 887.2h0M489.6 888.1h0M507.2 887.9h0M499.6 887.5h0M506.8 888.2h0M495.6 887.9h0M502.8 888.4h0M496.5 888.1h0M493.3 888.7h0M502.1 888.3h0M509.8 888.4h0M524.8 867.1h0M521.2 873.6h0M533.1 851.6h0M520.5 875.9h0M525.7 864.2h0M511.1 886.6h0M509.9 887.9h0M526.3 860.1h0M523.9 865.1h0M528.3 856.9h0M513.7 882.8h0M527.7 857.7h0M531.3 856.0h0M510.1 887.6h0M525.5 872.5h0M514.4 882.8h0M508.8 888.1h0M510.9 886.9h0M519.6 879.1h0M530.9 857.8h0M528.0 860.2h0M517.7 879.3h0M524.4 864.2h0M520.8 870.9h0M524.4 869.7h0M516.0 878.5h0M518.1 879.2h0M532.9 852.1h0M522.0 879.6h0M432.9 801.2h0M479.6 877.8h0M451.0 843.7h0M432.0 796.7h0M461.1 861.2h0M469.2 869.9h0M449.4 845.3h0M458.0 836.4h0M534.6 847.8h0"/><path fill="none" stroke="#d8952e" stroke-width="2.1" stroke-linecap="round" d="M481.3 867.2h0M449.0 831.3h0M489.3 887.4h0M471.9 850.2h0M478.1 866.8h0M467.9 842.7h0M465.6 836.9h0M475.3 859.2h0M480.2 868.0h0M478.2 872.7h0M452.5 824.2h0M491.2 888.0h0M479.8 875.1h0M455.2 820.6h0M486.7 876.8h0M480.9 867.2h0M488.4 885.1h0M488.2 882.2h0M486.2 878.8h0M463.0 848.0h0M470.8 845.5h0M503.6 887.2h0M509.2 888.6h0M506.4 888.7h0M506.0 888.7h0M493.4 888.8h0M498.3 887.3h0M508.4 888.4h0M500.0 888.1h0M511.4 887.7h0M519.1 875.7h0M512.1 888.4h0M524.2 866.5h0M520.8 870.7h0M514.8 880.7h0M512.0 886.9h0M531.0 853.2h0M515.6 883.7h0M515.8 880.2h0M520.8 873.5h0M514.8 881.5h0M522.5 876.8h0M511.6 887.7h0M519.8 878.3h0M524.1 870.3h0M513.2 890.2h0M529.0 856.6h0M522.6 869.4h0M533.8 874.5h0M516.0 851.7h0M517.9 848.9h0M535.4 864.9h0M528.7 867.9h0M434.0 843.6h0M446.0 821.0h0M450.9 829.3h0M469.9 867.0h0M443.5 795.3h0M449.1 837.2h0M470.2 874.7h0M469.5 783.6h0M466.1 760.9h0M452.4 762.8h0M455.2 792.5h0M567.8 855.7h0"/><rect x="364.90" y="733.40" width="14.70" height="4.40" fill="#e06b6a"/><text x="365.7" y="736.9" font-size="3.6" fill="#fff" fill-opacity="0.9" textLength="13.1" lengthAdjust="spacingAndGlyphs">406RP1</text><rect x="379.60" y="733.40" width="10.50" height="4.40" fill="#e06b6a"/><text x="380.4" y="736.9" font-size="3.6" fill="#fff" fill-opacity="0.9" textLength="8.9" lengthAdjust="spacingAndGlyphs">5AG7</text><rect x="390.10" y="733.40" width="16.90" height="4.40" fill="#aaa6d4"/><text x="390.9" y="736.9" font-size="3.6" fill="#fff" fill-opacity="0.9" textLength="15.3" lengthAdjust="spacingAndGlyphs">SCSMCR4</text><rect x="409.00" y="733.20" width="14.10" height="4.40" fill="#7fb58c"/><text x="409.8" y="736.7" font-size="3.6" fill="#fff" fill-opacity="0.9" textLength="12.5" lengthAdjust="spacingAndGlyphs">MMLPM</text><rect x="426.20" y="733.40" width="10.90" height="4.40" fill="#e06b6a"/><text x="427.0" y="736.9" font-size="3.6" fill="#fff" fill-opacity="0.9" textLength="9.3" lengthAdjust="spacingAndGlyphs">RBPK</text><rect x="441.50" y="733.40" width="13.50" height="4.40" fill="#aaa6d4"/><text x="442.3" y="736.9" font-size="3.6" fill="#fff" fill-opacity="0.9" textLength="11.9" lengthAdjust="spacingAndGlyphs">GBRDB</text><rect x="373.70" y="742.10" width="12.20" height="4.40" fill="#aaa6d4"/><text x="374.5" y="745.6" font-size="3.6" fill="#fff" fill-opacity="0.9" textLength="10.6" lengthAdjust="spacingAndGlyphs">6BTGA</text><rect x="390.10" y="742.10" width="12.80" height="4.40" fill="#e06b6a"/><text x="390.9" y="745.6" font-size="3.6" fill="#fff" fill-opacity="0.9" textLength="11.2" lengthAdjust="spacingAndGlyphs">LFHH3</text><rect x="407.00" y="742.10" width="11.70" height="4.40" fill="#aaa6d4"/><text x="407.8" y="745.6" font-size="3.6" fill="#fff" fill-opacity="0.9" textLength="10.1" lengthAdjust="spacingAndGlyphs">SDR3</text><rect x="433.60" y="742.10" width="16.10" height="4.40" fill="#aaa6d4"/><text x="434.4" y="745.6" font-size="3.6" fill="#fff" fill-opacity="0.9" textLength="14.5" lengthAdjust="spacingAndGlyphs">VG9L9N</text><rect x="453.20" y="742.10" width="17.50" height="4.40" fill="#e06b6a"/><text x="454.0" y="745.6" font-size="3.6" fill="#fff" fill-opacity="0.9" textLength="15.9" lengthAdjust="spacingAndGlyphs">RG97NHK</text><rect x="416.40" y="748.80" width="12.30" height="4.40" fill="#d8952e"/><text x="417.2" y="752.3" font-size="3.6" fill="#fff" fill-opacity="0.9" textLength="10.7" lengthAdjust="spacingAndGlyphs">TFB3K</text><rect x="455.50" y="750.50" width="20.50" height="4.40" fill="#d8952e"/><text x="456.3" y="754.0" font-size="3.6" fill="#fff" fill-opacity="0.9" textLength="18.9" lengthAdjust="spacingAndGlyphs">PKC60955</text><rect x="388.90" y="753.20" width="8.20" height="4.40" fill="#aaa6d4"/><text x="389.7" y="756.7" font-size="3.6" fill="#fff" fill-opacity="0.9" textLength="6.6" lengthAdjust="spacingAndGlyphs">0F7</text><rect x="442.70" y="753.20" width="11.90" height="4.40" fill="#d8952e"/><text x="443.5" y="756.7" font-size="3.6" fill="#fff" fill-opacity="0.9" textLength="10.3" lengthAdjust="spacingAndGlyphs">R30B</text><rect x="427.40" y="756.10" width="10.00" height="4.40" fill="#aaa6d4"/><text x="428.2" y="759.6" font-size="3.6" fill="#fff" fill-opacity="0.9" textLength="8.4" lengthAdjust="spacingAndGlyphs">308C</text><rect x="403.40" y="757.00" width="11.30" height="4.40" fill="#e06b6a"/><text x="404.2" y="760.5" font-size="3.6" fill="#fff" fill-opacity="0.9" textLength="9.7" lengthAdjust="spacingAndGlyphs">TFT5</text><rect x="459.00" y="759.00" width="17.00" height="4.40" fill="#aaa6d4"/><text x="459.8" y="762.5" font-size="3.6" fill="#fff" fill-opacity="0.9" textLength="15.4" lengthAdjust="spacingAndGlyphs">E3AAD1B</text><rect x="442.30" y="761.90" width="15.50" height="4.40" fill="#d8952e"/><text x="443.1" y="765.4" font-size="3.6" fill="#fff" fill-opacity="0.9" textLength="13.9" lengthAdjust="spacingAndGlyphs">757AE3</text><rect x="387.20" y="765.40" width="19.80" height="4.40" fill="#aaa6d4"/><text x="388.0" y="768.9" font-size="3.6" fill="#fff" fill-opacity="0.9" textLength="18.2" lengthAdjust="spacingAndGlyphs">522D78DC</text><rect x="418.70" y="765.40" width="6.10" height="4.40" fill="#aaa6d4"/><text x="419.5" y="768.9" font-size="3.6" fill="#fff" fill-opacity="0.9" textLength="4.5" lengthAdjust="spacingAndGlyphs">01K</text><rect x="462.00" y="769.80" width="13.60" height="4.40" fill="#aaa6d4"/><text x="462.8" y="773.3" font-size="3.6" fill="#fff" fill-opacity="0.9" textLength="12.0" lengthAdjust="spacingAndGlyphs">89KP3</text><rect x="390.10" y="774.20" width="13.70" height="4.40" fill="#aaa6d4"/><text x="390.9" y="777.7" font-size="3.6" fill="#fff" fill-opacity="0.9" textLength="12.1" lengthAdjust="spacingAndGlyphs">1FPAB</text><rect x="424.80" y="772.00" width="12.60" height="4.40" fill="#aaa6d4"/><text x="425.6" y="775.5" font-size="3.6" fill="#fff" fill-opacity="0.9" textLength="11.0" lengthAdjust="spacingAndGlyphs">TDBNP</text><rect x="407.70" y="778.20" width="10.10" height="4.40" fill="#5b3f80"/><text x="408.5" y="781.7" font-size="3.6" fill="#fff" fill-opacity="0.9" textLength="8.5" lengthAdjust="spacingAndGlyphs">04AH</text><rect x="435.00" y="778.20" width="13.50" height="4.40" fill="#e06b6a"/><text x="435.8" y="781.7" font-size="3.6" fill="#fff" fill-opacity="0.9" textLength="11.9" lengthAdjust="spacingAndGlyphs">F9K2N</text><rect x="449.70" y="778.20" width="10.20" height="4.40" fill="#aaa6d4"/><text x="450.5" y="781.7" font-size="3.6" fill="#fff" fill-opacity="0.9" textLength="8.6" lengthAdjust="spacingAndGlyphs">MSDV</text><rect x="464.20" y="778.20" width="11.80" height="4.40" fill="#aaa6d4"/><text x="465.0" y="781.7" font-size="3.6" fill="#fff" fill-opacity="0.9" textLength="10.2" lengthAdjust="spacingAndGlyphs">E5SS</text><rect x="384.20" y="783.00" width="15.80" height="4.40" fill="#7a7a7a"/><text x="385.0" y="786.5" font-size="3.6" fill="#fff" fill-opacity="0.9" textLength="14.2" lengthAdjust="spacingAndGlyphs">MGKTHT</text><rect x="404.20" y="787.00" width="15.70" height="4.40" fill="#aaa6d4"/><text x="405.0" y="790.5" font-size="3.6" fill="#fff" fill-opacity="0.9" textLength="14.1" lengthAdjust="spacingAndGlyphs">H268LS</text><rect x="425.20" y="787.00" width="11.00" height="4.40" fill="#aaa6d4"/><text x="426.0" y="790.5" font-size="3.6" fill="#fff" fill-opacity="0.9" textLength="9.4" lengthAdjust="spacingAndGlyphs">4RM9</text><rect x="453.20" y="787.00" width="12.30" height="4.40" fill="#d8952e"/><text x="454.0" y="790.5" font-size="3.6" fill="#fff" fill-opacity="0.9" textLength="10.7" lengthAdjust="spacingAndGlyphs">GFTK3</text><rect x="411.20" y="795.80" width="13.50" height="4.40" fill="#e06b6a"/><text x="412.0" y="799.3" font-size="3.6" fill="#fff" fill-opacity="0.9" textLength="11.9" lengthAdjust="spacingAndGlyphs">V90NK</text><rect x="441.50" y="795.80" width="10.80" height="4.40" fill="#7fb58c"/><text x="442.3" y="799.3" font-size="3.6" fill="#fff" fill-opacity="0.9" textLength="9.2" lengthAdjust="spacingAndGlyphs">6KNE</text><rect x="465.50" y="795.80" width="10.50" height="4.40" fill="#d8952e"/><text x="466.3" y="799.3" font-size="3.6" fill="#fff" fill-opacity="0.9" textLength="8.9" lengthAdjust="spacingAndGlyphs">5FF1</text><rect x="410.30" y="804.50" width="14.40" height="4.40" fill="#e06b6a"/><text x="411.1" y="808.0" font-size="3.6" fill="#fff" fill-opacity="0.9" textLength="12.8" lengthAdjust="spacingAndGlyphs">TK92RS</text><rect x="429.20" y="804.50" width="13.00" height="4.40" fill="#d8952e"/><text x="430.0" y="808.0" font-size="3.6" fill="#fff" fill-opacity="0.9" textLength="11.4" lengthAdjust="spacingAndGlyphs">8CRCL</text><rect x="457.10" y="804.50" width="11.90" height="4.40" fill="#aaa6d4"/><text x="457.9" y="808.0" font-size="3.6" fill="#fff" fill-opacity="0.9" textLength="10.3" lengthAdjust="spacingAndGlyphs">26D8</text><rect x="417.00" y="813.30" width="19.60" height="4.40" fill="#e06b6a"/><text x="417.8" y="816.8" font-size="3.6" fill="#fff" fill-opacity="0.9" textLength="18.0" lengthAdjust="spacingAndGlyphs">7GCB3090</text><rect x="410.30" y="823.40" width="12.30" height="4.40" fill="#aaa6d4"/><text x="411.1" y="826.9" font-size="3.6" fill="#fff" fill-opacity="0.9" textLength="10.7" lengthAdjust="spacingAndGlyphs">82RCM</text><rect x="421.20" y="840.40" width="11.50" height="4.40" fill="#aaa6d4"/><text x="422.0" y="843.9" font-size="3.6" fill="#fff" fill-opacity="0.9" textLength="9.9" lengthAdjust="spacingAndGlyphs">E4TB</text><rect x="429.20" y="849.20" width="11.20" height="4.40" fill="#e06b6a"/><text x="430.0" y="852.7" font-size="3.6" fill="#fff" fill-opacity="0.9" textLength="9.6" lengthAdjust="spacingAndGlyphs">MM2T</text><rect x="445.00" y="854.50" width="13.00" height="4.40" fill="#e06b6a"/><text x="445.8" y="858.0" font-size="3.6" fill="#fff" fill-opacity="0.9" textLength="11.4" lengthAdjust="spacingAndGlyphs">453CV</text><rect x="428.70" y="866.20" width="15.80" height="4.40" fill="#e06b6a"/><text x="429.5" y="869.7" font-size="3.6" fill="#fff" fill-opacity="0.9" textLength="14.2" lengthAdjust="spacingAndGlyphs">GEPTVE</text><rect x="458.10" y="880.20" width="14.40" height="4.40" fill="#e06b6a"/><text x="458.9" y="883.7" font-size="3.6" fill="#fff" fill-opacity="0.9" textLength="12.8" lengthAdjust="spacingAndGlyphs">H9RGLR</text><rect x="556.40" y="733.50" width="21.30" height="4.40" fill="#7fb58c"/><text x="557.2" y="737.0" font-size="3.6" fill="#fff" fill-opacity="0.9" textLength="19.7" lengthAdjust="spacingAndGlyphs">TM7F22N3P</text><rect x="571.20" y="760.20" width="12.80" height="4.40" fill="#5b3f80"/><text x="572.0" y="763.7" font-size="3.6" fill="#fff" fill-opacity="0.9" textLength="11.2" lengthAdjust="spacingAndGlyphs">HANF9</text><rect x="544.80" y="773.70" width="22.30" height="4.40" fill="#7fb58c"/><text x="545.6" y="777.2" font-size="3.6" fill="#fff" fill-opacity="0.9" textLength="20.7" lengthAdjust="spacingAndGlyphs">EER69HFFM</text><rect x="534.10" y="795.80" width="20.50" height="4.40" fill="#7fb58c"/><text x="534.9" y="799.3" font-size="3.6" fill="#fff" fill-opacity="0.9" textLength="18.9" lengthAdjust="spacingAndGlyphs">N9MTF3B8</text><rect x="543.00" y="805.20" width="21.40" height="4.40" fill="#7fb58c"/><text x="543.8" y="808.7" font-size="3.6" fill="#fff" fill-opacity="0.9" textLength="19.8" lengthAdjust="spacingAndGlyphs">RN31G9M6L</text><rect x="568.80" y="808.70" width="14.80" height="4.40" fill="#5b3f80"/><text x="569.6" y="812.2" font-size="3.6" fill="#fff" fill-opacity="0.9" textLength="13.2" lengthAdjust="spacingAndGlyphs">3B81R8</text><rect x="530.60" y="813.50" width="21.00" height="4.40" fill="#7a7a7a"/><text x="531.4" y="817.0" font-size="3.6" fill="#fff" fill-opacity="0.9" textLength="19.4" lengthAdjust="spacingAndGlyphs">BC3CK4M98</text><rect x="556.40" y="817.30" width="10.30" height="4.40" fill="#e06b6a"/><text x="557.2" y="820.8" font-size="3.6" fill="#fff" fill-opacity="0.9" textLength="8.7" lengthAdjust="spacingAndGlyphs">VDBS</text><rect x="551.60" y="826.50" width="16.00" height="4.40" fill="#5b3f80"/><text x="552.4" y="830.0" font-size="3.6" fill="#fff" fill-opacity="0.9" textLength="14.4" lengthAdjust="spacingAndGlyphs">SB56B2</text><rect x="532.40" y="827.80" width="13.30" height="4.40" fill="#7fb58c"/><text x="533.2" y="831.3" font-size="3.6" fill="#fff" fill-opacity="0.9" textLength="11.7" lengthAdjust="spacingAndGlyphs">1R05S</text><rect x="530.20" y="836.30" width="12.50" height="4.40" fill="#5b3f80"/><text x="531.0" y="839.8" font-size="3.6" fill="#fff" fill-opacity="0.9" textLength="10.9" lengthAdjust="spacingAndGlyphs">6BTKE</text><rect x="551.90" y="834.90" width="13.90" height="4.40" fill="#5b3f80"/><text x="552.7" y="838.4" font-size="3.6" fill="#fff" fill-opacity="0.9" textLength="12.3" lengthAdjust="spacingAndGlyphs">5PKM7</text><rect x="547.00" y="844.90" width="12.40" height="4.40" fill="#7a7a7a"/><text x="547.8" y="848.4" font-size="3.6" fill="#fff" fill-opacity="0.9" textLength="10.8" lengthAdjust="spacingAndGlyphs">3LVG4</text><rect x="564.00" y="843.80" width="13.70" height="4.40" fill="#5b3f80"/><text x="564.8" y="847.3" font-size="3.6" fill="#fff" fill-opacity="0.9" textLength="12.1" lengthAdjust="spacingAndGlyphs">8K6KC</text><rect x="570.10" y="852.30" width="12.40" height="4.40" fill="#7fb58c"/><text x="570.9" y="855.8" font-size="3.6" fill="#fff" fill-opacity="0.9" textLength="10.8" lengthAdjust="spacingAndGlyphs">8KL81</text><rect x="554.60" y="860.90" width="19.60" height="4.40" fill="#7fb58c"/><text x="555.4" y="864.4" font-size="3.6" fill="#fff" fill-opacity="0.9" textLength="18.0" lengthAdjust="spacingAndGlyphs">F1SS24L5</text><rect x="546.20" y="868.00" width="17.80" height="4.40" fill="#5b3f80"/><text x="547.0" y="871.5" font-size="3.6" fill="#fff" fill-opacity="0.9" textLength="16.2" lengthAdjust="spacingAndGlyphs">247R5C3</text><rect x="538.60" y="875.10" width="13.70" height="4.40" fill="#e06b6a"/><text x="539.4" y="878.6" font-size="3.6" fill="#fff" fill-opacity="0.9" textLength="12.1" lengthAdjust="spacingAndGlyphs">7K39R</text><rect x="530.60" y="882.20" width="11.00" height="4.40" fill="#d8952e"/><text x="531.4" y="885.7" font-size="3.6" fill="#fff" fill-opacity="0.9" textLength="9.4" lengthAdjust="spacingAndGlyphs">N76T</text><line x1="470.00" y1="746.00" x2="480.00" y2="752.00" stroke="#555" stroke-width="0.4"/><line x1="454.00" y1="760.00" x2="448.00" y2="768.00" stroke="#555" stroke-width="0.4"/><line x1="415.00" y1="781.00" x2="440.00" y2="779.00" stroke="#555" stroke-width="0.4"/><line x1="420.00" y1="789.00" x2="448.00" y2="787.00" stroke="#555" stroke-width="0.4"/><line x1="400.00" y1="798.00" x2="410.00" y2="790.00" stroke="#555" stroke-width="0.4"/><line x1="440.00" y1="806.00" x2="452.00" y2="800.00" stroke="#555" stroke-width="0.4"/><line x1="430.00" y1="852.00" x2="432.00" y2="845.00" stroke="#555" stroke-width="0.4"/><line x1="541.00" y1="820.00" x2="550.00" y2="818.00" stroke="#555" stroke-width="0.4"/><line x1="552.00" y1="838.00" x2="560.00" y2="840.00" stroke="#555" stroke-width="0.4"/><line x1="520.00" y1="858.00" x2="556.00" y2="862.00" stroke="#555" stroke-width="0.4"/><line x1="528.00" y1="872.00" x2="548.00" y2="870.00" stroke="#555" stroke-width="0.4"/><line x1="560.00" y1="855.00" x2="566.00" y2="845.00" stroke="#555" stroke-width="0.4"/><circle cx="438.00" cy="761.00" r="0.90" fill="#d8952e"/><circle cx="410.00" cy="760.00" r="0.90" fill="#e06b6a"/><circle cx="430.00" cy="766.00" r="0.90" fill="#aaa6d4"/><circle cx="418.00" cy="770.00" r="0.90" fill="#5b3f80"/><circle cx="470.00" cy="755.00" r="0.90" fill="#e06b6a"/><circle cx="446.00" cy="771.00" r="0.90" fill="#d8952e"/><circle cx="470.00" cy="780.00" r="0.90" fill="#d8952e"/><circle cx="455.00" cy="790.00" r="0.90" fill="#d8952e"/><circle cx="428.00" cy="790.00" r="0.90" fill="#aaa6d4"/><circle cx="452.00" cy="805.00" r="0.90" fill="#e06b6a"/><circle cx="436.00" cy="808.00" r="0.90" fill="#7fb58c"/><circle cx="420.00" cy="795.00" r="0.90" fill="#e06b6a"/><circle cx="432.00" cy="841.00" r="0.90" fill="#aaa6d4"/><circle cx="576.00" cy="767.00" r="0.90" fill="#5b3f80"/><circle cx="566.00" cy="771.00" r="0.90" fill="#7fb58c"/><circle cx="550.00" cy="785.00" r="0.90" fill="#7fb58c"/><circle cx="575.00" cy="810.00" r="0.90" fill="#5b3f80"/><circle cx="556.00" cy="824.00" r="0.90" fill="#e06b6a"/><circle cx="560.00" cy="832.00" r="0.90" fill="#5b3f80"/><circle cx="546.00" cy="842.00" r="0.90" fill="#5b3f80"/><circle cx="575.00" cy="842.00" r="0.90" fill="#5b3f80"/><circle cx="562.00" cy="858.00" r="0.90" fill="#7fb58c"/><circle cx="548.00" cy="873.00" r="0.90" fill="#e06b6a"/><text x="359.7" y="726.5" font-size="7.6" fill="#222" textLength="72.3" lengthAdjust="spacingAndGlyphs">C9-ALS versus sALS</text><text transform="translate(338.2 813.7) rotate(-90)" font-size="7.4" fill="#333" text-anchor="middle">−log<tspan font-size="5" dy="1.8">10</tspan><tspan dy="-1.8"> </tspan><tspan font-style="italic">P</tspan> value adjusted</text><text x="474.2" y="918.0" font-size="7.6" fill="#333" text-anchor="middle">Avg_log<tspan font-size="5" dy="1.8">2</tspan><tspan dy="-1.8">FC</tspan></text><text x="591.5" y="789.5" font-size="8.1" text-anchor="start" fill="#333">AS subcluster</text><circle cx="595.40" cy="797.10" r="1.50" fill="#d8952e"/><text x="601.0" y="799.9" font-size="7.8" text-anchor="start" fill="#333">AS1</text><circle cx="595.40" cy="805.10" r="1.50" fill="#e06b6a"/><text x="601.0" y="807.9" font-size="7.8" text-anchor="start" fill="#333">AS2</text><circle cx="595.40" cy="813.50" r="1.50" fill="#aaa6d4"/><text x="601.0" y="816.3" font-size="7.8" text-anchor="start" fill="#333">AS3</text><circle cx="595.40" cy="821.50" r="1.50" fill="#5b3f80"/><text x="601.0" y="824.3" font-size="7.8" text-anchor="start" fill="#333">AS4</text><circle cx="595.40" cy="829.80" r="1.50" fill="#7fb58c"/><text x="601.0" y="832.6" font-size="7.8" text-anchor="start" fill="#333">AS5</text><circle cx="595.40" cy="838.10" r="1.50" fill="#2f7a4e"/><text x="601.0" y="840.9" font-size="7.8" text-anchor="start" fill="#333">AS6</text><text x="-0.3" y="11" font-size="13" font-weight="bold" fill="#111" stroke="#111" stroke-width="0.45">a</text><text x="334.2" y="10.8" font-size="13" font-weight="bold" fill="#111" stroke="#111" stroke-width="0.45">b</text><text x="-0.2" y="196.3" font-size="13" font-weight="bold" fill="#111" stroke="#111" stroke-width="0.45">c</text><text x="-0.5" y="370" font-size="13" font-weight="bold" fill="#111" stroke="#111" stroke-width="0.45">d</text><text x="256.7" y="370.2" font-size="13" font-weight="bold" fill="#111" stroke="#111" stroke-width="0.45">e</text><text x="-0.3" y="544.6" font-size="13" font-weight="bold" fill="#111" stroke="#111" stroke-width="0.45">f</text><text x="122.4" y="545" font-size="13" font-weight="bold" fill="#111" stroke="#111" stroke-width="0.45">g</text><text x="489.9" y="370" font-size="13" font-weight="bold" fill="#111" stroke="#111" stroke-width="0.45">h</text><text x="490.0" y="544.5" font-size="13" font-weight="bold" fill="#111" stroke="#111" stroke-width="0.45">i</text><text x="0.8" y="725.9" font-size="13" font-weight="bold" fill="#111" stroke="#111" stroke-width="0.45">j</text><text x="331.2" y="726.6" font-size="13" font-weight="bold" fill="#111" stroke="#111" stroke-width="0.45">k</text></svg>
</body></html>
